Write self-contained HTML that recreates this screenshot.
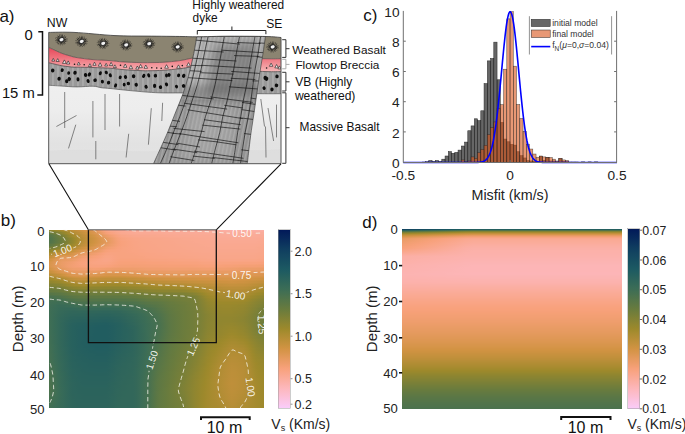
<!DOCTYPE html><html><head><meta charset="utf-8"><style>html,body{margin:0;padding:0;background:#fff;}body{width:685px;height:434px;overflow:hidden;position:relative;font-family:"Liberation Sans", sans-serif;}</style></head><body><div style="position:absolute;left:49.2px;top:229.5px;width:214.8px;height:179px;overflow:hidden"><div style="height:1.49px;background:linear-gradient(90deg,#8d8531 0.0px,#92862f 3.0px,#99882c 6.0px,#a08a2c 9.0px,#a78b2f 12.0px,#ad8c32 15.0px,#b38d35 18.0px,#ba8e38 21.0px,#bf8f3b 24.0px,#c4903d 27.0px,#c9913f 30.0px,#cf9242 33.0px,#d49446 36.0px,#d9964d 39.0px,#de9754 42.0px,#e3995b 45.0px,#e99c66 48.0px,#f19f71 51.0px,#f8a27d 54.0px,#f9a68a 57.0px,#faa890 60.0px,#faa992 63.0px,#faaa94 66.0px,#faaa97 69.0px,#faab98 72.0px,#faab9a 75.0px,#faac9b 78.0px,#fbac9c 81.0px,#fbac9d 84.0px,#fbad9e 87.0px,#fbad9d 90.0px,#fbad9d 93.0px,#fbad9d 96.0px,#fbad9d 99.0px,#fbad9d 102.0px,#fbad9d 105.0px,#fbad9d 108.0px,#fbad9d 111.0px,#fbad9e 114.0px,#fbad9e 117.0px,#fbad9e 120.0px,#fbad9e 123.0px,#fbad9e 126.0px,#fbad9e 129.0px,#fbad9e 132.0px,#fbad9e 135.0px,#fbad9e 138.0px,#fbad9e 141.0px,#fbad9e 144.0px,#fbad9e 147.0px,#fbad9f 150.0px,#fbad9f 153.0px,#fbada0 156.0px,#fbaea0 159.0px,#fbaea1 162.0px,#fbaea2 165.0px,#fbaea2 168.0px,#fbafa3 171.0px,#fbafa4 174.0px,#fbafa4 177.0px,#fbafa5 180.0px,#fbafa5 183.0px,#fbafa5 186.0px,#fbafa5 189.0px,#fbafa5 192.0px,#fbafa5 195.0px,#fbafa5 198.0px,#fbafa5 201.0px,#fbafa5 204.0px,#fbafa5 207.0px,#fbafa5 210.0px,#fbafa5 213.0px,#fbafa5 214.8px)"></div><div style="height:1.49px;background:linear-gradient(90deg,#777f39 0.0px,#7e8136 3.0px,#878333 6.0px,#8f8530 9.0px,#98882d 12.0px,#a18a2d 15.0px,#a98b31 18.0px,#b28d34 21.0px,#b98e38 24.0px,#be8f3a 27.0px,#c4903d 30.0px,#ca913f 33.0px,#d09342 36.0px,#d59447 39.0px,#d9964e 42.0px,#de9755 45.0px,#e59a5f 48.0px,#ec9d6a 51.0px,#f49f75 54.0px,#f8a380 57.0px,#f9a587 60.0px,#f9a68a 63.0px,#f9a78e 66.0px,#faa991 69.0px,#faa994 72.0px,#faaa95 75.0px,#faaa96 78.0px,#faab97 81.0px,#faab98 84.0px,#faab99 87.0px,#faab99 90.0px,#faab99 93.0px,#faab99 96.0px,#faab98 99.0px,#faab98 102.0px,#faab98 105.0px,#faab98 108.0px,#faab99 111.0px,#faab99 114.0px,#faab9a 117.0px,#faab9a 120.0px,#faac9a 123.0px,#faac9a 126.0px,#faac9a 129.0px,#faac9a 132.0px,#faac9a 135.0px,#faac9a 138.0px,#faac9a 141.0px,#faac9a 144.0px,#faac9a 147.0px,#faac9b 150.0px,#faac9b 153.0px,#faac9b 156.0px,#faac9b 159.0px,#fbac9c 162.0px,#fbac9d 165.0px,#fbad9d 168.0px,#fbad9e 171.0px,#fbad9f 174.0px,#fbad9f 177.0px,#fbada0 180.0px,#fbaea0 183.0px,#fbaea0 186.0px,#fbaea0 189.0px,#fbaea0 192.0px,#fbaea0 195.0px,#fbaea0 198.0px,#fbaea0 201.0px,#fbada0 204.0px,#fbada0 207.0px,#fbada0 210.0px,#fbada0 213.0px,#fbada0 214.8px)"></div><div style="height:1.49px;background:linear-gradient(90deg,#667a3f 0.0px,#6c7c3c 3.0px,#767f39 6.0px,#808136 9.0px,#8a8432 12.0px,#94872e 15.0px,#9f892c 18.0px,#a98b30 21.0px,#b28d34 24.0px,#b88e37 27.0px,#be8f3a 30.0px,#c4903d 33.0px,#ca923f 36.0px,#d09342 39.0px,#d59448 42.0px,#da964f 45.0px,#e09858 48.0px,#e79b62 51.0px,#ee9d6d 54.0px,#f5a077 57.0px,#f8a27d 60.0px,#f9a382 63.0px,#f9a587 66.0px,#f9a78b 69.0px,#faa88f 72.0px,#faa890 75.0px,#faa991 78.0px,#faa993 81.0px,#faa994 84.0px,#faaa94 87.0px,#faaa94 90.0px,#faaa94 93.0px,#faa994 96.0px,#faa994 99.0px,#faa994 102.0px,#faa994 105.0px,#faa994 108.0px,#faaa94 111.0px,#faaa95 114.0px,#faaa95 117.0px,#faaa96 120.0px,#faaa96 123.0px,#faaa96 126.0px,#faaa96 129.0px,#faaa96 132.0px,#faaa96 135.0px,#faaa97 138.0px,#faaa97 141.0px,#faaa97 144.0px,#faaa97 147.0px,#faaa97 150.0px,#faaa97 153.0px,#faaa97 156.0px,#faab97 159.0px,#faab98 162.0px,#faab99 165.0px,#faab99 168.0px,#faab9a 171.0px,#faac9a 174.0px,#faac9b 177.0px,#fbac9c 180.0px,#fbac9c 183.0px,#fbac9c 186.0px,#fbac9c 189.0px,#fbac9c 192.0px,#fbac9c 195.0px,#fbac9c 198.0px,#fbac9c 201.0px,#fbac9c 204.0px,#faac9b 207.0px,#faac9b 210.0px,#faac9b 213.0px,#faac9b 214.8px)"></div><div style="height:1.49px;background:linear-gradient(90deg,#5b7745 0.0px,#617942 3.0px,#697b3e 6.0px,#737e3a 9.0px,#7d8136 12.0px,#898432 15.0px,#95872e 18.0px,#a18a2d 21.0px,#aa8c31 24.0px,#b28d34 27.0px,#b88e37 30.0px,#bf8f3b 33.0px,#c6913d 36.0px,#cc9240 39.0px,#d29343 42.0px,#d6954a 45.0px,#dc9752 48.0px,#e3995c 51.0px,#ea9c66 54.0px,#f09e6f 57.0px,#f4a076 60.0px,#f8a17b 63.0px,#f8a380 66.0px,#f9a586 69.0px,#f9a68a 72.0px,#f9a78c 75.0px,#f9a78d 78.0px,#faa88f 81.0px,#faa890 84.0px,#faa891 87.0px,#faa891 90.0px,#faa891 93.0px,#faa891 96.0px,#faa891 99.0px,#faa891 102.0px,#faa891 105.0px,#faa891 108.0px,#faa991 111.0px,#faa992 114.0px,#faa993 117.0px,#faa993 120.0px,#faa993 123.0px,#faa994 126.0px,#faa994 129.0px,#faa994 132.0px,#faa994 135.0px,#faa994 138.0px,#faaa94 141.0px,#faaa94 144.0px,#faaa94 147.0px,#faaa94 150.0px,#faaa95 153.0px,#faaa95 156.0px,#faaa95 159.0px,#faaa95 162.0px,#faaa96 165.0px,#faaa97 168.0px,#faab98 171.0px,#faab98 174.0px,#faab98 177.0px,#faab99 180.0px,#faab99 183.0px,#faab99 186.0px,#faab99 189.0px,#faab99 192.0px,#faab99 195.0px,#faab99 198.0px,#faab99 201.0px,#faab99 204.0px,#faab99 207.0px,#faab99 210.0px,#faab98 213.0px,#faab98 214.8px)"></div><div style="height:1.49px;background:linear-gradient(90deg,#547549 0.0px,#5a7646 3.0px,#617942 6.0px,#697b3e 9.0px,#747e3a 12.0px,#808135 15.0px,#8c8531 18.0px,#98882d 21.0px,#a38a2e 24.0px,#ac8c32 27.0px,#b48d35 30.0px,#bc8f39 33.0px,#c2903c 36.0px,#c8913e 39.0px,#ce9241 42.0px,#d39445 45.0px,#d9964d 48.0px,#df9856 51.0px,#e59a5f 54.0px,#eb9c68 57.0px,#f09e6f 60.0px,#f49f75 63.0px,#f8a17b 66.0px,#f8a381 69.0px,#f9a586 72.0px,#f9a588 75.0px,#f9a689 78.0px,#f9a68b 81.0px,#f9a78d 84.0px,#f9a78e 87.0px,#f9a78e 90.0px,#f9a78e 93.0px,#f9a78e 96.0px,#f9a78e 99.0px,#f9a88e 102.0px,#f9a88e 105.0px,#faa88f 108.0px,#faa88f 111.0px,#faa890 114.0px,#faa890 117.0px,#faa891 120.0px,#faa891 123.0px,#faa991 126.0px,#faa992 129.0px,#faa992 132.0px,#faa992 135.0px,#faa992 138.0px,#faa992 141.0px,#faa993 144.0px,#faa993 147.0px,#faa993 150.0px,#faa993 153.0px,#faa993 156.0px,#faa993 159.0px,#faaa94 162.0px,#faaa95 165.0px,#faaa96 168.0px,#faaa96 171.0px,#faaa97 174.0px,#faaa97 177.0px,#faab97 180.0px,#faab98 183.0px,#faab98 186.0px,#faab98 189.0px,#faab98 192.0px,#faab98 195.0px,#faab98 198.0px,#faab97 201.0px,#faab97 204.0px,#faab97 207.0px,#faaa97 210.0px,#faaa96 213.0px,#faaa96 214.8px)"></div><div style="height:1.49px;background:linear-gradient(90deg,#51744b 0.0px,#567548 3.0px,#5e7844 6.0px,#657a40 9.0px,#6e7d3c 12.0px,#7a8038 15.0px,#858333 18.0px,#91862f 21.0px,#9c892b 24.0px,#a68b2f 27.0px,#b08d33 30.0px,#b98e38 33.0px,#bf8f3a 36.0px,#c5913d 39.0px,#cb9240 42.0px,#d19342 45.0px,#d69549 48.0px,#dc9752 51.0px,#e2995a 54.0px,#e79b62 57.0px,#ec9d69 60.0px,#f09e70 63.0px,#f5a076 66.0px,#f8a27d 69.0px,#f9a382 72.0px,#f9a484 75.0px,#f9a586 78.0px,#f9a587 81.0px,#f9a689 84.0px,#f9a68a 87.0px,#f9a68b 90.0px,#f9a68b 93.0px,#f9a78b 96.0px,#f9a78c 99.0px,#f9a78c 102.0px,#f9a78c 105.0px,#f9a78d 108.0px,#f9a78d 111.0px,#f9a78d 114.0px,#f9a78e 117.0px,#f9a88e 120.0px,#faa88f 123.0px,#faa88f 126.0px,#faa890 129.0px,#faa890 132.0px,#faa890 135.0px,#faa891 138.0px,#faa891 141.0px,#faa891 144.0px,#faa991 147.0px,#faa992 150.0px,#faa992 153.0px,#faa992 156.0px,#faa992 159.0px,#faa993 162.0px,#faa994 165.0px,#faaa94 168.0px,#faaa95 171.0px,#faaa95 174.0px,#faaa95 177.0px,#faaa96 180.0px,#faaa96 183.0px,#faaa96 186.0px,#faaa96 189.0px,#faaa96 192.0px,#faaa96 195.0px,#faaa96 198.0px,#faaa96 201.0px,#faaa96 204.0px,#faaa96 207.0px,#faaa95 210.0px,#faaa94 213.0px,#faa994 214.8px)"></div><div style="height:1.49px;background:linear-gradient(90deg,#4f734c 0.0px,#547549 3.0px,#5c7745 6.0px,#637941 9.0px,#6b7c3d 12.0px,#767f39 15.0px,#808135 18.0px,#8b8431 21.0px,#96872e 24.0px,#a18a2d 27.0px,#ac8c32 30.0px,#b68e36 33.0px,#bd8f3a 36.0px,#c3903c 39.0px,#c9913f 42.0px,#cf9242 45.0px,#d59447 48.0px,#da964f 51.0px,#df9856 54.0px,#e49a5e 57.0px,#e99b65 60.0px,#ee9d6c 63.0px,#f39f73 66.0px,#f7a17a 69.0px,#f8a27f 72.0px,#f8a381 75.0px,#f9a483 78.0px,#f9a485 81.0px,#f9a586 84.0px,#f9a588 87.0px,#f9a588 90.0px,#f9a689 93.0px,#f9a689 96.0px,#f9a68a 99.0px,#f9a68a 102.0px,#f9a68a 105.0px,#f9a68b 108.0px,#f9a68b 111.0px,#f9a78b 114.0px,#f9a78c 117.0px,#f9a78c 120.0px,#f9a78d 123.0px,#f9a78d 126.0px,#f9a78e 129.0px,#f9a88e 132.0px,#faa88f 135.0px,#faa88f 138.0px,#faa88f 141.0px,#faa890 144.0px,#faa890 147.0px,#faa890 150.0px,#faa891 153.0px,#faa891 156.0px,#faa991 159.0px,#faa992 162.0px,#faa993 165.0px,#faa993 168.0px,#faa994 171.0px,#faa994 174.0px,#faa994 177.0px,#faaa94 180.0px,#faaa94 183.0px,#faaa94 186.0px,#faaa94 189.0px,#faaa94 192.0px,#faaa94 195.0px,#faaa94 198.0px,#faaa94 201.0px,#faaa94 204.0px,#faa994 207.0px,#faa993 210.0px,#faa992 213.0px,#faa992 214.8px)"></div><div style="height:1.49px;background:linear-gradient(90deg,#4e734c 0.0px,#537449 3.0px,#5b7745 6.0px,#627941 9.0px,#6a7b3d 12.0px,#747e3a 15.0px,#7e8136 18.0px,#888333 21.0px,#93862f 24.0px,#9f892c 27.0px,#ab8c31 30.0px,#b68e36 33.0px,#bd8f39 36.0px,#c3903c 39.0px,#c9913f 42.0px,#cf9242 45.0px,#d49447 48.0px,#d9964d 51.0px,#de9754 54.0px,#e2995b 57.0px,#e79b62 60.0px,#ec9d69 63.0px,#f19e71 66.0px,#f6a078 69.0px,#f8a27e 72.0px,#f8a380 75.0px,#f8a381 78.0px,#f9a483 81.0px,#f9a485 84.0px,#f9a586 87.0px,#f9a586 90.0px,#f9a587 93.0px,#f9a588 96.0px,#f9a588 99.0px,#f9a689 102.0px,#f9a689 105.0px,#f9a689 108.0px,#f9a68a 111.0px,#f9a68a 114.0px,#f9a68b 117.0px,#f9a68b 120.0px,#f9a78b 123.0px,#f9a78c 126.0px,#f9a78d 129.0px,#f9a78d 132.0px,#f9a78e 135.0px,#f9a78e 138.0px,#f9a88e 141.0px,#faa88f 144.0px,#faa88f 147.0px,#faa88f 150.0px,#faa890 153.0px,#faa890 156.0px,#faa890 159.0px,#faa891 162.0px,#faa992 165.0px,#faa992 168.0px,#faa993 171.0px,#faa993 174.0px,#faa993 177.0px,#faa993 180.0px,#faa993 183.0px,#faa993 186.0px,#faa993 189.0px,#faa993 192.0px,#faa993 195.0px,#faa993 198.0px,#faa993 201.0px,#faa993 204.0px,#faa993 207.0px,#faa992 210.0px,#faa891 213.0px,#faa890 214.8px)"></div><div style="height:1.49px;background:linear-gradient(90deg,#4f734b 0.0px,#557548 3.0px,#5c7745 6.0px,#637941 9.0px,#6b7c3d 12.0px,#757e39 15.0px,#7f8136 18.0px,#898432 21.0px,#94862e 24.0px,#a08a2c 27.0px,#ac8c32 30.0px,#b78e37 33.0px,#be8f3a 36.0px,#c4903d 39.0px,#ca913f 42.0px,#d09342 45.0px,#d59447 48.0px,#d9964d 51.0px,#dd9754 54.0px,#e2995a 57.0px,#e79b61 60.0px,#ec9c69 63.0px,#f19e70 66.0px,#f5a077 69.0px,#f8a17c 72.0px,#f8a27e 75.0px,#f8a380 78.0px,#f9a382 81.0px,#f9a484 84.0px,#f9a485 87.0px,#f9a586 90.0px,#f9a587 93.0px,#f9a587 96.0px,#f9a588 99.0px,#f9a588 102.0px,#f9a689 105.0px,#f9a689 108.0px,#f9a689 111.0px,#f9a68a 114.0px,#f9a68a 117.0px,#f9a68a 120.0px,#f9a68b 123.0px,#f9a78c 126.0px,#f9a78c 129.0px,#f9a78d 132.0px,#f9a78d 135.0px,#f9a78d 138.0px,#f9a78e 141.0px,#f9a78e 144.0px,#faa88f 147.0px,#faa88f 150.0px,#faa88f 153.0px,#faa88f 156.0px,#faa890 159.0px,#faa890 162.0px,#faa891 165.0px,#faa991 168.0px,#faa992 171.0px,#faa992 174.0px,#faa992 177.0px,#faa992 180.0px,#faa992 183.0px,#faa992 186.0px,#faa992 189.0px,#faa992 192.0px,#faa992 195.0px,#faa992 198.0px,#faa992 201.0px,#faa992 204.0px,#faa992 207.0px,#faa891 210.0px,#faa890 213.0px,#faa88f 214.8px)"></div><div style="height:1.49px;background:linear-gradient(90deg,#547549 0.0px,#5a7646 3.0px,#617942 6.0px,#687b3e 9.0px,#717d3b 12.0px,#7a8037 15.0px,#838234 18.0px,#8d8531 21.0px,#97872d 24.0px,#a38a2e 27.0px,#af8c33 30.0px,#b98e38 33.0px,#c0903b 36.0px,#c6913e 39.0px,#cc9240 42.0px,#d29343 45.0px,#d69549 48.0px,#db9650 51.0px,#df9856 54.0px,#e49a5d 57.0px,#e89b64 60.0px,#ed9d6a 63.0px,#f19e71 66.0px,#f5a077 69.0px,#f8a17c 72.0px,#f8a27e 75.0px,#f8a380 78.0px,#f9a382 81.0px,#f9a484 84.0px,#f9a485 87.0px,#f9a586 90.0px,#f9a586 93.0px,#f9a587 96.0px,#f9a587 99.0px,#f9a588 102.0px,#f9a688 105.0px,#f9a689 108.0px,#f9a689 111.0px,#f9a689 114.0px,#f9a68a 117.0px,#f9a68a 120.0px,#f9a68b 123.0px,#f9a68b 126.0px,#f9a78c 129.0px,#f9a78c 132.0px,#f9a78d 135.0px,#f9a78d 138.0px,#f9a78d 141.0px,#f9a78e 144.0px,#f9a78e 147.0px,#f9a88e 150.0px,#faa88f 153.0px,#faa88f 156.0px,#faa88f 159.0px,#faa890 162.0px,#faa890 165.0px,#faa891 168.0px,#faa891 171.0px,#faa891 174.0px,#faa891 177.0px,#faa891 180.0px,#faa891 183.0px,#faa891 186.0px,#faa891 189.0px,#faa891 192.0px,#faa891 195.0px,#faa891 198.0px,#faa891 201.0px,#faa891 204.0px,#faa891 207.0px,#faa890 210.0px,#faa88f 213.0px,#f9a88e 214.8px)"></div><div style="height:1.49px;background:linear-gradient(90deg,#5b7745 0.0px,#617942 3.0px,#697b3e 6.0px,#727e3b 9.0px,#7a8037 12.0px,#838234 15.0px,#8b8431 18.0px,#94872e 21.0px,#9d892b 24.0px,#a88b30 27.0px,#b38d35 30.0px,#bd8f3a 33.0px,#c4903d 36.0px,#ca913f 39.0px,#cf9342 42.0px,#d49447 45.0px,#d9964d 48.0px,#de9754 51.0px,#e2995b 54.0px,#e79b62 57.0px,#eb9c68 60.0px,#ef9e6d 63.0px,#f29f73 66.0px,#f6a078 69.0px,#f8a17c 72.0px,#f8a27e 75.0px,#f8a380 78.0px,#f9a382 81.0px,#f9a483 84.0px,#f9a485 87.0px,#f9a585 90.0px,#f9a586 93.0px,#f9a587 96.0px,#f9a587 99.0px,#f9a588 102.0px,#f9a588 105.0px,#f9a689 108.0px,#f9a689 111.0px,#f9a689 114.0px,#f9a68a 117.0px,#f9a68a 120.0px,#f9a68a 123.0px,#f9a68b 126.0px,#f9a78b 129.0px,#f9a78c 132.0px,#f9a78c 135.0px,#f9a78d 138.0px,#f9a78d 141.0px,#f9a78d 144.0px,#f9a78e 147.0px,#f9a78e 150.0px,#f9a88e 153.0px,#faa88f 156.0px,#faa88f 159.0px,#faa88f 162.0px,#faa890 165.0px,#faa890 168.0px,#faa890 171.0px,#faa890 174.0px,#faa890 177.0px,#faa890 180.0px,#faa890 183.0px,#faa890 186.0px,#faa890 189.0px,#faa890 192.0px,#faa890 195.0px,#faa890 198.0px,#faa890 201.0px,#faa890 204.0px,#faa890 207.0px,#faa88f 210.0px,#f9a78e 213.0px,#f9a78e 214.8px)"></div><div style="height:1.49px;background:linear-gradient(90deg,#657a40 0.0px,#6b7c3d 3.0px,#737e3a 6.0px,#7c8037 9.0px,#858334 12.0px,#8d8531 15.0px,#95872e 18.0px,#9d892b 21.0px,#a68b2f 24.0px,#b08d34 27.0px,#ba8e38 30.0px,#c3903c 33.0px,#c9913f 36.0px,#cf9242 39.0px,#d49446 42.0px,#d8954c 45.0px,#dd9753 48.0px,#e1995a 51.0px,#e69a61 54.0px,#eb9c68 57.0px,#ee9d6d 60.0px,#f19f71 63.0px,#f4a075 66.0px,#f7a17a 69.0px,#f8a27d 72.0px,#f8a27f 75.0px,#f8a380 78.0px,#f9a382 81.0px,#f9a483 84.0px,#f9a485 87.0px,#f9a485 90.0px,#f9a586 93.0px,#f9a586 96.0px,#f9a587 99.0px,#f9a588 102.0px,#f9a588 105.0px,#f9a688 108.0px,#f9a689 111.0px,#f9a689 114.0px,#f9a689 117.0px,#f9a68a 120.0px,#f9a68a 123.0px,#f9a68b 126.0px,#f9a68b 129.0px,#f9a78b 132.0px,#f9a78c 135.0px,#f9a78c 138.0px,#f9a78d 141.0px,#f9a78d 144.0px,#f9a78d 147.0px,#f9a78e 150.0px,#f9a78e 153.0px,#f9a78e 156.0px,#faa88f 159.0px,#faa88f 162.0px,#faa88f 165.0px,#faa88f 168.0px,#faa88f 171.0px,#faa88f 174.0px,#faa88f 177.0px,#faa88f 180.0px,#faa88f 183.0px,#faa88f 186.0px,#faa88f 189.0px,#faa88f 192.0px,#faa88f 195.0px,#faa88f 198.0px,#faa88f 201.0px,#faa88f 204.0px,#faa88f 207.0px,#f9a88e 210.0px,#f9a78d 213.0px,#f9a78d 214.8px)"></div><div style="height:1.49px;background:linear-gradient(90deg,#737e3a 0.0px,#798038 3.0px,#818235 6.0px,#8a8432 9.0px,#92862f 12.0px,#99882c 15.0px,#a18a2d 18.0px,#a88b30 21.0px,#b08d34 24.0px,#b98e38 27.0px,#c2903c 30.0px,#ca923f 33.0px,#d09342 36.0px,#d49447 39.0px,#d8954c 42.0px,#dc9752 45.0px,#e19859 48.0px,#e69a60 51.0px,#ea9c67 54.0px,#ef9e6d 57.0px,#f29f72 60.0px,#f4a075 63.0px,#f6a078 66.0px,#f8a17c 69.0px,#f8a27e 72.0px,#f8a380 75.0px,#f8a381 78.0px,#f9a382 81.0px,#f9a483 84.0px,#f9a484 87.0px,#f9a485 90.0px,#f9a586 93.0px,#f9a586 96.0px,#f9a587 99.0px,#f9a587 102.0px,#f9a588 105.0px,#f9a588 108.0px,#f9a688 111.0px,#f9a689 114.0px,#f9a689 117.0px,#f9a68a 120.0px,#f9a68a 123.0px,#f9a68a 126.0px,#f9a68b 129.0px,#f9a68b 132.0px,#f9a78b 135.0px,#f9a78c 138.0px,#f9a78c 141.0px,#f9a78c 144.0px,#f9a78d 147.0px,#f9a78d 150.0px,#f9a78d 153.0px,#f9a78e 156.0px,#f9a78e 159.0px,#f9a88e 162.0px,#f9a88e 165.0px,#f9a88e 168.0px,#faa88f 171.0px,#faa88f 174.0px,#faa88f 177.0px,#faa88f 180.0px,#faa88f 183.0px,#faa88f 186.0px,#faa88f 189.0px,#faa88f 192.0px,#faa88f 195.0px,#faa88f 198.0px,#faa88f 201.0px,#faa88f 204.0px,#f9a88e 207.0px,#f9a78d 210.0px,#f9a78c 213.0px,#f9a78c 214.8px)"></div><div style="height:1.49px;background:linear-gradient(90deg,#838234 0.0px,#898432 3.0px,#91862f 6.0px,#99882d 9.0px,#a08a2c 12.0px,#a78b2f 15.0px,#ad8c32 18.0px,#b48d35 21.0px,#bb8f39 24.0px,#c3903c 27.0px,#cc9240 30.0px,#d39344 33.0px,#d7954a 36.0px,#da964f 39.0px,#dd9754 42.0px,#e19859 45.0px,#e59a5f 48.0px,#ea9c66 51.0px,#ee9d6d 54.0px,#f39f73 57.0px,#f5a077 60.0px,#f7a179 63.0px,#f8a17b 66.0px,#f8a27e 69.0px,#f8a27f 72.0px,#f8a380 75.0px,#f8a381 78.0px,#f9a382 81.0px,#f9a483 84.0px,#f9a484 87.0px,#f9a485 90.0px,#f9a485 93.0px,#f9a586 96.0px,#f9a587 99.0px,#f9a587 102.0px,#f9a587 105.0px,#f9a588 108.0px,#f9a588 111.0px,#f9a689 114.0px,#f9a689 117.0px,#f9a689 120.0px,#f9a68a 123.0px,#f9a68a 126.0px,#f9a68a 129.0px,#f9a68b 132.0px,#f9a68b 135.0px,#f9a78b 138.0px,#f9a78c 141.0px,#f9a78c 144.0px,#f9a78c 147.0px,#f9a78d 150.0px,#f9a78d 153.0px,#f9a78d 156.0px,#f9a78e 159.0px,#f9a78e 162.0px,#f9a78e 165.0px,#f9a78e 168.0px,#f9a78e 171.0px,#f9a78e 174.0px,#f9a78e 177.0px,#f9a78e 180.0px,#f9a78e 183.0px,#f9a78e 186.0px,#f9a78e 189.0px,#f9a78e 192.0px,#f9a78e 195.0px,#f9a78e 198.0px,#f9a78e 201.0px,#f9a78e 204.0px,#f9a78e 207.0px,#f9a78d 210.0px,#f9a78c 213.0px,#f9a68b 214.8px)"></div><div style="height:1.49px;background:linear-gradient(90deg,#91862f 0.0px,#97872d 3.0px,#9f892c 6.0px,#a78b30 9.0px,#af8c33 12.0px,#b48d36 15.0px,#ba8f38 18.0px,#c0903b 21.0px,#c7913e 24.0px,#cf9241 27.0px,#d59448 30.0px,#da964f 33.0px,#dd9754 36.0px,#e09858 39.0px,#e3995c 42.0px,#e69a60 45.0px,#ea9c66 48.0px,#ee9d6c 51.0px,#f29f73 54.0px,#f7a079 57.0px,#f8a17c 60.0px,#f8a27d 63.0px,#f8a27e 66.0px,#f8a27f 69.0px,#f8a380 72.0px,#f8a381 75.0px,#f8a381 78.0px,#f9a382 81.0px,#f9a483 84.0px,#f9a483 87.0px,#f9a484 90.0px,#f9a485 93.0px,#f9a585 96.0px,#f9a586 99.0px,#f9a586 102.0px,#f9a587 105.0px,#f9a587 108.0px,#f9a588 111.0px,#f9a588 114.0px,#f9a688 117.0px,#f9a689 120.0px,#f9a689 123.0px,#f9a689 126.0px,#f9a68a 129.0px,#f9a68a 132.0px,#f9a68a 135.0px,#f9a68b 138.0px,#f9a68b 141.0px,#f9a78b 144.0px,#f9a78c 147.0px,#f9a78c 150.0px,#f9a78c 153.0px,#f9a78d 156.0px,#f9a78d 159.0px,#f9a78d 162.0px,#f9a78d 165.0px,#f9a78d 168.0px,#f9a78d 171.0px,#f9a78d 174.0px,#f9a78d 177.0px,#f9a78d 180.0px,#f9a78d 183.0px,#f9a78d 186.0px,#f9a78d 189.0px,#f9a78d 192.0px,#f9a78d 195.0px,#f9a78d 198.0px,#f9a78d 201.0px,#f9a78d 204.0px,#f9a78d 207.0px,#f9a78c 210.0px,#f9a68b 213.0px,#f9a68a 214.8px)"></div><div style="height:1.49px;background:linear-gradient(90deg,#9e892b 0.0px,#a48a2e 3.0px,#ad8c32 6.0px,#b68e36 9.0px,#bd8f39 12.0px,#c2903c 15.0px,#c6913e 18.0px,#cb9240 21.0px,#d19343 24.0px,#d7954a 27.0px,#dd9752 30.0px,#e1995a 33.0px,#e49a5e 36.0px,#e69b61 39.0px,#e99b65 42.0px,#eb9c68 45.0px,#ee9d6d 48.0px,#f29f72 51.0px,#f6a078 54.0px,#f8a27d 57.0px,#f8a380 60.0px,#f8a380 63.0px,#f8a380 66.0px,#f8a380 69.0px,#f8a380 72.0px,#f8a380 75.0px,#f8a381 78.0px,#f9a382 81.0px,#f9a382 84.0px,#f9a483 87.0px,#f9a483 90.0px,#f9a484 93.0px,#f9a485 96.0px,#f9a485 99.0px,#f9a586 102.0px,#f9a586 105.0px,#f9a587 108.0px,#f9a587 111.0px,#f9a587 114.0px,#f9a588 117.0px,#f9a588 120.0px,#f9a588 123.0px,#f9a689 126.0px,#f9a689 129.0px,#f9a689 132.0px,#f9a68a 135.0px,#f9a68a 138.0px,#f9a68a 141.0px,#f9a68b 144.0px,#f9a68b 147.0px,#f9a68b 150.0px,#f9a78c 153.0px,#f9a78c 156.0px,#f9a78c 159.0px,#f9a78c 162.0px,#f9a78c 165.0px,#f9a78c 168.0px,#f9a78c 171.0px,#f9a78c 174.0px,#f9a78c 177.0px,#f9a78c 180.0px,#f9a78c 183.0px,#f9a78c 186.0px,#f9a78c 189.0px,#f9a78c 192.0px,#f9a78c 195.0px,#f9a78c 198.0px,#f9a78c 201.0px,#f9a78c 204.0px,#f9a78c 207.0px,#f9a68b 210.0px,#f9a68a 213.0px,#f9a689 214.8px)"></div><div style="height:1.49px;background:linear-gradient(90deg,#aa8b31 0.0px,#b18d34 3.0px,#ba8f38 6.0px,#c4903c 9.0px,#ca9240 12.0px,#ce9241 15.0px,#d29343 18.0px,#d49446 21.0px,#d8954c 24.0px,#dd9753 27.0px,#e2995b 30.0px,#e79b62 33.0px,#ea9c66 36.0px,#ec9c69 39.0px,#ee9d6c 42.0px,#f09e6f 45.0px,#f39f73 48.0px,#f6a078 51.0px,#f8a17c 54.0px,#f8a381 57.0px,#f9a382 60.0px,#f8a381 63.0px,#f8a381 66.0px,#f8a380 69.0px,#f8a380 72.0px,#f8a380 75.0px,#f8a381 78.0px,#f8a381 81.0px,#f8a381 84.0px,#f9a382 87.0px,#f9a483 90.0px,#f9a483 93.0px,#f9a484 96.0px,#f9a484 99.0px,#f9a485 102.0px,#f9a485 105.0px,#f9a586 108.0px,#f9a586 111.0px,#f9a586 114.0px,#f9a587 117.0px,#f9a587 120.0px,#f9a587 123.0px,#f9a588 126.0px,#f9a588 129.0px,#f9a688 132.0px,#f9a689 135.0px,#f9a689 138.0px,#f9a689 141.0px,#f9a68a 144.0px,#f9a68a 147.0px,#f9a68a 150.0px,#f9a68b 153.0px,#f9a68b 156.0px,#f9a68b 159.0px,#f9a78b 162.0px,#f9a78b 165.0px,#f9a78b 168.0px,#f9a78b 171.0px,#f9a78b 174.0px,#f9a78b 177.0px,#f9a78b 180.0px,#f9a78b 183.0px,#f9a78b 186.0px,#f9a78b 189.0px,#f9a78b 192.0px,#f9a78b 195.0px,#f9a78b 198.0px,#f9a78b 201.0px,#f9a78b 204.0px,#f9a68b 207.0px,#f9a68a 210.0px,#f9a689 213.0px,#f9a689 214.8px)"></div><div style="height:1.49px;background:linear-gradient(90deg,#b58d36 0.0px,#bd8f39 3.0px,#c7913e 6.0px,#d19342 9.0px,#d69449 12.0px,#d8954b 15.0px,#d9964d 18.0px,#db9650 21.0px,#de9754 24.0px,#e3995b 27.0px,#e89b63 30.0px,#ec9d69 33.0px,#ee9d6d 36.0px,#f09e70 39.0px,#f29f72 42.0px,#f4a075 45.0px,#f6a078 48.0px,#f8a17c 51.0px,#f8a380 54.0px,#f9a483 57.0px,#f9a484 60.0px,#f9a483 63.0px,#f8a381 66.0px,#f8a380 69.0px,#f8a380 72.0px,#f8a380 75.0px,#f8a380 78.0px,#f8a380 81.0px,#f8a381 84.0px,#f8a381 87.0px,#f9a382 90.0px,#f9a482 93.0px,#f9a483 96.0px,#f9a484 99.0px,#f9a484 102.0px,#f9a485 105.0px,#f9a485 108.0px,#f9a485 111.0px,#f9a586 114.0px,#f9a586 117.0px,#f9a586 120.0px,#f9a587 123.0px,#f9a587 126.0px,#f9a587 129.0px,#f9a588 132.0px,#f9a588 135.0px,#f9a688 138.0px,#f9a689 141.0px,#f9a689 144.0px,#f9a689 147.0px,#f9a68a 150.0px,#f9a68a 153.0px,#f9a68a 156.0px,#f9a68a 159.0px,#f9a68a 162.0px,#f9a68a 165.0px,#f9a68a 168.0px,#f9a68a 171.0px,#f9a68a 174.0px,#f9a68a 177.0px,#f9a68a 180.0px,#f9a68a 183.0px,#f9a68a 186.0px,#f9a68a 189.0px,#f9a68a 192.0px,#f9a68a 195.0px,#f9a68a 198.0px,#f9a68a 201.0px,#f9a68a 204.0px,#f9a68a 207.0px,#f9a689 210.0px,#f9a688 213.0px,#f9a588 214.8px)"></div><div style="height:1.49px;background:linear-gradient(90deg,#bf8f3a 0.0px,#c7913e 3.0px,#d29343 6.0px,#d9964e 9.0px,#de9755 12.0px,#df9856 15.0px,#e09857 18.0px,#e09858 21.0px,#e3995c 24.0px,#e79b63 27.0px,#ec9d6a 30.0px,#f09e70 33.0px,#f29f73 36.0px,#f49f75 39.0px,#f5a077 42.0px,#f7a179 45.0px,#f8a17c 48.0px,#f8a27f 51.0px,#f9a482 54.0px,#f9a585 57.0px,#f9a585 60.0px,#f9a484 63.0px,#f9a382 66.0px,#f8a380 69.0px,#f8a380 72.0px,#f8a380 75.0px,#f8a380 78.0px,#f8a380 81.0px,#f8a380 84.0px,#f8a380 87.0px,#f8a381 90.0px,#f8a381 93.0px,#f9a382 96.0px,#f9a483 99.0px,#f9a483 102.0px,#f9a484 105.0px,#f9a484 108.0px,#f9a484 111.0px,#f9a485 114.0px,#f9a485 117.0px,#f9a585 120.0px,#f9a586 123.0px,#f9a586 126.0px,#f9a586 129.0px,#f9a587 132.0px,#f9a587 135.0px,#f9a587 138.0px,#f9a588 141.0px,#f9a588 144.0px,#f9a688 147.0px,#f9a689 150.0px,#f9a689 153.0px,#f9a689 156.0px,#f9a68a 159.0px,#f9a68a 162.0px,#f9a68a 165.0px,#f9a68a 168.0px,#f9a68a 171.0px,#f9a68a 174.0px,#f9a68a 177.0px,#f9a68a 180.0px,#f9a68a 183.0px,#f9a68a 186.0px,#f9a68a 189.0px,#f9a68a 192.0px,#f9a68a 195.0px,#f9a68a 198.0px,#f9a68a 201.0px,#f9a68a 204.0px,#f9a689 207.0px,#f9a688 210.0px,#f9a587 213.0px,#f9a587 214.8px)"></div><div style="height:1.49px;background:linear-gradient(90deg,#c8913e 0.0px,#d09342 3.0px,#d8954b 6.0px,#df9856 9.0px,#e3995c 12.0px,#e49a5e 15.0px,#e59a5f 18.0px,#e59a60 21.0px,#e89b63 24.0px,#ec9d69 27.0px,#f09e6f 30.0px,#f49f75 33.0px,#f5a077 36.0px,#f7a079 39.0px,#f8a17b 42.0px,#f8a27d 45.0px,#f8a27f 48.0px,#f9a382 51.0px,#f9a485 54.0px,#f9a587 57.0px,#f9a587 60.0px,#f9a485 63.0px,#f9a382 66.0px,#f8a380 69.0px,#f8a27f 72.0px,#f8a27f 75.0px,#f8a27f 78.0px,#f8a27f 81.0px,#f8a27f 84.0px,#f8a27f 87.0px,#f8a37f 90.0px,#f8a380 93.0px,#f8a381 96.0px,#f8a381 99.0px,#f9a382 102.0px,#f9a382 105.0px,#f9a482 108.0px,#f9a483 111.0px,#f9a483 114.0px,#f9a483 117.0px,#f9a484 120.0px,#f9a484 123.0px,#f9a484 126.0px,#f9a485 129.0px,#f9a485 132.0px,#f9a485 135.0px,#f9a586 138.0px,#f9a586 141.0px,#f9a586 144.0px,#f9a587 147.0px,#f9a587 150.0px,#f9a588 153.0px,#f9a588 156.0px,#f9a689 159.0px,#f9a689 162.0px,#f9a689 165.0px,#f9a689 168.0px,#f9a689 171.0px,#f9a689 174.0px,#f9a689 177.0px,#f9a689 180.0px,#f9a689 183.0px,#f9a689 186.0px,#f9a689 189.0px,#f9a689 192.0px,#f9a689 195.0px,#f9a689 198.0px,#f9a689 201.0px,#f9a689 204.0px,#f9a688 207.0px,#f9a587 210.0px,#f9a586 213.0px,#f9a586 214.8px)"></div><div style="height:1.49px;background:linear-gradient(90deg,#d09342 0.0px,#d59448 3.0px,#dc9751 6.0px,#e2995a 9.0px,#e69a61 12.0px,#e89b63 15.0px,#e99b64 18.0px,#ea9c66 21.0px,#ec9d69 24.0px,#ef9e6e 27.0px,#f39f73 30.0px,#f6a078 33.0px,#f7a17a 36.0px,#f8a17c 39.0px,#f8a27e 42.0px,#f8a380 45.0px,#f9a382 48.0px,#f9a484 51.0px,#f9a586 54.0px,#f9a588 57.0px,#f9a587 60.0px,#f9a484 63.0px,#f8a381 66.0px,#f8a27f 69.0px,#f8a27d 72.0px,#f8a27d 75.0px,#f8a27d 78.0px,#f8a27d 81.0px,#f8a27d 84.0px,#f8a27d 87.0px,#f8a27e 90.0px,#f8a27e 93.0px,#f8a27f 96.0px,#f8a27f 99.0px,#f8a380 102.0px,#f8a380 105.0px,#f8a380 108.0px,#f8a381 111.0px,#f8a381 114.0px,#f8a381 117.0px,#f9a382 120.0px,#f9a382 123.0px,#f9a382 126.0px,#f9a482 129.0px,#f9a483 132.0px,#f9a483 135.0px,#f9a483 138.0px,#f9a483 141.0px,#f9a484 144.0px,#f9a484 147.0px,#f9a485 150.0px,#f9a586 153.0px,#f9a586 156.0px,#f9a587 159.0px,#f9a587 162.0px,#f9a587 165.0px,#f9a587 168.0px,#f9a587 171.0px,#f9a587 174.0px,#f9a587 177.0px,#f9a587 180.0px,#f9a587 183.0px,#f9a587 186.0px,#f9a587 189.0px,#f9a587 192.0px,#f9a586 195.0px,#f9a586 198.0px,#f9a586 201.0px,#f9a586 204.0px,#f9a586 207.0px,#f9a485 210.0px,#f9a484 213.0px,#f9a484 214.8px)"></div><div style="height:1.49px;background:linear-gradient(90deg,#d49446 0.0px,#d9954d 3.0px,#de9855 6.0px,#e49a5e 9.0px,#e89b64 12.0px,#ea9c67 15.0px,#ec9d69 18.0px,#ee9d6c 21.0px,#f09e6f 24.0px,#f29f73 27.0px,#f5a077 30.0px,#f7a17a 33.0px,#f8a17c 36.0px,#f8a27e 39.0px,#f8a380 42.0px,#f9a382 45.0px,#f9a484 48.0px,#f9a485 51.0px,#f9a586 54.0px,#f9a587 57.0px,#f9a585 60.0px,#f9a483 63.0px,#f8a380 66.0px,#f8a27d 69.0px,#f8a17b 72.0px,#f8a17b 75.0px,#f8a17b 78.0px,#f8a17b 81.0px,#f8a17b 84.0px,#f8a17b 87.0px,#f8a17b 90.0px,#f8a17c 93.0px,#f8a17c 96.0px,#f8a27d 99.0px,#f8a27d 102.0px,#f8a27e 105.0px,#f8a27e 108.0px,#f8a27e 111.0px,#f8a27e 114.0px,#f8a27f 117.0px,#f8a27f 120.0px,#f8a27f 123.0px,#f8a380 126.0px,#f8a380 129.0px,#f8a380 132.0px,#f8a380 135.0px,#f8a380 138.0px,#f8a381 141.0px,#f8a381 144.0px,#f8a381 147.0px,#f9a382 150.0px,#f9a483 153.0px,#f9a484 156.0px,#f9a484 159.0px,#f9a484 162.0px,#f9a484 165.0px,#f9a484 168.0px,#f9a484 171.0px,#f9a484 174.0px,#f9a484 177.0px,#f9a484 180.0px,#f9a483 183.0px,#f9a483 186.0px,#f9a483 189.0px,#f9a483 192.0px,#f9a483 195.0px,#f9a483 198.0px,#f9a483 201.0px,#f9a483 204.0px,#f9a483 207.0px,#f9a382 210.0px,#f8a381 213.0px,#f8a380 214.8px)"></div><div style="height:1.49px;background:linear-gradient(90deg,#d7954a 0.0px,#db9650 3.0px,#e09858 6.0px,#e59a60 9.0px,#e99c65 12.0px,#ec9c69 15.0px,#ee9d6c 18.0px,#f09e6f 21.0px,#f29f72 24.0px,#f4a076 27.0px,#f7a179 30.0px,#f8a17c 33.0px,#f8a27e 36.0px,#f8a380 39.0px,#f8a381 42.0px,#f9a483 45.0px,#f9a483 48.0px,#f9a484 51.0px,#f9a484 54.0px,#f9a484 57.0px,#f9a483 60.0px,#f8a380 63.0px,#f8a27e 66.0px,#f8a17b 69.0px,#f7a17a 72.0px,#f7a179 75.0px,#f7a179 78.0px,#f7a179 81.0px,#f7a179 84.0px,#f7a179 87.0px,#f7a17a 90.0px,#f7a17a 93.0px,#f8a17a 96.0px,#f8a17b 99.0px,#f8a17b 102.0px,#f8a17b 105.0px,#f8a17b 108.0px,#f8a17c 111.0px,#f8a17c 114.0px,#f8a17c 117.0px,#f8a27d 120.0px,#f8a27d 123.0px,#f8a27d 126.0px,#f8a27d 129.0px,#f8a27d 132.0px,#f8a27e 135.0px,#f8a27e 138.0px,#f8a27e 141.0px,#f8a27e 144.0px,#f8a27e 147.0px,#f8a27f 150.0px,#f8a380 153.0px,#f8a381 156.0px,#f8a381 159.0px,#f8a381 162.0px,#f8a381 165.0px,#f8a381 168.0px,#f8a381 171.0px,#f8a380 174.0px,#f8a380 177.0px,#f8a380 180.0px,#f8a27f 183.0px,#f8a27f 186.0px,#f8a27f 189.0px,#f8a27e 192.0px,#f8a27e 195.0px,#f8a27e 198.0px,#f8a27e 201.0px,#f8a27e 204.0px,#f8a27e 207.0px,#f8a27d 210.0px,#f8a17c 213.0px,#f8a17b 214.8px)"></div><div style="height:1.49px;background:linear-gradient(90deg,#d9954d 0.0px,#dc9752 3.0px,#e19959 6.0px,#e69a60 9.0px,#ea9c66 12.0px,#ec9d69 15.0px,#ef9e6d 18.0px,#f19e71 21.0px,#f39f74 24.0px,#f5a077 27.0px,#f7a17a 30.0px,#f8a27d 33.0px,#f8a27e 36.0px,#f8a27f 39.0px,#f8a380 42.0px,#f8a381 45.0px,#f9a382 48.0px,#f9a382 51.0px,#f9a382 54.0px,#f8a381 57.0px,#f8a380 60.0px,#f8a27e 63.0px,#f8a17b 66.0px,#f7a179 69.0px,#f6a078 72.0px,#f6a078 75.0px,#f6a078 78.0px,#f6a077 81.0px,#f5a077 84.0px,#f5a077 87.0px,#f6a078 90.0px,#f6a078 93.0px,#f6a078 96.0px,#f6a079 99.0px,#f7a079 102.0px,#f7a179 105.0px,#f7a179 108.0px,#f7a179 111.0px,#f7a17a 114.0px,#f7a17a 117.0px,#f8a17a 120.0px,#f8a17a 123.0px,#f8a17b 126.0px,#f8a17b 129.0px,#f8a17b 132.0px,#f8a17b 135.0px,#f8a17b 138.0px,#f8a17b 141.0px,#f8a17b 144.0px,#f8a17c 147.0px,#f8a17c 150.0px,#f8a27d 153.0px,#f8a27e 156.0px,#f8a27e 159.0px,#f8a27e 162.0px,#f8a27e 165.0px,#f8a27d 168.0px,#f8a27d 171.0px,#f8a17c 174.0px,#f8a17c 177.0px,#f8a17c 180.0px,#f8a17b 183.0px,#f8a17b 186.0px,#f8a17a 189.0px,#f7a17a 192.0px,#f7a179 195.0px,#f7a179 198.0px,#f7a179 201.0px,#f7a179 204.0px,#f7a179 207.0px,#f6a078 210.0px,#f6a077 213.0px,#f5a077 214.8px)"></div><div style="height:1.49px;background:linear-gradient(90deg,#d8954c 0.0px,#dc9751 3.0px,#e09858 6.0px,#e59a5f 9.0px,#e99b65 12.0px,#ec9c69 15.0px,#ef9e6d 18.0px,#f19f71 21.0px,#f39f74 24.0px,#f5a076 27.0px,#f6a078 30.0px,#f7a17a 33.0px,#f8a17b 36.0px,#f8a27d 39.0px,#f8a27e 42.0px,#f8a27f 45.0px,#f8a27f 48.0px,#f8a27f 51.0px,#f8a27e 54.0px,#f8a27e 57.0px,#f8a17c 60.0px,#f8a17a 63.0px,#f6a079 66.0px,#f5a077 69.0px,#f4a076 72.0px,#f4a075 75.0px,#f4a075 78.0px,#f4a075 81.0px,#f49f75 84.0px,#f4a075 87.0px,#f4a075 90.0px,#f5a076 93.0px,#f5a076 96.0px,#f5a077 99.0px,#f5a077 102.0px,#f5a077 105.0px,#f5a077 108.0px,#f5a077 111.0px,#f6a077 114.0px,#f6a078 117.0px,#f6a078 120.0px,#f6a078 123.0px,#f6a078 126.0px,#f6a078 129.0px,#f6a078 132.0px,#f6a078 135.0px,#f6a078 138.0px,#f6a078 141.0px,#f6a079 144.0px,#f7a079 147.0px,#f7a179 150.0px,#f7a17a 153.0px,#f8a17b 156.0px,#f8a17b 159.0px,#f8a17b 162.0px,#f8a17a 165.0px,#f7a17a 168.0px,#f7a179 171.0px,#f7a079 174.0px,#f6a078 177.0px,#f6a078 180.0px,#f6a078 183.0px,#f5a077 186.0px,#f5a076 189.0px,#f4a075 192.0px,#f49f75 195.0px,#f49f75 198.0px,#f49f75 201.0px,#f49f75 204.0px,#f49f74 207.0px,#f39f74 210.0px,#f29f73 213.0px,#f29f72 214.8px)"></div><div style="height:1.49px;background:linear-gradient(90deg,#d69449 0.0px,#da964e 3.0px,#de9855 6.0px,#e3995c 9.0px,#e79b62 12.0px,#ea9c67 15.0px,#ed9d6b 18.0px,#f09e6f 21.0px,#f29f72 24.0px,#f39f73 27.0px,#f39f74 30.0px,#f4a075 33.0px,#f5a077 36.0px,#f6a078 39.0px,#f7a17a 42.0px,#f8a17b 45.0px,#f8a17b 48.0px,#f7a17a 51.0px,#f7a179 54.0px,#f6a078 57.0px,#f5a077 60.0px,#f4a075 63.0px,#f39f74 66.0px,#f29f73 69.0px,#f29f72 72.0px,#f29f72 75.0px,#f29f72 78.0px,#f29f71 81.0px,#f19f71 84.0px,#f29f72 87.0px,#f29f72 90.0px,#f29f73 93.0px,#f39f73 96.0px,#f39f74 99.0px,#f39f74 102.0px,#f39f74 105.0px,#f39f74 108.0px,#f49f74 111.0px,#f49f75 114.0px,#f49f75 117.0px,#f4a075 120.0px,#f4a075 123.0px,#f4a075 126.0px,#f4a075 129.0px,#f4a075 132.0px,#f4a075 135.0px,#f4a075 138.0px,#f4a075 141.0px,#f4a075 144.0px,#f4a076 147.0px,#f5a076 150.0px,#f5a077 153.0px,#f5a077 156.0px,#f6a078 159.0px,#f5a077 162.0px,#f5a077 165.0px,#f5a076 168.0px,#f4a076 171.0px,#f4a075 174.0px,#f49f75 177.0px,#f39f74 180.0px,#f39f73 183.0px,#f29f72 186.0px,#f29f71 189.0px,#f19e70 192.0px,#f09e6f 195.0px,#f09e6f 198.0px,#f09e6f 201.0px,#f09e6f 204.0px,#f09e6f 207.0px,#ef9e6e 210.0px,#ef9e6d 213.0px,#ee9d6d 214.8px)"></div><div style="height:1.49px;background:linear-gradient(90deg,#d39344 0.0px,#d6954a 3.0px,#db9651 6.0px,#e09858 9.0px,#e49a5e 12.0px,#e79b62 15.0px,#ea9c66 18.0px,#ed9d6a 21.0px,#ef9e6d 24.0px,#ef9e6e 27.0px,#f09e6f 30.0px,#f09e70 33.0px,#f19f71 36.0px,#f29f72 39.0px,#f39f74 42.0px,#f4a075 45.0px,#f49f74 48.0px,#f39f73 51.0px,#f19f71 54.0px,#f09e70 57.0px,#f09e6f 60.0px,#ef9e6e 63.0px,#ee9d6d 66.0px,#ee9d6c 69.0px,#ed9d6b 72.0px,#ee9d6c 75.0px,#ee9d6c 78.0px,#ee9d6c 81.0px,#ee9d6c 84.0px,#ee9d6d 87.0px,#ef9e6d 90.0px,#ef9e6e 93.0px,#f09e6f 96.0px,#f09e70 99.0px,#f19e70 102.0px,#f19e70 105.0px,#f19e70 108.0px,#f19e70 111.0px,#f19e71 114.0px,#f19e71 117.0px,#f19f71 120.0px,#f19f71 123.0px,#f19f71 126.0px,#f19f71 129.0px,#f19f71 132.0px,#f19f71 135.0px,#f19f71 138.0px,#f19e71 141.0px,#f19e71 144.0px,#f19e71 147.0px,#f19f71 150.0px,#f29f72 153.0px,#f29f72 156.0px,#f29f73 159.0px,#f29f72 162.0px,#f29f72 165.0px,#f19f71 168.0px,#f19e71 171.0px,#f19e70 174.0px,#f09e70 177.0px,#f09e6f 180.0px,#ef9e6e 183.0px,#ef9e6d 186.0px,#ee9d6c 189.0px,#ed9d6b 192.0px,#ec9d6a 195.0px,#ec9d69 198.0px,#ec9d69 201.0px,#ec9c69 204.0px,#ec9c69 207.0px,#eb9c68 210.0px,#eb9c67 213.0px,#ea9c67 214.8px)"></div><div style="height:1.49px;background:linear-gradient(90deg,#cd9241 0.0px,#d29343 3.0px,#d7954b 6.0px,#dc9752 9.0px,#e09857 12.0px,#e3995c 15.0px,#e69a60 18.0px,#e99b64 21.0px,#eb9c67 24.0px,#eb9c68 27.0px,#ec9d69 30.0px,#ec9d6a 33.0px,#ed9d6b 36.0px,#ee9d6c 39.0px,#ee9d6c 42.0px,#ef9e6d 45.0px,#ee9d6c 48.0px,#ed9d6a 51.0px,#eb9c68 54.0px,#ea9c66 57.0px,#e99c66 60.0px,#e99c65 63.0px,#e99b65 66.0px,#e99b64 69.0px,#e99b64 72.0px,#e99b65 75.0px,#e99c65 78.0px,#ea9c66 81.0px,#ea9c66 84.0px,#ea9c67 87.0px,#eb9c68 90.0px,#ec9c69 93.0px,#ec9d6a 96.0px,#ed9d6b 99.0px,#ed9d6b 102.0px,#ed9d6b 105.0px,#ed9d6b 108.0px,#ed9d6b 111.0px,#ed9d6b 114.0px,#ee9d6c 117.0px,#ee9d6c 120.0px,#ee9d6c 123.0px,#ee9d6c 126.0px,#ee9d6c 129.0px,#ee9d6c 132.0px,#ee9d6c 135.0px,#ee9d6c 138.0px,#ed9d6b 141.0px,#ed9d6b 144.0px,#ed9d6b 147.0px,#ed9d6b 150.0px,#ee9d6c 153.0px,#ee9d6c 156.0px,#ee9d6c 159.0px,#ee9d6c 162.0px,#ee9d6c 165.0px,#ed9d6b 168.0px,#ed9d6b 171.0px,#ed9d6a 174.0px,#ec9d6a 177.0px,#ec9d69 180.0px,#ec9c69 183.0px,#eb9c67 186.0px,#ea9c66 189.0px,#e99b65 192.0px,#e89b64 195.0px,#e89b63 198.0px,#e89b63 201.0px,#e89b63 204.0px,#e79b63 207.0px,#e79b62 210.0px,#e79b61 213.0px,#e69b61 214.8px)"></div><div style="height:1.49px;background:linear-gradient(90deg,#c6913e 0.0px,#cb9240 3.0px,#d19343 6.0px,#d69448 9.0px,#da964e 12.0px,#dd9754 15.0px,#e19859 18.0px,#e49a5e 21.0px,#e69b61 24.0px,#e79b62 27.0px,#e89b63 30.0px,#e89b64 33.0px,#e99b64 36.0px,#e99b64 39.0px,#e99b64 42.0px,#e99b64 45.0px,#e89b63 48.0px,#e69a61 51.0px,#e59a5f 54.0px,#e49a5d 57.0px,#e3995c 60.0px,#e3995c 63.0px,#e3995c 66.0px,#e3995c 69.0px,#e4995d 72.0px,#e49a5e 75.0px,#e59a5e 78.0px,#e59a5f 81.0px,#e69a60 84.0px,#e69b61 87.0px,#e79b62 90.0px,#e89b63 93.0px,#e89b64 96.0px,#e99b65 99.0px,#e99c65 102.0px,#e99c65 105.0px,#e99c65 108.0px,#ea9c66 111.0px,#ea9c66 114.0px,#ea9c66 117.0px,#ea9c66 120.0px,#ea9c66 123.0px,#ea9c66 126.0px,#ea9c66 129.0px,#ea9c66 132.0px,#ea9c66 135.0px,#ea9c66 138.0px,#e99c65 141.0px,#e99c65 144.0px,#e99b65 147.0px,#e99c65 150.0px,#e99c65 153.0px,#e99c66 156.0px,#ea9c66 159.0px,#e99c66 162.0px,#e99c65 165.0px,#e99c65 168.0px,#e99b65 171.0px,#e99b64 174.0px,#e89b64 177.0px,#e89b63 180.0px,#e89b63 183.0px,#e79b62 186.0px,#e69a60 189.0px,#e59a5f 192.0px,#e49a5e 195.0px,#e49a5d 198.0px,#e49a5d 201.0px,#e4995d 204.0px,#e3995d 207.0px,#e3995c 210.0px,#e3995b 213.0px,#e2995b 214.8px)"></div><div style="height:1.49px;background:linear-gradient(90deg,#bf8f3a 0.0px,#c3903c 3.0px,#c8913f 6.0px,#ce9241 9.0px,#d39344 12.0px,#d7954a 15.0px,#db9650 18.0px,#df9856 21.0px,#e2995a 24.0px,#e3995c 27.0px,#e4995d 30.0px,#e49a5e 33.0px,#e49a5d 36.0px,#e3995d 39.0px,#e3995c 42.0px,#e3995b 45.0px,#e1995a 48.0px,#e09858 51.0px,#df9856 54.0px,#dd9754 57.0px,#dd9753 60.0px,#dd9754 63.0px,#dd9754 66.0px,#dd9754 69.0px,#de9754 72.0px,#df9856 75.0px,#df9857 78.0px,#e09858 81.0px,#e19959 84.0px,#e2995a 87.0px,#e3995b 90.0px,#e3995d 93.0px,#e49a5e 96.0px,#e59a5f 99.0px,#e59a5f 102.0px,#e59a60 105.0px,#e69a60 108.0px,#e69a60 111.0px,#e69a60 114.0px,#e69a60 117.0px,#e69a60 120.0px,#e69a61 123.0px,#e69a61 126.0px,#e69a61 129.0px,#e69a61 132.0px,#e69a61 135.0px,#e69a60 138.0px,#e59a60 141.0px,#e59a5f 144.0px,#e59a5f 147.0px,#e59a5f 150.0px,#e59a5f 153.0px,#e59a5f 156.0px,#e59a5f 159.0px,#e59a5f 162.0px,#e59a5f 165.0px,#e59a5f 168.0px,#e59a5f 171.0px,#e59a5e 174.0px,#e49a5e 177.0px,#e49a5e 180.0px,#e49a5d 183.0px,#e3995c 186.0px,#e2995b 189.0px,#e1995a 192.0px,#e19859 195.0px,#e09858 198.0px,#e09858 201.0px,#e09857 204.0px,#e09857 207.0px,#df9856 210.0px,#df9856 213.0px,#de9855 214.8px)"></div><div style="height:1.49px;background:linear-gradient(90deg,#b78e37 0.0px,#ba8f38 3.0px,#bf8f3b 6.0px,#c4903d 9.0px,#ca913f 12.0px,#d09342 15.0px,#d59447 18.0px,#d9964d 21.0px,#dc9752 24.0px,#dd9754 27.0px,#de9855 30.0px,#df9856 33.0px,#df9855 36.0px,#de9754 39.0px,#dd9753 42.0px,#dc9752 45.0px,#db9650 48.0px,#da964f 51.0px,#d9954d 54.0px,#d7954b 57.0px,#d7954a 60.0px,#d7954a 63.0px,#d7954b 66.0px,#d7954b 69.0px,#d8954b 72.0px,#d8954d 75.0px,#d9964e 78.0px,#da964f 81.0px,#db9650 84.0px,#dc9752 87.0px,#dd9753 90.0px,#de9755 93.0px,#df9856 96.0px,#e09858 99.0px,#e09858 102.0px,#e19859 105.0px,#e19959 108.0px,#e19959 111.0px,#e1995a 114.0px,#e1995a 117.0px,#e2995a 120.0px,#e2995a 123.0px,#e2995a 126.0px,#e2995a 129.0px,#e2995b 132.0px,#e2995a 135.0px,#e1995a 138.0px,#e19959 141.0px,#e19859 144.0px,#e19858 147.0px,#e19858 150.0px,#e19859 153.0px,#e19859 156.0px,#e19859 159.0px,#e19859 162.0px,#e19859 165.0px,#e19859 168.0px,#e19859 171.0px,#e19859 174.0px,#e19858 177.0px,#e09858 180.0px,#e09858 183.0px,#e09857 186.0px,#df9856 189.0px,#de9755 192.0px,#dd9754 195.0px,#dd9753 198.0px,#dd9753 201.0px,#dc9752 204.0px,#dc9751 207.0px,#db9651 210.0px,#db9650 213.0px,#da964f 214.8px)"></div><div style="height:1.49px;background:linear-gradient(90deg,#af8c33 0.0px,#b28d35 3.0px,#b78e37 6.0px,#bb8f39 9.0px,#c0903b 12.0px,#c6913e 15.0px,#cd9241 18.0px,#d39344 21.0px,#d69448 24.0px,#d7954a 27.0px,#d8954c 30.0px,#d9964d 33.0px,#d8954c 36.0px,#d8954b 39.0px,#d7954a 42.0px,#d69448 45.0px,#d59447 48.0px,#d39445 51.0px,#d29343 54.0px,#d19343 57.0px,#d09342 60.0px,#d19342 63.0px,#d19342 66.0px,#d19342 69.0px,#d19343 72.0px,#d29343 75.0px,#d39345 78.0px,#d49446 81.0px,#d59447 84.0px,#d69449 87.0px,#d7954a 90.0px,#d8954c 93.0px,#d9964d 96.0px,#da964f 99.0px,#db9650 102.0px,#db9650 105.0px,#db9651 108.0px,#dc9751 111.0px,#dc9752 114.0px,#dc9752 117.0px,#dc9752 120.0px,#dd9752 123.0px,#dd9753 126.0px,#dd9753 129.0px,#dd9753 132.0px,#dd9753 135.0px,#dd9753 138.0px,#dd9753 141.0px,#dc9752 144.0px,#dc9752 147.0px,#dc9752 150.0px,#dc9752 153.0px,#dc9752 156.0px,#dc9752 159.0px,#dd9753 162.0px,#dd9753 165.0px,#dd9753 168.0px,#dd9753 171.0px,#dd9753 174.0px,#dd9753 177.0px,#dd9753 180.0px,#dd9753 183.0px,#dc9752 186.0px,#dc9751 189.0px,#db9650 192.0px,#da964f 195.0px,#da964f 198.0px,#d9964e 201.0px,#d9954d 204.0px,#d8954c 207.0px,#d7954b 210.0px,#d7954a 213.0px,#d7954a 214.8px)"></div><div style="height:1.49px;background:linear-gradient(90deg,#a78b30 0.0px,#aa8c31 3.0px,#ae8c33 6.0px,#b28d34 9.0px,#b78e37 12.0px,#bd8f39 15.0px,#c3903c 18.0px,#c9913f 21.0px,#ce9241 24.0px,#d09342 27.0px,#d29343 30.0px,#d39344 33.0px,#d29343 36.0px,#d19342 39.0px,#cf9242 42.0px,#ce9241 45.0px,#cd9241 48.0px,#cb9240 51.0px,#ca913f 54.0px,#c9913f 57.0px,#c8913f 60.0px,#c8913f 63.0px,#c8913f 66.0px,#c8913f 69.0px,#c9913f 72.0px,#ca913f 75.0px,#cb9240 78.0px,#cc9240 81.0px,#cd9241 84.0px,#ce9241 87.0px,#d09342 90.0px,#d19343 93.0px,#d29344 96.0px,#d39445 99.0px,#d49446 102.0px,#d59447 105.0px,#d59448 108.0px,#d59448 111.0px,#d69449 114.0px,#d69549 117.0px,#d7954a 120.0px,#d7954a 123.0px,#d7954b 126.0px,#d7954b 129.0px,#d8954b 132.0px,#d8954c 135.0px,#d8954c 138.0px,#d8954b 141.0px,#d8954b 144.0px,#d8954b 147.0px,#d8954c 150.0px,#d8954c 153.0px,#d8954c 156.0px,#d8954c 159.0px,#d9954d 162.0px,#d9964d 165.0px,#d9964e 168.0px,#d9964e 171.0px,#da964e 174.0px,#da964e 177.0px,#da964e 180.0px,#da964e 183.0px,#d9964e 186.0px,#d9954d 189.0px,#d8954c 192.0px,#d7954b 195.0px,#d7954a 198.0px,#d69449 201.0px,#d59448 204.0px,#d49447 207.0px,#d49446 210.0px,#d39344 213.0px,#d39344 214.8px)"></div><div style="height:1.49px;background:linear-gradient(90deg,#a08a2c 0.0px,#a28a2d 3.0px,#a68b2f 6.0px,#a98b30 9.0px,#ad8c32 12.0px,#b38d35 15.0px,#ba8e38 18.0px,#c0903b 21.0px,#c4903d 24.0px,#c6913e 27.0px,#c8913f 30.0px,#ca913f 33.0px,#c9913f 36.0px,#c7913e 39.0px,#c6913e 42.0px,#c5913d 45.0px,#c4903c 48.0px,#c2903c 51.0px,#c1903b 54.0px,#c0903b 57.0px,#c0903b 60.0px,#c0903b 63.0px,#c0903b 66.0px,#c0903b 69.0px,#c0903b 72.0px,#c1903c 75.0px,#c3903c 78.0px,#c4903c 81.0px,#c5903d 84.0px,#c6913d 87.0px,#c7913e 90.0px,#c8913f 93.0px,#ca913f 96.0px,#cb9240 99.0px,#cc9240 102.0px,#cd9241 105.0px,#ce9241 108.0px,#ce9241 111.0px,#cf9242 114.0px,#d09342 117.0px,#d09342 120.0px,#d19342 123.0px,#d19343 126.0px,#d29343 129.0px,#d29343 132.0px,#d39344 135.0px,#d39344 138.0px,#d39344 141.0px,#d39345 144.0px,#d39345 147.0px,#d49445 150.0px,#d49446 153.0px,#d49446 156.0px,#d49446 159.0px,#d59447 162.0px,#d59447 165.0px,#d59448 168.0px,#d69449 171.0px,#d69449 174.0px,#d69549 177.0px,#d6954a 180.0px,#d7954a 183.0px,#d69549 186.0px,#d69448 189.0px,#d59447 192.0px,#d49446 195.0px,#d49445 198.0px,#d39344 201.0px,#d29343 204.0px,#d09342 207.0px,#cf9242 210.0px,#ce9241 213.0px,#cd9241 214.8px)"></div><div style="height:1.49px;background:linear-gradient(90deg,#98882d 0.0px,#9a882c 3.0px,#9d892b 6.0px,#a08a2c 9.0px,#a48a2e 12.0px,#aa8b31 15.0px,#b08d34 18.0px,#b68e36 21.0px,#ba8f38 24.0px,#bc8f39 27.0px,#be8f3a 30.0px,#c0903b 33.0px,#bf8f3a 36.0px,#be8f3a 39.0px,#bd8f39 42.0px,#bc8f39 45.0px,#bb8f38 48.0px,#ba8e38 51.0px,#b98e38 54.0px,#b88e37 57.0px,#b88e37 60.0px,#b88e37 63.0px,#b88e37 66.0px,#b88e37 69.0px,#b88e37 72.0px,#b98e38 75.0px,#ba8f38 78.0px,#bb8f39 81.0px,#bc8f39 84.0px,#bd8f3a 87.0px,#bf8f3a 90.0px,#c0903b 93.0px,#c1903b 96.0px,#c2903c 99.0px,#c3903c 102.0px,#c4903d 105.0px,#c5913d 108.0px,#c6913e 111.0px,#c7913e 114.0px,#c7913e 117.0px,#c8913f 120.0px,#c9913f 123.0px,#c9913f 126.0px,#ca913f 129.0px,#cb9240 132.0px,#cb9240 135.0px,#cc9240 138.0px,#cc9240 141.0px,#cd9241 144.0px,#cd9241 147.0px,#ce9241 150.0px,#ce9241 153.0px,#cf9242 156.0px,#cf9242 159.0px,#d09342 162.0px,#d19342 165.0px,#d19343 168.0px,#d29343 171.0px,#d39344 174.0px,#d39344 177.0px,#d39345 180.0px,#d39445 183.0px,#d39344 186.0px,#d29344 189.0px,#d29343 192.0px,#d19343 195.0px,#d09342 198.0px,#ce9241 201.0px,#cd9241 204.0px,#cb9240 207.0px,#ca913f 210.0px,#c8913f 213.0px,#c8913e 214.8px)"></div><div style="height:1.49px;background:linear-gradient(90deg,#908630 0.0px,#92862f 3.0px,#95872e 6.0px,#97882d 9.0px,#9b892c 12.0px,#a18a2d 15.0px,#a78b2f 18.0px,#ac8c32 21.0px,#b18d34 24.0px,#b38d35 27.0px,#b58d36 30.0px,#b68e36 33.0px,#b58e36 36.0px,#b48d36 39.0px,#b38d35 42.0px,#b28d35 45.0px,#b28d34 48.0px,#b18d34 51.0px,#b08d34 54.0px,#b08d33 57.0px,#af8c33 60.0px,#af8c33 63.0px,#af8c33 66.0px,#af8c33 69.0px,#b08d34 72.0px,#b18d34 75.0px,#b28d34 78.0px,#b38d35 81.0px,#b48d35 84.0px,#b58e36 87.0px,#b68e36 90.0px,#b78e37 93.0px,#b88e37 96.0px,#ba8e38 99.0px,#bb8f38 102.0px,#bc8f39 105.0px,#bd8f3a 108.0px,#be8f3a 111.0px,#bf8f3a 114.0px,#bf8f3b 117.0px,#c0903b 120.0px,#c1903b 123.0px,#c1903c 126.0px,#c2903c 129.0px,#c3903c 132.0px,#c4903d 135.0px,#c4903d 138.0px,#c5913d 141.0px,#c6913e 144.0px,#c7913e 147.0px,#c8913e 150.0px,#c8913f 153.0px,#c9913f 156.0px,#ca913f 159.0px,#ca9240 162.0px,#cb9240 165.0px,#cc9240 168.0px,#cd9241 171.0px,#ce9241 174.0px,#ce9241 177.0px,#cf9242 180.0px,#d09342 183.0px,#cf9242 186.0px,#ce9241 189.0px,#ce9241 192.0px,#cd9241 195.0px,#cb9240 198.0px,#ca913f 201.0px,#c8913e 204.0px,#c6913e 207.0px,#c4903d 210.0px,#c3903c 213.0px,#c2903c 214.8px)"></div><div style="height:1.49px;background:linear-gradient(90deg,#898432 0.0px,#8a8432 3.0px,#8d8531 6.0px,#8f8530 9.0px,#92862f 12.0px,#98882d 15.0px,#9e892b 18.0px,#a38a2e 21.0px,#a78b30 24.0px,#a98b31 27.0px,#ab8c31 30.0px,#ac8c32 33.0px,#ac8c32 36.0px,#ab8c31 39.0px,#aa8c31 42.0px,#aa8b31 45.0px,#a98b30 48.0px,#a88b30 51.0px,#a88b30 54.0px,#a78b30 57.0px,#a78b2f 60.0px,#a78b2f 63.0px,#a78b2f 66.0px,#a78b2f 69.0px,#a78b30 72.0px,#a88b30 75.0px,#a98b31 78.0px,#aa8c31 81.0px,#ab8c32 84.0px,#ad8c32 87.0px,#ae8c33 90.0px,#af8c33 93.0px,#b08d34 96.0px,#b18d34 99.0px,#b28d35 102.0px,#b48d35 105.0px,#b58e36 108.0px,#b68e36 111.0px,#b78e37 114.0px,#b78e37 117.0px,#b88e37 120.0px,#b98e38 123.0px,#ba8e38 126.0px,#ba8f38 129.0px,#bb8f39 132.0px,#bc8f39 135.0px,#bd8f39 138.0px,#be8f3a 141.0px,#bf8f3a 144.0px,#c0903b 147.0px,#c1903b 150.0px,#c2903c 153.0px,#c3903c 156.0px,#c4903d 159.0px,#c5913d 162.0px,#c6913e 165.0px,#c7913e 168.0px,#c8913f 171.0px,#c9913f 174.0px,#ca913f 177.0px,#cb9240 180.0px,#cb9240 183.0px,#cb9240 186.0px,#ca913f 189.0px,#c9913f 192.0px,#c9913f 195.0px,#c7913e 198.0px,#c5913d 201.0px,#c3903c 204.0px,#c1903b 207.0px,#bf8f3a 210.0px,#bd8f3a 213.0px,#bc8f39 214.8px)"></div><div style="height:1.49px;background:linear-gradient(90deg,#818235 0.0px,#838234 3.0px,#848334 6.0px,#878333 9.0px,#8a8432 12.0px,#8f8530 15.0px,#95872e 18.0px,#9a882c 21.0px,#9e892c 24.0px,#a08a2d 27.0px,#a28a2d 30.0px,#a38a2e 33.0px,#a38a2e 36.0px,#a28a2d 39.0px,#a28a2d 42.0px,#a18a2d 45.0px,#a08a2c 48.0px,#9f892c 51.0px,#9f892c 54.0px,#9e892c 57.0px,#9e892b 60.0px,#9e892b 63.0px,#9e892b 66.0px,#9e892b 69.0px,#9e892c 72.0px,#a0892c 75.0px,#a18a2d 78.0px,#a28a2d 81.0px,#a38a2e 84.0px,#a48a2e 87.0px,#a58b2f 90.0px,#a68b2f 93.0px,#a78b30 96.0px,#a98b30 99.0px,#aa8b31 102.0px,#ac8c32 105.0px,#ad8c32 108.0px,#ae8c33 111.0px,#af8c33 114.0px,#af8c33 117.0px,#b08d34 120.0px,#b18d34 123.0px,#b18d34 126.0px,#b28d35 129.0px,#b38d35 132.0px,#b48d35 135.0px,#b58e36 138.0px,#b78e37 141.0px,#b88e37 144.0px,#b98e38 147.0px,#ba8f38 150.0px,#bb8f39 153.0px,#bd8f39 156.0px,#be8f3a 159.0px,#bf8f3b 162.0px,#c1903b 165.0px,#c2903c 168.0px,#c4903c 171.0px,#c4903d 174.0px,#c5913d 177.0px,#c6913e 180.0px,#c7913e 183.0px,#c6913e 186.0px,#c6913d 189.0px,#c5913d 192.0px,#c5903d 195.0px,#c3903c 198.0px,#c1903b 201.0px,#be8f3a 204.0px,#bc8f39 207.0px,#ba8e38 210.0px,#b78e37 213.0px,#b68e36 214.8px)"></div><div style="height:1.49px;background:linear-gradient(90deg,#798038 0.0px,#7b8037 3.0px,#7c8037 6.0px,#7e8136 9.0px,#828235 12.0px,#878333 15.0px,#8c8531 18.0px,#91862f 21.0px,#95872e 24.0px,#97872d 27.0px,#99882c 30.0px,#9a882c 33.0px,#9a882c 36.0px,#99882c 39.0px,#99882d 42.0px,#98882d 45.0px,#97882d 48.0px,#97872d 51.0px,#96872d 54.0px,#95872e 57.0px,#95872e 60.0px,#95872e 63.0px,#95872e 66.0px,#95872e 69.0px,#96872e 72.0px,#97872d 75.0px,#98882d 78.0px,#99882c 81.0px,#9a882c 84.0px,#9b892c 87.0px,#9d892b 90.0px,#9e892b 93.0px,#9f892c 96.0px,#a08a2d 99.0px,#a28a2d 102.0px,#a38a2e 105.0px,#a58a2f 108.0px,#a68b2f 111.0px,#a68b2f 114.0px,#a78b2f 117.0px,#a78b30 120.0px,#a88b30 123.0px,#a98b30 126.0px,#aa8b31 129.0px,#ab8c31 132.0px,#ac8c32 135.0px,#ad8c32 138.0px,#af8c33 141.0px,#b08d34 144.0px,#b28d34 147.0px,#b38d35 150.0px,#b58e36 153.0px,#b78e37 156.0px,#b88e37 159.0px,#ba8e38 162.0px,#bc8f39 165.0px,#bd8f3a 168.0px,#bf8f3a 171.0px,#c0903b 174.0px,#c1903b 177.0px,#c2903c 180.0px,#c2903c 183.0px,#c2903c 186.0px,#c1903c 189.0px,#c1903b 192.0px,#c1903b 195.0px,#bf8f3a 198.0px,#bc8f39 201.0px,#b98e38 204.0px,#b78e37 207.0px,#b48d36 210.0px,#b28d34 213.0px,#b18d34 214.8px)"></div><div style="height:1.49px;background:linear-gradient(90deg,#727e3b 0.0px,#737e3a 3.0px,#747e3a 6.0px,#767f39 9.0px,#798038 12.0px,#7e8136 15.0px,#838234 18.0px,#888333 21.0px,#8c8431 24.0px,#8e8530 27.0px,#908530 30.0px,#91862f 33.0px,#91862f 36.0px,#908630 39.0px,#8f8530 42.0px,#8f8530 45.0px,#8e8530 48.0px,#8e8530 51.0px,#8d8531 54.0px,#8d8531 57.0px,#8d8531 60.0px,#8d8531 63.0px,#8d8531 66.0px,#8d8531 69.0px,#8d8531 72.0px,#8e8530 75.0px,#908530 78.0px,#91862f 81.0px,#92862f 84.0px,#93862f 87.0px,#94872e 90.0px,#95872e 93.0px,#97872d 96.0px,#98882d 99.0px,#9a882c 102.0px,#9b892c 105.0px,#9d892b 108.0px,#9d892b 111.0px,#9e892b 114.0px,#9e892b 117.0px,#9e892c 120.0px,#9f892c 123.0px,#a08a2c 126.0px,#a18a2d 129.0px,#a18a2d 132.0px,#a38a2e 135.0px,#a48a2e 138.0px,#a68b2f 141.0px,#a88b30 144.0px,#aa8b31 147.0px,#ac8c32 150.0px,#ae8c33 153.0px,#b18d34 156.0px,#b38d35 159.0px,#b58d36 162.0px,#b78e37 165.0px,#b88e37 168.0px,#ba8e38 171.0px,#bb8f39 174.0px,#bc8f39 177.0px,#bd8f39 180.0px,#be8f3a 183.0px,#bd8f3a 186.0px,#bd8f3a 189.0px,#bd8f39 192.0px,#bc8f39 195.0px,#ba8f38 198.0px,#b88e37 201.0px,#b58d36 204.0px,#b28d34 207.0px,#af8c33 210.0px,#ad8c32 213.0px,#ab8c32 214.8px)"></div><div style="height:1.49px;background:linear-gradient(90deg,#6a7b3d 0.0px,#6b7c3d 3.0px,#6d7c3c 6.0px,#6e7d3c 9.0px,#717d3b 12.0px,#767f39 15.0px,#7a8038 18.0px,#7e8136 21.0px,#828235 24.0px,#848234 27.0px,#858333 30.0px,#878333 33.0px,#868333 36.0px,#868333 39.0px,#868333 42.0px,#858333 45.0px,#858334 48.0px,#858334 51.0px,#848334 54.0px,#848234 57.0px,#848234 60.0px,#848234 63.0px,#858334 66.0px,#858334 69.0px,#858334 72.0px,#868333 75.0px,#878333 78.0px,#888432 81.0px,#898432 84.0px,#8b8432 87.0px,#8c8431 90.0px,#8d8531 93.0px,#8e8530 96.0px,#908530 99.0px,#91862f 102.0px,#93862f 105.0px,#94872e 108.0px,#95872e 111.0px,#95872e 114.0px,#95872e 117.0px,#95872e 120.0px,#96872e 123.0px,#97872d 126.0px,#97872d 129.0px,#98882d 132.0px,#99882c 135.0px,#9b892c 138.0px,#9d892b 141.0px,#a0892c 144.0px,#a28a2d 147.0px,#a58b2f 150.0px,#a88b30 153.0px,#ab8c31 156.0px,#ae8c33 159.0px,#b08d34 162.0px,#b28d34 165.0px,#b48d35 168.0px,#b68e36 171.0px,#b78e37 174.0px,#b88e37 177.0px,#b88e37 180.0px,#b98e38 183.0px,#b98e38 186.0px,#b98e38 189.0px,#b98e38 192.0px,#b88e37 195.0px,#b68e36 198.0px,#b38d35 201.0px,#b08d34 204.0px,#ad8c32 207.0px,#aa8b31 210.0px,#a78b30 213.0px,#a68b2f 214.8px)"></div><div style="height:1.49px;background:linear-gradient(90deg,#637941 0.0px,#647a40 3.0px,#657a3f 6.0px,#677b3f 9.0px,#697b3e 12.0px,#6d7c3c 15.0px,#717d3b 18.0px,#757f39 21.0px,#787f38 24.0px,#7a8038 27.0px,#7b8037 30.0px,#7c8037 33.0px,#7c8037 36.0px,#7c8037 39.0px,#7c8037 42.0px,#7c8037 45.0px,#7c8037 48.0px,#7c8037 51.0px,#7c8037 54.0px,#7c8037 57.0px,#7c8037 60.0px,#7c8037 63.0px,#7c8037 66.0px,#7d8037 69.0px,#7d8136 72.0px,#7e8136 75.0px,#7f8136 78.0px,#808135 81.0px,#818235 84.0px,#828235 87.0px,#838234 90.0px,#858334 93.0px,#868333 96.0px,#878333 99.0px,#898432 102.0px,#8a8432 105.0px,#8b8431 108.0px,#8c8431 111.0px,#8c8531 114.0px,#8c8531 117.0px,#8c8531 120.0px,#8d8531 123.0px,#8d8531 126.0px,#8e8530 129.0px,#8f8530 132.0px,#908630 135.0px,#92862f 138.0px,#94872e 141.0px,#97872d 144.0px,#9a882c 147.0px,#9e892b 150.0px,#a28a2d 153.0px,#a68b2f 156.0px,#aa8b31 159.0px,#ac8c32 162.0px,#ae8c33 165.0px,#b08d33 168.0px,#b18d34 171.0px,#b28d35 174.0px,#b38d35 177.0px,#b48d35 180.0px,#b58d36 183.0px,#b58d36 186.0px,#b58d36 189.0px,#b58d36 192.0px,#b48d36 195.0px,#b28d35 198.0px,#af8c33 201.0px,#ac8c32 204.0px,#a88b30 207.0px,#a58b2f 210.0px,#a28a2d 213.0px,#a18a2d 214.8px)"></div><div style="height:1.49px;background:linear-gradient(90deg,#5d7744 0.0px,#5e7844 3.0px,#5f7843 6.0px,#607942 9.0px,#627941 12.0px,#667a3f 15.0px,#697b3e 18.0px,#6d7c3c 21.0px,#707d3b 24.0px,#717d3b 27.0px,#727e3a 30.0px,#737e3a 33.0px,#747e3a 36.0px,#747e3a 39.0px,#747e3a 42.0px,#737e3a 45.0px,#747e3a 48.0px,#747e3a 51.0px,#747e3a 54.0px,#747e3a 57.0px,#747e3a 60.0px,#747e3a 63.0px,#747e3a 66.0px,#747e3a 69.0px,#757e39 72.0px,#767f39 75.0px,#777f39 78.0px,#787f38 81.0px,#797f38 84.0px,#7a8038 87.0px,#7b8037 90.0px,#7c8037 93.0px,#7e8136 96.0px,#7f8136 99.0px,#808135 102.0px,#818235 105.0px,#828235 108.0px,#838234 111.0px,#838234 114.0px,#838234 117.0px,#848234 120.0px,#848234 123.0px,#848334 126.0px,#858334 129.0px,#858333 132.0px,#878333 135.0px,#898432 138.0px,#8c8431 141.0px,#8e8530 144.0px,#92862f 147.0px,#97872d 150.0px,#9c892b 153.0px,#a18a2d 156.0px,#a68b2f 159.0px,#a88b30 162.0px,#aa8c31 165.0px,#ac8c32 168.0px,#ae8c33 171.0px,#af8c33 174.0px,#af8c33 177.0px,#b08d34 180.0px,#b18d34 183.0px,#b18d34 186.0px,#b18d34 189.0px,#b18d34 192.0px,#b08d34 195.0px,#ae8c33 198.0px,#ab8c31 201.0px,#a78b30 204.0px,#a48a2e 207.0px,#a08a2d 210.0px,#9d892b 213.0px,#9c892b 214.8px)"></div><div style="height:1.49px;background:linear-gradient(90deg,#567548 0.0px,#577647 3.0px,#597646 6.0px,#5a7746 9.0px,#5c7745 12.0px,#5f7843 15.0px,#627941 18.0px,#667a3f 21.0px,#687b3e 24.0px,#697b3e 27.0px,#6b7c3d 30.0px,#6c7c3d 33.0px,#6c7c3d 36.0px,#6c7c3d 39.0px,#6c7c3d 42.0px,#6c7c3d 45.0px,#6c7c3d 48.0px,#6c7c3d 51.0px,#6c7c3d 54.0px,#6c7c3d 57.0px,#6c7c3d 60.0px,#6c7c3c 63.0px,#6c7c3c 66.0px,#6d7c3c 69.0px,#6d7c3c 72.0px,#6e7d3c 75.0px,#6f7d3b 78.0px,#707d3b 81.0px,#717d3b 84.0px,#727e3a 87.0px,#737e3a 90.0px,#757e39 93.0px,#767f39 96.0px,#777f39 99.0px,#787f38 102.0px,#797f38 105.0px,#7a8038 108.0px,#7a8037 111.0px,#7b8037 114.0px,#7b8037 117.0px,#7c8037 120.0px,#7c8037 123.0px,#7c8037 126.0px,#7d8037 129.0px,#7d8136 132.0px,#7e8136 135.0px,#808135 138.0px,#838234 141.0px,#858334 144.0px,#898432 147.0px,#908530 150.0px,#96872d 153.0px,#9d892b 156.0px,#a28a2d 159.0px,#a58a2f 162.0px,#a78b30 165.0px,#a98b31 168.0px,#ab8c31 171.0px,#ac8c32 174.0px,#ac8c32 177.0px,#ad8c32 180.0px,#ad8c32 183.0px,#ad8c32 186.0px,#ad8c32 189.0px,#ad8c32 192.0px,#ad8c32 195.0px,#aa8b31 198.0px,#a78b2f 201.0px,#a38a2e 204.0px,#9f892c 207.0px,#9c892c 210.0px,#98882d 213.0px,#97872d 214.8px)"></div><div style="height:1.49px;background:linear-gradient(90deg,#50734b 0.0px,#51744b 3.0px,#52744a 6.0px,#547549 9.0px,#567548 12.0px,#597646 15.0px,#5c7744 18.0px,#5f7843 21.0px,#617942 24.0px,#637941 27.0px,#647a40 30.0px,#657a40 33.0px,#657a40 36.0px,#657a40 39.0px,#657a40 42.0px,#657a40 45.0px,#657a40 48.0px,#657a40 51.0px,#657a40 54.0px,#657a40 57.0px,#657a40 60.0px,#657a40 63.0px,#657a3f 66.0px,#657a3f 69.0px,#667a3f 72.0px,#677b3f 75.0px,#677b3e 78.0px,#687b3e 81.0px,#697b3e 84.0px,#6a7c3d 87.0px,#6c7c3d 90.0px,#6e7d3c 93.0px,#6f7d3b 96.0px,#717d3b 99.0px,#727e3b 102.0px,#727e3a 105.0px,#737e3a 108.0px,#747e3a 111.0px,#747e3a 114.0px,#757e39 117.0px,#767f39 120.0px,#767f39 123.0px,#777f39 126.0px,#777f39 129.0px,#777f38 132.0px,#787f38 135.0px,#7a8038 138.0px,#7c8037 141.0px,#7e8136 144.0px,#828235 147.0px,#898432 150.0px,#90862f 153.0px,#98882d 156.0px,#9e892c 159.0px,#a28a2d 162.0px,#a48a2e 165.0px,#a68b2f 168.0px,#a98b30 171.0px,#a98b31 174.0px,#aa8b31 177.0px,#aa8b31 180.0px,#aa8c31 183.0px,#aa8c31 186.0px,#aa8b31 189.0px,#aa8b31 192.0px,#a98b31 195.0px,#a78b2f 198.0px,#a38a2d 201.0px,#9e892c 204.0px,#9a882c 207.0px,#97872d 210.0px,#93862f 213.0px,#91862f 214.8px)"></div><div style="height:1.49px;background:linear-gradient(90deg,#4a714e 0.0px,#4b724e 3.0px,#4c724d 6.0px,#4e734c 9.0px,#50734b 12.0px,#537449 15.0px,#567548 18.0px,#597646 21.0px,#5b7745 24.0px,#5d7744 27.0px,#5e7844 30.0px,#5f7843 33.0px,#5f7843 36.0px,#5f7843 39.0px,#5f7843 42.0px,#5f7843 45.0px,#5f7843 48.0px,#5f7843 51.0px,#5f7843 54.0px,#5f7843 57.0px,#5f7843 60.0px,#5f7843 63.0px,#5f7843 66.0px,#5f7843 69.0px,#5f7843 72.0px,#607942 75.0px,#617942 78.0px,#627941 81.0px,#637941 84.0px,#647a40 87.0px,#667a3f 90.0px,#677b3e 93.0px,#697b3e 96.0px,#6b7c3d 99.0px,#6c7c3d 102.0px,#6d7c3c 105.0px,#6d7c3c 108.0px,#6e7d3c 111.0px,#6f7d3b 114.0px,#707d3b 117.0px,#727e3b 120.0px,#727e3a 123.0px,#737e3a 126.0px,#747e3a 129.0px,#747e3a 132.0px,#757e39 135.0px,#767f39 138.0px,#777f39 141.0px,#787f38 144.0px,#7c8037 147.0px,#848234 150.0px,#8c8431 153.0px,#94872e 156.0px,#9b882c 159.0px,#9e892c 162.0px,#a18a2d 165.0px,#a48a2e 168.0px,#a68b2f 171.0px,#a78b2f 174.0px,#a78b30 177.0px,#a78b30 180.0px,#a88b30 183.0px,#a78b30 186.0px,#a78b2f 189.0px,#a78b2f 192.0px,#a68b2f 195.0px,#a38a2e 198.0px,#9f892c 201.0px,#9a882c 204.0px,#96872e 207.0px,#92862f 210.0px,#8e8530 213.0px,#8d8531 214.8px)"></div><div style="height:1.49px;background:linear-gradient(90deg,#467051 0.0px,#477050 3.0px,#487150 6.0px,#49714f 9.0px,#4a724e 12.0px,#4d734d 15.0px,#50734b 18.0px,#537449 21.0px,#567548 24.0px,#577647 27.0px,#587647 30.0px,#597646 33.0px,#5a7646 36.0px,#5a7646 39.0px,#5a7646 42.0px,#5a7646 45.0px,#5a7646 48.0px,#597646 51.0px,#597646 54.0px,#597646 57.0px,#597646 60.0px,#597646 63.0px,#597646 66.0px,#5a7646 69.0px,#5a7746 72.0px,#5b7745 75.0px,#5b7745 78.0px,#5c7745 81.0px,#5d7744 84.0px,#5e7843 87.0px,#607842 90.0px,#627941 93.0px,#647a40 96.0px,#667a3f 99.0px,#677b3f 102.0px,#677b3e 105.0px,#687b3e 108.0px,#697b3d 111.0px,#6b7c3d 114.0px,#6c7c3c 117.0px,#6e7d3c 120.0px,#6f7d3b 123.0px,#707d3b 126.0px,#717d3b 129.0px,#727e3a 132.0px,#737e3a 135.0px,#747e3a 138.0px,#757e39 141.0px,#767f39 144.0px,#7a8038 147.0px,#818235 150.0px,#898432 153.0px,#91862f 156.0px,#97872d 159.0px,#9b882c 162.0px,#9e892b 165.0px,#a18a2d 168.0px,#a38a2e 171.0px,#a48a2e 174.0px,#a48a2e 177.0px,#a58a2e 180.0px,#a58a2e 183.0px,#a48a2e 186.0px,#a48a2e 189.0px,#a38a2e 192.0px,#a38a2e 195.0px,#9f892c 198.0px,#9b882c 201.0px,#96872e 204.0px,#92862f 207.0px,#8e8530 210.0px,#8a8432 213.0px,#898432 214.8px)"></div><div style="height:1.49px;background:linear-gradient(90deg,#446f52 0.0px,#447052 3.0px,#447052 6.0px,#447052 9.0px,#467051 12.0px,#48714f 15.0px,#4b724e 18.0px,#4e734c 21.0px,#50734b 24.0px,#52744a 27.0px,#537449 30.0px,#547549 33.0px,#557549 36.0px,#557549 39.0px,#557549 42.0px,#557549 45.0px,#557549 48.0px,#547549 51.0px,#547549 54.0px,#547549 57.0px,#547549 60.0px,#547549 63.0px,#547549 66.0px,#557549 69.0px,#557548 72.0px,#557548 75.0px,#567548 78.0px,#577647 81.0px,#577647 84.0px,#597646 87.0px,#5b7745 90.0px,#5d7844 93.0px,#5f7843 96.0px,#617942 99.0px,#627941 102.0px,#637941 105.0px,#647a40 108.0px,#657a40 111.0px,#677b3f 114.0px,#687b3e 117.0px,#6a7c3d 120.0px,#6c7c3d 123.0px,#6d7c3c 126.0px,#6f7d3c 129.0px,#707d3b 132.0px,#727e3b 135.0px,#737e3a 138.0px,#747e3a 141.0px,#757f39 144.0px,#797f38 147.0px,#808135 150.0px,#878333 153.0px,#8e8530 156.0px,#95872e 159.0px,#98882d 162.0px,#9b892c 165.0px,#9e892c 168.0px,#a18a2d 171.0px,#a18a2d 174.0px,#a28a2d 177.0px,#a28a2d 180.0px,#a28a2d 183.0px,#a18a2d 186.0px,#a18a2d 189.0px,#a08a2c 192.0px,#9f892c 195.0px,#9c892b 198.0px,#97872d 201.0px,#92862f 204.0px,#8e8530 207.0px,#8a8432 210.0px,#878333 213.0px,#868333 214.8px)"></div><div style="height:1.49px;background:linear-gradient(90deg,#426f53 0.0px,#426f53 3.0px,#416f53 6.0px,#416f53 9.0px,#416f53 12.0px,#447052 15.0px,#467050 18.0px,#49714f 21.0px,#4b724e 24.0px,#4d724d 27.0px,#4e734c 30.0px,#50734b 33.0px,#50734b 36.0px,#50734b 39.0px,#50734b 42.0px,#50734b 45.0px,#50734b 48.0px,#50734b 51.0px,#4f734b 54.0px,#4f734b 57.0px,#4f734b 60.0px,#4f734b 63.0px,#50734b 66.0px,#50734b 69.0px,#50734b 72.0px,#51744b 75.0px,#51744a 78.0px,#52744a 81.0px,#53744a 84.0px,#547549 87.0px,#567548 90.0px,#587647 93.0px,#5b7745 96.0px,#5d7744 99.0px,#5e7844 102.0px,#5f7843 105.0px,#607843 108.0px,#617942 111.0px,#637941 114.0px,#657a3f 117.0px,#677b3e 120.0px,#697b3e 123.0px,#6b7c3d 126.0px,#6d7c3c 129.0px,#6e7d3c 132.0px,#707d3b 135.0px,#727e3b 138.0px,#737e3a 141.0px,#757e39 144.0px,#787f38 147.0px,#7f8136 150.0px,#868333 153.0px,#8d8531 156.0px,#93862f 159.0px,#96872d 162.0px,#99882c 165.0px,#9c892b 168.0px,#9e892c 171.0px,#9f892c 174.0px,#9f892c 177.0px,#9f892c 180.0px,#9f892c 183.0px,#9e892c 186.0px,#9e892b 189.0px,#9d892b 192.0px,#9c892b 195.0px,#99882d 198.0px,#94872e 201.0px,#908530 204.0px,#8b8431 207.0px,#888333 210.0px,#858334 213.0px,#838234 214.8px)"></div><div style="height:1.49px;background:linear-gradient(90deg,#416f53 0.0px,#406e54 3.0px,#3f6e54 6.0px,#3e6d55 9.0px,#3e6e55 12.0px,#406e54 15.0px,#426f53 18.0px,#446f52 21.0px,#467051 24.0px,#487150 27.0px,#4a714f 30.0px,#4b724e 33.0px,#4b724e 36.0px,#4b724e 39.0px,#4b724e 42.0px,#4b724e 45.0px,#4b724e 48.0px,#4b724e 51.0px,#4b724e 54.0px,#4a724e 57.0px,#4a724e 60.0px,#4b724e 63.0px,#4b724e 66.0px,#4b724e 69.0px,#4b724e 72.0px,#4c724d 75.0px,#4c724d 78.0px,#4d724d 81.0px,#4e734c 84.0px,#4f734c 87.0px,#51744a 90.0px,#547549 93.0px,#567548 96.0px,#587646 99.0px,#5a7646 102.0px,#5b7745 105.0px,#5c7745 108.0px,#5e7844 111.0px,#607942 114.0px,#637941 117.0px,#657a40 120.0px,#677b3f 123.0px,#697b3e 126.0px,#6b7c3d 129.0px,#6d7c3c 132.0px,#6e7d3c 135.0px,#707d3b 138.0px,#727e3a 141.0px,#747e3a 144.0px,#787f38 147.0px,#7e8136 150.0px,#858334 153.0px,#8b8431 156.0px,#91862f 159.0px,#94872e 162.0px,#97872d 165.0px,#9a882c 168.0px,#9c892b 171.0px,#9c892b 174.0px,#9c892b 177.0px,#9c892b 180.0px,#9c892b 183.0px,#9b892c 186.0px,#9b882c 189.0px,#9a882c 192.0px,#99882d 195.0px,#95872e 198.0px,#91862f 201.0px,#8d8531 204.0px,#898432 207.0px,#868333 210.0px,#828235 213.0px,#808135 214.8px)"></div><div style="height:1.49px;background:linear-gradient(90deg,#406e54 0.0px,#3f6e55 3.0px,#3d6d56 6.0px,#3b6c56 9.0px,#3b6c56 12.0px,#3c6d56 15.0px,#3d6d55 18.0px,#3f6e54 21.0px,#416f53 24.0px,#436f52 27.0px,#457051 30.0px,#467050 33.0px,#467050 36.0px,#467050 39.0px,#467050 42.0px,#467050 45.0px,#467050 48.0px,#467051 51.0px,#457051 54.0px,#457051 57.0px,#457051 60.0px,#457051 63.0px,#467051 66.0px,#467051 69.0px,#467050 72.0px,#477150 75.0px,#487150 78.0px,#48714f 81.0px,#49714f 84.0px,#4a724e 87.0px,#4d724d 90.0px,#50734b 93.0px,#52744a 96.0px,#547549 99.0px,#567548 102.0px,#587647 105.0px,#597646 108.0px,#5c7745 111.0px,#5e7843 114.0px,#617942 117.0px,#647a40 120.0px,#667a3f 123.0px,#677b3e 126.0px,#697b3e 129.0px,#6b7c3d 132.0px,#6d7c3c 135.0px,#6f7d3b 138.0px,#717d3b 141.0px,#737e3a 144.0px,#777f39 147.0px,#7d8136 150.0px,#848234 153.0px,#8a8432 156.0px,#908630 159.0px,#93862f 162.0px,#95872e 165.0px,#98882d 168.0px,#9a882c 171.0px,#9a882c 174.0px,#9a882c 177.0px,#9a882c 180.0px,#9a882c 183.0px,#99882c 186.0px,#98882d 189.0px,#97872d 192.0px,#96872e 195.0px,#93862f 198.0px,#8f8530 201.0px,#8b8431 204.0px,#878333 207.0px,#838234 210.0px,#7f8136 213.0px,#7e8136 214.8px)"></div><div style="height:1.49px;background:linear-gradient(90deg,#3f6e54 0.0px,#3e6d55 3.0px,#3b6d56 6.0px,#396b57 9.0px,#396b57 12.0px,#396b57 15.0px,#3a6c57 18.0px,#3b6c56 21.0px,#3c6d56 24.0px,#3e6e55 27.0px,#406e54 30.0px,#416f53 33.0px,#416f53 36.0px,#416f53 39.0px,#416f53 42.0px,#416f53 45.0px,#416e53 48.0px,#406e54 51.0px,#406e54 54.0px,#406e54 57.0px,#406e54 60.0px,#406e54 63.0px,#406e54 66.0px,#416f53 69.0px,#416f53 72.0px,#426f53 75.0px,#436f52 78.0px,#446f52 81.0px,#457051 84.0px,#467050 87.0px,#49714f 90.0px,#4b724e 93.0px,#4e734c 96.0px,#51744b 99.0px,#53744a 102.0px,#557548 105.0px,#577647 108.0px,#5a7646 111.0px,#5d7744 114.0px,#607843 117.0px,#637941 120.0px,#657a40 123.0px,#667b3f 126.0px,#687b3e 129.0px,#6a7c3d 132.0px,#6c7c3c 135.0px,#6f7d3c 138.0px,#717d3b 141.0px,#737e3a 144.0px,#777f39 147.0px,#7d8037 150.0px,#838234 153.0px,#898432 156.0px,#8f8530 159.0px,#91862f 162.0px,#94872e 165.0px,#96872d 168.0px,#98882d 171.0px,#99882d 174.0px,#99882d 177.0px,#99882d 180.0px,#98882d 183.0px,#97882d 186.0px,#96872d 189.0px,#95872e 192.0px,#94872e 195.0px,#91862f 198.0px,#8d8531 201.0px,#898432 204.0px,#858334 207.0px,#818235 210.0px,#7d8136 213.0px,#7b8037 214.8px)"></div><div style="height:1.49px;background:linear-gradient(90deg,#3f6e54 0.0px,#3d6d55 3.0px,#3b6c56 6.0px,#396b57 9.0px,#376a58 12.0px,#376a58 15.0px,#386a58 18.0px,#386a58 21.0px,#386b57 24.0px,#3a6c57 27.0px,#3b6c56 30.0px,#3c6d56 33.0px,#3c6d56 36.0px,#3c6d56 39.0px,#3c6d56 42.0px,#3b6d56 45.0px,#3b6d56 48.0px,#3b6c56 51.0px,#3b6c57 54.0px,#3a6c57 57.0px,#3b6c57 60.0px,#3b6c56 63.0px,#3b6d56 66.0px,#3c6d56 69.0px,#3c6d56 72.0px,#3d6d55 75.0px,#3f6e55 78.0px,#406e54 81.0px,#416f53 84.0px,#436f52 87.0px,#457051 90.0px,#487150 93.0px,#4a724e 96.0px,#4d724d 99.0px,#4f734b 102.0px,#52744a 105.0px,#557549 108.0px,#587647 111.0px,#5b7745 114.0px,#5e7843 117.0px,#617942 120.0px,#647a40 123.0px,#667a3f 126.0px,#687b3e 129.0px,#6a7c3d 132.0px,#6c7c3d 135.0px,#6e7d3c 138.0px,#707d3b 141.0px,#727e3a 144.0px,#767f39 147.0px,#7c8037 150.0px,#828235 153.0px,#888333 156.0px,#8d8531 159.0px,#908630 162.0px,#93862f 165.0px,#95872e 168.0px,#97872d 171.0px,#98882d 174.0px,#98882d 177.0px,#98882d 180.0px,#97872d 183.0px,#96872d 186.0px,#95872e 189.0px,#94872e 192.0px,#93862f 195.0px,#8f8530 198.0px,#8b8431 201.0px,#878333 204.0px,#838234 207.0px,#7f8136 210.0px,#7a8037 213.0px,#787f38 214.8px)"></div><div style="height:1.49px;background:linear-gradient(90deg,#3f6e54 0.0px,#3d6d56 3.0px,#3a6c57 6.0px,#386b57 9.0px,#366a58 12.0px,#366958 15.0px,#356959 18.0px,#356959 21.0px,#356959 24.0px,#366958 27.0px,#376a58 30.0px,#386b58 33.0px,#386b58 36.0px,#386a58 39.0px,#386a58 42.0px,#376a58 45.0px,#376a58 48.0px,#376a58 51.0px,#366a58 54.0px,#366a58 57.0px,#366a58 60.0px,#376a58 63.0px,#376a58 66.0px,#386a58 69.0px,#386b57 72.0px,#3a6c57 75.0px,#3b6c56 78.0px,#3c6d56 81.0px,#3e6d55 84.0px,#3f6e54 87.0px,#426f53 90.0px,#447052 93.0px,#477050 96.0px,#49714f 99.0px,#4c724d 102.0px,#4f734c 105.0px,#52744a 108.0px,#567548 111.0px,#597646 114.0px,#5d7744 117.0px,#607942 120.0px,#637941 123.0px,#657a40 126.0px,#677b3e 129.0px,#6a7b3d 132.0px,#6c7c3d 135.0px,#6e7d3c 138.0px,#707d3b 141.0px,#727e3a 144.0px,#757f39 147.0px,#7b8037 150.0px,#818235 153.0px,#878333 156.0px,#8c8531 159.0px,#8f8530 162.0px,#92862f 165.0px,#94872e 168.0px,#96872d 171.0px,#97872d 174.0px,#97872d 177.0px,#97872d 180.0px,#96872d 183.0px,#95872e 186.0px,#94872e 189.0px,#93862f 192.0px,#92862f 195.0px,#8e8530 198.0px,#8a8432 201.0px,#858333 204.0px,#818235 207.0px,#7c8037 210.0px,#787f38 213.0px,#767f39 214.8px)"></div><div style="height:1.49px;background:linear-gradient(90deg,#3f6e54 0.0px,#3d6d56 3.0px,#3a6c57 6.0px,#386a58 9.0px,#366958 12.0px,#356959 15.0px,#346859 18.0px,#336859 21.0px,#33675a 24.0px,#336859 27.0px,#346859 30.0px,#346859 33.0px,#346859 36.0px,#346859 39.0px,#346859 42.0px,#336859 45.0px,#336859 48.0px,#336759 51.0px,#32675a 54.0px,#32675a 57.0px,#32675a 60.0px,#336859 63.0px,#336859 66.0px,#346859 69.0px,#356959 72.0px,#366a58 75.0px,#386b58 78.0px,#396b57 81.0px,#3b6c56 84.0px,#3c6d56 87.0px,#3f6e54 90.0px,#416f53 93.0px,#446f52 96.0px,#467050 99.0px,#49714f 102.0px,#4d724d 105.0px,#50734b 108.0px,#547549 111.0px,#587647 114.0px,#5c7745 117.0px,#5f7843 120.0px,#627941 123.0px,#657a40 126.0px,#677b3f 129.0px,#697b3e 132.0px,#6c7c3d 135.0px,#6e7c3c 138.0px,#707d3b 141.0px,#727e3b 144.0px,#757e39 147.0px,#7a8037 150.0px,#808135 153.0px,#868333 156.0px,#8b8432 159.0px,#8e8530 162.0px,#90862f 165.0px,#93862f 168.0px,#95872e 171.0px,#96872e 174.0px,#96872e 177.0px,#96872e 180.0px,#95872e 183.0px,#94872e 186.0px,#93862f 189.0px,#92862f 192.0px,#908630 195.0px,#8d8531 198.0px,#888432 201.0px,#848234 204.0px,#7f8136 207.0px,#7a8037 210.0px,#767f39 213.0px,#737e3a 214.8px)"></div><div style="height:1.49px;background:linear-gradient(90deg,#3f6e54 0.0px,#3c6d56 3.0px,#3a6c57 6.0px,#376a58 9.0px,#356959 12.0px,#346859 15.0px,#33675a 18.0px,#31675a 21.0px,#31665a 24.0px,#31665a 27.0px,#31675a 30.0px,#31675a 33.0px,#31665a 36.0px,#31665a 39.0px,#30665a 42.0px,#30665a 45.0px,#30665b 48.0px,#2f665b 51.0px,#2f655b 54.0px,#2f655b 57.0px,#2f655b 60.0px,#30665b 63.0px,#30665a 66.0px,#31665a 69.0px,#32675a 72.0px,#346859 75.0px,#356959 78.0px,#376a58 81.0px,#386b57 84.0px,#3a6c57 87.0px,#3c6d56 90.0px,#3f6e54 93.0px,#426f53 96.0px,#447051 99.0px,#487150 102.0px,#4b724e 105.0px,#4e734c 108.0px,#52744a 111.0px,#567548 114.0px,#5a7745 117.0px,#5e7843 120.0px,#617942 123.0px,#647a40 126.0px,#667a3f 129.0px,#697b3e 132.0px,#6b7c3d 135.0px,#6d7c3c 138.0px,#6f7d3b 141.0px,#717d3b 144.0px,#757e39 147.0px,#7a8038 150.0px,#7f8136 153.0px,#858334 156.0px,#898432 159.0px,#8d8531 162.0px,#8f8530 165.0px,#92862f 168.0px,#94872e 171.0px,#95872e 174.0px,#95872e 177.0px,#95872e 180.0px,#95872e 183.0px,#93862e 186.0px,#92862f 189.0px,#91862f 192.0px,#8f8530 195.0px,#8c8431 198.0px,#878333 201.0px,#828235 204.0px,#7d8137 207.0px,#787f38 210.0px,#747e3a 213.0px,#717d3b 214.8px)"></div><div style="height:1.49px;background:linear-gradient(90deg,#3f6e54 0.0px,#3c6d56 3.0px,#396b57 6.0px,#376a58 9.0px,#346859 12.0px,#336859 15.0px,#32675a 18.0px,#30665a 21.0px,#30665b 24.0px,#30665b 27.0px,#2f665b 30.0px,#2f655b 33.0px,#2f655b 36.0px,#2f655b 39.0px,#2e655b 42.0px,#2e655b 45.0px,#2e645b 48.0px,#2d645c 51.0px,#2d645c 54.0px,#2d645c 57.0px,#2d645c 60.0px,#2e655b 63.0px,#2e655b 66.0px,#2f655b 69.0px,#30665a 72.0px,#32675a 75.0px,#336859 78.0px,#356959 81.0px,#366a58 84.0px,#386b57 87.0px,#3a6c57 90.0px,#3d6d56 93.0px,#406e54 96.0px,#436f52 99.0px,#467051 102.0px,#49714f 105.0px,#4c724d 108.0px,#50734b 111.0px,#557549 114.0px,#597646 117.0px,#5d7844 120.0px,#617942 123.0px,#637941 126.0px,#667a3f 129.0px,#697b3e 132.0px,#6b7c3d 135.0px,#6d7c3c 138.0px,#6f7d3b 141.0px,#717d3b 144.0px,#757e39 147.0px,#7a8038 150.0px,#7f8136 153.0px,#848234 156.0px,#888432 159.0px,#8b8431 162.0px,#8e8530 165.0px,#91862f 168.0px,#94862e 171.0px,#94872e 174.0px,#94872e 177.0px,#94872e 180.0px,#94872e 183.0px,#92862f 186.0px,#91862f 189.0px,#908530 192.0px,#8e8530 195.0px,#8a8432 198.0px,#858334 201.0px,#808135 204.0px,#7b8037 207.0px,#777f39 210.0px,#727e3a 213.0px,#707d3b 214.8px)"></div><div style="height:1.49px;background:linear-gradient(90deg,#3f6e54 0.0px,#3c6d56 3.0px,#396b57 6.0px,#366958 9.0px,#346859 12.0px,#32675a 15.0px,#31665a 18.0px,#2f665b 21.0px,#2f655b 24.0px,#2e655b 27.0px,#2e655b 30.0px,#2e655b 33.0px,#2e645b 36.0px,#2d645c 39.0px,#2d645c 42.0px,#2c645c 45.0px,#2c635c 48.0px,#2c635c 51.0px,#2b635c 54.0px,#2b635c 57.0px,#2b635c 60.0px,#2c645c 63.0px,#2d645c 66.0px,#2e655b 69.0px,#2f655b 72.0px,#30665a 75.0px,#32675a 78.0px,#336859 81.0px,#356959 84.0px,#366a58 87.0px,#396b57 90.0px,#3b6d56 93.0px,#3e6e55 96.0px,#426f53 99.0px,#457051 102.0px,#487150 105.0px,#4b724e 108.0px,#4f734c 111.0px,#537449 114.0px,#587647 117.0px,#5d7744 120.0px,#607842 123.0px,#637941 126.0px,#667a3f 129.0px,#687b3e 132.0px,#6b7c3d 135.0px,#6d7c3c 138.0px,#6f7d3b 141.0px,#717d3b 144.0px,#757e39 147.0px,#798038 150.0px,#7e8136 153.0px,#838234 156.0px,#878333 159.0px,#8b8432 162.0px,#8d8531 165.0px,#908630 168.0px,#93862f 171.0px,#93862f 174.0px,#93862f 177.0px,#93862f 180.0px,#93862f 183.0px,#91862f 186.0px,#908630 189.0px,#8f8530 192.0px,#8d8531 195.0px,#898432 198.0px,#848234 201.0px,#7f8136 204.0px,#7a8038 207.0px,#767f39 210.0px,#727e3b 213.0px,#707d3b 214.8px)"></div><div style="height:1.49px;background:linear-gradient(90deg,#3f6e54 0.0px,#3c6d56 3.0px,#396b57 6.0px,#366958 9.0px,#336859 12.0px,#31675a 15.0px,#30665b 18.0px,#2e655b 21.0px,#2d645b 24.0px,#2d645c 27.0px,#2d645c 30.0px,#2c645c 33.0px,#2c645c 36.0px,#2c635c 39.0px,#2b635c 42.0px,#2b635c 45.0px,#2a635d 48.0px,#2a625d 51.0px,#2a625d 54.0px,#29625d 57.0px,#2a625d 60.0px,#2b635c 63.0px,#2c635c 66.0px,#2c645c 69.0px,#2e645b 72.0px,#2f655b 75.0px,#31665a 78.0px,#32675a 81.0px,#346859 84.0px,#356958 87.0px,#386b58 90.0px,#3a6c57 93.0px,#3d6d55 96.0px,#416e54 99.0px,#446f52 102.0px,#467050 105.0px,#49714f 108.0px,#4e734c 111.0px,#53744a 114.0px,#587647 117.0px,#5c7744 120.0px,#607842 123.0px,#637941 126.0px,#657a3f 129.0px,#687b3e 132.0px,#6b7c3d 135.0px,#6d7c3c 138.0px,#6f7d3b 141.0px,#717d3b 144.0px,#757e39 147.0px,#798038 150.0px,#7e8136 153.0px,#838234 156.0px,#878333 159.0px,#8a8432 162.0px,#8d8531 165.0px,#908530 168.0px,#92862f 171.0px,#92862f 174.0px,#92862f 177.0px,#92862f 180.0px,#92862f 183.0px,#91862f 186.0px,#8f8530 189.0px,#8e8531 192.0px,#8c8431 195.0px,#888332 198.0px,#838234 201.0px,#7e8136 204.0px,#7a8038 207.0px,#757f39 210.0px,#717d3b 213.0px,#6f7d3b 214.8px)"></div><div style="height:1.49px;background:linear-gradient(90deg,#3f6e54 0.0px,#3c6d56 3.0px,#386b57 6.0px,#356959 9.0px,#32675a 12.0px,#31665a 15.0px,#2f655b 18.0px,#2d645b 21.0px,#2c645c 24.0px,#2c635c 27.0px,#2b635c 30.0px,#2b635c 33.0px,#2b635d 36.0px,#2a625d 39.0px,#2a625d 42.0px,#29625d 45.0px,#29625d 48.0px,#28615d 51.0px,#28615d 54.0px,#28615e 57.0px,#28615d 60.0px,#29625d 63.0px,#2a625d 66.0px,#2b635c 69.0px,#2c645c 72.0px,#2e655b 75.0px,#30665b 78.0px,#31675a 81.0px,#336759 84.0px,#356959 87.0px,#376a58 90.0px,#3a6c57 93.0px,#3c6d56 96.0px,#3f6e54 99.0px,#426f52 102.0px,#457051 105.0px,#49714f 108.0px,#4d724d 111.0px,#52744a 114.0px,#577647 117.0px,#5c7745 120.0px,#607843 123.0px,#627941 126.0px,#657a40 129.0px,#687b3e 132.0px,#6b7c3d 135.0px,#6d7c3c 138.0px,#6f7d3b 141.0px,#717d3b 144.0px,#757e39 147.0px,#798038 150.0px,#7e8136 153.0px,#838234 156.0px,#878333 159.0px,#8a8432 162.0px,#8d8531 165.0px,#8f8530 168.0px,#91862f 171.0px,#91862f 174.0px,#91862f 177.0px,#91862f 180.0px,#91862f 183.0px,#908530 186.0px,#8e8530 189.0px,#8d8531 192.0px,#8b8431 195.0px,#878333 198.0px,#838234 201.0px,#7e8136 204.0px,#7a8038 207.0px,#757e39 210.0px,#717d3b 213.0px,#6f7d3c 214.8px)"></div><div style="height:1.49px;background:linear-gradient(90deg,#3f6e54 0.0px,#3c6d56 3.0px,#386b57 6.0px,#356959 9.0px,#32675a 12.0px,#30665a 15.0px,#2e655b 18.0px,#2c645c 21.0px,#2b635c 24.0px,#2b635d 27.0px,#2a625d 30.0px,#2a625d 33.0px,#29625d 36.0px,#29615d 39.0px,#28615d 42.0px,#28615e 45.0px,#27615e 48.0px,#27605e 51.0px,#27605e 54.0px,#26605e 57.0px,#27605e 60.0px,#28615e 63.0px,#29625d 66.0px,#2a625d 69.0px,#2b635c 72.0px,#2d645c 75.0px,#2f655b 78.0px,#30665a 81.0px,#32675a 84.0px,#346859 87.0px,#366a58 90.0px,#396b57 93.0px,#3b6d56 96.0px,#3f6e55 99.0px,#426f53 102.0px,#457051 105.0px,#487150 108.0px,#4c724d 111.0px,#51744a 114.0px,#577547 117.0px,#5c7745 120.0px,#5f7843 123.0px,#627941 126.0px,#657a40 129.0px,#687b3e 132.0px,#6b7c3d 135.0px,#6d7c3c 138.0px,#6f7d3b 141.0px,#717d3b 144.0px,#757e39 147.0px,#798038 150.0px,#7e8136 153.0px,#838234 156.0px,#888333 159.0px,#8a8432 162.0px,#8c8531 165.0px,#8f8530 168.0px,#908630 171.0px,#91862f 174.0px,#91862f 177.0px,#91862f 180.0px,#91862f 183.0px,#8f8530 186.0px,#8e8530 189.0px,#8c8531 192.0px,#8a8432 195.0px,#878333 198.0px,#838234 201.0px,#7e8136 204.0px,#7a8038 207.0px,#757e39 210.0px,#707d3b 213.0px,#6e7d3c 214.8px)"></div><div style="height:1.49px;background:linear-gradient(90deg,#3f6e54 0.0px,#3c6d56 3.0px,#386b57 6.0px,#356959 9.0px,#32675a 12.0px,#30665b 15.0px,#2d645b 18.0px,#2b635c 21.0px,#2a625d 24.0px,#29625d 27.0px,#29625d 30.0px,#28615d 33.0px,#28615e 36.0px,#27615e 39.0px,#27605e 42.0px,#26605e 45.0px,#26605e 48.0px,#25605f 51.0px,#255f5f 54.0px,#255f5f 57.0px,#25605e 60.0px,#26605e 63.0px,#28615e 66.0px,#29615d 69.0px,#2a625d 72.0px,#2c635c 75.0px,#2e645b 78.0px,#2f665b 81.0px,#31675a 84.0px,#336859 87.0px,#366958 90.0px,#386b57 93.0px,#3b6c56 96.0px,#3e6e55 99.0px,#416f53 102.0px,#447052 105.0px,#477050 108.0px,#4c724e 111.0px,#51744b 114.0px,#567548 117.0px,#5c7745 120.0px,#5f7843 123.0px,#627941 126.0px,#657a40 129.0px,#687b3e 132.0px,#6b7c3d 135.0px,#6d7c3c 138.0px,#6f7d3b 141.0px,#717d3b 144.0px,#757e39 147.0px,#7a8038 150.0px,#7e8136 153.0px,#838234 156.0px,#888333 159.0px,#8a8432 162.0px,#8c8531 165.0px,#8f8530 168.0px,#908630 171.0px,#91862f 174.0px,#91862f 177.0px,#91862f 180.0px,#91862f 183.0px,#908530 186.0px,#8e8530 189.0px,#8c8531 192.0px,#8b8432 195.0px,#878333 198.0px,#838234 201.0px,#7e8136 204.0px,#7a8038 207.0px,#757e39 210.0px,#707d3b 213.0px,#6e7d3c 214.8px)"></div><div style="height:1.49px;background:linear-gradient(90deg,#3f6e54 0.0px,#3c6d56 3.0px,#386b57 6.0px,#356959 9.0px,#32675a 12.0px,#2f655b 15.0px,#2d645c 18.0px,#2b635d 21.0px,#29625d 24.0px,#28615d 27.0px,#27615e 30.0px,#27605e 33.0px,#26605e 36.0px,#26605e 39.0px,#255f5f 42.0px,#255f5f 45.0px,#245f5f 48.0px,#245f5f 51.0px,#235e5f 54.0px,#235e5f 57.0px,#245f5f 60.0px,#255f5f 63.0px,#26605e 66.0px,#27615e 69.0px,#29625d 72.0px,#2b635c 75.0px,#2d645c 78.0px,#2f655b 81.0px,#30665a 84.0px,#336759 87.0px,#356958 90.0px,#386b57 93.0px,#3b6c56 96.0px,#3e6e55 99.0px,#416e54 102.0px,#436f52 105.0px,#467050 108.0px,#4b724e 111.0px,#50734b 114.0px,#567548 117.0px,#5b7745 120.0px,#5f7843 123.0px,#627941 126.0px,#657a40 129.0px,#687b3e 132.0px,#6b7c3d 135.0px,#6d7c3c 138.0px,#6f7d3b 141.0px,#717d3b 144.0px,#757e39 147.0px,#7a8038 150.0px,#7f8136 153.0px,#848234 156.0px,#888333 159.0px,#8b8432 162.0px,#8d8531 165.0px,#8f8530 168.0px,#91862f 171.0px,#91862f 174.0px,#92862f 177.0px,#92862f 180.0px,#92862f 183.0px,#91862f 186.0px,#8f8530 189.0px,#8e8531 192.0px,#8c8431 195.0px,#888333 198.0px,#838234 201.0px,#7f8136 204.0px,#7a8037 207.0px,#757e39 210.0px,#707d3b 213.0px,#6d7c3c 214.8px)"></div><div style="height:1.49px;background:linear-gradient(90deg,#3f6e54 0.0px,#3c6d56 3.0px,#386b57 6.0px,#356959 9.0px,#31675a 12.0px,#2f655b 15.0px,#2c645c 18.0px,#2a625d 21.0px,#28615e 24.0px,#27615e 27.0px,#26605e 30.0px,#26605e 33.0px,#255f5f 36.0px,#245f5f 39.0px,#245f5f 42.0px,#235e5f 45.0px,#235e5f 48.0px,#225e60 51.0px,#225e60 54.0px,#225d60 57.0px,#235e60 60.0px,#245f5f 63.0px,#255f5f 66.0px,#26605e 69.0px,#28615e 72.0px,#2a625d 75.0px,#2c635c 78.0px,#2e655b 81.0px,#30665b 84.0px,#32675a 87.0px,#356959 90.0px,#386a58 93.0px,#3a6c57 96.0px,#3d6d55 99.0px,#406e54 102.0px,#436f52 105.0px,#467051 108.0px,#4a724e 111.0px,#50734b 114.0px,#567548 117.0px,#5b7745 120.0px,#5f7843 123.0px,#627941 126.0px,#657a40 129.0px,#687b3e 132.0px,#6b7c3d 135.0px,#6d7c3c 138.0px,#6f7d3b 141.0px,#717d3b 144.0px,#757e39 147.0px,#7a8038 150.0px,#7f8136 153.0px,#848234 156.0px,#888432 159.0px,#8b8432 162.0px,#8d8531 165.0px,#8f8530 168.0px,#91862f 171.0px,#92862f 174.0px,#93862f 177.0px,#93862e 180.0px,#94872e 183.0px,#92862f 186.0px,#908630 189.0px,#8f8530 192.0px,#8d8531 195.0px,#898432 198.0px,#848234 201.0px,#7f8136 204.0px,#7a8037 207.0px,#757e39 210.0px,#707d3b 213.0px,#6d7c3c 214.8px)"></div><div style="height:1.49px;background:linear-gradient(90deg,#406e54 0.0px,#3c6d56 3.0px,#386b57 6.0px,#356959 9.0px,#31675a 12.0px,#2f655b 15.0px,#2c635c 18.0px,#29625d 21.0px,#27615e 24.0px,#26605e 27.0px,#26605e 30.0px,#255f5f 33.0px,#245f5f 36.0px,#245e5f 39.0px,#235e5f 42.0px,#225e60 45.0px,#225d60 48.0px,#225d60 51.0px,#215d60 54.0px,#215d60 57.0px,#225d60 60.0px,#235e5f 63.0px,#245f5f 66.0px,#26605e 69.0px,#27615e 72.0px,#29625d 75.0px,#2b635c 78.0px,#2d645c 81.0px,#2f655b 84.0px,#31675a 87.0px,#346859 90.0px,#376a58 93.0px,#3a6c57 96.0px,#3d6d55 99.0px,#406e54 102.0px,#436f52 105.0px,#457051 108.0px,#4a714e 111.0px,#50734b 114.0px,#557548 117.0px,#5b7745 120.0px,#5f7843 123.0px,#627941 126.0px,#657a40 129.0px,#687b3e 132.0px,#6b7c3d 135.0px,#6d7c3c 138.0px,#6f7d3b 141.0px,#717d3b 144.0px,#757e39 147.0px,#7a8038 150.0px,#7f8136 153.0px,#848234 156.0px,#888432 159.0px,#8b8431 162.0px,#8d8531 165.0px,#908530 168.0px,#92862f 171.0px,#93862f 174.0px,#94872e 177.0px,#95872e 180.0px,#95872e 183.0px,#93862e 186.0px,#92862f 189.0px,#908630 192.0px,#8e8530 195.0px,#8a8432 198.0px,#858334 201.0px,#808135 204.0px,#7b8037 207.0px,#757f39 210.0px,#707d3b 213.0px,#6e7d3c 214.8px)"></div><div style="height:1.49px;background:linear-gradient(90deg,#406e54 0.0px,#3c6d56 3.0px,#386b57 6.0px,#356959 9.0px,#31675a 12.0px,#2f655b 15.0px,#2c635c 18.0px,#29625d 21.0px,#27615e 24.0px,#26605e 27.0px,#25605e 30.0px,#255f5f 33.0px,#245f5f 36.0px,#235e5f 39.0px,#235e60 42.0px,#225e60 45.0px,#225d60 48.0px,#215d60 51.0px,#215d60 54.0px,#215d60 57.0px,#225d60 60.0px,#235e5f 63.0px,#245f5f 66.0px,#25605e 69.0px,#27615e 72.0px,#29625d 75.0px,#2b635c 78.0px,#2d645c 81.0px,#2e655b 84.0px,#31665a 87.0px,#346859 90.0px,#376a58 93.0px,#3a6c57 96.0px,#3d6d55 99.0px,#406e54 102.0px,#436f52 105.0px,#467051 108.0px,#4a724e 111.0px,#50734b 114.0px,#557548 117.0px,#5b7745 120.0px,#5f7843 123.0px,#627941 126.0px,#657a40 129.0px,#687b3e 132.0px,#6b7c3d 135.0px,#6d7c3c 138.0px,#6f7d3b 141.0px,#717d3b 144.0px,#757e39 147.0px,#7a8038 150.0px,#7f8136 153.0px,#848234 156.0px,#898432 159.0px,#8b8431 162.0px,#8e8530 165.0px,#908630 168.0px,#92862f 171.0px,#93862e 174.0px,#95872e 177.0px,#96872e 180.0px,#96872d 183.0px,#95872e 186.0px,#93862f 189.0px,#91862f 192.0px,#8f8530 195.0px,#8b8432 198.0px,#868333 201.0px,#808135 204.0px,#7b8037 207.0px,#767f39 210.0px,#717d3b 213.0px,#6f7d3b 214.8px)"></div><div style="height:1.49px;background:linear-gradient(90deg,#406e54 0.0px,#3c6d56 3.0px,#386b57 6.0px,#356959 9.0px,#31675a 12.0px,#2f655b 15.0px,#2c635c 18.0px,#29625d 21.0px,#27615e 24.0px,#26605e 27.0px,#25605f 30.0px,#245f5f 33.0px,#245f5f 36.0px,#235e5f 39.0px,#225e60 42.0px,#225d60 45.0px,#215d60 48.0px,#215d60 51.0px,#215d60 54.0px,#215d60 57.0px,#225d60 60.0px,#235e5f 63.0px,#245f5f 66.0px,#26605e 69.0px,#27615e 72.0px,#29625d 75.0px,#2a635d 78.0px,#2c645c 81.0px,#2e655b 84.0px,#30665a 87.0px,#336859 90.0px,#376a58 93.0px,#3a6c57 96.0px,#3d6d55 99.0px,#406e54 102.0px,#436f52 105.0px,#467050 108.0px,#4b724e 111.0px,#50734b 114.0px,#557548 117.0px,#5b7745 120.0px,#5f7843 123.0px,#627941 126.0px,#657a40 129.0px,#687b3e 132.0px,#6b7c3d 135.0px,#6d7c3c 138.0px,#6f7d3b 141.0px,#717d3b 144.0px,#757e39 147.0px,#7a8038 150.0px,#7f8136 153.0px,#848234 156.0px,#898432 159.0px,#8c8431 162.0px,#8e8530 165.0px,#91862f 168.0px,#93862f 171.0px,#94872e 174.0px,#95872e 177.0px,#97872d 180.0px,#97882d 183.0px,#96872d 186.0px,#94872e 189.0px,#92862f 192.0px,#908630 195.0px,#8c8431 198.0px,#868333 201.0px,#818235 204.0px,#7b8037 207.0px,#777f39 210.0px,#737e3a 213.0px,#717d3b 214.8px)"></div><div style="height:1.49px;background:linear-gradient(90deg,#406e54 0.0px,#3c6d56 3.0px,#386b57 6.0px,#356959 9.0px,#31675a 12.0px,#2f655b 15.0px,#2c635c 18.0px,#29625d 21.0px,#27615e 24.0px,#26605e 27.0px,#255f5f 30.0px,#245f5f 33.0px,#245f5f 36.0px,#235e5f 39.0px,#225e60 42.0px,#225d60 45.0px,#215d60 48.0px,#215d60 51.0px,#215d60 54.0px,#215d60 57.0px,#225d60 60.0px,#235e5f 63.0px,#245f5f 66.0px,#26605e 69.0px,#27615e 72.0px,#29625d 75.0px,#2a625d 78.0px,#2c635c 81.0px,#2e645b 84.0px,#30665b 87.0px,#336859 90.0px,#366a58 93.0px,#3a6c57 96.0px,#3d6d55 99.0px,#406e54 102.0px,#436f52 105.0px,#477050 108.0px,#4b724e 111.0px,#50744b 114.0px,#567548 117.0px,#5b7745 120.0px,#5f7843 123.0px,#627941 126.0px,#657a40 129.0px,#687b3e 132.0px,#6b7c3d 135.0px,#6e7c3c 138.0px,#707d3b 141.0px,#727e3b 144.0px,#757e39 147.0px,#7a8037 150.0px,#7f8136 153.0px,#858334 156.0px,#898432 159.0px,#8c8531 162.0px,#8f8530 165.0px,#91862f 168.0px,#93862f 171.0px,#95872e 174.0px,#96872d 177.0px,#98882d 180.0px,#99882d 183.0px,#97882d 186.0px,#95872e 189.0px,#93862e 192.0px,#91862f 195.0px,#8d8531 198.0px,#878333 201.0px,#828235 204.0px,#7c8037 207.0px,#787f38 210.0px,#747e3a 213.0px,#737e3a 214.8px)"></div><div style="height:1.49px;background:linear-gradient(90deg,#406e54 0.0px,#3c6d56 3.0px,#386b57 6.0px,#356959 9.0px,#31675a 12.0px,#2f655b 15.0px,#2c635c 18.0px,#29625d 21.0px,#27615e 24.0px,#26605e 27.0px,#255f5f 30.0px,#245f5f 33.0px,#245e5f 36.0px,#235e5f 39.0px,#225e60 42.0px,#225d60 45.0px,#215d60 48.0px,#215d60 51.0px,#215d60 54.0px,#215d60 57.0px,#225d60 60.0px,#235e5f 63.0px,#245f5f 66.0px,#26605e 69.0px,#27615e 72.0px,#29625d 75.0px,#2a625d 78.0px,#2c635c 81.0px,#2d645b 84.0px,#30665b 87.0px,#336859 90.0px,#366a58 93.0px,#396c57 96.0px,#3d6d56 99.0px,#406e54 102.0px,#446f52 105.0px,#477150 108.0px,#4c724d 111.0px,#51744b 114.0px,#567548 117.0px,#5b7745 120.0px,#5f7843 123.0px,#627941 126.0px,#657a3f 129.0px,#697b3e 132.0px,#6c7c3d 135.0px,#6e7d3c 138.0px,#707d3b 141.0px,#727e3a 144.0px,#757f39 147.0px,#7b8037 150.0px,#808135 153.0px,#858333 156.0px,#8a8432 159.0px,#8d8531 162.0px,#8f8530 165.0px,#91862f 168.0px,#94872e 171.0px,#96872e 174.0px,#97882d 177.0px,#99882c 180.0px,#9a882c 183.0px,#99882d 186.0px,#97872d 189.0px,#95872e 192.0px,#92862f 195.0px,#8e8530 198.0px,#898432 201.0px,#838234 204.0px,#7e8136 207.0px,#7a8038 210.0px,#767f39 213.0px,#747e3a 214.8px)"></div><div style="height:1.49px;background:linear-gradient(90deg,#406e54 0.0px,#3c6d56 3.0px,#386b57 6.0px,#356959 9.0px,#31675a 12.0px,#2f655b 15.0px,#2c635c 18.0px,#29625d 21.0px,#27615e 24.0px,#26605e 27.0px,#255f5f 30.0px,#245f5f 33.0px,#235e5f 36.0px,#235e5f 39.0px,#225e60 42.0px,#225d60 45.0px,#215d60 48.0px,#215d60 51.0px,#215d60 54.0px,#215d60 57.0px,#225d60 60.0px,#235e5f 63.0px,#245f5f 66.0px,#26605e 69.0px,#27615e 72.0px,#29625d 75.0px,#2a625d 78.0px,#2c635c 81.0px,#2d645b 84.0px,#30665b 87.0px,#336859 90.0px,#366a58 93.0px,#396b57 96.0px,#3d6d56 99.0px,#406e54 102.0px,#447052 105.0px,#487150 108.0px,#4c724d 111.0px,#51744a 114.0px,#567548 117.0px,#5b7745 120.0px,#5f7843 123.0px,#627941 126.0px,#657a3f 129.0px,#697b3e 132.0px,#6c7c3d 135.0px,#6e7d3c 138.0px,#707d3b 141.0px,#727e3a 144.0px,#767f39 147.0px,#7b8037 150.0px,#818135 153.0px,#868333 156.0px,#8b8432 159.0px,#8e8531 162.0px,#908630 165.0px,#92862f 168.0px,#94872e 171.0px,#96872d 174.0px,#98882d 177.0px,#9a882c 180.0px,#9b892c 183.0px,#9a882c 186.0px,#98882d 189.0px,#96872e 192.0px,#94872e 195.0px,#8f8530 198.0px,#8a8432 201.0px,#858334 204.0px,#7f8136 207.0px,#7c8037 210.0px,#787f38 213.0px,#767f39 214.8px)"></div><div style="height:1.49px;background:linear-gradient(90deg,#406e54 0.0px,#3c6d56 3.0px,#396b57 6.0px,#356959 9.0px,#31675a 12.0px,#2f655b 15.0px,#2c635c 18.0px,#29625d 21.0px,#27615e 24.0px,#26605e 27.0px,#255f5f 30.0px,#245f5f 33.0px,#235e5f 36.0px,#235e5f 39.0px,#225e60 42.0px,#215d60 45.0px,#215d60 48.0px,#215d60 51.0px,#215d60 54.0px,#215d60 57.0px,#225d60 60.0px,#235e5f 63.0px,#245f5f 66.0px,#26605e 69.0px,#27615e 72.0px,#29625d 75.0px,#2a635d 78.0px,#2c635c 81.0px,#2d645b 84.0px,#30665b 87.0px,#336859 90.0px,#366958 93.0px,#396b57 96.0px,#3d6d56 99.0px,#416e54 102.0px,#447051 105.0px,#48714f 108.0px,#4d724d 111.0px,#52744a 114.0px,#577647 117.0px,#5c7745 120.0px,#607843 123.0px,#637941 126.0px,#667a3f 129.0px,#697b3e 132.0px,#6c7c3d 135.0px,#6e7d3c 138.0px,#707d3b 141.0px,#737e3a 144.0px,#767f39 147.0px,#7c8037 150.0px,#818235 153.0px,#878333 156.0px,#8c8431 159.0px,#8e8530 162.0px,#91862f 165.0px,#93862f 168.0px,#95872e 171.0px,#97872d 174.0px,#99882c 177.0px,#9c892c 180.0px,#9d892b 183.0px,#9b892c 186.0px,#99882c 189.0px,#97872d 192.0px,#95872e 195.0px,#91862f 198.0px,#8c8431 201.0px,#868333 204.0px,#818235 207.0px,#7d8136 210.0px,#7a8038 213.0px,#787f38 214.8px)"></div><div style="height:1.49px;background:linear-gradient(90deg,#416e54 0.0px,#3d6d56 3.0px,#396b57 6.0px,#356959 9.0px,#31675a 12.0px,#2f655b 15.0px,#2c635c 18.0px,#29625d 21.0px,#27615e 24.0px,#26605e 27.0px,#255f5f 30.0px,#245f5f 33.0px,#235e5f 36.0px,#235e60 39.0px,#225e60 42.0px,#215d60 45.0px,#215d60 48.0px,#215d60 51.0px,#215d60 54.0px,#215d60 57.0px,#225d60 60.0px,#235e5f 63.0px,#255f5f 66.0px,#26605e 69.0px,#27615e 72.0px,#29625d 75.0px,#2a635d 78.0px,#2c635c 81.0px,#2d645b 84.0px,#30665b 87.0px,#336859 90.0px,#366958 93.0px,#396b57 96.0px,#3d6d56 99.0px,#416e53 102.0px,#457051 105.0px,#49714f 108.0px,#4d734d 111.0px,#52744a 114.0px,#577647 117.0px,#5c7744 120.0px,#607842 123.0px,#637941 126.0px,#667a3f 129.0px,#697b3e 132.0px,#6c7c3c 135.0px,#6f7d3c 138.0px,#717d3b 141.0px,#737e3a 144.0px,#777f39 147.0px,#7c8037 150.0px,#828235 153.0px,#888333 156.0px,#8d8531 159.0px,#8f8530 162.0px,#91862f 165.0px,#94872e 168.0px,#96872e 171.0px,#98882d 174.0px,#9b882c 177.0px,#9d892b 180.0px,#9f892c 183.0px,#9d892b 186.0px,#9b882c 189.0px,#99882c 192.0px,#97872d 195.0px,#93862f 198.0px,#8d8531 201.0px,#888333 204.0px,#838234 207.0px,#7f8136 210.0px,#7c8037 213.0px,#7a8038 214.8px)"></div><div style="height:1.49px;background:linear-gradient(90deg,#416e53 0.0px,#3d6d56 3.0px,#396b57 6.0px,#356959 9.0px,#31675a 12.0px,#2f655b 15.0px,#2c635c 18.0px,#29625d 21.0px,#27615e 24.0px,#26605e 27.0px,#255f5f 30.0px,#245f5f 33.0px,#235e5f 36.0px,#235e60 39.0px,#225d60 42.0px,#215d60 45.0px,#215d60 48.0px,#215d60 51.0px,#215d60 54.0px,#215d60 57.0px,#225d60 60.0px,#235e5f 63.0px,#255f5f 66.0px,#26605e 69.0px,#28615e 72.0px,#29625d 75.0px,#2a635d 78.0px,#2c635c 81.0px,#2d645b 84.0px,#30665b 87.0px,#336859 90.0px,#366958 93.0px,#396b57 96.0px,#3c6d56 99.0px,#416e53 102.0px,#457051 105.0px,#49714f 108.0px,#4e734c 111.0px,#53744a 114.0px,#587647 117.0px,#5d7744 120.0px,#607942 123.0px,#637a41 126.0px,#667a3f 129.0px,#697b3e 132.0px,#6c7c3c 135.0px,#6f7d3c 138.0px,#717d3b 141.0px,#747e3a 144.0px,#777f39 147.0px,#7d8137 150.0px,#838234 153.0px,#888432 156.0px,#8d8531 159.0px,#908630 162.0px,#93862f 165.0px,#95872e 168.0px,#97872d 171.0px,#9a882c 174.0px,#9c892b 177.0px,#9f892c 180.0px,#a18a2d 183.0px,#9f892c 186.0px,#9d892b 189.0px,#9b882c 192.0px,#99882d 195.0px,#95872e 198.0px,#8f8530 201.0px,#8a8432 204.0px,#858334 207.0px,#818235 210.0px,#7d8136 213.0px,#7c8037 214.8px)"></div><div style="height:1.49px;background:linear-gradient(90deg,#416f53 0.0px,#3d6d56 3.0px,#396b57 6.0px,#356959 9.0px,#31675a 12.0px,#2f655b 15.0px,#2c635c 18.0px,#29625d 21.0px,#27615e 24.0px,#26605e 27.0px,#255f5f 30.0px,#245f5f 33.0px,#235e5f 36.0px,#225e60 39.0px,#225d60 42.0px,#215d60 45.0px,#215d60 48.0px,#215d60 51.0px,#215d60 54.0px,#215d60 57.0px,#225d60 60.0px,#235e5f 63.0px,#255f5f 66.0px,#26605e 69.0px,#28615e 72.0px,#29625d 75.0px,#2b635d 78.0px,#2c635c 81.0px,#2d645b 84.0px,#30665b 87.0px,#336859 90.0px,#366958 93.0px,#396b57 96.0px,#3c6d56 99.0px,#416f53 102.0px,#457051 105.0px,#4a714f 108.0px,#4e734c 111.0px,#537449 114.0px,#587647 117.0px,#5d7844 120.0px,#617942 123.0px,#647a40 126.0px,#667b3f 129.0px,#6a7b3d 132.0px,#6d7c3c 135.0px,#6f7d3b 138.0px,#727e3b 141.0px,#747e3a 144.0px,#787f38 147.0px,#7d8136 150.0px,#838234 153.0px,#898432 156.0px,#8e8530 159.0px,#91862f 162.0px,#94872e 165.0px,#96872d 168.0px,#99882d 171.0px,#9b892c 174.0px,#9e892b 177.0px,#a18a2d 180.0px,#a28a2d 183.0px,#a18a2d 186.0px,#9f892c 189.0px,#9d892b 192.0px,#9b882c 195.0px,#97872d 198.0px,#91862f 201.0px,#8c8431 204.0px,#878333 207.0px,#838234 210.0px,#7f8136 213.0px,#7d8136 214.8px)"></div><div style="height:1.49px;background:linear-gradient(90deg,#416f53 0.0px,#3d6d55 3.0px,#396b57 6.0px,#356959 9.0px,#31675a 12.0px,#2f655b 15.0px,#2c635c 18.0px,#29625d 21.0px,#27615e 24.0px,#26605e 27.0px,#255f5f 30.0px,#245f5f 33.0px,#235e5f 36.0px,#225e60 39.0px,#225d60 42.0px,#215d60 45.0px,#215d60 48.0px,#215d60 51.0px,#215d60 54.0px,#215d60 57.0px,#225d60 60.0px,#235e5f 63.0px,#255f5f 66.0px,#26605e 69.0px,#28615e 72.0px,#29625d 75.0px,#2b635d 78.0px,#2c635c 81.0px,#2d645b 84.0px,#30665b 87.0px,#336859 90.0px,#366958 93.0px,#396b57 96.0px,#3d6d56 99.0px,#416f53 102.0px,#467051 105.0px,#4a724e 108.0px,#4f734c 111.0px,#547549 114.0px,#597646 117.0px,#5e7844 120.0px,#617942 123.0px,#647a40 126.0px,#677b3f 129.0px,#6a7c3d 132.0px,#6d7c3c 135.0px,#6f7d3b 138.0px,#727e3a 141.0px,#747e3a 144.0px,#787f38 147.0px,#7e8136 150.0px,#848234 153.0px,#8a8432 156.0px,#8f8530 159.0px,#92862f 162.0px,#95872e 165.0px,#97882d 168.0px,#9a882c 171.0px,#9d892b 174.0px,#a08a2c 177.0px,#a38a2d 180.0px,#a48a2e 183.0px,#a38a2e 186.0px,#a18a2d 189.0px,#9f892c 192.0px,#9d892b 195.0px,#99882d 198.0px,#93862f 201.0px,#8e8530 204.0px,#898432 207.0px,#858334 210.0px,#818235 213.0px,#7f8136 214.8px)"></div><div style="height:1.49px;background:linear-gradient(90deg,#416f53 0.0px,#3d6d55 3.0px,#396b57 6.0px,#356959 9.0px,#32675a 12.0px,#2f655b 15.0px,#2c635c 18.0px,#29625d 21.0px,#27615e 24.0px,#26605e 27.0px,#255f5f 30.0px,#245e5f 33.0px,#235e5f 36.0px,#225e60 39.0px,#225d60 42.0px,#215d60 45.0px,#215d60 48.0px,#215d60 51.0px,#215d60 54.0px,#215d60 57.0px,#225d60 60.0px,#235e5f 63.0px,#255f5f 66.0px,#26605e 69.0px,#28615e 72.0px,#29625d 75.0px,#2b635d 78.0px,#2c645c 81.0px,#2d645b 84.0px,#30665b 87.0px,#336859 90.0px,#366958 93.0px,#396b57 96.0px,#3d6d56 99.0px,#416f53 102.0px,#467050 105.0px,#4b724e 108.0px,#50734b 111.0px,#547549 114.0px,#597646 117.0px,#5e7843 120.0px,#627942 123.0px,#647a40 126.0px,#677b3e 129.0px,#6a7c3d 132.0px,#6d7c3c 135.0px,#707d3b 138.0px,#727e3a 141.0px,#757e39 144.0px,#797f38 147.0px,#7f8136 150.0px,#858334 153.0px,#8b8432 156.0px,#908630 159.0px,#93862f 162.0px,#96872e 165.0px,#99882d 168.0px,#9b892c 171.0px,#9e892c 174.0px,#a18a2d 177.0px,#a48a2e 180.0px,#a68b2f 183.0px,#a58b2f 186.0px,#a38a2e 189.0px,#a18a2d 192.0px,#9f892c 195.0px,#9b882c 198.0px,#95872e 201.0px,#908530 204.0px,#8a8432 207.0px,#868333 210.0px,#838234 213.0px,#818235 214.8px)"></div><div style="height:1.49px;background:linear-gradient(90deg,#426f53 0.0px,#3d6d55 3.0px,#396b57 6.0px,#356959 9.0px,#32675a 12.0px,#2f655b 15.0px,#2c645c 18.0px,#29625d 21.0px,#27615e 24.0px,#26605e 27.0px,#255f5f 30.0px,#235e5f 33.0px,#235e5f 36.0px,#225e60 39.0px,#215d60 42.0px,#215d60 45.0px,#215d60 48.0px,#215d60 51.0px,#215d60 54.0px,#215d60 57.0px,#225d60 60.0px,#235e5f 63.0px,#255f5f 66.0px,#26605e 69.0px,#28615e 72.0px,#29625d 75.0px,#2b635c 78.0px,#2c645c 81.0px,#2d645b 84.0px,#30665b 87.0px,#336859 90.0px,#366a58 93.0px,#396b57 96.0px,#3d6d55 99.0px,#426f53 102.0px,#477050 105.0px,#4b724e 108.0px,#50734b 111.0px,#557548 114.0px,#5a7646 117.0px,#5f7843 120.0px,#627941 123.0px,#657a40 126.0px,#687b3e 129.0px,#6b7c3d 132.0px,#6e7d3c 135.0px,#707d3b 138.0px,#737e3a 141.0px,#757f39 144.0px,#798038 147.0px,#7f8136 150.0px,#858333 153.0px,#8b8431 156.0px,#91862f 159.0px,#94872e 162.0px,#97872d 165.0px,#9a882c 168.0px,#9d892b 171.0px,#a08a2c 174.0px,#a38a2e 177.0px,#a68b2f 180.0px,#a88b30 183.0px,#a78b30 186.0px,#a58b2f 189.0px,#a38a2e 192.0px,#a18a2d 195.0px,#9d892b 198.0px,#97872d 201.0px,#91862f 204.0px,#8c8531 207.0px,#888332 210.0px,#848234 213.0px,#838234 214.8px)"></div><div style="height:1.49px;background:linear-gradient(90deg,#426f53 0.0px,#3e6e55 3.0px,#396b57 6.0px,#356958 9.0px,#32675a 12.0px,#2f655b 15.0px,#2c645c 18.0px,#29625d 21.0px,#27615e 24.0px,#26605e 27.0px,#255f5f 30.0px,#235e5f 33.0px,#235e5f 36.0px,#225e60 39.0px,#225d60 42.0px,#215d60 45.0px,#215d60 48.0px,#215d60 51.0px,#215d60 54.0px,#215d60 57.0px,#225d60 60.0px,#235e5f 63.0px,#255f5f 66.0px,#27605e 69.0px,#28615d 72.0px,#29625d 75.0px,#2b635c 78.0px,#2c645c 81.0px,#2e645b 84.0px,#30665b 87.0px,#336859 90.0px,#366a58 93.0px,#3a6c57 96.0px,#3d6d55 99.0px,#426f53 102.0px,#477150 105.0px,#4c724d 108.0px,#51744b 111.0px,#567548 114.0px,#5a7745 117.0px,#5f7843 120.0px,#627941 123.0px,#657a40 126.0px,#687b3e 129.0px,#6b7c3d 132.0px,#6e7d3c 135.0px,#717d3b 138.0px,#737e3a 141.0px,#767f39 144.0px,#7a8038 147.0px,#808135 150.0px,#868333 153.0px,#8c8531 156.0px,#92862f 159.0px,#95872e 162.0px,#98882d 165.0px,#9b882c 168.0px,#9e892c 171.0px,#a18a2d 174.0px,#a58a2e 177.0px,#a88b30 180.0px,#aa8c31 183.0px,#a98b30 186.0px,#a78b30 189.0px,#a58b2f 192.0px,#a38a2e 195.0px,#9f892c 198.0px,#99882c 201.0px,#93862f 204.0px,#8e8530 207.0px,#8a8432 210.0px,#868333 213.0px,#848234 214.8px)"></div><div style="height:1.49px;background:linear-gradient(90deg,#426f53 0.0px,#3e6e55 3.0px,#3a6c57 6.0px,#366958 9.0px,#32675a 12.0px,#2f655b 15.0px,#2c645c 18.0px,#29625d 21.0px,#27615e 24.0px,#26605e 27.0px,#255f5f 30.0px,#245f5f 33.0px,#235e5f 36.0px,#225e60 39.0px,#225d60 42.0px,#215d60 45.0px,#215d60 48.0px,#215d60 51.0px,#215d60 54.0px,#215d60 57.0px,#225e60 60.0px,#245f5f 63.0px,#25605e 66.0px,#27605e 69.0px,#28615d 72.0px,#2a625d 75.0px,#2b635c 78.0px,#2c645c 81.0px,#2e655b 84.0px,#30665b 87.0px,#336859 90.0px,#366a58 93.0px,#3a6c57 96.0px,#3e6e55 99.0px,#436f52 102.0px,#487150 105.0px,#4d724d 108.0px,#52744a 111.0px,#567548 114.0px,#5b7745 117.0px,#5f7843 120.0px,#637941 123.0px,#667a3f 126.0px,#697b3e 129.0px,#6c7c3d 132.0px,#6f7d3b 135.0px,#727e3b 138.0px,#747e3a 141.0px,#777f39 144.0px,#7b8037 147.0px,#818235 150.0px,#878333 153.0px,#8d8531 156.0px,#93862f 159.0px,#96872d 162.0px,#99882c 165.0px,#9c892b 168.0px,#9f892c 171.0px,#a38a2e 174.0px,#a68b2f 177.0px,#aa8b31 180.0px,#ac8c32 183.0px,#ab8c31 186.0px,#a98b31 189.0px,#a88b30 192.0px,#a68b2f 195.0px,#a18a2d 198.0px,#9b882c 201.0px,#95872e 204.0px,#8f8530 207.0px,#8b8431 210.0px,#888333 213.0px,#868333 214.8px)"></div><div style="height:1.49px;background:linear-gradient(90deg,#426f53 0.0px,#3e6e55 3.0px,#3a6c57 6.0px,#366958 9.0px,#32675a 12.0px,#2f665b 15.0px,#2d645c 18.0px,#2a625d 21.0px,#27615e 24.0px,#26605e 27.0px,#255f5f 30.0px,#245f5f 33.0px,#235e5f 36.0px,#235e5f 39.0px,#225e60 42.0px,#225d60 45.0px,#215d60 48.0px,#215d60 51.0px,#215d60 54.0px,#225d60 57.0px,#235e60 60.0px,#245f5f 63.0px,#26605e 66.0px,#27615e 69.0px,#29625d 72.0px,#2a625d 75.0px,#2b635c 78.0px,#2d645c 81.0px,#2e655b 84.0px,#30665a 87.0px,#336859 90.0px,#376a58 93.0px,#3a6c57 96.0px,#3e6e55 99.0px,#436f52 102.0px,#48714f 105.0px,#4d734c 108.0px,#52744a 111.0px,#577647 114.0px,#5b7745 117.0px,#607842 120.0px,#637941 123.0px,#667a3f 126.0px,#697b3e 129.0px,#6c7c3c 132.0px,#707d3b 135.0px,#727e3a 138.0px,#757e39 141.0px,#787f38 144.0px,#7c8037 147.0px,#828235 150.0px,#888333 153.0px,#8e8530 156.0px,#93862e 159.0px,#97872d 162.0px,#9a882c 165.0px,#9e892b 168.0px,#a18a2d 171.0px,#a48a2e 174.0px,#a88b30 177.0px,#ac8c32 180.0px,#ae8c33 183.0px,#ad8c32 186.0px,#ab8c31 189.0px,#aa8b31 192.0px,#a88b30 195.0px,#a38a2e 198.0px,#9d892b 201.0px,#96872d 204.0px,#90862f 207.0px,#8d8531 210.0px,#898432 213.0px,#888333 214.8px)"></div><div style="height:1.49px;background:linear-gradient(90deg,#436f52 0.0px,#3f6e55 3.0px,#3a6c57 6.0px,#366958 9.0px,#33675a 12.0px,#30665b 15.0px,#2d645c 18.0px,#2a625d 21.0px,#28615e 24.0px,#26605e 27.0px,#25605f 30.0px,#245f5f 33.0px,#245f5f 36.0px,#235e5f 39.0px,#235e60 42.0px,#225e60 45.0px,#225d60 48.0px,#225d60 51.0px,#225d60 54.0px,#225e60 57.0px,#235e5f 60.0px,#255f5f 63.0px,#26605e 66.0px,#28615e 69.0px,#29625d 72.0px,#2a635d 75.0px,#2c635c 78.0px,#2d645c 81.0px,#2e655b 84.0px,#30665a 87.0px,#346859 90.0px,#376a58 93.0px,#3a6c57 96.0px,#3e6e55 99.0px,#446f52 102.0px,#49714f 105.0px,#4e734c 108.0px,#53744a 111.0px,#577647 114.0px,#5c7745 117.0px,#607942 120.0px,#647a40 123.0px,#667b3f 126.0px,#6a7b3d 129.0px,#6d7c3c 132.0px,#707d3b 135.0px,#737e3a 138.0px,#767f39 141.0px,#797f38 144.0px,#7d8136 147.0px,#838234 150.0px,#898432 153.0px,#8f8530 156.0px,#94872e 159.0px,#98882d 162.0px,#9b892c 165.0px,#9f892c 168.0px,#a28a2d 171.0px,#a68b2f 174.0px,#a98b31 177.0px,#ad8c32 180.0px,#b08d33 183.0px,#af8c33 186.0px,#ad8c32 189.0px,#ac8c32 192.0px,#aa8b31 195.0px,#a58a2f 198.0px,#9e892c 201.0px,#98882d 204.0px,#92862f 207.0px,#8e8530 210.0px,#8b8432 213.0px,#898432 214.8px)"></div><div style="height:1.49px;background:linear-gradient(90deg,#436f52 0.0px,#3f6e54 3.0px,#3a6c57 6.0px,#366a58 9.0px,#336859 12.0px,#30665b 15.0px,#2d645c 18.0px,#2a625d 21.0px,#28615e 24.0px,#27605e 27.0px,#26605e 30.0px,#255f5f 33.0px,#245f5f 36.0px,#235e5f 39.0px,#235e5f 42.0px,#225e60 45.0px,#225e60 48.0px,#225e60 51.0px,#225e60 54.0px,#225e60 57.0px,#235e5f 60.0px,#255f5f 63.0px,#27605e 66.0px,#28615d 69.0px,#2a625d 72.0px,#2b635c 75.0px,#2c635c 78.0px,#2d645c 81.0px,#2e655b 84.0px,#31665a 87.0px,#346859 90.0px,#376a58 93.0px,#3a6c57 96.0px,#3f6e55 99.0px,#447052 102.0px,#49714f 105.0px,#4f734c 108.0px,#547449 111.0px,#587647 114.0px,#5c7744 117.0px,#617942 120.0px,#647a40 123.0px,#677b3f 126.0px,#6a7c3d 129.0px,#6e7c3c 132.0px,#717d3b 135.0px,#747e3a 138.0px,#777f39 141.0px,#7a8038 144.0px,#7e8136 147.0px,#848234 150.0px,#8a8432 153.0px,#908530 156.0px,#95872e 159.0px,#99882c 162.0px,#9c892b 165.0px,#a08a2c 168.0px,#a38a2e 171.0px,#a78b30 174.0px,#ab8c31 177.0px,#ae8c33 180.0px,#b18d34 183.0px,#b08d34 186.0px,#af8c33 189.0px,#ad8c32 192.0px,#ac8c32 195.0px,#a78b2f 198.0px,#a08a2c 201.0px,#99882c 204.0px,#93862f 207.0px,#8f8530 210.0px,#8c8531 213.0px,#8b8431 214.8px)"></div><div style="height:1.49px;background:linear-gradient(90deg,#436f52 0.0px,#3f6e54 3.0px,#3a6c57 6.0px,#366a58 9.0px,#336859 12.0px,#30665a 15.0px,#2d645c 18.0px,#2a625d 21.0px,#28615d 24.0px,#27615e 27.0px,#26605e 30.0px,#255f5f 33.0px,#245f5f 36.0px,#245f5f 39.0px,#235e5f 42.0px,#235e5f 45.0px,#235e60 48.0px,#235e60 51.0px,#235e60 54.0px,#235e5f 57.0px,#245f5f 60.0px,#25605e 63.0px,#27615e 66.0px,#29615d 69.0px,#2a625d 72.0px,#2b635c 75.0px,#2c645c 78.0px,#2d645b 81.0px,#2f655b 84.0px,#31665a 87.0px,#346859 90.0px,#376a58 93.0px,#3b6c57 96.0px,#3f6e54 99.0px,#447051 102.0px,#4a714e 105.0px,#4f734b 108.0px,#547549 111.0px,#597646 114.0px,#5d7744 117.0px,#617942 120.0px,#657a40 123.0px,#677b3e 126.0px,#6b7c3d 129.0px,#6e7d3c 132.0px,#717d3b 135.0px,#757e3a 138.0px,#787f38 141.0px,#7b8037 144.0px,#7f8136 147.0px,#858334 150.0px,#8b8432 153.0px,#90862f 156.0px,#96872e 159.0px,#9a882c 162.0px,#9d892b 165.0px,#a18a2d 168.0px,#a58a2e 171.0px,#a88b30 174.0px,#ac8c32 177.0px,#af8c33 180.0px,#b28d34 183.0px,#b18d34 186.0px,#b08d34 189.0px,#af8c33 192.0px,#ae8c33 195.0px,#a98b30 198.0px,#a28a2d 201.0px,#9a882c 204.0px,#94872e 207.0px,#91862f 210.0px,#8e8530 213.0px,#8d8531 214.8px)"></div><div style="height:1.49px;background:linear-gradient(90deg,#446f52 0.0px,#3f6e54 3.0px,#3b6c57 6.0px,#376a58 9.0px,#336859 12.0px,#30665a 15.0px,#2d645c 18.0px,#2a635d 21.0px,#28615d 24.0px,#27615e 27.0px,#26605e 30.0px,#255f5f 33.0px,#255f5f 36.0px,#245f5f 39.0px,#245f5f 42.0px,#235e5f 45.0px,#235e5f 48.0px,#235e5f 51.0px,#235e5f 54.0px,#235e5f 57.0px,#245f5f 60.0px,#26605e 63.0px,#27615e 66.0px,#29625d 69.0px,#2a635d 72.0px,#2b635c 75.0px,#2d645c 78.0px,#2e655b 81.0px,#2f655b 84.0px,#31665a 87.0px,#346859 90.0px,#386a58 93.0px,#3b6c56 96.0px,#3f6e54 99.0px,#457051 102.0px,#4a724e 105.0px,#50734b 108.0px,#557548 111.0px,#597646 114.0px,#5d7844 117.0px,#627941 120.0px,#657a40 123.0px,#687b3e 126.0px,#6b7c3d 129.0px,#6f7d3c 132.0px,#727e3a 135.0px,#757f39 138.0px,#797f38 141.0px,#7c8037 144.0px,#808135 147.0px,#868333 150.0px,#8c8431 153.0px,#91862f 156.0px,#97872d 159.0px,#9b882c 162.0px,#9e892c 165.0px,#a28a2d 168.0px,#a68b2f 171.0px,#a98b31 174.0px,#ad8c32 177.0px,#b08d34 180.0px,#b38d35 183.0px,#b38d35 186.0px,#b28d34 189.0px,#b18d34 192.0px,#af8c33 195.0px,#aa8b31 198.0px,#a38a2e 201.0px,#9c892b 204.0px,#95872e 207.0px,#92862f 210.0px,#908530 213.0px,#8e8530 214.8px)"></div><div style="height:1.49px;background:linear-gradient(90deg,#446f52 0.0px,#406e54 3.0px,#3b6c56 6.0px,#376a58 9.0px,#336859 12.0px,#30665a 15.0px,#2e645b 18.0px,#2b635d 21.0px,#29615d 24.0px,#27615e 27.0px,#26605e 30.0px,#26605e 33.0px,#255f5f 36.0px,#255f5f 39.0px,#245f5f 42.0px,#245f5f 45.0px,#235e5f 48.0px,#235e5f 51.0px,#235e5f 54.0px,#245e5f 57.0px,#255f5f 60.0px,#26605e 63.0px,#28615e 66.0px,#29625d 69.0px,#2b635c 72.0px,#2c635c 75.0px,#2d645c 78.0px,#2e655b 81.0px,#2f655b 84.0px,#31675a 87.0px,#346859 90.0px,#386a58 93.0px,#3b6c56 96.0px,#3f6e54 99.0px,#457051 102.0px,#4b724e 105.0px,#51744b 108.0px,#557548 111.0px,#5a7646 114.0px,#5e7843 117.0px,#627941 120.0px,#657a3f 123.0px,#687b3e 126.0px,#6c7c3d 129.0px,#6f7d3b 132.0px,#727e3a 135.0px,#767f39 138.0px,#7a8038 141.0px,#7d8136 144.0px,#818235 147.0px,#878333 150.0px,#8c8531 153.0px,#92862f 156.0px,#97872d 159.0px,#9b892c 162.0px,#9f892c 165.0px,#a38a2e 168.0px,#a78b2f 171.0px,#aa8c31 174.0px,#ae8c33 177.0px,#b18d34 180.0px,#b48d35 183.0px,#b48d35 186.0px,#b38d35 189.0px,#b28d34 192.0px,#b08d34 195.0px,#ab8c31 198.0px,#a48a2e 201.0px,#9d892b 204.0px,#97872d 207.0px,#94872e 210.0px,#91862f 213.0px,#908630 214.8px)"></div><div style="height:1.49px;background:linear-gradient(90deg,#447052 0.0px,#406e54 3.0px,#3b6c56 6.0px,#376a58 9.0px,#346859 12.0px,#31665a 15.0px,#2e655b 18.0px,#2b635c 21.0px,#29625d 24.0px,#28615e 27.0px,#27605e 30.0px,#26605e 33.0px,#25605f 36.0px,#255f5f 39.0px,#245f5f 42.0px,#245f5f 45.0px,#245f5f 48.0px,#245f5f 51.0px,#245f5f 54.0px,#245f5f 57.0px,#255f5f 60.0px,#27605e 63.0px,#28615d 66.0px,#2a625d 69.0px,#2b635c 72.0px,#2c645c 75.0px,#2d645c 78.0px,#2e655b 81.0px,#2f655b 84.0px,#31675a 87.0px,#356959 90.0px,#386b58 93.0px,#3b6d56 96.0px,#406e54 99.0px,#467051 102.0px,#4c724e 105.0px,#51744a 108.0px,#567548 111.0px,#5a7745 114.0px,#5e7843 117.0px,#637941 120.0px,#667a3f 123.0px,#697b3e 126.0px,#6c7c3d 129.0px,#707d3b 132.0px,#737e3a 135.0px,#777f39 138.0px,#7a8037 141.0px,#7e8136 144.0px,#828235 147.0px,#888333 150.0px,#8d8531 153.0px,#93862f 156.0px,#98882d 159.0px,#9c892b 162.0px,#a08a2c 165.0px,#a48a2e 168.0px,#a88b30 171.0px,#ac8c32 174.0px,#af8c33 177.0px,#b28d35 180.0px,#b58e36 183.0px,#b58d36 186.0px,#b48d35 189.0px,#b38d35 192.0px,#b18d34 195.0px,#ac8c32 198.0px,#a58b2f 201.0px,#9e892b 204.0px,#98882d 207.0px,#95872e 210.0px,#93862f 213.0px,#92862f 214.8px)"></div><div style="height:1.49px;background:linear-gradient(90deg,#447051 0.0px,#406e54 3.0px,#3b6d56 6.0px,#376a58 9.0px,#346859 12.0px,#31665a 15.0px,#2e655b 18.0px,#2b635c 21.0px,#29625d 24.0px,#28615e 27.0px,#27615e 30.0px,#26605e 33.0px,#26605e 36.0px,#255f5f 39.0px,#255f5f 42.0px,#245f5f 45.0px,#245f5f 48.0px,#245f5f 51.0px,#245f5f 54.0px,#245f5f 57.0px,#25605e 60.0px,#27615e 63.0px,#29615d 66.0px,#2a625d 69.0px,#2c635c 72.0px,#2d645c 75.0px,#2e645b 78.0px,#2f655b 81.0px,#30665b 84.0px,#32675a 87.0px,#356959 90.0px,#386b57 93.0px,#3b6d56 96.0px,#406e54 99.0px,#467051 102.0px,#4c724d 105.0px,#52744a 108.0px,#577647 111.0px,#5b7745 114.0px,#5f7843 117.0px,#637941 120.0px,#667a3f 123.0px,#697b3e 126.0px,#6d7c3c 129.0px,#707d3b 132.0px,#747e3a 135.0px,#777f38 138.0px,#7b8037 141.0px,#7f8136 144.0px,#848234 147.0px,#898432 150.0px,#8e8530 153.0px,#94872e 156.0px,#99882d 159.0px,#9d892b 162.0px,#a18a2d 165.0px,#a58b2f 168.0px,#a98b31 171.0px,#ad8c32 174.0px,#b08d34 177.0px,#b48d35 180.0px,#b68e36 183.0px,#b68e36 186.0px,#b48d36 189.0px,#b38d35 192.0px,#b28d34 195.0px,#ad8c32 198.0px,#a68b2f 201.0px,#9f892c 204.0px,#99882c 207.0px,#96872d 210.0px,#94872e 213.0px,#93862e 214.8px)"></div><div style="height:1.49px;background:linear-gradient(90deg,#457051 0.0px,#416e53 3.0px,#3b6d56 6.0px,#386a58 9.0px,#346859 12.0px,#31675a 15.0px,#2e655b 18.0px,#2b635c 21.0px,#29625d 24.0px,#28615d 27.0px,#27615e 30.0px,#26605e 33.0px,#26605e 36.0px,#26605e 39.0px,#255f5f 42.0px,#255f5f 45.0px,#255f5f 48.0px,#255f5f 51.0px,#255f5f 54.0px,#255f5f 57.0px,#26605e 60.0px,#27615e 63.0px,#29625d 66.0px,#2b635d 69.0px,#2c635c 72.0px,#2d645c 75.0px,#2e655b 78.0px,#2f655b 81.0px,#30665b 84.0px,#32675a 87.0px,#356959 90.0px,#386b57 93.0px,#3c6d56 96.0px,#406e54 99.0px,#467050 102.0px,#4d724d 105.0px,#53744a 108.0px,#577647 111.0px,#5b7745 114.0px,#5f7843 117.0px,#637a41 120.0px,#677b3f 123.0px,#6a7b3d 126.0px,#6d7c3c 129.0px,#717d3b 132.0px,#747e3a 135.0px,#787f38 138.0px,#7c8037 141.0px,#808135 144.0px,#858334 147.0px,#8a8432 150.0px,#8f8530 153.0px,#94872e 156.0px,#99882c 159.0px,#9e892b 162.0px,#a28a2d 165.0px,#a68b2f 168.0px,#aa8c31 171.0px,#ae8c33 174.0px,#b18d34 177.0px,#b58d36 180.0px,#b78e37 183.0px,#b68e37 186.0px,#b58e36 189.0px,#b48d35 192.0px,#b28d35 195.0px,#ae8c32 198.0px,#a78b2f 201.0px,#a08a2c 204.0px,#9a882c 207.0px,#98882d 210.0px,#96872e 213.0px,#95872e 214.8px)"></div><div style="height:1.49px;background:linear-gradient(90deg,#457051 0.0px,#416f53 3.0px,#3c6d56 6.0px,#386a58 9.0px,#346859 12.0px,#31675a 15.0px,#2e655b 18.0px,#2b635c 21.0px,#29625d 24.0px,#28615d 27.0px,#28615e 30.0px,#27605e 33.0px,#26605e 36.0px,#26605e 39.0px,#26605e 42.0px,#255f5f 45.0px,#255f5f 48.0px,#255f5f 51.0px,#255f5f 54.0px,#255f5f 57.0px,#26605e 60.0px,#28615e 63.0px,#29625d 66.0px,#2b635c 69.0px,#2c645c 72.0px,#2d645c 75.0px,#2e655b 78.0px,#2f655b 81.0px,#30665a 84.0px,#32675a 87.0px,#356959 90.0px,#396b57 93.0px,#3c6d56 96.0px,#416f53 99.0px,#477050 102.0px,#4d724d 105.0px,#537449 108.0px,#587647 111.0px,#5c7745 114.0px,#607842 117.0px,#647a40 120.0px,#677b3f 123.0px,#6a7c3d 126.0px,#6e7c3c 129.0px,#717d3b 132.0px,#757e39 135.0px,#797f38 138.0px,#7d8137 141.0px,#818235 144.0px,#858333 147.0px,#8b8432 150.0px,#908630 153.0px,#95872e 156.0px,#9a882c 159.0px,#9f892c 162.0px,#a38a2e 165.0px,#a78b30 168.0px,#ac8c32 171.0px,#af8c33 174.0px,#b28d35 177.0px,#b68e36 180.0px,#b88e37 183.0px,#b78e37 186.0px,#b68e36 189.0px,#b58d36 192.0px,#b38d35 195.0px,#ae8c33 198.0px,#a88b30 201.0px,#a18a2d 204.0px,#9b892c 207.0px,#99882d 210.0px,#97872d 213.0px,#95872e 214.8px)"></div><div style="height:1.49px;background:linear-gradient(90deg,#467050 0.0px,#426f53 3.0px,#3c6d56 6.0px,#386b57 9.0px,#346959 12.0px,#31675a 15.0px,#2f655b 18.0px,#2c635c 21.0px,#2a625d 24.0px,#29625d 27.0px,#28615e 30.0px,#27615e 33.0px,#27605e 36.0px,#26605e 39.0px,#26605e 42.0px,#26605e 45.0px,#26605e 48.0px,#26605e 51.0px,#26605e 54.0px,#26605e 57.0px,#27605e 60.0px,#28615d 63.0px,#2a625d 66.0px,#2b635c 69.0px,#2d645c 72.0px,#2e645b 75.0px,#2e655b 78.0px,#2f655b 81.0px,#30665a 84.0px,#32675a 87.0px,#356958 90.0px,#396b57 93.0px,#3c6d56 96.0px,#416f53 99.0px,#477150 102.0px,#4e734c 105.0px,#547549 108.0px,#597646 111.0px,#5c7744 114.0px,#607942 117.0px,#647a40 120.0px,#677b3e 123.0px,#6b7c3d 126.0px,#6e7d3c 129.0px,#727e3b 132.0px,#757f39 135.0px,#798038 138.0px,#7e8136 141.0px,#828235 144.0px,#868333 147.0px,#8b8431 150.0px,#91862f 153.0px,#96872e 156.0px,#9b882c 159.0px,#9f892c 162.0px,#a48a2e 165.0px,#a88b30 168.0px,#ad8c32 171.0px,#b08d34 174.0px,#b48d35 177.0px,#b78e37 180.0px,#b98e38 183.0px,#b88e37 186.0px,#b78e37 189.0px,#b68e36 192.0px,#b48d35 195.0px,#af8c33 198.0px,#a98b30 201.0px,#a28a2d 204.0px,#9d892b 207.0px,#9a882c 210.0px,#97872d 213.0px,#96872d 214.8px)"></div><div style="height:1.49px;background:linear-gradient(90deg,#477050 0.0px,#426f52 3.0px,#3d6d56 6.0px,#386b57 9.0px,#356959 12.0px,#32675a 15.0px,#2f655b 18.0px,#2c635c 21.0px,#2a625d 24.0px,#29625d 27.0px,#28615d 30.0px,#27615e 33.0px,#27615e 36.0px,#27605e 39.0px,#26605e 42.0px,#26605e 45.0px,#26605e 48.0px,#26605e 51.0px,#26605e 54.0px,#26605e 57.0px,#27615e 60.0px,#29625d 63.0px,#2a625d 66.0px,#2c635c 69.0px,#2d645c 72.0px,#2e655b 75.0px,#2f655b 78.0px,#30665b 81.0px,#30665a 84.0px,#32675a 87.0px,#366958 90.0px,#396b57 93.0px,#3d6d56 96.0px,#426f53 99.0px,#487150 102.0px,#4e734c 105.0px,#547549 108.0px,#597646 111.0px,#5d7744 114.0px,#617942 117.0px,#657a40 120.0px,#687b3e 123.0px,#6b7c3d 126.0px,#6f7d3c 129.0px,#727e3a 132.0px,#767f39 135.0px,#7a8038 138.0px,#7e8136 141.0px,#838234 144.0px,#878333 147.0px,#8c8531 150.0px,#91862f 153.0px,#96872d 156.0px,#9c892c 159.0px,#a08a2c 162.0px,#a58a2f 165.0px,#aa8b31 168.0px,#ae8c33 171.0px,#b18d34 174.0px,#b58d36 177.0px,#b88e37 180.0px,#ba8e38 183.0px,#b98e38 186.0px,#b88e37 189.0px,#b68e36 192.0px,#b48d36 195.0px,#b08d33 198.0px,#a98b31 201.0px,#a38a2e 204.0px,#9e892b 207.0px,#9a882c 210.0px,#98882d 213.0px,#97872d 214.8px)"></div><div style="height:1.49px;background:linear-gradient(90deg,#487150 0.0px,#436f52 3.0px,#3d6d55 6.0px,#396b57 9.0px,#356959 12.0px,#32675a 15.0px,#2f655b 18.0px,#2c645c 21.0px,#2a625d 24.0px,#29625d 27.0px,#28615d 30.0px,#28615e 33.0px,#27615e 36.0px,#27605e 39.0px,#27605e 42.0px,#26605e 45.0px,#26605e 48.0px,#26605e 51.0px,#26605e 54.0px,#26605e 57.0px,#27615e 60.0px,#29625d 63.0px,#2b635d 66.0px,#2c645c 69.0px,#2d645c 72.0px,#2e655b 75.0px,#2f655b 78.0px,#30665b 81.0px,#31665a 84.0px,#33675a 87.0px,#366958 90.0px,#396b57 93.0px,#3d6d55 96.0px,#426f53 99.0px,#48714f 102.0px,#4f734c 105.0px,#557548 108.0px,#5a7646 111.0px,#5d7844 114.0px,#617942 117.0px,#657a40 120.0px,#687b3e 123.0px,#6c7c3d 126.0px,#6f7d3b 129.0px,#737e3a 132.0px,#767f39 135.0px,#7b8037 138.0px,#7f8136 141.0px,#838234 144.0px,#888333 147.0px,#8d8531 150.0px,#92862f 153.0px,#97872d 156.0px,#9c892b 159.0px,#a18a2d 162.0px,#a68b2f 165.0px,#ab8c31 168.0px,#af8c33 171.0px,#b28d35 174.0px,#b58e36 177.0px,#b98e37 180.0px,#bb8f38 183.0px,#ba8e38 186.0px,#b88e37 189.0px,#b78e37 192.0px,#b58e36 195.0px,#b08d34 198.0px,#aa8b31 201.0px,#a48a2e 204.0px,#9e892c 207.0px,#9b892c 210.0px,#98882d 213.0px,#97872d 214.8px)"></div><div style="height:1.49px;background:linear-gradient(90deg,#48714f 0.0px,#446f52 3.0px,#3e6e55 6.0px,#396b57 9.0px,#356959 12.0px,#32675a 15.0px,#2f655b 18.0px,#2c645c 21.0px,#2a625d 24.0px,#29625d 27.0px,#29615d 30.0px,#28615e 33.0px,#27615e 36.0px,#27615e 39.0px,#27605e 42.0px,#27605e 45.0px,#27605e 48.0px,#27605e 51.0px,#27605e 54.0px,#27605e 57.0px,#28615e 60.0px,#29625d 63.0px,#2b635c 66.0px,#2c645c 69.0px,#2e645b 72.0px,#2e655b 75.0px,#2f655b 78.0px,#30665b 81.0px,#31665a 84.0px,#336759 87.0px,#366958 90.0px,#3a6c57 93.0px,#3d6d55 96.0px,#436f52 99.0px,#49714f 102.0px,#4f734c 105.0px,#557548 108.0px,#5a7746 111.0px,#5e7843 114.0px,#627941 117.0px,#667a3f 120.0px,#697b3e 123.0px,#6c7c3c 126.0px,#707d3b 129.0px,#737e3a 132.0px,#777f39 135.0px,#7b8037 138.0px,#808135 141.0px,#848234 144.0px,#898432 147.0px,#8e8530 150.0px,#93862f 153.0px,#98882d 156.0px,#9d892b 159.0px,#a28a2d 162.0px,#a78b2f 165.0px,#ab8c31 168.0px,#b08d34 171.0px,#b38d35 174.0px,#b68e36 177.0px,#b98e38 180.0px,#bb8f39 183.0px,#ba8f38 186.0px,#b98e38 189.0px,#b78e37 192.0px,#b68e36 195.0px,#b18d34 198.0px,#ab8c31 201.0px,#a48a2e 204.0px,#9f892c 207.0px,#9c892b 210.0px,#99882c 213.0px,#98882d 214.8px)"></div><div style="height:1.49px;background:linear-gradient(90deg,#49714f 0.0px,#447051 3.0px,#3e6e55 6.0px,#396b57 9.0px,#356959 12.0px,#32675a 15.0px,#2f665b 18.0px,#2c645c 21.0px,#2a635d 24.0px,#2a625d 27.0px,#29625d 30.0px,#28615d 33.0px,#28615e 36.0px,#27615e 39.0px,#27615e 42.0px,#27615e 45.0px,#27605e 48.0px,#27605e 51.0px,#27605e 54.0px,#27615e 57.0px,#28615e 60.0px,#2a625d 63.0px,#2b635c 66.0px,#2d645c 69.0px,#2e655b 72.0px,#2f655b 75.0px,#2f655b 78.0px,#30665a 81.0px,#31665a 84.0px,#336859 87.0px,#366a58 90.0px,#3a6c57 93.0px,#3e6e55 96.0px,#436f52 99.0px,#49714f 102.0px,#50734b 105.0px,#567548 108.0px,#5b7745 111.0px,#5e7843 114.0px,#627941 117.0px,#667a3f 120.0px,#697b3e 123.0px,#6d7c3c 126.0px,#707d3b 129.0px,#747e3a 132.0px,#787f38 135.0px,#7c8037 138.0px,#808135 141.0px,#858334 144.0px,#8a8432 147.0px,#8f8530 150.0px,#94872e 153.0px,#99882d 156.0px,#9e892b 159.0px,#a28a2d 162.0px,#a78b30 165.0px,#ac8c32 168.0px,#b08d34 171.0px,#b38d35 174.0px,#b68e37 177.0px,#b98e38 180.0px,#bc8f39 183.0px,#bb8f38 186.0px,#b98e38 189.0px,#b88e37 192.0px,#b68e36 195.0px,#b28d34 198.0px,#ab8c31 201.0px,#a58b2f 204.0px,#9f892c 207.0px,#9c892b 210.0px,#9a882c 213.0px,#98882d 214.8px)"></div><div style="height:1.49px;background:linear-gradient(90deg,#4a714f 0.0px,#457051 3.0px,#3f6e55 6.0px,#396b57 9.0px,#356958 12.0px,#32675a 15.0px,#30665b 18.0px,#2d645c 21.0px,#2b635c 24.0px,#2a625d 27.0px,#29625d 30.0px,#28615d 33.0px,#28615e 36.0px,#28615e 39.0px,#27615e 42.0px,#27615e 45.0px,#27615e 48.0px,#27615e 51.0px,#27615e 54.0px,#27615e 57.0px,#28615d 60.0px,#2a625d 63.0px,#2b635c 66.0px,#2d645c 69.0px,#2e655b 72.0px,#2f655b 75.0px,#2f665b 78.0px,#30665a 81.0px,#31665a 84.0px,#336859 87.0px,#366a58 90.0px,#3a6c57 93.0px,#3e6e55 96.0px,#436f52 99.0px,#4a714f 102.0px,#50734b 105.0px,#577548 108.0px,#5b7745 111.0px,#5f7843 114.0px,#637941 117.0px,#667a3f 120.0px,#6a7b3d 123.0px,#6d7c3c 126.0px,#717d3b 129.0px,#747e3a 132.0px,#787f38 135.0px,#7d8037 138.0px,#818235 141.0px,#868333 144.0px,#8a8432 147.0px,#8f8530 150.0px,#94872e 153.0px,#99882c 156.0px,#9e892b 159.0px,#a38a2e 162.0px,#a88b30 165.0px,#ac8c32 168.0px,#b18d34 171.0px,#b48d35 174.0px,#b78e37 177.0px,#ba8e38 180.0px,#bc8f39 183.0px,#bb8f39 186.0px,#ba8e38 189.0px,#b88e37 192.0px,#b78e37 195.0px,#b28d35 198.0px,#ac8c32 201.0px,#a58b2f 204.0px,#a08a2c 207.0px,#9d892b 210.0px,#9a882c 213.0px,#99882c 214.8px)"></div><div style="height:1.49px;background:linear-gradient(90deg,#4a724e 0.0px,#467051 3.0px,#3f6e54 6.0px,#3a6c57 9.0px,#366958 12.0px,#336759 15.0px,#30665b 18.0px,#2d645c 21.0px,#2b635c 24.0px,#2a625d 27.0px,#29625d 30.0px,#28615d 33.0px,#28615d 36.0px,#28615e 39.0px,#28615e 42.0px,#28615e 45.0px,#27615e 48.0px,#27615e 51.0px,#27615e 54.0px,#28615e 57.0px,#29615d 60.0px,#2a625d 63.0px,#2c635c 66.0px,#2d645c 69.0px,#2e655b 72.0px,#2f655b 75.0px,#30665b 78.0px,#30665a 81.0px,#31675a 84.0px,#336859 87.0px,#376a58 90.0px,#3a6c57 93.0px,#3f6e55 96.0px,#446f52 99.0px,#4a724e 102.0px,#51744b 105.0px,#577647 108.0px,#5c7745 111.0px,#5f7843 114.0px,#637941 117.0px,#677b3f 120.0px,#6a7c3d 123.0px,#6e7d3c 126.0px,#717d3b 129.0px,#757e39 132.0px,#797f38 135.0px,#7d8136 138.0px,#828235 141.0px,#878333 144.0px,#8b8431 147.0px,#908630 150.0px,#95872e 153.0px,#9a882c 156.0px,#9e892c 159.0px,#a38a2e 162.0px,#a88b30 165.0px,#ad8c32 168.0px,#b18d34 171.0px,#b48d35 174.0px,#b78e37 177.0px,#ba8e38 180.0px,#bc8f39 183.0px,#bb8f39 186.0px,#ba8e38 189.0px,#b98e37 192.0px,#b78e37 195.0px,#b28d35 198.0px,#ac8c32 201.0px,#a68b2f 204.0px,#a08a2d 207.0px,#9d892b 210.0px,#9b882c 213.0px,#99882c 214.8px)"></div><div style="height:1.49px;background:linear-gradient(90deg,#4b724e 0.0px,#467050 3.0px,#406e54 6.0px,#3a6c57 9.0px,#366958 12.0px,#336859 15.0px,#30665b 18.0px,#2d645c 21.0px,#2b635c 24.0px,#2a625d 27.0px,#29625d 30.0px,#29625d 33.0px,#28615d 36.0px,#28615d 39.0px,#28615d 42.0px,#28615e 45.0px,#28615e 48.0px,#28615e 51.0px,#28615e 54.0px,#28615e 57.0px,#29625d 60.0px,#2a625d 63.0px,#2c635c 66.0px,#2d645c 69.0px,#2e655b 72.0px,#2f655b 75.0px,#30665b 78.0px,#30665a 81.0px,#31675a 84.0px,#336859 87.0px,#376a58 90.0px,#3a6c57 93.0px,#3f6e54 96.0px,#447052 99.0px,#4b724e 102.0px,#51744a 105.0px,#587647 108.0px,#5c7744 111.0px,#607842 114.0px,#637a40 117.0px,#677b3f 120.0px,#6b7c3d 123.0px,#6e7d3c 126.0px,#727e3b 129.0px,#757e39 132.0px,#798038 135.0px,#7e8136 138.0px,#838234 141.0px,#878333 144.0px,#8c8531 147.0px,#91862f 150.0px,#95872e 153.0px,#9a882c 156.0px,#9f892c 159.0px,#a48a2e 162.0px,#a88b30 165.0px,#ad8c32 168.0px,#b18d34 171.0px,#b48d36 174.0px,#b78e37 177.0px,#ba8f38 180.0px,#bd8f39 183.0px,#bc8f39 186.0px,#ba8e38 189.0px,#b98e38 192.0px,#b78e37 195.0px,#b28d35 198.0px,#ac8c32 201.0px,#a68b2f 204.0px,#a18a2d 207.0px,#9e892b 210.0px,#9b892c 213.0px,#9a882c 214.8px)"></div><div style="height:1.49px;background:linear-gradient(90deg,#4c724d 0.0px,#477050 3.0px,#406e54 6.0px,#3a6c57 9.0px,#366a58 12.0px,#336859 15.0px,#30665a 18.0px,#2d645c 21.0px,#2b635c 24.0px,#2a635d 27.0px,#2a625d 30.0px,#29625d 33.0px,#29615d 36.0px,#28615d 39.0px,#28615d 42.0px,#28615d 45.0px,#28615d 48.0px,#28615d 51.0px,#28615d 54.0px,#28615d 57.0px,#29625d 60.0px,#2b635d 63.0px,#2c635c 66.0px,#2d645b 69.0px,#2f655b 72.0px,#2f655b 75.0px,#30665b 78.0px,#31665a 81.0px,#31675a 84.0px,#336859 87.0px,#376a58 90.0px,#3b6c57 93.0px,#3f6e54 96.0px,#457051 99.0px,#4b724e 102.0px,#52744a 105.0px,#587647 108.0px,#5d7744 111.0px,#607942 114.0px,#647a40 117.0px,#677b3e 120.0px,#6b7c3d 123.0px,#6f7d3c 126.0px,#727e3a 129.0px,#767f39 132.0px,#7a8038 135.0px,#7f8136 138.0px,#838234 141.0px,#888332 144.0px,#8d8531 147.0px,#91862f 150.0px,#96872e 153.0px,#9b882c 156.0px,#9f892c 159.0px,#a48a2e 162.0px,#a88b30 165.0px,#ad8c32 168.0px,#b18d34 171.0px,#b58d36 174.0px,#b88e37 177.0px,#bb8f38 180.0px,#bd8f39 183.0px,#bc8f39 186.0px,#ba8f38 189.0px,#b98e38 192.0px,#b78e37 195.0px,#b28d35 198.0px,#ad8c32 201.0px,#a78b2f 204.0px,#a18a2d 207.0px,#9e892c 210.0px,#9c892b 213.0px,#9a882c 214.8px)"></div><div style="height:1.49px;background:linear-gradient(90deg,#4c724d 0.0px,#477150 3.0px,#406e54 6.0px,#3a6c57 9.0px,#366a58 12.0px,#336859 15.0px,#30665a 18.0px,#2e645b 21.0px,#2b635c 24.0px,#2b635d 27.0px,#2a625d 30.0px,#29625d 33.0px,#29625d 36.0px,#29625d 39.0px,#29615d 42.0px,#28615d 45.0px,#28615d 48.0px,#28615d 51.0px,#28615d 54.0px,#29615d 57.0px,#29625d 60.0px,#2b635c 63.0px,#2c645c 66.0px,#2e645b 69.0px,#2f655b 72.0px,#2f665b 75.0px,#30665a 78.0px,#31665a 81.0px,#31675a 84.0px,#336859 87.0px,#376a58 90.0px,#3b6c56 93.0px,#406e54 96.0px,#457051 99.0px,#4c724e 102.0px,#52744a 105.0px,#597646 108.0px,#5d7844 111.0px,#617942 114.0px,#647a40 117.0px,#687b3e 120.0px,#6b7c3d 123.0px,#6f7d3b 126.0px,#737e3a 129.0px,#767f39 132.0px,#7a8037 135.0px,#7f8136 138.0px,#848234 141.0px,#898432 144.0px,#8e8531 147.0px,#92862f 150.0px,#97872d 153.0px,#9b882c 156.0px,#a0892c 159.0px,#a48a2e 162.0px,#a98b30 165.0px,#ad8c32 168.0px,#b28d34 171.0px,#b58e36 174.0px,#b88e37 177.0px,#bb8f39 180.0px,#bd8f3a 183.0px,#bc8f39 186.0px,#ba8f38 189.0px,#b98e38 192.0px,#b78e37 195.0px,#b38d35 198.0px,#ad8c32 201.0px,#a78b30 204.0px,#a28a2d 207.0px,#9f892c 210.0px,#9c892b 213.0px,#9b882c 214.8px)"></div><div style="height:1.49px;background:linear-gradient(90deg,#4c724d 0.0px,#477150 3.0px,#416e53 6.0px,#3b6c57 9.0px,#376a58 12.0px,#346859 15.0px,#31665a 18.0px,#2e655b 21.0px,#2c635c 24.0px,#2b635c 27.0px,#2a625d 30.0px,#29625d 33.0px,#29625d 36.0px,#29625d 39.0px,#29625d 42.0px,#29625d 45.0px,#29625d 48.0px,#29625d 51.0px,#29625d 54.0px,#29625d 57.0px,#2a625d 60.0px,#2b635c 63.0px,#2c645c 66.0px,#2e655b 69.0px,#2f655b 72.0px,#30665b 75.0px,#30665a 78.0px,#31665a 81.0px,#32675a 84.0px,#346859 87.0px,#376a58 90.0px,#3b6c56 93.0px,#406e54 96.0px,#457051 99.0px,#4c724d 102.0px,#53744a 105.0px,#597646 108.0px,#5e7844 111.0px,#617942 114.0px,#657a40 117.0px,#687b3e 120.0px,#6c7c3d 123.0px,#6f7d3b 126.0px,#737e3a 129.0px,#777f39 132.0px,#7b8037 135.0px,#808135 138.0px,#858334 141.0px,#8a8432 144.0px,#8e8530 147.0px,#93862f 150.0px,#97872d 153.0px,#9b892c 156.0px,#a08a2c 159.0px,#a48a2e 162.0px,#a98b30 165.0px,#ae8c33 168.0px,#b28d35 171.0px,#b58e36 174.0px,#b88e37 177.0px,#bb8f39 180.0px,#bd8f3a 183.0px,#bc8f39 186.0px,#bb8f38 189.0px,#b98e38 192.0px,#b78e37 195.0px,#b38d35 198.0px,#ad8c32 201.0px,#a78b30 204.0px,#a28a2d 207.0px,#9f892c 210.0px,#9d892b 213.0px,#9c892c 214.8px)"></div><div style="height:1.49px;background:linear-gradient(90deg,#4d724d 0.0px,#487150 3.0px,#416f53 6.0px,#3b6c56 9.0px,#376a58 12.0px,#346859 15.0px,#31665a 18.0px,#2e655b 21.0px,#2c635c 24.0px,#2b635c 27.0px,#2a625d 30.0px,#2a625d 33.0px,#29625d 36.0px,#29625d 39.0px,#29625d 42.0px,#29625d 45.0px,#29625d 48.0px,#29625d 51.0px,#29625d 54.0px,#29625d 57.0px,#2a625d 60.0px,#2b635c 63.0px,#2d645c 66.0px,#2e655b 69.0px,#2f655b 72.0px,#30665b 75.0px,#30665a 78.0px,#31665a 81.0px,#32675a 84.0px,#346859 87.0px,#376a58 90.0px,#3b6d56 93.0px,#406e54 96.0px,#467051 99.0px,#4c724d 102.0px,#537449 105.0px,#5a7646 108.0px,#5e7843 111.0px,#627942 114.0px,#657a40 117.0px,#687b3e 120.0px,#6c7c3d 123.0px,#707d3b 126.0px,#747e3a 129.0px,#777f38 132.0px,#7c8037 135.0px,#818235 138.0px,#868333 141.0px,#8a8432 144.0px,#8f8530 147.0px,#93862e 150.0px,#98882d 153.0px,#9c892b 156.0px,#a08a2c 159.0px,#a58a2f 162.0px,#a98b31 165.0px,#ae8c33 168.0px,#b28d35 171.0px,#b68e36 174.0px,#b98e38 177.0px,#bc8f39 180.0px,#be8f3a 183.0px,#bd8f39 186.0px,#bb8f39 189.0px,#b98e38 192.0px,#b78e37 195.0px,#b38d35 198.0px,#ad8c32 201.0px,#a88b30 204.0px,#a38a2e 207.0px,#a08a2c 210.0px,#9d892b 213.0px,#9c892b 214.8px)"></div><div style="height:1.49px;background:linear-gradient(90deg,#4d724d 0.0px,#487150 3.0px,#416f53 6.0px,#3b6c56 9.0px,#376a58 12.0px,#346859 15.0px,#31665a 18.0px,#2e655b 21.0px,#2c645c 24.0px,#2b635c 27.0px,#2a635d 30.0px,#2a625d 33.0px,#2a625d 36.0px,#29625d 39.0px,#29625d 42.0px,#29625d 45.0px,#29625d 48.0px,#29625d 51.0px,#29625d 54.0px,#29625d 57.0px,#2a625d 60.0px,#2c635c 63.0px,#2d645c 66.0px,#2e655b 69.0px,#2f655b 72.0px,#30665b 75.0px,#31665a 78.0px,#31675a 81.0px,#32675a 84.0px,#346859 87.0px,#386a58 90.0px,#3b6d56 93.0px,#406e54 96.0px,#467051 99.0px,#4d724d 102.0px,#537449 105.0px,#5a7746 108.0px,#5f7843 111.0px,#627941 114.0px,#657a40 117.0px,#697b3e 120.0px,#6d7c3c 123.0px,#707d3b 126.0px,#747e3a 129.0px,#787f38 132.0px,#7c8037 135.0px,#818235 138.0px,#868333 141.0px,#8b8431 144.0px,#908530 147.0px,#94872e 150.0px,#98882d 153.0px,#9c892b 156.0px,#a18a2d 159.0px,#a58b2f 162.0px,#aa8b31 165.0px,#ae8c33 168.0px,#b38d35 171.0px,#b68e36 174.0px,#b98e38 177.0px,#bc8f39 180.0px,#be8f3a 183.0px,#bd8f39 186.0px,#bb8f39 189.0px,#b98e38 192.0px,#b78e37 195.0px,#b38d35 198.0px,#ad8c32 201.0px,#a88b30 204.0px,#a38a2e 207.0px,#a08a2d 210.0px,#9e892b 213.0px,#9d892b 214.8px)"></div><div style="height:1.49px;background:linear-gradient(90deg,#4d724d 0.0px,#487150 3.0px,#416f53 6.0px,#3b6c56 9.0px,#376a58 12.0px,#346859 15.0px,#31675a 18.0px,#2e655b 21.0px,#2c645c 24.0px,#2b635c 27.0px,#2b635d 30.0px,#2a625d 33.0px,#2a625d 36.0px,#2a625d 39.0px,#2a625d 42.0px,#2a625d 45.0px,#2a625d 48.0px,#2a625d 51.0px,#2a625d 54.0px,#2a625d 57.0px,#2b635d 60.0px,#2c635c 63.0px,#2d645c 66.0px,#2f655b 69.0px,#30665b 72.0px,#30665a 75.0px,#31665a 78.0px,#31675a 81.0px,#32675a 84.0px,#346859 87.0px,#386a58 90.0px,#3b6d56 93.0px,#416e54 96.0px,#467050 99.0px,#4d724d 102.0px,#547549 105.0px,#5a7745 108.0px,#5f7843 111.0px,#627941 114.0px,#657a3f 117.0px,#697b3e 120.0px,#6d7c3c 123.0px,#717d3b 126.0px,#757e39 129.0px,#797f38 132.0px,#7d8137 135.0px,#828235 138.0px,#868333 141.0px,#8b8431 144.0px,#908630 147.0px,#94872e 150.0px,#98882d 153.0px,#9d892b 156.0px,#a18a2d 159.0px,#a58b2f 162.0px,#aa8b31 165.0px,#af8c33 168.0px,#b38d35 171.0px,#b68e36 174.0px,#b98e38 177.0px,#bc8f39 180.0px,#be8f3a 183.0px,#bd8f3a 186.0px,#bb8f39 189.0px,#b98e38 192.0px,#b78e37 195.0px,#b38d35 198.0px,#ae8c33 201.0px,#a98b30 204.0px,#a48a2e 207.0px,#a18a2d 210.0px,#9e892c 213.0px,#9d892b 214.8px)"></div><div style="height:1.49px;background:linear-gradient(90deg,#4d724d 0.0px,#48714f 3.0px,#416f53 6.0px,#3b6d56 9.0px,#376a58 12.0px,#346859 15.0px,#31675a 18.0px,#2f655b 21.0px,#2d645c 24.0px,#2c635c 27.0px,#2b635c 30.0px,#2a625d 33.0px,#2a625d 36.0px,#2a625d 39.0px,#2a625d 42.0px,#2a625d 45.0px,#2a625d 48.0px,#2a625d 51.0px,#2a625d 54.0px,#2a625d 57.0px,#2b635c 60.0px,#2c645c 63.0px,#2d645b 66.0px,#2f655b 69.0px,#30665b 72.0px,#30665a 75.0px,#31665a 78.0px,#31675a 81.0px,#32675a 84.0px,#346859 87.0px,#386a58 90.0px,#3b6d56 93.0px,#416e54 96.0px,#467050 99.0px,#4d724d 102.0px,#547549 105.0px,#5b7745 108.0px,#5f7843 111.0px,#627941 114.0px,#667a3f 117.0px,#697b3e 120.0px,#6d7c3c 123.0px,#717d3b 126.0px,#757e39 129.0px,#798038 132.0px,#7d8136 135.0px,#828235 138.0px,#878333 141.0px,#8c8431 144.0px,#908630 147.0px,#94872e 150.0px,#99882d 153.0px,#9d892b 156.0px,#a18a2d 159.0px,#a68b2f 162.0px,#aa8c31 165.0px,#af8c33 168.0px,#b38d35 171.0px,#b68e36 174.0px,#ba8e38 177.0px,#bd8f39 180.0px,#bf8f3a 183.0px,#bd8f3a 186.0px,#bb8f39 189.0px,#b98e38 192.0px,#b78e37 195.0px,#b38d35 198.0px,#ae8c33 201.0px,#a98b30 204.0px,#a48a2e 207.0px,#a18a2d 210.0px,#9f892c 213.0px,#9e892b 214.8px)"></div><div style="height:1.49px;background:linear-gradient(90deg,#4d724d 0.0px,#48714f 3.0px,#426f53 6.0px,#3b6d56 9.0px,#376a58 12.0px,#346859 15.0px,#31675a 18.0px,#2f655b 21.0px,#2d645c 24.0px,#2c635c 27.0px,#2b635c 30.0px,#2a635d 33.0px,#2a625d 36.0px,#2a625d 39.0px,#2a625d 42.0px,#2a625d 45.0px,#2a625d 48.0px,#2a625d 51.0px,#2a625d 54.0px,#2a625d 57.0px,#2b635c 60.0px,#2c645c 63.0px,#2e645b 66.0px,#2f655b 69.0px,#30665b 72.0px,#30665a 75.0px,#31665a 78.0px,#32675a 81.0px,#32675a 84.0px,#346859 87.0px,#386a58 90.0px,#3c6d56 93.0px,#416e54 96.0px,#467050 99.0px,#4d724d 102.0px,#547549 105.0px,#5b7745 108.0px,#5f7843 111.0px,#637941 114.0px,#667a3f 117.0px,#6a7b3d 120.0px,#6e7c3c 123.0px,#727e3b 126.0px,#767f39 129.0px,#7a8038 132.0px,#7e8136 135.0px,#838234 138.0px,#878333 141.0px,#8c8431 144.0px,#908630 147.0px,#95872e 150.0px,#99882c 153.0px,#9d892b 156.0px,#a28a2d 159.0px,#a68b2f 162.0px,#aa8c31 165.0px,#af8c33 168.0px,#b38d35 171.0px,#b68e37 174.0px,#ba8e38 177.0px,#bd8f39 180.0px,#bf8f3a 183.0px,#bd8f3a 186.0px,#bb8f39 189.0px,#b98e38 192.0px,#b78e37 195.0px,#b38d35 198.0px,#ae8c33 201.0px,#a98b30 204.0px,#a58a2e 207.0px,#a28a2d 210.0px,#9f892c 213.0px,#9e892b 214.8px)"></div><div style="height:1.49px;background:linear-gradient(90deg,#4d734c 0.0px,#48714f 3.0px,#426f53 6.0px,#3b6d56 9.0px,#376a58 12.0px,#346959 15.0px,#32675a 18.0px,#2f655b 21.0px,#2d645c 24.0px,#2c635c 27.0px,#2b635c 30.0px,#2b635d 33.0px,#2a635d 36.0px,#2a635d 39.0px,#2a635d 42.0px,#2a635d 45.0px,#2a635d 48.0px,#2a635d 51.0px,#2a635d 54.0px,#2a635d 57.0px,#2b635c 60.0px,#2d645c 63.0px,#2e655b 66.0px,#2f655b 69.0px,#30665a 72.0px,#31665a 75.0px,#31675a 78.0px,#32675a 81.0px,#32675a 84.0px,#346859 87.0px,#386a58 90.0px,#3c6d56 93.0px,#416e54 96.0px,#467050 99.0px,#4d724d 102.0px,#547549 105.0px,#5b7745 108.0px,#5f7843 111.0px,#637941 114.0px,#667a3f 117.0px,#6a7c3d 120.0px,#6e7d3c 123.0px,#727e3a 126.0px,#767f39 129.0px,#7a8037 132.0px,#7f8136 135.0px,#838234 138.0px,#888333 141.0px,#8c8531 144.0px,#91862f 147.0px,#95872e 150.0px,#99882c 153.0px,#9e892b 156.0px,#a28a2d 159.0px,#a68b2f 162.0px,#aa8c31 165.0px,#af8c33 168.0px,#b38d35 171.0px,#b68e36 174.0px,#b98e38 177.0px,#bc8f39 180.0px,#be8f3a 183.0px,#bd8f3a 186.0px,#bb8f39 189.0px,#b98e38 192.0px,#b78e37 195.0px,#b38d35 198.0px,#ae8c33 201.0px,#a98b31 204.0px,#a58a2e 207.0px,#a28a2d 210.0px,#9f892c 213.0px,#9e892c 214.8px)"></div><div style="height:1.49px;background:linear-gradient(90deg,#4e734c 0.0px,#49714f 3.0px,#426f53 6.0px,#3c6d56 9.0px,#386a58 12.0px,#356959 15.0px,#32675a 18.0px,#2f655b 21.0px,#2d645c 24.0px,#2c645c 27.0px,#2b635c 30.0px,#2b635c 33.0px,#2b635d 36.0px,#2b635d 39.0px,#2b635d 42.0px,#2b635d 45.0px,#2b635d 48.0px,#2b635d 51.0px,#2b635d 54.0px,#2b635d 57.0px,#2c635c 60.0px,#2d645c 63.0px,#2e655b 66.0px,#2f655b 69.0px,#30665a 72.0px,#31665a 75.0px,#31675a 78.0px,#32675a 81.0px,#32675a 84.0px,#346859 87.0px,#386a58 90.0px,#3c6d56 93.0px,#416e54 96.0px,#467050 99.0px,#4d724d 102.0px,#547549 105.0px,#5b7745 108.0px,#607843 111.0px,#637941 114.0px,#677b3f 117.0px,#6a7c3d 120.0px,#6e7d3c 123.0px,#737e3a 126.0px,#777f39 129.0px,#7b8037 132.0px,#7f8136 135.0px,#848234 138.0px,#888333 141.0px,#8c8531 144.0px,#91862f 147.0px,#95872e 150.0px,#9a882c 153.0px,#9e892b 156.0px,#a28a2d 159.0px,#a68b2f 162.0px,#aa8c31 165.0px,#af8c33 168.0px,#b38d35 171.0px,#b68e36 174.0px,#b98e38 177.0px,#bc8f39 180.0px,#be8f3a 183.0px,#bd8f39 186.0px,#bb8f39 189.0px,#b98e38 192.0px,#b78e37 195.0px,#b38d35 198.0px,#ae8c33 201.0px,#a98b31 204.0px,#a58a2e 207.0px,#a28a2d 210.0px,#9f892c 213.0px,#9e892c 214.8px)"></div><div style="height:1.49px;background:linear-gradient(90deg,#4e734c 0.0px,#49714f 3.0px,#426f53 6.0px,#3c6d56 9.0px,#386a58 12.0px,#356959 15.0px,#32675a 18.0px,#2f655b 21.0px,#2d645c 24.0px,#2c645c 27.0px,#2b635c 30.0px,#2b635c 33.0px,#2b635c 36.0px,#2b635c 39.0px,#2b635c 42.0px,#2b635c 45.0px,#2b635c 48.0px,#2b635c 51.0px,#2b635c 54.0px,#2b635c 57.0px,#2c635c 60.0px,#2d645c 63.0px,#2e655b 66.0px,#2f665b 69.0px,#30665a 72.0px,#31665a 75.0px,#31675a 78.0px,#32675a 81.0px,#32675a 84.0px,#346859 87.0px,#386a58 90.0px,#3c6d56 93.0px,#416e54 96.0px,#467050 99.0px,#4d724d 102.0px,#547549 105.0px,#5b7745 108.0px,#607842 111.0px,#637a41 114.0px,#677b3f 117.0px,#6b7c3d 120.0px,#6f7d3c 123.0px,#737e3a 126.0px,#777f39 129.0px,#7b8037 132.0px,#7f8136 135.0px,#848234 138.0px,#888432 141.0px,#8d8531 144.0px,#91862f 147.0px,#95872e 150.0px,#9a882c 153.0px,#9e892c 156.0px,#a28a2d 159.0px,#a68b2f 162.0px,#aa8c31 165.0px,#ae8c33 168.0px,#b28d35 171.0px,#b58e36 174.0px,#b88e37 177.0px,#bb8f39 180.0px,#be8f3a 183.0px,#bc8f39 186.0px,#bb8f38 189.0px,#b98e38 192.0px,#b78e37 195.0px,#b38d35 198.0px,#ae8c33 201.0px,#a98b30 204.0px,#a58a2e 207.0px,#a28a2d 210.0px,#9f892c 213.0px,#9e892c 214.8px)"></div><div style="height:1.49px;background:linear-gradient(90deg,#4d724d 0.0px,#48714f 3.0px,#426f53 6.0px,#3c6d56 9.0px,#386b58 12.0px,#356959 15.0px,#32675a 18.0px,#2f655b 21.0px,#2d645c 24.0px,#2c645c 27.0px,#2c635c 30.0px,#2b635c 33.0px,#2b635c 36.0px,#2b635c 39.0px,#2b635c 42.0px,#2b635c 45.0px,#2b635c 48.0px,#2b635c 51.0px,#2b635c 54.0px,#2b635c 57.0px,#2c635c 60.0px,#2d645c 63.0px,#2e655b 66.0px,#30665b 69.0px,#31665a 72.0px,#31665a 75.0px,#31675a 78.0px,#32675a 81.0px,#32675a 84.0px,#346859 87.0px,#386a58 90.0px,#3c6d56 93.0px,#416e54 96.0px,#467050 99.0px,#4d724d 102.0px,#547549 105.0px,#5b7745 108.0px,#607842 111.0px,#637a40 114.0px,#677b3f 117.0px,#6b7c3d 120.0px,#6f7d3c 123.0px,#737e3a 126.0px,#777f39 129.0px,#7b8037 132.0px,#7f8136 135.0px,#848234 138.0px,#888432 141.0px,#8d8531 144.0px,#91862f 147.0px,#96872e 150.0px,#9a882c 153.0px,#9e892c 156.0px,#a38a2e 159.0px,#a78b2f 162.0px,#aa8c31 165.0px,#ae8c33 168.0px,#b28d34 171.0px,#b58e36 174.0px,#b88e37 177.0px,#bb8f39 180.0px,#bd8f3a 183.0px,#bc8f39 186.0px,#ba8e38 189.0px,#b88e37 192.0px,#b68e36 195.0px,#b28d35 198.0px,#ae8c33 201.0px,#a98b30 204.0px,#a58a2e 207.0px,#a28a2d 210.0px,#9f892c 213.0px,#9e892c 214.8px)"></div><div style="height:1.49px;background:linear-gradient(90deg,#4c724d 0.0px,#487150 3.0px,#426f53 6.0px,#3c6d56 9.0px,#386b58 12.0px,#356959 15.0px,#32675a 18.0px,#2f655b 21.0px,#2d645c 24.0px,#2c645c 27.0px,#2c635c 30.0px,#2b635c 33.0px,#2b635c 36.0px,#2b635c 39.0px,#2b635c 42.0px,#2b635c 45.0px,#2b635c 48.0px,#2b635c 51.0px,#2b635c 54.0px,#2b635c 57.0px,#2c645c 60.0px,#2d645c 63.0px,#2f655b 66.0px,#30665b 69.0px,#31665a 72.0px,#31675a 75.0px,#31675a 78.0px,#32675a 81.0px,#32675a 84.0px,#346859 87.0px,#386a58 90.0px,#3c6d56 93.0px,#416e54 96.0px,#467050 99.0px,#4d724d 102.0px,#557549 105.0px,#5c7745 108.0px,#607942 111.0px,#647a40 114.0px,#677b3f 117.0px,#6b7c3d 120.0px,#6f7d3c 123.0px,#727e3a 126.0px,#767f39 129.0px,#7a8037 132.0px,#7e8136 135.0px,#838234 138.0px,#888333 141.0px,#8d8531 144.0px,#92862f 147.0px,#96872e 150.0px,#9a882c 153.0px,#9f892c 156.0px,#a38a2e 159.0px,#a78b2f 162.0px,#aa8b31 165.0px,#ae8c33 168.0px,#b18d34 171.0px,#b58d36 174.0px,#b88e37 177.0px,#bb8f38 180.0px,#bd8f39 183.0px,#bb8f39 186.0px,#b98e38 189.0px,#b88e37 192.0px,#b58e36 195.0px,#b28d34 198.0px,#ad8c32 201.0px,#a98b30 204.0px,#a58a2e 207.0px,#a28a2d 210.0px,#9f892c 213.0px,#9e892c 214.8px)"></div><div style="height:1.49px;background:linear-gradient(90deg,#4b724e 0.0px,#477050 3.0px,#416f53 6.0px,#3c6d56 9.0px,#386b57 12.0px,#356959 15.0px,#32675a 18.0px,#2f655b 21.0px,#2d645c 24.0px,#2d645c 27.0px,#2c635c 30.0px,#2b635c 33.0px,#2b635c 36.0px,#2b635c 39.0px,#2b635c 42.0px,#2b635c 45.0px,#2b635c 48.0px,#2b635c 51.0px,#2b635c 54.0px,#2b635c 57.0px,#2c645c 60.0px,#2d645b 63.0px,#2f655b 66.0px,#30665b 69.0px,#31665a 72.0px,#31675a 75.0px,#32675a 78.0px,#32675a 81.0px,#32675a 84.0px,#346859 87.0px,#386a58 90.0px,#3c6d56 93.0px,#416e54 96.0px,#467050 99.0px,#4d734d 102.0px,#557549 105.0px,#5c7745 108.0px,#607942 111.0px,#647a40 114.0px,#677b3f 117.0px,#6b7c3d 120.0px,#6e7d3c 123.0px,#727e3a 126.0px,#767f39 129.0px,#7a8038 132.0px,#7e8136 135.0px,#838234 138.0px,#888333 141.0px,#8d8531 144.0px,#92862f 147.0px,#96872d 150.0px,#9a882c 153.0px,#9f892c 156.0px,#a38a2e 159.0px,#a78b2f 162.0px,#aa8b31 165.0px,#ae8c33 168.0px,#b18d34 171.0px,#b48d35 174.0px,#b78e37 177.0px,#ba8f38 180.0px,#bc8f39 183.0px,#bb8f39 186.0px,#b98e38 189.0px,#b78e37 192.0px,#b58d36 195.0px,#b18d34 198.0px,#ad8c32 201.0px,#a98b30 204.0px,#a58a2e 207.0px,#a28a2d 210.0px,#9f892c 213.0px,#9e892c 214.8px)"></div><div style="height:1.49px;background:linear-gradient(90deg,#4a714e 0.0px,#467051 3.0px,#416e53 6.0px,#3c6d56 9.0px,#386b57 12.0px,#356959 15.0px,#32675a 18.0px,#2f655b 21.0px,#2d645b 24.0px,#2d645c 27.0px,#2c645c 30.0px,#2c635c 33.0px,#2b635c 36.0px,#2b635c 39.0px,#2b635c 42.0px,#2b635c 45.0px,#2b635c 48.0px,#2b635c 51.0px,#2b635c 54.0px,#2c635c 57.0px,#2c645c 60.0px,#2e645b 63.0px,#2f655b 66.0px,#30665a 69.0px,#31665a 72.0px,#31675a 75.0px,#32675a 78.0px,#32675a 81.0px,#32675a 84.0px,#346859 87.0px,#386a58 90.0px,#3c6d56 93.0px,#416e54 96.0px,#467050 99.0px,#4d734d 102.0px,#557548 105.0px,#5c7745 108.0px,#617942 111.0px,#647a40 114.0px,#677b3f 117.0px,#6b7c3d 120.0px,#6e7d3c 123.0px,#727e3a 126.0px,#757f39 129.0px,#797f38 132.0px,#7d8136 135.0px,#828235 138.0px,#888333 141.0px,#8d8531 144.0px,#92862f 147.0px,#96872d 150.0px,#9b882c 153.0px,#9f892c 156.0px,#a38a2e 159.0px,#a78b2f 162.0px,#aa8b31 165.0px,#ad8c32 168.0px,#b18d34 171.0px,#b48d35 174.0px,#b78e37 177.0px,#ba8e38 180.0px,#bc8f39 183.0px,#ba8f38 186.0px,#b88e37 189.0px,#b68e36 192.0px,#b48d35 195.0px,#b08d34 198.0px,#ac8c32 201.0px,#a88b30 204.0px,#a58a2e 207.0px,#a28a2d 210.0px,#9f892c 213.0px,#9e892c 214.8px)"></div><div style="height:1.49px;background:linear-gradient(90deg,#49714f 0.0px,#457051 3.0px,#406e54 6.0px,#3b6d56 9.0px,#386b58 12.0px,#356959 15.0px,#32675a 18.0px,#2f665b 21.0px,#2e645b 24.0px,#2d645c 27.0px,#2c645c 30.0px,#2c635c 33.0px,#2c635c 36.0px,#2c635c 39.0px,#2c635c 42.0px,#2c635c 45.0px,#2c635c 48.0px,#2c635c 51.0px,#2c635c 54.0px,#2c635c 57.0px,#2d645c 60.0px,#2e655b 63.0px,#2f655b 66.0px,#30665a 69.0px,#31675a 72.0px,#31675a 75.0px,#32675a 78.0px,#32675a 81.0px,#32675a 84.0px,#346859 87.0px,#386a58 90.0px,#3c6d56 93.0px,#416e54 96.0px,#467050 99.0px,#4d734c 102.0px,#557548 105.0px,#5c7744 108.0px,#617942 111.0px,#647a40 114.0px,#677b3e 117.0px,#6b7c3d 120.0px,#6e7d3c 123.0px,#727e3b 126.0px,#757e39 129.0px,#787f38 132.0px,#7c8037 135.0px,#828235 138.0px,#878333 141.0px,#8d8531 144.0px,#92862f 147.0px,#96872d 150.0px,#9b882c 153.0px,#9f892c 156.0px,#a38a2e 159.0px,#a78b2f 162.0px,#aa8b31 165.0px,#ad8c32 168.0px,#b08d34 171.0px,#b38d35 174.0px,#b68e36 177.0px,#b98e38 180.0px,#bb8f39 183.0px,#ba8e38 186.0px,#b88e37 189.0px,#b58e36 192.0px,#b38d35 195.0px,#b08d34 198.0px,#ac8c32 201.0px,#a88b30 204.0px,#a58a2e 207.0px,#a28a2d 210.0px,#9f892c 213.0px,#9e892c 214.8px)"></div><div style="height:1.49px;background:linear-gradient(90deg,#48714f 0.0px,#447051 3.0px,#406e54 6.0px,#3b6c56 9.0px,#386a58 12.0px,#356959 15.0px,#32675a 18.0px,#2f665b 21.0px,#2e645b 24.0px,#2d645c 27.0px,#2c645c 30.0px,#2c635c 33.0px,#2c635c 36.0px,#2c635c 39.0px,#2c635c 42.0px,#2c635c 45.0px,#2c635c 48.0px,#2c635c 51.0px,#2c635c 54.0px,#2c635c 57.0px,#2d645c 60.0px,#2e655b 63.0px,#2f655b 66.0px,#31665a 69.0px,#31675a 72.0px,#32675a 75.0px,#32675a 78.0px,#32675a 81.0px,#32675a 84.0px,#346859 87.0px,#386a58 90.0px,#3c6d56 93.0px,#416e54 96.0px,#467050 99.0px,#4d734c 102.0px,#557548 105.0px,#5c7744 108.0px,#617942 111.0px,#647a40 114.0px,#677b3e 117.0px,#6b7c3d 120.0px,#6e7d3c 123.0px,#717d3b 126.0px,#747e3a 129.0px,#777f38 132.0px,#7c8037 135.0px,#818235 138.0px,#878333 141.0px,#8d8531 144.0px,#92862f 147.0px,#96872d 150.0px,#9b882c 153.0px,#9f892c 156.0px,#a38a2e 159.0px,#a78b2f 162.0px,#aa8b31 165.0px,#ad8c32 168.0px,#b08c33 171.0px,#b38d35 174.0px,#b68e36 177.0px,#b98e38 180.0px,#bb8f38 183.0px,#b98e38 186.0px,#b78e37 189.0px,#b58d36 192.0px,#b28d35 195.0px,#af8c33 198.0px,#ac8c32 201.0px,#a88b30 204.0px,#a58a2e 207.0px,#a28a2d 210.0px,#9f892c 213.0px,#9e892c 214.8px)"></div><div style="height:1.49px;background:linear-gradient(90deg,#477150 0.0px,#446f52 3.0px,#3f6e54 6.0px,#3b6c56 9.0px,#386a58 12.0px,#356959 15.0px,#32675a 18.0px,#2f665b 21.0px,#2e655b 24.0px,#2d645c 27.0px,#2d645c 30.0px,#2c645c 33.0px,#2c635c 36.0px,#2c635c 39.0px,#2c635c 42.0px,#2c635c 45.0px,#2c635c 48.0px,#2c635c 51.0px,#2c635c 54.0px,#2c645c 57.0px,#2d645c 60.0px,#2e655b 63.0px,#2f665b 66.0px,#31665a 69.0px,#32675a 72.0px,#32675a 75.0px,#32675a 78.0px,#32675a 81.0px,#32675a 84.0px,#346859 87.0px,#386a58 90.0px,#3c6d56 93.0px,#416e54 96.0px,#467050 99.0px,#4e734c 102.0px,#557548 105.0px,#5c7744 108.0px,#617942 111.0px,#647a40 114.0px,#677b3e 117.0px,#6b7c3d 120.0px,#6e7d3c 123.0px,#717d3b 126.0px,#747e3a 129.0px,#777f39 132.0px,#7b8037 135.0px,#818235 138.0px,#878333 141.0px,#8d8531 144.0px,#92862f 147.0px,#96872d 150.0px,#9b882c 153.0px,#9f892c 156.0px,#a48a2e 159.0px,#a68b2f 162.0px,#a98b31 165.0px,#ac8c32 168.0px,#af8c33 171.0px,#b28d34 174.0px,#b58e36 177.0px,#b88e37 180.0px,#ba8f38 183.0px,#b98e37 186.0px,#b68e36 189.0px,#b48d35 192.0px,#b18d34 195.0px,#ae8c33 198.0px,#ab8c31 201.0px,#a88b30 204.0px,#a58a2e 207.0px,#a28a2d 210.0px,#9f892c 213.0px,#9e892c 214.8px)"></div><div style="height:1.49px;background:linear-gradient(90deg,#467050 0.0px,#436f52 3.0px,#3e6e55 6.0px,#3b6c57 9.0px,#386a58 12.0px,#356959 15.0px,#32675a 18.0px,#30665b 21.0px,#2e655b 24.0px,#2d645c 27.0px,#2d645c 30.0px,#2c645c 33.0px,#2c645c 36.0px,#2c645c 39.0px,#2c645c 42.0px,#2c645c 45.0px,#2c645c 48.0px,#2c645c 51.0px,#2c645c 54.0px,#2c645c 57.0px,#2d645c 60.0px,#2e655b 63.0px,#30665b 66.0px,#31665a 69.0px,#32675a 72.0px,#32675a 75.0px,#32675a 78.0px,#32675a 81.0px,#32675a 84.0px,#346859 87.0px,#386a58 90.0px,#3c6d56 93.0px,#416e54 96.0px,#467050 99.0px,#4e734c 102.0px,#557548 105.0px,#5d7744 108.0px,#617942 111.0px,#647a40 114.0px,#677b3e 117.0px,#6b7c3d 120.0px,#6e7d3c 123.0px,#717d3b 126.0px,#737e3a 129.0px,#767f39 132.0px,#7a8037 135.0px,#808135 138.0px,#868333 141.0px,#8c8531 144.0px,#92862f 147.0px,#96872d 150.0px,#9b882c 153.0px,#a0892c 156.0px,#a48a2e 159.0px,#a68b2f 162.0px,#a98b30 165.0px,#ab8c31 168.0px,#ae8c33 171.0px,#b18d34 174.0px,#b48d35 177.0px,#b78e37 180.0px,#b98e38 183.0px,#b88e37 186.0px,#b58e36 189.0px,#b38d35 192.0px,#b18d34 195.0px,#ae8c33 198.0px,#ab8c31 201.0px,#a78b30 204.0px,#a48a2e 207.0px,#a28a2d 210.0px,#9f892c 213.0px,#9e892c 214.8px)"></div><div style="height:1.49px;background:linear-gradient(90deg,#457051 0.0px,#426f53 3.0px,#3e6e55 6.0px,#3a6c57 9.0px,#376a58 12.0px,#356959 15.0px,#32675a 18.0px,#30665b 21.0px,#2e655b 24.0px,#2d645c 27.0px,#2d645c 30.0px,#2c645c 33.0px,#2c645c 36.0px,#2c645c 39.0px,#2c645c 42.0px,#2c645c 45.0px,#2c645c 48.0px,#2c645c 51.0px,#2c645c 54.0px,#2c645c 57.0px,#2d645c 60.0px,#2f655b 63.0px,#30665b 66.0px,#31675a 69.0px,#32675a 72.0px,#32675a 75.0px,#32675a 78.0px,#32675a 81.0px,#32675a 84.0px,#346859 87.0px,#386a58 90.0px,#3c6d56 93.0px,#416e54 96.0px,#467050 99.0px,#4e734c 102.0px,#557548 105.0px,#5d7744 108.0px,#617942 111.0px,#647a40 114.0px,#677b3e 117.0px,#6b7c3d 120.0px,#6e7d3c 123.0px,#707d3b 126.0px,#737e3a 129.0px,#767f39 132.0px,#7a8038 135.0px,#808135 138.0px,#868333 141.0px,#8c8531 144.0px,#92862f 147.0px,#97872d 150.0px,#9b892c 153.0px,#a08a2c 156.0px,#a48a2e 159.0px,#a68b2f 162.0px,#a88b30 165.0px,#aa8c31 168.0px,#ad8c32 171.0px,#b08d34 174.0px,#b38d35 177.0px,#b68e36 180.0px,#b98e37 183.0px,#b78e37 186.0px,#b48d36 189.0px,#b28d35 192.0px,#b08d33 195.0px,#ad8c32 198.0px,#aa8b31 201.0px,#a78b30 204.0px,#a48a2e 207.0px,#a28a2d 210.0px,#9f892c 213.0px,#9e892c 214.8px)"></div><div style="height:1.49px;background:linear-gradient(90deg,#447052 0.0px,#416f53 3.0px,#3d6d55 6.0px,#3a6c57 9.0px,#376a58 12.0px,#356959 15.0px,#32675a 18.0px,#30665b 21.0px,#2e655b 24.0px,#2d645b 27.0px,#2d645c 30.0px,#2d645c 33.0px,#2d645c 36.0px,#2d645c 39.0px,#2d645c 42.0px,#2d645c 45.0px,#2d645c 48.0px,#2d645c 51.0px,#2d645c 54.0px,#2d645c 57.0px,#2d645b 60.0px,#2f655b 63.0px,#30665b 66.0px,#31675a 69.0px,#32675a 72.0px,#32675a 75.0px,#32675a 78.0px,#32675a 81.0px,#32675a 84.0px,#346859 87.0px,#386a58 90.0px,#3c6d56 93.0px,#416e54 96.0px,#467050 99.0px,#4e734c 102.0px,#567548 105.0px,#5d7844 108.0px,#627942 111.0px,#647a40 114.0px,#677b3e 117.0px,#6b7c3d 120.0px,#6e7c3c 123.0px,#707d3b 126.0px,#727e3a 129.0px,#757e39 132.0px,#798038 135.0px,#7f8136 138.0px,#868333 141.0px,#8c8531 144.0px,#92862f 147.0px,#97872d 150.0px,#9b892c 153.0px,#a08a2c 156.0px,#a48a2e 159.0px,#a68b2f 162.0px,#a88b30 165.0px,#aa8b31 168.0px,#ac8c32 171.0px,#af8c33 174.0px,#b28d35 177.0px,#b58e36 180.0px,#b88e37 183.0px,#b68e36 186.0px,#b38d35 189.0px,#b18d34 192.0px,#ae8c33 195.0px,#ac8c32 198.0px,#a98b31 201.0px,#a78b2f 204.0px,#a48a2e 207.0px,#a28a2d 210.0px,#9f892c 213.0px,#9e892c 214.8px)"></div><div style="height:1.49px;background:linear-gradient(90deg,#436f52 0.0px,#406e54 3.0px,#3c6d56 6.0px,#3a6c57 9.0px,#376a58 12.0px,#356959 15.0px,#32675a 18.0px,#30665b 21.0px,#2e655b 24.0px,#2e645b 27.0px,#2d645c 30.0px,#2d645c 33.0px,#2d645c 36.0px,#2d645c 39.0px,#2d645c 42.0px,#2d645c 45.0px,#2d645c 48.0px,#2d645c 51.0px,#2d645c 54.0px,#2d645c 57.0px,#2e645b 60.0px,#2f655b 63.0px,#30665a 66.0px,#31675a 69.0px,#32675a 72.0px,#32675a 75.0px,#32675a 78.0px,#32675a 81.0px,#32675a 84.0px,#346859 87.0px,#386a58 90.0px,#3c6d56 93.0px,#416e54 96.0px,#467050 99.0px,#4e734c 102.0px,#567548 105.0px,#5d7844 108.0px,#627941 111.0px,#657a40 114.0px,#677b3e 117.0px,#6b7c3d 120.0px,#6d7c3c 123.0px,#707d3b 126.0px,#727e3a 129.0px,#747e3a 132.0px,#787f38 135.0px,#7f8136 138.0px,#868333 141.0px,#8c8531 144.0px,#92862f 147.0px,#97872d 150.0px,#9b892c 153.0px,#a08a2c 156.0px,#a48a2e 159.0px,#a68b2f 162.0px,#a78b30 165.0px,#a98b30 168.0px,#ab8c31 171.0px,#ae8c33 174.0px,#b18d34 177.0px,#b58d36 180.0px,#b78e37 183.0px,#b58e36 186.0px,#b28d35 189.0px,#b08d34 192.0px,#ad8c32 195.0px,#ab8c31 198.0px,#a98b30 201.0px,#a78b2f 204.0px,#a48a2e 207.0px,#a28a2d 210.0px,#9f892c 213.0px,#9e892c 214.8px)"></div><div style="height:1.49px;background:linear-gradient(90deg,#426f53 0.0px,#3f6e54 3.0px,#3c6d56 6.0px,#396b57 9.0px,#376a58 12.0px,#356959 15.0px,#32675a 18.0px,#30665b 21.0px,#2e655b 24.0px,#2e645b 27.0px,#2d645c 30.0px,#2d645c 33.0px,#2d645c 36.0px,#2d645c 39.0px,#2d645c 42.0px,#2d645c 45.0px,#2d645c 48.0px,#2d645c 51.0px,#2d645c 54.0px,#2d645c 57.0px,#2e655b 60.0px,#2f655b 63.0px,#30665a 66.0px,#32675a 69.0px,#32675a 72.0px,#32675a 75.0px,#32675a 78.0px,#32675a 81.0px,#32675a 84.0px,#346859 87.0px,#386a58 90.0px,#3c6d56 93.0px,#416e54 96.0px,#467050 99.0px,#4e734c 102.0px,#567548 105.0px,#5d7844 108.0px,#627941 111.0px,#657a40 114.0px,#687b3e 117.0px,#6b7c3d 120.0px,#6d7c3c 123.0px,#707d3b 126.0px,#727e3b 129.0px,#747e3a 132.0px,#787f38 135.0px,#7f8136 138.0px,#858333 141.0px,#8c8531 144.0px,#92862f 147.0px,#97872d 150.0px,#9b892c 153.0px,#a08a2c 156.0px,#a48a2e 159.0px,#a68b2f 162.0px,#a78b30 165.0px,#a88b30 168.0px,#aa8b31 171.0px,#ad8c32 174.0px,#b18d34 177.0px,#b48d35 180.0px,#b68e36 183.0px,#b48d36 186.0px,#b28d34 189.0px,#af8c33 192.0px,#ad8c32 195.0px,#aa8c31 198.0px,#a88b30 201.0px,#a68b2f 204.0px,#a48a2e 207.0px,#a28a2d 210.0px,#9f892c 213.0px,#9e892c 214.8px)"></div></div><div style="position:absolute;left:402.2px;top:228.7px;width:219.6px;height:180.0px;overflow:hidden"><div style="height:1.00px;background:linear-gradient(90deg,#124460 0.0px,#144861 8.0px,#154b61 16.0px,#174e61 24.0px,#185261 32.0px,#1a5562 40.0px,#1b5862 48.0px,#1e5b61 56.0px,#225e60 64.0px,#245f5f 72.0px,#245f5f 80.0px,#245f5f 88.0px,#245f5f 96.0px,#245f5f 104.0px,#245f5f 112.0px,#245f5f 120.0px,#245f5f 128.0px,#245f5f 136.0px,#245f5f 144.0px,#245f5f 152.0px,#245f5f 160.0px,#245f5f 168.0px,#245f5f 176.0px,#245f5f 184.0px,#245f5f 192.0px,#245f5f 200.0px,#245f5f 208.0px,#245f5f 216.0px,#245f5f 219.6px)"></div><div style="height:1.00px;background:linear-gradient(90deg,#29625d 0.0px,#2d645c 8.0px,#31665a 16.0px,#356959 24.0px,#396b57 32.0px,#3d6d56 40.0px,#426f53 48.0px,#487150 56.0px,#4d724d 64.0px,#50734b 72.0px,#50734b 80.0px,#50734b 88.0px,#50734b 96.0px,#50734b 104.0px,#50734b 112.0px,#50734b 120.0px,#50734b 128.0px,#50734b 136.0px,#50734b 144.0px,#50734b 152.0px,#50734b 160.0px,#50734b 168.0px,#50734b 176.0px,#50734b 184.0px,#50734b 192.0px,#50734b 200.0px,#50734b 208.0px,#50734b 216.0px,#50734b 219.6px)"></div><div style="height:1.00px;background:linear-gradient(90deg,#50734b 0.0px,#567548 8.0px,#5c7745 16.0px,#617942 24.0px,#677b3f 32.0px,#6d7c3c 40.0px,#747e3a 48.0px,#7b8037 56.0px,#828235 64.0px,#858334 72.0px,#858334 80.0px,#858334 88.0px,#858334 96.0px,#858334 104.0px,#858334 112.0px,#858334 120.0px,#858334 128.0px,#858334 136.0px,#858334 144.0px,#858334 152.0px,#858334 160.0px,#858334 168.0px,#858334 176.0px,#858334 184.0px,#858334 192.0px,#858334 200.0px,#858334 208.0px,#858334 216.0px,#858334 219.6px)"></div><div style="height:1.00px;background:linear-gradient(90deg,#797f38 0.0px,#7e8136 8.0px,#848234 16.0px,#898432 24.0px,#8f8530 32.0px,#94872e 40.0px,#9a882c 48.0px,#9f892c 56.0px,#a58b2f 64.0px,#a88b30 72.0px,#a88b30 80.0px,#a88b30 88.0px,#a88b30 96.0px,#a88b30 104.0px,#a88b30 112.0px,#a88b30 120.0px,#a88b30 128.0px,#a88b30 136.0px,#a88b30 144.0px,#a88b30 152.0px,#a88b30 160.0px,#a88b30 168.0px,#a88b30 176.0px,#a88b30 184.0px,#a88b30 192.0px,#a88b30 200.0px,#a88b30 208.0px,#a88b30 216.0px,#a88b30 219.6px)"></div><div style="height:1.00px;background:linear-gradient(90deg,#99882d 0.0px,#9d892b 8.0px,#a28a2d 16.0px,#a78b30 24.0px,#ac8c32 32.0px,#b18d34 40.0px,#b68e36 48.0px,#bb8f39 56.0px,#c0903b 64.0px,#c2903c 72.0px,#c2903c 80.0px,#c2903c 88.0px,#c2903c 96.0px,#c2903c 104.0px,#c2903c 112.0px,#c2903c 120.0px,#c2903c 128.0px,#c2903c 136.0px,#c2903c 144.0px,#c2903c 152.0px,#c2903c 160.0px,#c2903c 168.0px,#c2903c 176.0px,#c2903c 184.0px,#c2903c 192.0px,#c2903c 200.0px,#c2903c 208.0px,#c2903c 216.0px,#c2903c 219.6px)"></div><div style="height:1.00px;background:linear-gradient(90deg,#b18d34 0.0px,#b68e36 8.0px,#ba8f38 16.0px,#bf8f3a 24.0px,#c4903d 32.0px,#c8913f 40.0px,#cd9241 48.0px,#d29343 56.0px,#d59448 64.0px,#d7954a 72.0px,#d7954a 80.0px,#d7954a 88.0px,#d7954a 96.0px,#d7954a 104.0px,#d7954a 112.0px,#d7954a 120.0px,#d7954a 128.0px,#d7954a 136.0px,#d7954a 144.0px,#d7954a 152.0px,#d7954a 160.0px,#d7954a 168.0px,#d7954a 176.0px,#d7954a 184.0px,#d7954a 192.0px,#d7954a 200.0px,#d7954a 208.0px,#d7954a 216.0px,#d7954a 219.6px)"></div><div style="height:1.00px;background:linear-gradient(90deg,#c5913d 0.0px,#ca913f 8.0px,#ce9241 16.0px,#d39344 24.0px,#d69549 32.0px,#da964e 40.0px,#dd9753 48.0px,#e09858 56.0px,#e49a5d 64.0px,#e59a60 72.0px,#e59a60 80.0px,#e59a60 88.0px,#e59a60 96.0px,#e59a60 104.0px,#e59a60 112.0px,#e59a60 120.0px,#e59a60 128.0px,#e59a60 136.0px,#e59a60 144.0px,#e59a60 152.0px,#e59a60 160.0px,#e59a60 168.0px,#e59a60 176.0px,#e59a60 184.0px,#e59a60 192.0px,#e59a60 200.0px,#e59a60 208.0px,#e59a60 216.0px,#e59a60 219.6px)"></div><div style="height:1.00px;background:linear-gradient(90deg,#d49446 0.0px,#d7954b 8.0px,#db9650 16.0px,#de9755 24.0px,#e2995a 32.0px,#e59a5f 40.0px,#e89b64 48.0px,#ec9c69 56.0px,#ef9e6e 64.0px,#f19e70 72.0px,#f19e70 80.0px,#f19e70 88.0px,#f19e70 96.0px,#f19e70 104.0px,#f19e70 112.0px,#f19e70 120.0px,#f19e70 128.0px,#f19e70 136.0px,#f19e70 144.0px,#f19e70 152.0px,#f19e70 160.0px,#f19e70 168.0px,#f19e70 176.0px,#f19e70 184.0px,#f19e70 192.0px,#f19e70 200.0px,#f19e70 208.0px,#f19e70 216.0px,#f19e70 219.6px)"></div><div style="height:1.00px;background:linear-gradient(90deg,#dd9754 0.0px,#e19859 8.0px,#e49a5e 16.0px,#e79b63 24.0px,#eb9c68 32.0px,#ee9d6d 40.0px,#f29f72 48.0px,#f5a077 56.0px,#f8a17c 64.0px,#f8a27f 72.0px,#f8a27f 80.0px,#f8a27f 88.0px,#f8a27f 96.0px,#f8a27f 104.0px,#f8a27f 112.0px,#f8a27f 120.0px,#f8a27f 128.0px,#f8a27f 136.0px,#f8a27f 144.0px,#f8a27f 152.0px,#f8a27f 160.0px,#f8a27f 168.0px,#f8a27f 176.0px,#f8a27f 184.0px,#f8a27f 192.0px,#f8a27f 200.0px,#f8a27f 208.0px,#f8a27f 216.0px,#f8a27f 219.6px)"></div><div style="height:1.00px;background:linear-gradient(90deg,#e69a60 0.0px,#e99c65 8.0px,#ed9d6a 16.0px,#f09e6f 24.0px,#f39f74 32.0px,#f7a179 40.0px,#f8a27f 48.0px,#f9a485 56.0px,#f9a68b 64.0px,#f9a78d 72.0px,#f9a78d 80.0px,#f9a78d 88.0px,#f9a78d 96.0px,#f9a78d 104.0px,#f9a78d 112.0px,#f9a78d 120.0px,#f9a78d 128.0px,#f9a78d 136.0px,#f9a78d 144.0px,#f9a78d 152.0px,#f9a78d 160.0px,#f9a78d 168.0px,#f9a78d 176.0px,#f9a78d 184.0px,#f9a78d 192.0px,#f9a78d 200.0px,#f9a78d 208.0px,#f9a78d 216.0px,#f9a78d 219.6px)"></div><div style="height:1.00px;background:linear-gradient(90deg,#e99c66 0.0px,#ed9d6a 8.0px,#f09e6f 16.0px,#f49f75 24.0px,#f7a17a 32.0px,#f8a27f 40.0px,#f9a485 48.0px,#f9a68b 56.0px,#faa891 64.0px,#faa993 72.0px,#faa993 80.0px,#faa993 88.0px,#faa993 96.0px,#faa993 104.0px,#faa993 112.0px,#faa993 120.0px,#faa993 128.0px,#faa993 136.0px,#faa993 144.0px,#faa993 152.0px,#faa993 160.0px,#faa993 168.0px,#faa993 176.0px,#faa993 184.0px,#faa993 192.0px,#faa993 200.0px,#faa993 208.0px,#faa993 216.0px,#faa993 219.6px)"></div><div style="height:1.00px;background:linear-gradient(90deg,#eb9c68 0.0px,#ee9d6d 8.0px,#f29f72 16.0px,#f5a077 24.0px,#f8a17c 32.0px,#f9a382 40.0px,#f9a587 48.0px,#f9a78d 56.0px,#faa993 64.0px,#faaa96 72.0px,#faaa96 80.0px,#faaa96 88.0px,#faaa96 96.0px,#faaa96 104.0px,#faaa96 112.0px,#faaa96 120.0px,#faaa96 128.0px,#faaa96 136.0px,#faaa96 144.0px,#faaa96 152.0px,#faaa96 160.0px,#faaa96 168.0px,#faaa96 176.0px,#faaa96 184.0px,#faaa96 192.0px,#faaa96 200.0px,#faaa96 208.0px,#faaa96 216.0px,#faaa96 219.6px)"></div><div style="height:1.00px;background:linear-gradient(90deg,#ed9d6a 0.0px,#f09e6f 8.0px,#f39f74 16.0px,#f7a179 24.0px,#f8a27e 32.0px,#f9a484 40.0px,#f9a68a 48.0px,#faa88f 56.0px,#faaa95 64.0px,#faab98 72.0px,#faab98 80.0px,#faab98 88.0px,#faab98 96.0px,#faab98 104.0px,#faab98 112.0px,#faab98 120.0px,#faab98 128.0px,#faab98 136.0px,#faab98 144.0px,#faab98 152.0px,#faab98 160.0px,#faab98 168.0px,#faab98 176.0px,#faab98 184.0px,#faab98 192.0px,#faab98 200.0px,#faab98 208.0px,#faab98 216.0px,#faab98 219.6px)"></div><div style="height:1.00px;background:linear-gradient(90deg,#ee9d6d 0.0px,#f29f72 8.0px,#f5a076 16.0px,#f8a17b 24.0px,#f8a381 32.0px,#f9a587 40.0px,#f9a78c 48.0px,#faa992 56.0px,#faab97 64.0px,#faac9a 72.0px,#faac9a 80.0px,#faac9a 88.0px,#faac9a 96.0px,#faac9a 104.0px,#faac9a 112.0px,#faac9a 120.0px,#faac9a 128.0px,#faac9a 136.0px,#faac9a 144.0px,#faac9a 152.0px,#faac9a 160.0px,#faac9a 168.0px,#faac9a 176.0px,#faac9a 184.0px,#faac9a 192.0px,#faac9a 200.0px,#faac9a 208.0px,#faac9a 216.0px,#faac9a 219.6px)"></div><div style="height:1.00px;background:linear-gradient(90deg,#f09e6f 0.0px,#f39f74 8.0px,#f6a079 16.0px,#f8a27e 24.0px,#f9a483 32.0px,#f9a689 40.0px,#faa88f 48.0px,#faaa94 56.0px,#faab9a 64.0px,#fbac9c 72.0px,#fbac9c 80.0px,#fbac9c 88.0px,#fbac9c 96.0px,#fbac9c 104.0px,#fbac9c 112.0px,#fbac9c 120.0px,#fbac9c 128.0px,#fbac9c 136.0px,#fbac9c 144.0px,#fbac9c 152.0px,#fbac9c 160.0px,#fbac9c 168.0px,#fbac9c 176.0px,#fbac9c 184.0px,#fbac9c 192.0px,#fbac9c 200.0px,#fbac9c 208.0px,#fbac9c 216.0px,#fbac9c 219.6px)"></div><div style="height:1.00px;background:linear-gradient(90deg,#f29f72 0.0px,#f5a076 8.0px,#f8a17b 16.0px,#f8a380 24.0px,#f9a586 32.0px,#f9a78b 40.0px,#faa891 48.0px,#faaa96 56.0px,#fbac9c 64.0px,#fbad9f 72.0px,#fbad9f 80.0px,#fbad9f 88.0px,#fbad9f 96.0px,#fbad9f 104.0px,#fbad9f 112.0px,#fbad9f 120.0px,#fbad9f 128.0px,#fbad9f 136.0px,#fbad9f 144.0px,#fbad9f 152.0px,#fbad9f 160.0px,#fbad9f 168.0px,#fbad9f 176.0px,#fbad9f 184.0px,#fbad9f 192.0px,#fbad9f 200.0px,#fbad9f 208.0px,#fbad9f 216.0px,#fbad9f 219.6px)"></div><div style="height:1.00px;background:linear-gradient(90deg,#f39f74 0.0px,#f6a078 8.0px,#f8a27d 16.0px,#f9a483 24.0px,#f9a688 32.0px,#f9a78e 40.0px,#faa993 48.0px,#faab99 56.0px,#fbad9e 64.0px,#fbaea1 72.0px,#fbaea1 80.0px,#fbaea1 88.0px,#fbaea1 96.0px,#fbaea1 104.0px,#fbaea1 112.0px,#fbaea1 120.0px,#fbaea1 128.0px,#fbaea1 136.0px,#fbaea1 144.0px,#fbaea1 152.0px,#fbaea1 160.0px,#fbaea1 168.0px,#fbaea1 176.0px,#fbaea1 184.0px,#fbaea1 192.0px,#fbaea1 200.0px,#fbaea1 208.0px,#fbaea1 216.0px,#fbaea1 219.6px)"></div><div style="height:1.00px;background:linear-gradient(90deg,#f5a076 0.0px,#f8a17b 8.0px,#f8a380 16.0px,#f9a585 24.0px,#f9a68b 32.0px,#faa890 40.0px,#faaa96 48.0px,#faac9b 56.0px,#fbaea1 64.0px,#fbafa3 72.0px,#fbafa3 80.0px,#fbafa3 88.0px,#fbafa3 96.0px,#fbafa3 104.0px,#fbafa3 112.0px,#fbafa3 120.0px,#fbafa3 128.0px,#fbafa3 136.0px,#fbafa3 144.0px,#fbafa3 152.0px,#fbafa3 160.0px,#fbafa3 168.0px,#fbafa3 176.0px,#fbafa3 184.0px,#fbafa3 192.0px,#fbafa3 200.0px,#fbafa3 208.0px,#fbafa3 216.0px,#fbafa3 219.6px)"></div><div style="height:1.00px;background:linear-gradient(90deg,#f6a079 0.0px,#f8a27d 8.0px,#f9a482 16.0px,#f9a588 24.0px,#f9a78d 32.0px,#faa993 40.0px,#faab98 48.0px,#fbad9d 56.0px,#fbaea3 64.0px,#fbafa5 72.0px,#fbafa5 80.0px,#fbafa5 88.0px,#fbafa5 96.0px,#fbafa5 104.0px,#fbafa5 112.0px,#fbafa5 120.0px,#fbafa5 128.0px,#fbafa5 136.0px,#fbafa5 144.0px,#fbafa5 152.0px,#fbafa5 160.0px,#fbafa5 168.0px,#fbafa5 176.0px,#fbafa5 184.0px,#fbafa5 192.0px,#fbafa5 200.0px,#fbafa5 208.0px,#fbafa5 216.0px,#fbafa5 219.6px)"></div><div style="height:1.00px;background:linear-gradient(90deg,#f8a17b 0.0px,#f8a380 8.0px,#f9a485 16.0px,#f9a68b 24.0px,#faa890 32.0px,#faaa95 40.0px,#faac9a 48.0px,#fbada0 56.0px,#fbafa5 64.0px,#fbb0a7 72.0px,#fbb0a7 80.0px,#fbb0a7 88.0px,#fbb0a7 96.0px,#fbb0a7 104.0px,#fbb0a7 112.0px,#fbb0a7 120.0px,#fbb0a7 128.0px,#fbb0a7 136.0px,#fbb0a7 144.0px,#fbb0a7 152.0px,#fbb0a7 160.0px,#fbb0a7 168.0px,#fbb0a7 176.0px,#fbb0a7 184.0px,#fbb0a7 192.0px,#fbb0a7 200.0px,#fbb0a7 208.0px,#fbb0a7 216.0px,#fbb0a7 219.6px)"></div><div style="height:1.00px;background:linear-gradient(90deg,#f8a381 0.0px,#f9a485 8.0px,#f9a68a 16.0px,#f9a88e 24.0px,#faa993 32.0px,#faab98 40.0px,#fbac9c 48.0px,#fbaea1 56.0px,#fbafa6 64.0px,#fbb0a8 72.0px,#fbb0a8 80.0px,#fbb0a8 88.0px,#fbb0a8 96.0px,#fbb0a8 104.0px,#fbb0a8 112.0px,#fbb0a8 120.0px,#fbb0a8 128.0px,#fbb0a8 136.0px,#fbb0a8 144.0px,#fbb0a8 152.0px,#fbb0a8 160.0px,#fbb0a8 168.0px,#fbb0a8 176.0px,#fbb0a8 184.0px,#fbb0a8 192.0px,#fbb0a8 200.0px,#fbb0a8 208.0px,#fbb0a8 216.0px,#fbb0a8 219.6px)"></div><div style="height:1.00px;background:linear-gradient(90deg,#f9a586 0.0px,#f9a68a 8.0px,#f9a78e 16.0px,#faa992 24.0px,#faaa96 32.0px,#faac9a 40.0px,#fbad9e 48.0px,#fbaea3 56.0px,#fbb0a7 64.0px,#fcb1a9 72.0px,#fcb1a9 80.0px,#fcb1a9 88.0px,#fcb1a9 96.0px,#fcb1a9 104.0px,#fcb1a9 112.0px,#fcb1a9 120.0px,#fcb1a9 128.0px,#fcb1a9 136.0px,#fcb1a9 144.0px,#fcb1a9 152.0px,#fcb1a9 160.0px,#fcb1a9 168.0px,#fcb1a9 176.0px,#fcb1a9 184.0px,#fcb1a9 192.0px,#fcb1a9 200.0px,#fcb1a9 208.0px,#fcb1a9 216.0px,#fcb1a9 219.6px)"></div><div style="height:1.00px;background:linear-gradient(90deg,#f9a78b 0.0px,#f9a88e 8.0px,#faa992 16.0px,#faaa96 24.0px,#faab99 32.0px,#fbac9d 40.0px,#fbaea1 48.0px,#fbafa4 56.0px,#fbb0a8 64.0px,#fcb1aa 72.0px,#fcb1aa 80.0px,#fcb1aa 88.0px,#fcb1aa 96.0px,#fcb1aa 104.0px,#fcb1aa 112.0px,#fcb1aa 120.0px,#fcb1aa 128.0px,#fcb1aa 136.0px,#fcb1aa 144.0px,#fcb1aa 152.0px,#fcb1aa 160.0px,#fcb1aa 168.0px,#fcb1aa 176.0px,#fcb1aa 184.0px,#fcb1aa 192.0px,#fcb1aa 200.0px,#fcb1aa 208.0px,#fcb1aa 216.0px,#fcb1aa 219.6px)"></div><div style="height:1.00px;background:linear-gradient(90deg,#faa891 0.0px,#faa993 8.0px,#faaa96 16.0px,#faab99 24.0px,#fbac9c 32.0px,#fbada0 40.0px,#fbaea3 48.0px,#fbafa6 56.0px,#fcb1a9 64.0px,#fcb1aa 72.0px,#fcb1aa 80.0px,#fcb1aa 88.0px,#fcb1aa 96.0px,#fcb1aa 104.0px,#fcb1aa 112.0px,#fcb1aa 120.0px,#fcb1aa 128.0px,#fcb1aa 136.0px,#fcb1aa 144.0px,#fcb1aa 152.0px,#fcb1aa 160.0px,#fcb1aa 168.0px,#fcb1aa 176.0px,#fcb1aa 184.0px,#fcb1aa 192.0px,#fcb1aa 200.0px,#fcb1aa 208.0px,#fcb1aa 216.0px,#fcb1aa 219.6px)"></div><div style="height:1.00px;background:linear-gradient(90deg,#faaa96 0.0px,#faab98 8.0px,#faac9a 16.0px,#fbad9d 24.0px,#fbada0 32.0px,#fbaea2 40.0px,#fbafa5 48.0px,#fbb0a7 56.0px,#fcb1aa 64.0px,#fcb1ab 72.0px,#fcb1ab 80.0px,#fcb1ab 88.0px,#fcb1ab 96.0px,#fcb1ab 104.0px,#fcb1ab 112.0px,#fcb1ab 120.0px,#fcb1ab 128.0px,#fcb1ab 136.0px,#fcb1ab 144.0px,#fcb1ab 152.0px,#fcb1ab 160.0px,#fcb1ab 168.0px,#fcb1ab 176.0px,#fcb1ab 184.0px,#fcb1ab 192.0px,#fcb1ab 200.0px,#fcb1ab 208.0px,#fcb1ab 216.0px,#fcb1ab 219.6px)"></div><div style="height:1.00px;background:linear-gradient(90deg,#fbac9c 0.0px,#fbac9d 8.0px,#fbad9f 16.0px,#fbaea1 24.0px,#fbaea3 32.0px,#fbafa5 40.0px,#fbb0a7 48.0px,#fcb0a9 56.0px,#fcb1ab 64.0px,#fcb1ac 72.0px,#fcb1ac 80.0px,#fcb1ac 88.0px,#fcb1ac 96.0px,#fcb1ac 104.0px,#fcb1ac 112.0px,#fcb1ac 120.0px,#fcb1ac 128.0px,#fcb1ac 136.0px,#fcb1ac 144.0px,#fcb1ac 152.0px,#fcb1ac 160.0px,#fcb1ac 168.0px,#fcb1ac 176.0px,#fcb1ac 184.0px,#fcb1ac 192.0px,#fcb1ac 200.0px,#fcb1ac 208.0px,#fcb1ac 216.0px,#fcb1ac 219.6px)"></div><div style="height:1.00px;background:linear-gradient(90deg,#fbaea1 0.0px,#fbaea2 8.0px,#fbafa3 16.0px,#fbafa4 24.0px,#fbb0a6 32.0px,#fbb0a7 40.0px,#fcb1a9 48.0px,#fcb1aa 56.0px,#fcb2ac 64.0px,#fcb2ac 72.0px,#fcb2ac 80.0px,#fcb2ac 88.0px,#fcb2ac 96.0px,#fcb2ac 104.0px,#fcb2ac 112.0px,#fcb2ac 120.0px,#fcb2ac 128.0px,#fcb2ac 136.0px,#fcb2ac 144.0px,#fcb2ac 152.0px,#fcb2ac 160.0px,#fcb2ac 168.0px,#fcb2ac 176.0px,#fcb2ac 184.0px,#fcb2ac 192.0px,#fcb2ac 200.0px,#fcb2ac 208.0px,#fcb2ac 216.0px,#fcb2ac 219.6px)"></div><div style="height:1.00px;background:linear-gradient(90deg,#fbafa6 0.0px,#fbafa6 8.0px,#fbb0a7 16.0px,#fbb0a8 24.0px,#fcb0a9 32.0px,#fcb1aa 40.0px,#fcb1ab 48.0px,#fcb1ac 56.0px,#fcb2ad 64.0px,#fcb2ad 72.0px,#fcb2ad 80.0px,#fcb2ad 88.0px,#fcb2ad 96.0px,#fcb2ad 104.0px,#fcb2ad 112.0px,#fcb2ad 120.0px,#fcb2ad 128.0px,#fcb2ad 136.0px,#fcb2ad 144.0px,#fcb2ad 152.0px,#fcb2ad 160.0px,#fcb2ad 168.0px,#fcb2ad 176.0px,#fcb2ad 184.0px,#fcb2ad 192.0px,#fcb2ad 200.0px,#fcb2ad 208.0px,#fcb2ad 216.0px,#fcb2ad 219.6px)"></div><div style="height:1.00px;background:linear-gradient(90deg,#fbb0a6 0.0px,#fbb0a6 8.0px,#fbb0a7 16.0px,#fbb0a8 24.0px,#fcb1a9 32.0px,#fcb1ab 40.0px,#fcb1ac 48.0px,#fcb2ad 56.0px,#fcb2ae 64.0px,#fcb2ae 72.0px,#fcb2ae 80.0px,#fcb2ae 88.0px,#fcb2ae 96.0px,#fcb2ae 104.0px,#fcb2ae 112.0px,#fcb2ae 120.0px,#fcb2ae 128.0px,#fcb2ae 136.0px,#fcb2ae 144.0px,#fcb2ae 152.0px,#fcb2ae 160.0px,#fcb2ae 168.0px,#fcb2ae 176.0px,#fcb2ae 184.0px,#fcb2ae 192.0px,#fcb2ae 200.0px,#fcb2ae 208.0px,#fcb2ae 216.0px,#fcb2ae 219.6px)"></div><div style="height:1.00px;background:linear-gradient(90deg,#fbb0a7 0.0px,#fbb0a7 8.0px,#fbb0a8 16.0px,#fcb1a9 24.0px,#fcb1aa 32.0px,#fcb1ab 40.0px,#fcb2ac 48.0px,#fcb2ae 56.0px,#fcb2af 64.0px,#fcb3af 72.0px,#fcb3af 80.0px,#fcb3af 88.0px,#fcb3af 96.0px,#fcb3af 104.0px,#fcb3af 112.0px,#fcb3af 120.0px,#fcb3af 128.0px,#fcb3af 136.0px,#fcb3af 144.0px,#fcb3af 152.0px,#fcb3af 160.0px,#fcb3af 168.0px,#fcb3af 176.0px,#fcb3af 184.0px,#fcb3af 192.0px,#fcb3af 200.0px,#fcb3af 208.0px,#fcb3af 216.0px,#fcb3af 219.6px)"></div><div style="height:1.00px;background:linear-gradient(90deg,#fbb0a8 0.0px,#fbb0a8 8.0px,#fcb1a9 16.0px,#fcb1aa 24.0px,#fcb1ab 32.0px,#fcb2ac 40.0px,#fcb2ad 48.0px,#fcb2ae 56.0px,#fcb3b0 64.0px,#fcb3b0 72.0px,#fcb3b0 80.0px,#fcb3b0 88.0px,#fcb3b0 96.0px,#fcb3b0 104.0px,#fcb3b0 112.0px,#fcb3b0 120.0px,#fcb3b0 128.0px,#fcb3b0 136.0px,#fcb3b0 144.0px,#fcb3b0 152.0px,#fcb3b0 160.0px,#fcb3b0 168.0px,#fcb3b0 176.0px,#fcb3b0 184.0px,#fcb3b0 192.0px,#fcb3b0 200.0px,#fcb3b0 208.0px,#fcb3b0 216.0px,#fcb3b0 219.6px)"></div><div style="height:1.00px;background:linear-gradient(90deg,#fbb0a8 0.0px,#fcb0a9 8.0px,#fcb1aa 16.0px,#fcb1ab 24.0px,#fcb2ac 32.0px,#fcb2ad 40.0px,#fcb2ae 48.0px,#fcb3af 56.0px,#fcb3b1 64.0px,#fcb3b1 72.0px,#fcb3b1 80.0px,#fcb3b1 88.0px,#fcb3b1 96.0px,#fcb3b1 104.0px,#fcb3b1 112.0px,#fcb3b1 120.0px,#fcb3b1 128.0px,#fcb3b1 136.0px,#fcb3b1 144.0px,#fcb3b1 152.0px,#fcb3b1 160.0px,#fcb3b1 168.0px,#fcb3b1 176.0px,#fcb3b1 184.0px,#fcb3b1 192.0px,#fcb3b1 200.0px,#fcb3b1 208.0px,#fcb3b1 216.0px,#fcb3b1 219.6px)"></div><div style="height:1.00px;background:linear-gradient(90deg,#fcb1a9 0.0px,#fcb1a9 8.0px,#fcb1ab 16.0px,#fcb1ac 24.0px,#fcb2ad 32.0px,#fcb2ae 40.0px,#fcb3af 48.0px,#fcb3b0 56.0px,#fcb3b2 64.0px,#fcb4b2 72.0px,#fcb4b2 80.0px,#fcb4b2 88.0px,#fcb4b2 96.0px,#fcb4b2 104.0px,#fcb4b2 112.0px,#fcb4b2 120.0px,#fcb4b2 128.0px,#fcb4b2 136.0px,#fcb4b2 144.0px,#fcb4b2 152.0px,#fcb4b2 160.0px,#fcb4b2 168.0px,#fcb4b2 176.0px,#fcb4b2 184.0px,#fcb4b2 192.0px,#fcb4b2 200.0px,#fcb4b2 208.0px,#fcb4b2 216.0px,#fcb4b2 219.6px)"></div><div style="height:1.00px;background:linear-gradient(90deg,#fcb1aa 0.0px,#fcb1aa 8.0px,#fcb1ac 16.0px,#fcb2ad 24.0px,#fcb2ae 32.0px,#fcb3af 40.0px,#fcb3b0 48.0px,#fcb3b1 56.0px,#fcb4b3 64.0px,#fcb4b3 72.0px,#fcb4b3 80.0px,#fcb4b3 88.0px,#fcb4b3 96.0px,#fcb4b3 104.0px,#fcb4b3 112.0px,#fcb4b3 120.0px,#fcb4b3 128.0px,#fcb4b3 136.0px,#fcb4b3 144.0px,#fcb4b3 152.0px,#fcb4b3 160.0px,#fcb4b3 168.0px,#fcb4b3 176.0px,#fcb4b3 184.0px,#fcb4b3 192.0px,#fcb4b3 200.0px,#fcb4b3 208.0px,#fcb4b3 216.0px,#fcb4b3 219.6px)"></div><div style="height:1.00px;background:linear-gradient(90deg,#fcb1ab 0.0px,#fcb1ab 8.0px,#fcb2ad 16.0px,#fcb2ae 24.0px,#fcb3af 32.0px,#fcb3b0 40.0px,#fcb3b1 48.0px,#fcb4b2 56.0px,#fcb4b4 64.0px,#fcb4b4 72.0px,#fcb4b4 80.0px,#fcb4b4 88.0px,#fcb4b4 96.0px,#fcb4b4 104.0px,#fcb4b4 112.0px,#fcb4b4 120.0px,#fcb4b4 128.0px,#fcb4b4 136.0px,#fcb4b4 144.0px,#fcb4b4 152.0px,#fcb4b4 160.0px,#fcb4b4 168.0px,#fcb4b4 176.0px,#fcb4b4 184.0px,#fcb4b4 192.0px,#fcb4b4 200.0px,#fcb4b4 208.0px,#fcb4b4 216.0px,#fcb4b4 219.6px)"></div><div style="height:1.00px;background:linear-gradient(90deg,#fcb2ac 0.0px,#fcb2ad 8.0px,#fcb2ae 16.0px,#fcb3af 24.0px,#fcb3b0 32.0px,#fcb3b1 40.0px,#fcb4b2 48.0px,#fcb4b3 56.0px,#fcb4b4 64.0px,#fcb5b5 72.0px,#fcb5b5 80.0px,#fcb5b5 88.0px,#fcb5b5 96.0px,#fcb5b5 104.0px,#fcb5b5 112.0px,#fcb5b5 120.0px,#fcb5b5 128.0px,#fcb5b5 136.0px,#fcb5b5 144.0px,#fcb5b5 152.0px,#fcb5b5 160.0px,#fcb5b5 168.0px,#fcb5b5 176.0px,#fcb5b5 184.0px,#fcb5b5 192.0px,#fcb5b5 200.0px,#fcb5b5 208.0px,#fcb5b5 216.0px,#fcb5b5 219.6px)"></div><div style="height:1.00px;background:linear-gradient(90deg,#fcb2ad 0.0px,#fcb2ae 8.0px,#fcb2af 16.0px,#fcb3b0 24.0px,#fcb3b1 32.0px,#fcb4b2 40.0px,#fcb4b3 48.0px,#fcb4b4 56.0px,#fcb5b5 64.0px,#fdb5b6 72.0px,#fdb5b6 80.0px,#fdb5b6 88.0px,#fdb5b6 96.0px,#fdb5b6 104.0px,#fdb5b6 112.0px,#fdb5b6 120.0px,#fdb5b6 128.0px,#fdb5b6 136.0px,#fdb5b6 144.0px,#fdb5b6 152.0px,#fdb5b6 160.0px,#fdb5b6 168.0px,#fdb5b6 176.0px,#fdb5b6 184.0px,#fdb5b6 192.0px,#fdb5b6 200.0px,#fdb5b6 208.0px,#fdb5b6 216.0px,#fdb5b6 219.6px)"></div><div style="height:1.00px;background:linear-gradient(90deg,#fcb2ae 0.0px,#fcb2ae 8.0px,#fcb3af 16.0px,#fcb3b0 24.0px,#fcb3b1 32.0px,#fcb4b2 40.0px,#fcb4b3 48.0px,#fcb4b4 56.0px,#fcb5b5 64.0px,#fdb5b6 72.0px,#fdb5b6 80.0px,#fdb5b6 88.0px,#fdb5b6 96.0px,#fdb5b6 104.0px,#fdb5b6 112.0px,#fdb5b6 120.0px,#fdb5b6 128.0px,#fdb5b6 136.0px,#fdb5b6 144.0px,#fdb5b6 152.0px,#fdb5b6 160.0px,#fdb5b6 168.0px,#fdb5b6 176.0px,#fdb5b6 184.0px,#fdb5b6 192.0px,#fdb5b6 200.0px,#fdb5b6 208.0px,#fdb5b6 216.0px,#fdb5b6 219.6px)"></div><div style="height:1.00px;background:linear-gradient(90deg,#fcb2ae 0.0px,#fcb2ae 8.0px,#fcb3af 16.0px,#fcb3b0 24.0px,#fcb3b1 32.0px,#fcb4b2 40.0px,#fcb4b3 48.0px,#fcb4b5 56.0px,#fdb5b6 64.0px,#fdb5b6 72.0px,#fdb5b6 80.0px,#fdb5b6 88.0px,#fdb5b6 96.0px,#fdb5b6 104.0px,#fdb5b6 112.0px,#fdb5b6 120.0px,#fdb5b6 128.0px,#fdb5b6 136.0px,#fdb5b6 144.0px,#fdb5b6 152.0px,#fdb5b6 160.0px,#fdb5b6 168.0px,#fdb5b6 176.0px,#fdb5b6 184.0px,#fdb5b6 192.0px,#fdb5b6 200.0px,#fdb5b6 208.0px,#fdb5b6 216.0px,#fdb5b6 219.6px)"></div><div style="height:1.00px;background:linear-gradient(90deg,#fcb2af 0.0px,#fcb3af 8.0px,#fcb3b0 16.0px,#fcb3b1 24.0px,#fcb4b2 32.0px,#fcb4b3 40.0px,#fcb4b4 48.0px,#fcb5b5 56.0px,#fdb5b6 64.0px,#fdb5b6 72.0px,#fdb5b6 80.0px,#fdb5b6 88.0px,#fdb5b6 96.0px,#fdb5b6 104.0px,#fdb5b6 112.0px,#fdb5b6 120.0px,#fdb5b6 128.0px,#fdb5b6 136.0px,#fdb5b6 144.0px,#fdb5b6 152.0px,#fdb5b6 160.0px,#fdb5b6 168.0px,#fdb5b6 176.0px,#fdb5b6 184.0px,#fdb5b6 192.0px,#fdb5b6 200.0px,#fdb5b6 208.0px,#fdb5b6 216.0px,#fdb5b6 219.6px)"></div><div style="height:1.00px;background:linear-gradient(90deg,#fcb3af 0.0px,#fcb3af 8.0px,#fcb3b0 16.0px,#fcb3b1 24.0px,#fcb4b2 32.0px,#fcb4b3 40.0px,#fcb4b4 48.0px,#fcb5b5 56.0px,#fdb5b6 64.0px,#fdb5b6 72.0px,#fdb5b6 80.0px,#fdb5b6 88.0px,#fdb5b6 96.0px,#fdb5b6 104.0px,#fdb5b6 112.0px,#fdb5b6 120.0px,#fdb5b6 128.0px,#fdb5b6 136.0px,#fdb5b6 144.0px,#fdb5b6 152.0px,#fdb5b6 160.0px,#fdb5b6 168.0px,#fdb5b6 176.0px,#fdb5b6 184.0px,#fdb5b6 192.0px,#fdb5b6 200.0px,#fdb5b6 208.0px,#fdb5b6 216.0px,#fdb5b6 219.6px)"></div><div style="height:1.00px;background:linear-gradient(90deg,#fcb3b0 0.0px,#fcb3b0 8.0px,#fcb3b1 16.0px,#fcb3b1 24.0px,#fcb4b2 32.0px,#fcb4b3 40.0px,#fcb4b4 48.0px,#fcb5b5 56.0px,#fdb5b6 64.0px,#fdb5b6 72.0px,#fdb5b6 80.0px,#fdb5b6 88.0px,#fdb5b6 96.0px,#fdb5b6 104.0px,#fdb5b6 112.0px,#fdb5b6 120.0px,#fdb5b6 128.0px,#fdb5b6 136.0px,#fdb5b6 144.0px,#fdb5b6 152.0px,#fdb5b6 160.0px,#fdb5b6 168.0px,#fdb5b6 176.0px,#fdb5b6 184.0px,#fdb5b6 192.0px,#fdb5b6 200.0px,#fdb5b6 208.0px,#fdb5b6 216.0px,#fdb5b6 219.6px)"></div><div style="height:1.00px;background:linear-gradient(90deg,#fcb3b0 0.0px,#fcb3b0 8.0px,#fcb3b1 16.0px,#fcb4b2 24.0px,#fcb4b3 32.0px,#fcb4b4 40.0px,#fcb4b4 48.0px,#fcb5b5 56.0px,#fdb5b6 64.0px,#fdb5b6 72.0px,#fdb5b6 80.0px,#fdb5b6 88.0px,#fdb5b6 96.0px,#fdb5b6 104.0px,#fdb5b6 112.0px,#fdb5b6 120.0px,#fdb5b6 128.0px,#fdb5b6 136.0px,#fdb5b6 144.0px,#fdb5b6 152.0px,#fdb5b6 160.0px,#fdb5b6 168.0px,#fdb5b6 176.0px,#fdb5b6 184.0px,#fdb5b6 192.0px,#fdb5b6 200.0px,#fdb5b6 208.0px,#fdb5b6 216.0px,#fdb5b6 219.6px)"></div><div style="height:1.00px;background:linear-gradient(90deg,#fcb3b1 0.0px,#fcb3b1 8.0px,#fcb3b2 16.0px,#fcb4b2 24.0px,#fcb4b3 32.0px,#fcb4b4 40.0px,#fcb5b5 48.0px,#fcb5b5 56.0px,#fdb5b6 64.0px,#fdb5b7 72.0px,#fdb5b7 80.0px,#fdb5b7 88.0px,#fdb5b7 96.0px,#fdb5b7 104.0px,#fdb5b7 112.0px,#fdb5b7 120.0px,#fdb5b7 128.0px,#fdb5b7 136.0px,#fdb5b7 144.0px,#fdb5b7 152.0px,#fdb5b7 160.0px,#fdb5b7 168.0px,#fdb5b7 176.0px,#fdb5b7 184.0px,#fdb5b7 192.0px,#fdb5b7 200.0px,#fdb5b7 208.0px,#fdb5b7 216.0px,#fdb5b7 219.6px)"></div><div style="height:1.00px;background:linear-gradient(90deg,#fcb3b1 0.0px,#fcb3b1 8.0px,#fcb4b2 16.0px,#fcb4b3 24.0px,#fcb4b4 32.0px,#fcb4b4 40.0px,#fcb5b5 48.0px,#fdb5b6 56.0px,#fdb5b6 64.0px,#fdb5b7 72.0px,#fdb5b7 80.0px,#fdb5b7 88.0px,#fdb5b7 96.0px,#fdb5b7 104.0px,#fdb5b7 112.0px,#fdb5b7 120.0px,#fdb5b7 128.0px,#fdb5b7 136.0px,#fdb5b7 144.0px,#fdb5b7 152.0px,#fdb5b7 160.0px,#fdb5b7 168.0px,#fdb5b7 176.0px,#fdb5b7 184.0px,#fdb5b7 192.0px,#fdb5b7 200.0px,#fdb5b7 208.0px,#fdb5b7 216.0px,#fdb5b7 219.6px)"></div><div style="height:1.00px;background:linear-gradient(90deg,#fcb3b2 0.0px,#fcb4b2 8.0px,#fcb4b2 16.0px,#fcb4b3 24.0px,#fcb4b4 32.0px,#fcb4b4 40.0px,#fcb5b5 48.0px,#fdb5b6 56.0px,#fdb5b6 64.0px,#fdb5b7 72.0px,#fdb5b7 80.0px,#fdb5b7 88.0px,#fdb5b7 96.0px,#fdb5b7 104.0px,#fdb5b7 112.0px,#fdb5b7 120.0px,#fdb5b7 128.0px,#fdb5b7 136.0px,#fdb5b7 144.0px,#fdb5b7 152.0px,#fdb5b7 160.0px,#fdb5b7 168.0px,#fdb5b7 176.0px,#fdb5b7 184.0px,#fdb5b7 192.0px,#fdb5b7 200.0px,#fdb5b7 208.0px,#fdb5b7 216.0px,#fdb5b7 219.6px)"></div><div style="height:1.00px;background:linear-gradient(90deg,#fcb3b1 0.0px,#fcb3b1 8.0px,#fcb3b2 16.0px,#fcb4b2 24.0px,#fcb4b3 32.0px,#fcb4b3 40.0px,#fcb4b4 48.0px,#fcb4b4 56.0px,#fcb5b5 64.0px,#fcb5b5 72.0px,#fcb5b5 80.0px,#fcb5b5 88.0px,#fcb5b5 96.0px,#fcb5b5 104.0px,#fcb5b5 112.0px,#fcb5b5 120.0px,#fcb5b5 128.0px,#fcb5b5 136.0px,#fcb5b5 144.0px,#fcb5b5 152.0px,#fcb5b5 160.0px,#fcb5b5 168.0px,#fcb5b5 176.0px,#fcb5b5 184.0px,#fcb5b5 192.0px,#fcb5b5 200.0px,#fcb5b5 208.0px,#fcb5b5 216.0px,#fcb5b5 219.6px)"></div><div style="height:1.00px;background:linear-gradient(90deg,#fcb3b0 0.0px,#fcb3b0 8.0px,#fcb3b1 16.0px,#fcb3b1 24.0px,#fcb4b2 32.0px,#fcb4b2 40.0px,#fcb4b3 48.0px,#fcb4b3 56.0px,#fcb4b4 64.0px,#fcb4b4 72.0px,#fcb4b4 80.0px,#fcb4b4 88.0px,#fcb4b4 96.0px,#fcb4b4 104.0px,#fcb4b4 112.0px,#fcb4b4 120.0px,#fcb4b4 128.0px,#fcb4b4 136.0px,#fcb4b4 144.0px,#fcb4b4 152.0px,#fcb4b4 160.0px,#fcb4b4 168.0px,#fcb4b4 176.0px,#fcb4b4 184.0px,#fcb4b4 192.0px,#fcb4b4 200.0px,#fcb4b4 208.0px,#fcb4b4 216.0px,#fcb4b4 219.6px)"></div><div style="height:1.00px;background:linear-gradient(90deg,#fcb3af 0.0px,#fcb3af 8.0px,#fcb3b0 16.0px,#fcb3b0 24.0px,#fcb3b1 32.0px,#fcb3b1 40.0px,#fcb4b2 48.0px,#fcb4b2 56.0px,#fcb4b3 64.0px,#fcb4b3 72.0px,#fcb4b3 80.0px,#fcb4b3 88.0px,#fcb4b3 96.0px,#fcb4b3 104.0px,#fcb4b3 112.0px,#fcb4b3 120.0px,#fcb4b3 128.0px,#fcb4b3 136.0px,#fcb4b3 144.0px,#fcb4b3 152.0px,#fcb4b3 160.0px,#fcb4b3 168.0px,#fcb4b3 176.0px,#fcb4b3 184.0px,#fcb4b3 192.0px,#fcb4b3 200.0px,#fcb4b3 208.0px,#fcb4b3 216.0px,#fcb4b3 219.6px)"></div><div style="height:1.00px;background:linear-gradient(90deg,#fcb2af 0.0px,#fcb2af 8.0px,#fcb3af 16.0px,#fcb3af 24.0px,#fcb3b0 32.0px,#fcb3b0 40.0px,#fcb3b1 48.0px,#fcb3b1 56.0px,#fcb3b1 64.0px,#fcb4b2 72.0px,#fcb4b2 80.0px,#fcb4b2 88.0px,#fcb4b2 96.0px,#fcb4b2 104.0px,#fcb4b2 112.0px,#fcb4b2 120.0px,#fcb4b2 128.0px,#fcb4b2 136.0px,#fcb4b2 144.0px,#fcb4b2 152.0px,#fcb4b2 160.0px,#fcb4b2 168.0px,#fcb4b2 176.0px,#fcb4b2 184.0px,#fcb4b2 192.0px,#fcb4b2 200.0px,#fcb4b2 208.0px,#fcb4b2 216.0px,#fcb4b2 219.6px)"></div><div style="height:1.00px;background:linear-gradient(90deg,#fcb2ae 0.0px,#fcb2ae 8.0px,#fcb2ae 16.0px,#fcb2ae 24.0px,#fcb3af 32.0px,#fcb3af 40.0px,#fcb3b0 48.0px,#fcb3b0 56.0px,#fcb3b0 64.0px,#fcb3b0 72.0px,#fcb3b0 80.0px,#fcb3b0 88.0px,#fcb3b0 96.0px,#fcb3b0 104.0px,#fcb3b0 112.0px,#fcb3b0 120.0px,#fcb3b0 128.0px,#fcb3b0 136.0px,#fcb3b0 144.0px,#fcb3b0 152.0px,#fcb3b0 160.0px,#fcb3b0 168.0px,#fcb3b0 176.0px,#fcb3b0 184.0px,#fcb3b0 192.0px,#fcb3b0 200.0px,#fcb3b0 208.0px,#fcb3b0 216.0px,#fcb3b0 219.6px)"></div><div style="height:1.00px;background:linear-gradient(90deg,#fcb2ad 0.0px,#fcb2ad 8.0px,#fcb2ad 16.0px,#fcb2ad 24.0px,#fcb2ae 32.0px,#fcb2ae 40.0px,#fcb2ae 48.0px,#fcb3af 56.0px,#fcb3af 64.0px,#fcb3af 72.0px,#fcb3af 80.0px,#fcb3af 88.0px,#fcb3af 96.0px,#fcb3af 104.0px,#fcb3af 112.0px,#fcb3af 120.0px,#fcb3af 128.0px,#fcb3af 136.0px,#fcb3af 144.0px,#fcb3af 152.0px,#fcb3af 160.0px,#fcb3af 168.0px,#fcb3af 176.0px,#fcb3af 184.0px,#fcb3af 192.0px,#fcb3af 200.0px,#fcb3af 208.0px,#fcb3af 216.0px,#fcb3af 219.6px)"></div><div style="height:1.00px;background:linear-gradient(90deg,#fcb2ac 0.0px,#fcb2ac 8.0px,#fcb2ac 16.0px,#fcb2ad 24.0px,#fcb2ad 32.0px,#fcb2ad 40.0px,#fcb2ad 48.0px,#fcb2ae 56.0px,#fcb2ae 64.0px,#fcb2ae 72.0px,#fcb2ae 80.0px,#fcb2ae 88.0px,#fcb2ae 96.0px,#fcb2ae 104.0px,#fcb2ae 112.0px,#fcb2ae 120.0px,#fcb2ae 128.0px,#fcb2ae 136.0px,#fcb2ae 144.0px,#fcb2ae 152.0px,#fcb2ae 160.0px,#fcb2ae 168.0px,#fcb2ae 176.0px,#fcb2ae 184.0px,#fcb2ae 192.0px,#fcb2ae 200.0px,#fcb2ae 208.0px,#fcb2ae 216.0px,#fcb2ae 219.6px)"></div><div style="height:1.00px;background:linear-gradient(90deg,#fcb1ab 0.0px,#fcb1ab 8.0px,#fcb1ab 16.0px,#fcb1ab 24.0px,#fcb1ac 32.0px,#fcb2ac 40.0px,#fcb2ac 48.0px,#fcb2ac 56.0px,#fcb2ad 64.0px,#fcb2ad 72.0px,#fcb2ad 80.0px,#fcb2ad 88.0px,#fcb2ad 96.0px,#fcb2ad 104.0px,#fcb2ad 112.0px,#fcb2ad 120.0px,#fcb2ad 128.0px,#fcb2ad 136.0px,#fcb2ad 144.0px,#fcb2ad 152.0px,#fcb2ad 160.0px,#fcb2ad 168.0px,#fcb2ad 176.0px,#fcb2ad 184.0px,#fcb2ad 192.0px,#fcb2ad 200.0px,#fcb2ad 208.0px,#fcb2ad 216.0px,#fcb2ad 219.6px)"></div><div style="height:1.00px;background:linear-gradient(90deg,#fcb1a9 0.0px,#fcb1a9 8.0px,#fcb1a9 16.0px,#fcb1a9 24.0px,#fcb1aa 32.0px,#fcb1aa 40.0px,#fcb1aa 48.0px,#fcb1aa 56.0px,#fcb1aa 64.0px,#fcb1ab 72.0px,#fcb1ab 80.0px,#fcb1ab 88.0px,#fcb1ab 96.0px,#fcb1ab 104.0px,#fcb1ab 112.0px,#fcb1ab 120.0px,#fcb1ab 128.0px,#fcb1ab 136.0px,#fcb1ab 144.0px,#fcb1ab 152.0px,#fcb1ab 160.0px,#fcb1ab 168.0px,#fcb1ab 176.0px,#fcb1ab 184.0px,#fcb1ab 192.0px,#fcb1ab 200.0px,#fcb1ab 208.0px,#fcb1ab 216.0px,#fcb1ab 219.6px)"></div><div style="height:1.00px;background:linear-gradient(90deg,#fbb0a7 0.0px,#fbb0a7 8.0px,#fbb0a7 16.0px,#fbb0a8 24.0px,#fbb0a8 32.0px,#fbb0a8 40.0px,#fbb0a8 48.0px,#fbb0a8 56.0px,#fbb0a8 64.0px,#fcb0a9 72.0px,#fcb0a9 80.0px,#fcb0a9 88.0px,#fcb0a9 96.0px,#fcb0a9 104.0px,#fcb0a9 112.0px,#fcb0a9 120.0px,#fcb0a9 128.0px,#fcb0a9 136.0px,#fcb0a9 144.0px,#fcb0a9 152.0px,#fcb0a9 160.0px,#fcb0a9 168.0px,#fcb0a9 176.0px,#fcb0a9 184.0px,#fcb0a9 192.0px,#fcb0a9 200.0px,#fcb0a9 208.0px,#fcb0a9 216.0px,#fcb0a9 219.6px)"></div><div style="height:1.00px;background:linear-gradient(90deg,#fbafa5 0.0px,#fbafa5 8.0px,#fbafa6 16.0px,#fbafa6 24.0px,#fbb0a6 32.0px,#fbb0a6 40.0px,#fbb0a6 48.0px,#fbb0a6 56.0px,#fbb0a6 64.0px,#fbb0a6 72.0px,#fbb0a6 80.0px,#fbb0a6 88.0px,#fbb0a6 96.0px,#fbb0a6 104.0px,#fbb0a6 112.0px,#fbb0a6 120.0px,#fbb0a6 128.0px,#fbb0a6 136.0px,#fbb0a6 144.0px,#fbb0a6 152.0px,#fbb0a6 160.0px,#fbb0a6 168.0px,#fbb0a6 176.0px,#fbb0a6 184.0px,#fbb0a6 192.0px,#fbb0a6 200.0px,#fbb0a6 208.0px,#fbb0a6 216.0px,#fbb0a6 219.6px)"></div><div style="height:1.00px;background:linear-gradient(90deg,#fbafa4 0.0px,#fbafa4 8.0px,#fbafa4 16.0px,#fbafa4 24.0px,#fbafa4 32.0px,#fbafa4 40.0px,#fbafa4 48.0px,#fbafa4 56.0px,#fbafa4 64.0px,#fbafa4 72.0px,#fbafa4 80.0px,#fbafa4 88.0px,#fbafa4 96.0px,#fbafa4 104.0px,#fbafa4 112.0px,#fbafa4 120.0px,#fbafa4 128.0px,#fbafa4 136.0px,#fbafa4 144.0px,#fbafa4 152.0px,#fbafa4 160.0px,#fbafa4 168.0px,#fbafa4 176.0px,#fbafa4 184.0px,#fbafa4 192.0px,#fbafa4 200.0px,#fbafa4 208.0px,#fbafa4 216.0px,#fbafa4 219.6px)"></div><div style="height:1.00px;background:linear-gradient(90deg,#fbaea2 0.0px,#fbaea2 8.0px,#fbaea2 16.0px,#fbaea2 24.0px,#fbaea2 32.0px,#fbaea2 40.0px,#fbaea2 48.0px,#fbaea2 56.0px,#fbaea2 64.0px,#fbaea2 72.0px,#fbaea2 80.0px,#fbaea2 88.0px,#fbaea2 96.0px,#fbaea2 104.0px,#fbaea2 112.0px,#fbaea2 120.0px,#fbaea2 128.0px,#fbaea2 136.0px,#fbaea2 144.0px,#fbaea2 152.0px,#fbaea2 160.0px,#fbaea2 168.0px,#fbaea2 176.0px,#fbaea2 184.0px,#fbaea2 192.0px,#fbaea2 200.0px,#fbaea2 208.0px,#fbaea2 216.0px,#fbaea2 219.6px)"></div><div style="height:1.00px;background:linear-gradient(90deg,#fbada0 0.0px,#fbada0 8.0px,#fbada0 16.0px,#fbada0 24.0px,#fbaea0 32.0px,#fbaea0 40.0px,#fbaea0 48.0px,#fbaea0 56.0px,#fbaea0 64.0px,#fbaea0 72.0px,#fbaea0 80.0px,#fbaea0 88.0px,#fbaea0 96.0px,#fbaea0 104.0px,#fbaea0 112.0px,#fbaea0 120.0px,#fbaea0 128.0px,#fbaea0 136.0px,#fbaea0 144.0px,#fbaea0 152.0px,#fbaea0 160.0px,#fbaea0 168.0px,#fbaea0 176.0px,#fbaea0 184.0px,#fbaea0 192.0px,#fbaea0 200.0px,#fbaea0 208.0px,#fbaea0 216.0px,#fbaea0 219.6px)"></div><div style="height:1.00px;background:linear-gradient(90deg,#fbad9e 0.0px,#fbad9e 8.0px,#fbad9e 16.0px,#fbad9e 24.0px,#fbad9e 32.0px,#fbad9e 40.0px,#fbad9e 48.0px,#fbad9e 56.0px,#fbad9e 64.0px,#fbad9e 72.0px,#fbad9e 80.0px,#fbad9e 88.0px,#fbad9e 96.0px,#fbad9e 104.0px,#fbad9e 112.0px,#fbad9e 120.0px,#fbad9e 128.0px,#fbad9e 136.0px,#fbad9e 144.0px,#fbad9e 152.0px,#fbad9e 160.0px,#fbad9e 168.0px,#fbad9e 176.0px,#fbad9e 184.0px,#fbad9e 192.0px,#fbad9e 200.0px,#fbad9e 208.0px,#fbad9e 216.0px,#fbad9e 219.6px)"></div><div style="height:1.00px;background:linear-gradient(90deg,#fbac9c 0.0px,#fbac9c 8.0px,#fbac9c 16.0px,#fbac9c 24.0px,#fbac9c 32.0px,#fbac9c 40.0px,#fbac9c 48.0px,#fbac9c 56.0px,#fbac9c 64.0px,#fbac9c 72.0px,#fbac9c 80.0px,#fbac9c 88.0px,#fbac9c 96.0px,#fbac9c 104.0px,#fbac9c 112.0px,#fbac9c 120.0px,#fbac9c 128.0px,#fbac9c 136.0px,#fbac9c 144.0px,#fbac9c 152.0px,#fbac9c 160.0px,#fbac9c 168.0px,#fbac9c 176.0px,#fbac9c 184.0px,#fbac9c 192.0px,#fbac9c 200.0px,#fbac9c 208.0px,#fbac9c 216.0px,#fbac9c 219.6px)"></div><div style="height:1.00px;background:linear-gradient(90deg,#faab9a 0.0px,#faab9a 8.0px,#faab9a 16.0px,#faab9a 24.0px,#faac9a 32.0px,#faac9a 40.0px,#faac9a 48.0px,#faac9a 56.0px,#faac9a 64.0px,#faac9a 72.0px,#faac9a 80.0px,#faac9a 88.0px,#faac9a 96.0px,#faac9a 104.0px,#faac9a 112.0px,#faac9a 120.0px,#faac9a 128.0px,#faac9a 136.0px,#faac9a 144.0px,#faac9a 152.0px,#faac9a 160.0px,#faac9a 168.0px,#faac9a 176.0px,#faac9a 184.0px,#faac9a 192.0px,#faac9a 200.0px,#faac9a 208.0px,#faac9a 216.0px,#faac9a 219.6px)"></div><div style="height:1.00px;background:linear-gradient(90deg,#faab98 0.0px,#faab98 8.0px,#faab98 16.0px,#faab98 24.0px,#faab98 32.0px,#faab98 40.0px,#faab98 48.0px,#faab98 56.0px,#faab98 64.0px,#faab98 72.0px,#faab98 80.0px,#faab98 88.0px,#faab98 96.0px,#faab98 104.0px,#faab98 112.0px,#faab98 120.0px,#faab98 128.0px,#faab98 136.0px,#faab98 144.0px,#faab98 152.0px,#faab98 160.0px,#faab98 168.0px,#faab98 176.0px,#faab98 184.0px,#faab98 192.0px,#faab98 200.0px,#faab98 208.0px,#faab98 216.0px,#faab98 219.6px)"></div><div style="height:1.00px;background:linear-gradient(90deg,#faaa96 0.0px,#faaa96 8.0px,#faaa96 16.0px,#faaa96 24.0px,#faaa96 32.0px,#faaa96 40.0px,#faaa96 48.0px,#faaa96 56.0px,#faaa96 64.0px,#faaa96 72.0px,#faaa96 80.0px,#faaa96 88.0px,#faaa96 96.0px,#faaa96 104.0px,#faaa96 112.0px,#faaa96 120.0px,#faaa96 128.0px,#faaa96 136.0px,#faaa96 144.0px,#faaa96 152.0px,#faaa96 160.0px,#faaa96 168.0px,#faaa96 176.0px,#faaa96 184.0px,#faaa96 192.0px,#faaa96 200.0px,#faaa96 208.0px,#faaa96 216.0px,#faaa96 219.6px)"></div><div style="height:1.00px;background:linear-gradient(90deg,#faaa94 0.0px,#faaa94 8.0px,#faaa94 16.0px,#faaa94 24.0px,#faaa94 32.0px,#faaa94 40.0px,#faaa94 48.0px,#faaa94 56.0px,#faaa94 64.0px,#faaa94 72.0px,#faaa94 80.0px,#faaa94 88.0px,#faaa94 96.0px,#faaa94 104.0px,#faaa94 112.0px,#faaa94 120.0px,#faaa94 128.0px,#faaa94 136.0px,#faaa94 144.0px,#faaa94 152.0px,#faaa94 160.0px,#faaa94 168.0px,#faaa94 176.0px,#faaa94 184.0px,#faaa94 192.0px,#faaa94 200.0px,#faaa94 208.0px,#faaa94 216.0px,#faaa94 219.6px)"></div><div style="height:1.00px;background:linear-gradient(90deg,#faa992 0.0px,#faa992 8.0px,#faa992 16.0px,#faa992 24.0px,#faa993 32.0px,#faa993 40.0px,#faa993 48.0px,#faa993 56.0px,#faa993 64.0px,#faa993 72.0px,#faa993 80.0px,#faa993 88.0px,#faa993 96.0px,#faa993 104.0px,#faa993 112.0px,#faa993 120.0px,#faa993 128.0px,#faa993 136.0px,#faa993 144.0px,#faa993 152.0px,#faa993 160.0px,#faa993 168.0px,#faa993 176.0px,#faa993 184.0px,#faa993 192.0px,#faa993 200.0px,#faa993 208.0px,#faa993 216.0px,#faa993 219.6px)"></div><div style="height:1.00px;background:linear-gradient(90deg,#faa891 0.0px,#faa891 8.0px,#faa891 16.0px,#faa891 24.0px,#faa891 32.0px,#faa891 40.0px,#faa891 48.0px,#faa891 56.0px,#faa891 64.0px,#faa891 72.0px,#faa891 80.0px,#faa891 88.0px,#faa891 96.0px,#faa891 104.0px,#faa891 112.0px,#faa891 120.0px,#faa891 128.0px,#faa891 136.0px,#faa891 144.0px,#faa891 152.0px,#faa891 160.0px,#faa891 168.0px,#faa891 176.0px,#faa891 184.0px,#faa891 192.0px,#faa891 200.0px,#faa891 208.0px,#faa891 216.0px,#faa891 219.6px)"></div><div style="height:1.00px;background:linear-gradient(90deg,#faa88f 0.0px,#faa88f 8.0px,#faa88f 16.0px,#faa88f 24.0px,#faa88f 32.0px,#faa88f 40.0px,#faa88f 48.0px,#faa88f 56.0px,#faa88f 64.0px,#faa88f 72.0px,#faa88f 80.0px,#faa88f 88.0px,#faa88f 96.0px,#faa88f 104.0px,#faa88f 112.0px,#faa88f 120.0px,#faa88f 128.0px,#faa88f 136.0px,#faa88f 144.0px,#faa88f 152.0px,#faa88f 160.0px,#faa88f 168.0px,#faa88f 176.0px,#faa88f 184.0px,#faa88f 192.0px,#faa88f 200.0px,#faa88f 208.0px,#faa88f 216.0px,#faa88f 219.6px)"></div><div style="height:1.00px;background:linear-gradient(90deg,#f9a78d 0.0px,#f9a78d 8.0px,#f9a78d 16.0px,#f9a78d 24.0px,#f9a78d 32.0px,#f9a78d 40.0px,#f9a78d 48.0px,#f9a78d 56.0px,#f9a78d 64.0px,#f9a78d 72.0px,#f9a78d 80.0px,#f9a78d 88.0px,#f9a78d 96.0px,#f9a78d 104.0px,#f9a78d 112.0px,#f9a78d 120.0px,#f9a78d 128.0px,#f9a78d 136.0px,#f9a78d 144.0px,#f9a78d 152.0px,#f9a78d 160.0px,#f9a78d 168.0px,#f9a78d 176.0px,#f9a78d 184.0px,#f9a78d 192.0px,#f9a78d 200.0px,#f9a78d 208.0px,#f9a78d 216.0px,#f9a78d 219.6px)"></div><div style="height:1.00px;background:linear-gradient(90deg,#f9a68b 0.0px,#f9a68b 8.0px,#f9a68b 16.0px,#f9a68b 24.0px,#f9a68b 32.0px,#f9a68b 40.0px,#f9a68b 48.0px,#f9a68b 56.0px,#f9a68b 64.0px,#f9a68b 72.0px,#f9a68b 80.0px,#f9a68b 88.0px,#f9a68b 96.0px,#f9a68b 104.0px,#f9a68b 112.0px,#f9a68b 120.0px,#f9a68b 128.0px,#f9a68b 136.0px,#f9a68b 144.0px,#f9a68b 152.0px,#f9a68b 160.0px,#f9a68b 168.0px,#f9a68b 176.0px,#f9a68b 184.0px,#f9a68b 192.0px,#f9a68b 200.0px,#f9a68b 208.0px,#f9a68b 216.0px,#f9a68b 219.6px)"></div><div style="height:1.00px;background:linear-gradient(90deg,#f9a689 0.0px,#f9a689 8.0px,#f9a689 16.0px,#f9a689 24.0px,#f9a689 32.0px,#f9a689 40.0px,#f9a689 48.0px,#f9a689 56.0px,#f9a689 64.0px,#f9a689 72.0px,#f9a689 80.0px,#f9a689 88.0px,#f9a689 96.0px,#f9a689 104.0px,#f9a689 112.0px,#f9a689 120.0px,#f9a689 128.0px,#f9a689 136.0px,#f9a689 144.0px,#f9a689 152.0px,#f9a689 160.0px,#f9a689 168.0px,#f9a689 176.0px,#f9a689 184.0px,#f9a689 192.0px,#f9a689 200.0px,#f9a689 208.0px,#f9a689 216.0px,#f9a689 219.6px)"></div><div style="height:1.00px;background:linear-gradient(90deg,#f9a587 0.0px,#f9a587 8.0px,#f9a587 16.0px,#f9a587 24.0px,#f9a587 32.0px,#f9a587 40.0px,#f9a587 48.0px,#f9a587 56.0px,#f9a587 64.0px,#f9a587 72.0px,#f9a587 80.0px,#f9a587 88.0px,#f9a587 96.0px,#f9a587 104.0px,#f9a587 112.0px,#f9a587 120.0px,#f9a587 128.0px,#f9a587 136.0px,#f9a587 144.0px,#f9a587 152.0px,#f9a587 160.0px,#f9a587 168.0px,#f9a587 176.0px,#f9a587 184.0px,#f9a587 192.0px,#f9a587 200.0px,#f9a587 208.0px,#f9a587 216.0px,#f9a587 219.6px)"></div><div style="height:1.00px;background:linear-gradient(90deg,#f9a585 0.0px,#f9a585 8.0px,#f9a585 16.0px,#f9a585 24.0px,#f9a585 32.0px,#f9a585 40.0px,#f9a585 48.0px,#f9a585 56.0px,#f9a585 64.0px,#f9a585 72.0px,#f9a585 80.0px,#f9a585 88.0px,#f9a585 96.0px,#f9a585 104.0px,#f9a585 112.0px,#f9a585 120.0px,#f9a585 128.0px,#f9a585 136.0px,#f9a585 144.0px,#f9a585 152.0px,#f9a585 160.0px,#f9a585 168.0px,#f9a585 176.0px,#f9a585 184.0px,#f9a585 192.0px,#f9a585 200.0px,#f9a585 208.0px,#f9a585 216.0px,#f9a585 219.6px)"></div><div style="height:1.00px;background:linear-gradient(90deg,#f9a484 0.0px,#f9a484 8.0px,#f9a484 16.0px,#f9a484 24.0px,#f9a484 32.0px,#f9a484 40.0px,#f9a484 48.0px,#f9a484 56.0px,#f9a484 64.0px,#f9a484 72.0px,#f9a484 80.0px,#f9a484 88.0px,#f9a484 96.0px,#f9a484 104.0px,#f9a484 112.0px,#f9a484 120.0px,#f9a484 128.0px,#f9a484 136.0px,#f9a484 144.0px,#f9a484 152.0px,#f9a484 160.0px,#f9a484 168.0px,#f9a484 176.0px,#f9a484 184.0px,#f9a484 192.0px,#f9a484 200.0px,#f9a484 208.0px,#f9a484 216.0px,#f9a484 219.6px)"></div><div style="height:1.00px;background:linear-gradient(90deg,#f9a382 0.0px,#f9a382 8.0px,#f9a382 16.0px,#f9a382 24.0px,#f9a382 32.0px,#f9a382 40.0px,#f9a382 48.0px,#f9a382 56.0px,#f9a382 64.0px,#f9a382 72.0px,#f9a382 80.0px,#f9a382 88.0px,#f9a382 96.0px,#f9a382 104.0px,#f9a382 112.0px,#f9a382 120.0px,#f9a382 128.0px,#f9a382 136.0px,#f9a382 144.0px,#f9a382 152.0px,#f9a382 160.0px,#f9a382 168.0px,#f9a382 176.0px,#f9a382 184.0px,#f9a382 192.0px,#f9a382 200.0px,#f9a382 208.0px,#f9a382 216.0px,#f9a382 219.6px)"></div><div style="height:1.00px;background:linear-gradient(90deg,#f8a380 0.0px,#f8a380 8.0px,#f8a380 16.0px,#f8a380 24.0px,#f8a380 32.0px,#f8a380 40.0px,#f8a380 48.0px,#f8a380 56.0px,#f8a380 64.0px,#f8a380 72.0px,#f8a380 80.0px,#f8a380 88.0px,#f8a380 96.0px,#f8a380 104.0px,#f8a380 112.0px,#f8a380 120.0px,#f8a380 128.0px,#f8a380 136.0px,#f8a380 144.0px,#f8a380 152.0px,#f8a380 160.0px,#f8a380 168.0px,#f8a380 176.0px,#f8a380 184.0px,#f8a380 192.0px,#f8a380 200.0px,#f8a380 208.0px,#f8a380 216.0px,#f8a380 219.6px)"></div><div style="height:1.00px;background:linear-gradient(90deg,#f8a27f 0.0px,#f8a27f 8.0px,#f8a27f 16.0px,#f8a27f 24.0px,#f8a27f 32.0px,#f8a27f 40.0px,#f8a27f 48.0px,#f8a27f 56.0px,#f8a27f 64.0px,#f8a27f 72.0px,#f8a27f 80.0px,#f8a27f 88.0px,#f8a27f 96.0px,#f8a27f 104.0px,#f8a27f 112.0px,#f8a27f 120.0px,#f8a27f 128.0px,#f8a27f 136.0px,#f8a27f 144.0px,#f8a27f 152.0px,#f8a27f 160.0px,#f8a27f 168.0px,#f8a27f 176.0px,#f8a27f 184.0px,#f8a27f 192.0px,#f8a27f 200.0px,#f8a27f 208.0px,#f8a27f 216.0px,#f8a27f 219.6px)"></div><div style="height:1.00px;background:linear-gradient(90deg,#f8a27d 0.0px,#f8a27d 8.0px,#f8a27d 16.0px,#f8a27d 24.0px,#f8a27d 32.0px,#f8a27d 40.0px,#f8a27d 48.0px,#f8a27d 56.0px,#f8a27d 64.0px,#f8a27d 72.0px,#f8a27d 80.0px,#f8a27d 88.0px,#f8a27d 96.0px,#f8a27d 104.0px,#f8a27d 112.0px,#f8a27d 120.0px,#f8a27d 128.0px,#f8a27d 136.0px,#f8a27d 144.0px,#f8a27d 152.0px,#f8a27d 160.0px,#f8a27d 168.0px,#f8a27d 176.0px,#f8a27d 184.0px,#f8a27d 192.0px,#f8a27d 200.0px,#f8a27d 208.0px,#f8a27d 216.0px,#f8a27d 219.6px)"></div><div style="height:1.00px;background:linear-gradient(90deg,#f8a17c 0.0px,#f8a17c 8.0px,#f8a17c 16.0px,#f8a17c 24.0px,#f8a17c 32.0px,#f8a17c 40.0px,#f8a17c 48.0px,#f8a17c 56.0px,#f8a17c 64.0px,#f8a17c 72.0px,#f8a17c 80.0px,#f8a17c 88.0px,#f8a17c 96.0px,#f8a17c 104.0px,#f8a17c 112.0px,#f8a17c 120.0px,#f8a17c 128.0px,#f8a17c 136.0px,#f8a17c 144.0px,#f8a17c 152.0px,#f8a17c 160.0px,#f8a17c 168.0px,#f8a17c 176.0px,#f8a17c 184.0px,#f8a17c 192.0px,#f8a17c 200.0px,#f8a17c 208.0px,#f8a17c 216.0px,#f8a17c 219.6px)"></div><div style="height:1.00px;background:linear-gradient(90deg,#f8a17b 0.0px,#f8a17b 8.0px,#f8a17b 16.0px,#f8a17b 24.0px,#f8a17b 32.0px,#f8a17b 40.0px,#f8a17b 48.0px,#f8a17b 56.0px,#f8a17b 64.0px,#f8a17b 72.0px,#f8a17b 80.0px,#f8a17b 88.0px,#f8a17b 96.0px,#f8a17b 104.0px,#f8a17b 112.0px,#f8a17b 120.0px,#f8a17b 128.0px,#f8a17b 136.0px,#f8a17b 144.0px,#f8a17b 152.0px,#f8a17b 160.0px,#f8a17b 168.0px,#f8a17b 176.0px,#f8a17b 184.0px,#f8a17b 192.0px,#f8a17b 200.0px,#f8a17b 208.0px,#f8a17b 216.0px,#f8a17b 219.6px)"></div><div style="height:1.00px;background:linear-gradient(90deg,#f7a17a 0.0px,#f7a17a 8.0px,#f7a17a 16.0px,#f7a17a 24.0px,#f7a17a 32.0px,#f7a17a 40.0px,#f7a17a 48.0px,#f7a17a 56.0px,#f7a17a 64.0px,#f7a17a 72.0px,#f7a17a 80.0px,#f7a17a 88.0px,#f7a17a 96.0px,#f7a17a 104.0px,#f7a17a 112.0px,#f7a17a 120.0px,#f7a17a 128.0px,#f7a17a 136.0px,#f7a17a 144.0px,#f7a17a 152.0px,#f7a17a 160.0px,#f7a17a 168.0px,#f7a17a 176.0px,#f7a17a 184.0px,#f7a17a 192.0px,#f7a17a 200.0px,#f7a17a 208.0px,#f7a17a 216.0px,#f7a17a 219.6px)"></div><div style="height:1.00px;background:linear-gradient(90deg,#f6a079 0.0px,#f6a079 8.0px,#f6a079 16.0px,#f6a079 24.0px,#f6a079 32.0px,#f6a079 40.0px,#f6a079 48.0px,#f6a079 56.0px,#f6a079 64.0px,#f6a079 72.0px,#f6a079 80.0px,#f6a079 88.0px,#f6a079 96.0px,#f6a079 104.0px,#f6a079 112.0px,#f6a079 120.0px,#f6a079 128.0px,#f6a079 136.0px,#f6a079 144.0px,#f6a079 152.0px,#f6a079 160.0px,#f6a079 168.0px,#f6a079 176.0px,#f6a079 184.0px,#f6a079 192.0px,#f6a079 200.0px,#f6a079 208.0px,#f6a079 216.0px,#f6a079 219.6px)"></div><div style="height:1.00px;background:linear-gradient(90deg,#f6a077 0.0px,#f6a077 8.0px,#f6a077 16.0px,#f6a077 24.0px,#f6a077 32.0px,#f6a077 40.0px,#f6a077 48.0px,#f6a077 56.0px,#f6a077 64.0px,#f6a077 72.0px,#f6a077 80.0px,#f6a077 88.0px,#f6a077 96.0px,#f6a077 104.0px,#f6a077 112.0px,#f6a077 120.0px,#f6a077 128.0px,#f6a077 136.0px,#f6a077 144.0px,#f6a077 152.0px,#f6a077 160.0px,#f6a077 168.0px,#f6a077 176.0px,#f6a077 184.0px,#f6a077 192.0px,#f6a077 200.0px,#f6a077 208.0px,#f6a077 216.0px,#f6a077 219.6px)"></div><div style="height:1.00px;background:linear-gradient(90deg,#f5a076 0.0px,#f5a076 8.0px,#f5a076 16.0px,#f5a076 24.0px,#f5a076 32.0px,#f5a076 40.0px,#f5a076 48.0px,#f5a076 56.0px,#f5a076 64.0px,#f5a076 72.0px,#f5a076 80.0px,#f5a076 88.0px,#f5a076 96.0px,#f5a076 104.0px,#f5a076 112.0px,#f5a076 120.0px,#f5a076 128.0px,#f5a076 136.0px,#f5a076 144.0px,#f5a076 152.0px,#f5a076 160.0px,#f5a076 168.0px,#f5a076 176.0px,#f5a076 184.0px,#f5a076 192.0px,#f5a076 200.0px,#f5a076 208.0px,#f5a076 216.0px,#f5a076 219.6px)"></div><div style="height:1.00px;background:linear-gradient(90deg,#f4a075 0.0px,#f4a075 8.0px,#f4a075 16.0px,#f4a075 24.0px,#f4a075 32.0px,#f4a075 40.0px,#f4a075 48.0px,#f4a075 56.0px,#f4a075 64.0px,#f4a075 72.0px,#f4a075 80.0px,#f4a075 88.0px,#f4a075 96.0px,#f4a075 104.0px,#f4a075 112.0px,#f4a075 120.0px,#f4a075 128.0px,#f4a075 136.0px,#f4a075 144.0px,#f4a075 152.0px,#f4a075 160.0px,#f4a075 168.0px,#f4a075 176.0px,#f4a075 184.0px,#f4a075 192.0px,#f4a075 200.0px,#f4a075 208.0px,#f4a075 216.0px,#f4a075 219.6px)"></div><div style="height:1.00px;background:linear-gradient(90deg,#f39f74 0.0px,#f39f74 8.0px,#f39f74 16.0px,#f39f74 24.0px,#f39f74 32.0px,#f39f74 40.0px,#f39f74 48.0px,#f39f74 56.0px,#f39f74 64.0px,#f39f74 72.0px,#f39f74 80.0px,#f39f74 88.0px,#f39f74 96.0px,#f39f74 104.0px,#f39f74 112.0px,#f39f74 120.0px,#f39f74 128.0px,#f39f74 136.0px,#f39f74 144.0px,#f39f74 152.0px,#f39f74 160.0px,#f39f74 168.0px,#f39f74 176.0px,#f39f74 184.0px,#f39f74 192.0px,#f39f74 200.0px,#f39f74 208.0px,#f39f74 216.0px,#f39f74 219.6px)"></div><div style="height:1.00px;background:linear-gradient(90deg,#f39f73 0.0px,#f39f73 8.0px,#f39f73 16.0px,#f39f73 24.0px,#f39f73 32.0px,#f39f73 40.0px,#f39f73 48.0px,#f39f73 56.0px,#f39f73 64.0px,#f39f73 72.0px,#f39f73 80.0px,#f39f73 88.0px,#f39f73 96.0px,#f39f73 104.0px,#f39f73 112.0px,#f39f73 120.0px,#f39f73 128.0px,#f39f73 136.0px,#f39f73 144.0px,#f39f73 152.0px,#f39f73 160.0px,#f39f73 168.0px,#f39f73 176.0px,#f39f73 184.0px,#f39f73 192.0px,#f39f73 200.0px,#f39f73 208.0px,#f39f73 216.0px,#f39f73 219.6px)"></div><div style="height:1.00px;background:linear-gradient(90deg,#f29f72 0.0px,#f29f72 8.0px,#f29f72 16.0px,#f29f72 24.0px,#f29f72 32.0px,#f29f72 40.0px,#f29f72 48.0px,#f29f72 56.0px,#f29f72 64.0px,#f29f72 72.0px,#f29f72 80.0px,#f29f72 88.0px,#f29f72 96.0px,#f29f72 104.0px,#f29f72 112.0px,#f29f72 120.0px,#f29f72 128.0px,#f29f72 136.0px,#f29f72 144.0px,#f29f72 152.0px,#f29f72 160.0px,#f29f72 168.0px,#f29f72 176.0px,#f29f72 184.0px,#f29f72 192.0px,#f29f72 200.0px,#f29f72 208.0px,#f29f72 216.0px,#f29f72 219.6px)"></div><div style="height:1.00px;background:linear-gradient(90deg,#f19e71 0.0px,#f19e71 8.0px,#f19e71 16.0px,#f19e71 24.0px,#f19e71 32.0px,#f19e71 40.0px,#f19e71 48.0px,#f19e71 56.0px,#f19e71 64.0px,#f19e71 72.0px,#f19e71 80.0px,#f19e71 88.0px,#f19e71 96.0px,#f19e71 104.0px,#f19e71 112.0px,#f19e71 120.0px,#f19e71 128.0px,#f19e71 136.0px,#f19e71 144.0px,#f19e71 152.0px,#f19e71 160.0px,#f19e71 168.0px,#f19e71 176.0px,#f19e71 184.0px,#f19e71 192.0px,#f19e71 200.0px,#f19e71 208.0px,#f19e71 216.0px,#f19e71 219.6px)"></div><div style="height:1.00px;background:linear-gradient(90deg,#f09e70 0.0px,#f09e70 8.0px,#f09e70 16.0px,#f09e70 24.0px,#f09e70 32.0px,#f09e70 40.0px,#f09e70 48.0px,#f09e70 56.0px,#f09e70 64.0px,#f09e70 72.0px,#f09e70 80.0px,#f09e70 88.0px,#f09e70 96.0px,#f09e70 104.0px,#f09e70 112.0px,#f09e70 120.0px,#f09e70 128.0px,#f09e70 136.0px,#f09e70 144.0px,#f09e70 152.0px,#f09e70 160.0px,#f09e70 168.0px,#f09e70 176.0px,#f09e70 184.0px,#f09e70 192.0px,#f09e70 200.0px,#f09e70 208.0px,#f09e70 216.0px,#f09e70 219.6px)"></div><div style="height:1.00px;background:linear-gradient(90deg,#ef9e6e 0.0px,#ef9e6e 8.0px,#ef9e6e 16.0px,#ef9e6e 24.0px,#ef9e6e 32.0px,#ef9e6e 40.0px,#ef9e6e 48.0px,#ef9e6e 56.0px,#ef9e6e 64.0px,#ef9e6e 72.0px,#ef9e6e 80.0px,#ef9e6e 88.0px,#ef9e6e 96.0px,#ef9e6e 104.0px,#ef9e6e 112.0px,#ef9e6e 120.0px,#ef9e6e 128.0px,#ef9e6e 136.0px,#ef9e6e 144.0px,#ef9e6e 152.0px,#ef9e6e 160.0px,#ef9e6e 168.0px,#ef9e6e 176.0px,#ef9e6e 184.0px,#ef9e6e 192.0px,#ef9e6e 200.0px,#ef9e6e 208.0px,#ef9e6e 216.0px,#ef9e6e 219.6px)"></div><div style="height:1.00px;background:linear-gradient(90deg,#ef9e6d 0.0px,#ef9e6d 8.0px,#ef9e6d 16.0px,#ef9e6d 24.0px,#ef9e6d 32.0px,#ef9e6d 40.0px,#ef9e6d 48.0px,#ef9e6d 56.0px,#ef9e6d 64.0px,#ef9e6d 72.0px,#ef9e6d 80.0px,#ef9e6d 88.0px,#ef9e6d 96.0px,#ef9e6d 104.0px,#ef9e6d 112.0px,#ef9e6d 120.0px,#ef9e6d 128.0px,#ef9e6d 136.0px,#ef9e6d 144.0px,#ef9e6d 152.0px,#ef9e6d 160.0px,#ef9e6d 168.0px,#ef9e6d 176.0px,#ef9e6d 184.0px,#ef9e6d 192.0px,#ef9e6d 200.0px,#ef9e6d 208.0px,#ef9e6d 216.0px,#ef9e6d 219.6px)"></div><div style="height:1.00px;background:linear-gradient(90deg,#ee9d6c 0.0px,#ee9d6c 8.0px,#ee9d6c 16.0px,#ee9d6c 24.0px,#ee9d6c 32.0px,#ee9d6c 40.0px,#ee9d6c 48.0px,#ee9d6c 56.0px,#ee9d6c 64.0px,#ee9d6c 72.0px,#ee9d6c 80.0px,#ee9d6c 88.0px,#ee9d6c 96.0px,#ee9d6c 104.0px,#ee9d6c 112.0px,#ee9d6c 120.0px,#ee9d6c 128.0px,#ee9d6c 136.0px,#ee9d6c 144.0px,#ee9d6c 152.0px,#ee9d6c 160.0px,#ee9d6c 168.0px,#ee9d6c 176.0px,#ee9d6c 184.0px,#ee9d6c 192.0px,#ee9d6c 200.0px,#ee9d6c 208.0px,#ee9d6c 216.0px,#ee9d6c 219.6px)"></div><div style="height:1.00px;background:linear-gradient(90deg,#ed9d6a 0.0px,#ed9d6a 8.0px,#ed9d6a 16.0px,#ed9d6a 24.0px,#ed9d6a 32.0px,#ed9d6a 40.0px,#ed9d6a 48.0px,#ed9d6a 56.0px,#ed9d6a 64.0px,#ed9d6a 72.0px,#ed9d6a 80.0px,#ed9d6a 88.0px,#ed9d6a 96.0px,#ed9d6a 104.0px,#ed9d6a 112.0px,#ed9d6a 120.0px,#ed9d6a 128.0px,#ed9d6a 136.0px,#ed9d6a 144.0px,#ed9d6a 152.0px,#ed9d6a 160.0px,#ed9d6a 168.0px,#ed9d6a 176.0px,#ed9d6a 184.0px,#ed9d6a 192.0px,#ed9d6a 200.0px,#ed9d6a 208.0px,#ed9d6a 216.0px,#ed9d6a 219.6px)"></div><div style="height:1.00px;background:linear-gradient(90deg,#ec9d69 0.0px,#ec9d69 8.0px,#ec9d69 16.0px,#ec9d69 24.0px,#ec9d69 32.0px,#ec9d69 40.0px,#ec9d69 48.0px,#ec9d69 56.0px,#ec9d69 64.0px,#ec9d69 72.0px,#ec9d69 80.0px,#ec9d69 88.0px,#ec9d69 96.0px,#ec9d69 104.0px,#ec9d69 112.0px,#ec9d69 120.0px,#ec9d69 128.0px,#ec9d69 136.0px,#ec9d69 144.0px,#ec9d69 152.0px,#ec9d69 160.0px,#ec9d69 168.0px,#ec9d69 176.0px,#ec9d69 184.0px,#ec9d69 192.0px,#ec9d69 200.0px,#ec9d69 208.0px,#ec9d69 216.0px,#ec9d69 219.6px)"></div><div style="height:1.00px;background:linear-gradient(90deg,#eb9c68 0.0px,#eb9c68 8.0px,#eb9c68 16.0px,#eb9c68 24.0px,#eb9c68 32.0px,#eb9c68 40.0px,#eb9c68 48.0px,#eb9c68 56.0px,#eb9c68 64.0px,#eb9c68 72.0px,#eb9c68 80.0px,#eb9c68 88.0px,#eb9c68 96.0px,#eb9c68 104.0px,#eb9c68 112.0px,#eb9c68 120.0px,#eb9c68 128.0px,#eb9c68 136.0px,#eb9c68 144.0px,#eb9c68 152.0px,#eb9c68 160.0px,#eb9c68 168.0px,#eb9c68 176.0px,#eb9c68 184.0px,#eb9c68 192.0px,#eb9c68 200.0px,#eb9c68 208.0px,#eb9c68 216.0px,#eb9c68 219.6px)"></div><div style="height:1.00px;background:linear-gradient(90deg,#ea9c66 0.0px,#ea9c66 8.0px,#ea9c66 16.0px,#ea9c66 24.0px,#ea9c66 32.0px,#ea9c66 40.0px,#ea9c66 48.0px,#ea9c66 56.0px,#ea9c66 64.0px,#ea9c66 72.0px,#ea9c66 80.0px,#ea9c66 88.0px,#ea9c66 96.0px,#ea9c66 104.0px,#ea9c66 112.0px,#ea9c66 120.0px,#ea9c66 128.0px,#ea9c66 136.0px,#ea9c66 144.0px,#ea9c66 152.0px,#ea9c66 160.0px,#ea9c66 168.0px,#ea9c66 176.0px,#ea9c66 184.0px,#ea9c66 192.0px,#ea9c66 200.0px,#ea9c66 208.0px,#ea9c66 216.0px,#ea9c66 219.6px)"></div><div style="height:1.00px;background:linear-gradient(90deg,#e99c65 0.0px,#e99c65 8.0px,#e99c65 16.0px,#e99c65 24.0px,#e99c65 32.0px,#e99c65 40.0px,#e99c65 48.0px,#e99c65 56.0px,#e99c65 64.0px,#e99c65 72.0px,#e99c65 80.0px,#e99c65 88.0px,#e99c65 96.0px,#e99c65 104.0px,#e99c65 112.0px,#e99c65 120.0px,#e99c65 128.0px,#e99c65 136.0px,#e99c65 144.0px,#e99c65 152.0px,#e99c65 160.0px,#e99c65 168.0px,#e99c65 176.0px,#e99c65 184.0px,#e99c65 192.0px,#e99c65 200.0px,#e99c65 208.0px,#e99c65 216.0px,#e99c65 219.6px)"></div><div style="height:1.00px;background:linear-gradient(90deg,#e89b64 0.0px,#e89b64 8.0px,#e89b64 16.0px,#e89b64 24.0px,#e89b64 32.0px,#e89b64 40.0px,#e89b64 48.0px,#e89b64 56.0px,#e89b64 64.0px,#e89b64 72.0px,#e89b64 80.0px,#e89b64 88.0px,#e89b64 96.0px,#e89b64 104.0px,#e89b64 112.0px,#e89b64 120.0px,#e89b64 128.0px,#e89b64 136.0px,#e89b64 144.0px,#e89b64 152.0px,#e89b64 160.0px,#e89b64 168.0px,#e89b64 176.0px,#e89b64 184.0px,#e89b64 192.0px,#e89b64 200.0px,#e89b64 208.0px,#e89b64 216.0px,#e89b64 219.6px)"></div><div style="height:1.00px;background:linear-gradient(90deg,#e79b63 0.0px,#e79b63 8.0px,#e79b63 16.0px,#e79b63 24.0px,#e79b63 32.0px,#e79b63 40.0px,#e79b63 48.0px,#e79b63 56.0px,#e79b63 64.0px,#e79b63 72.0px,#e79b63 80.0px,#e79b63 88.0px,#e79b63 96.0px,#e79b63 104.0px,#e79b63 112.0px,#e79b63 120.0px,#e79b63 128.0px,#e79b63 136.0px,#e79b63 144.0px,#e79b63 152.0px,#e79b63 160.0px,#e79b63 168.0px,#e79b63 176.0px,#e79b63 184.0px,#e79b63 192.0px,#e79b63 200.0px,#e79b63 208.0px,#e79b63 216.0px,#e79b63 219.6px)"></div><div style="height:1.00px;background:linear-gradient(90deg,#e79b61 0.0px,#e79b61 8.0px,#e79b61 16.0px,#e79b61 24.0px,#e79b61 32.0px,#e79b61 40.0px,#e79b61 48.0px,#e79b61 56.0px,#e79b61 64.0px,#e79b61 72.0px,#e79b61 80.0px,#e79b61 88.0px,#e79b61 96.0px,#e79b61 104.0px,#e79b61 112.0px,#e79b61 120.0px,#e79b61 128.0px,#e79b61 136.0px,#e79b61 144.0px,#e79b61 152.0px,#e79b61 160.0px,#e79b61 168.0px,#e79b61 176.0px,#e79b61 184.0px,#e79b61 192.0px,#e79b61 200.0px,#e79b61 208.0px,#e79b61 216.0px,#e79b61 219.6px)"></div><div style="height:1.00px;background:linear-gradient(90deg,#e69a60 0.0px,#e69a60 8.0px,#e69a60 16.0px,#e69a60 24.0px,#e69a60 32.0px,#e69a60 40.0px,#e69a60 48.0px,#e69a60 56.0px,#e69a60 64.0px,#e69a60 72.0px,#e69a60 80.0px,#e69a60 88.0px,#e69a60 96.0px,#e69a60 104.0px,#e69a60 112.0px,#e69a60 120.0px,#e69a60 128.0px,#e69a60 136.0px,#e69a60 144.0px,#e69a60 152.0px,#e69a60 160.0px,#e69a60 168.0px,#e69a60 176.0px,#e69a60 184.0px,#e69a60 192.0px,#e69a60 200.0px,#e69a60 208.0px,#e69a60 216.0px,#e69a60 219.6px)"></div><div style="height:1.00px;background:linear-gradient(90deg,#e59a5f 0.0px,#e59a5f 8.0px,#e59a5f 16.0px,#e59a5f 24.0px,#e59a5f 32.0px,#e59a5f 40.0px,#e59a5f 48.0px,#e59a5f 56.0px,#e59a5f 64.0px,#e59a5f 72.0px,#e59a5f 80.0px,#e59a5f 88.0px,#e59a5f 96.0px,#e59a5f 104.0px,#e59a5f 112.0px,#e59a5f 120.0px,#e59a5f 128.0px,#e59a5f 136.0px,#e59a5f 144.0px,#e59a5f 152.0px,#e59a5f 160.0px,#e59a5f 168.0px,#e59a5f 176.0px,#e59a5f 184.0px,#e59a5f 192.0px,#e59a5f 200.0px,#e59a5f 208.0px,#e59a5f 216.0px,#e59a5f 219.6px)"></div><div style="height:1.00px;background:linear-gradient(90deg,#e49a5d 0.0px,#e49a5d 8.0px,#e49a5d 16.0px,#e49a5d 24.0px,#e49a5d 32.0px,#e49a5d 40.0px,#e49a5d 48.0px,#e49a5d 56.0px,#e49a5d 64.0px,#e49a5d 72.0px,#e49a5d 80.0px,#e49a5d 88.0px,#e49a5d 96.0px,#e49a5d 104.0px,#e49a5d 112.0px,#e49a5d 120.0px,#e49a5d 128.0px,#e49a5d 136.0px,#e49a5d 144.0px,#e49a5d 152.0px,#e49a5d 160.0px,#e49a5d 168.0px,#e49a5d 176.0px,#e49a5d 184.0px,#e49a5d 192.0px,#e49a5d 200.0px,#e49a5d 208.0px,#e49a5d 216.0px,#e49a5d 219.6px)"></div><div style="height:1.00px;background:linear-gradient(90deg,#e3995c 0.0px,#e3995c 8.0px,#e3995c 16.0px,#e3995c 24.0px,#e3995c 32.0px,#e3995c 40.0px,#e3995c 48.0px,#e3995c 56.0px,#e3995c 64.0px,#e3995c 72.0px,#e3995c 80.0px,#e3995c 88.0px,#e3995c 96.0px,#e3995c 104.0px,#e3995c 112.0px,#e3995c 120.0px,#e3995c 128.0px,#e3995c 136.0px,#e3995c 144.0px,#e3995c 152.0px,#e3995c 160.0px,#e3995c 168.0px,#e3995c 176.0px,#e3995c 184.0px,#e3995c 192.0px,#e3995c 200.0px,#e3995c 208.0px,#e3995c 216.0px,#e3995c 219.6px)"></div><div style="height:1.00px;background:linear-gradient(90deg,#e2995a 0.0px,#e2995a 8.0px,#e2995a 16.0px,#e2995a 24.0px,#e2995a 32.0px,#e2995a 40.0px,#e2995a 48.0px,#e2995a 56.0px,#e2995a 64.0px,#e2995a 72.0px,#e2995a 80.0px,#e2995a 88.0px,#e2995a 96.0px,#e2995a 104.0px,#e2995a 112.0px,#e2995a 120.0px,#e2995a 128.0px,#e2995a 136.0px,#e2995a 144.0px,#e2995a 152.0px,#e2995a 160.0px,#e2995a 168.0px,#e2995a 176.0px,#e2995a 184.0px,#e2995a 192.0px,#e2995a 200.0px,#e2995a 208.0px,#e2995a 216.0px,#e2995a 219.6px)"></div><div style="height:1.00px;background:linear-gradient(90deg,#e19859 0.0px,#e19859 8.0px,#e19859 16.0px,#e19859 24.0px,#e19859 32.0px,#e19859 40.0px,#e19859 48.0px,#e19859 56.0px,#e19859 64.0px,#e19859 72.0px,#e19859 80.0px,#e19859 88.0px,#e19859 96.0px,#e19859 104.0px,#e19859 112.0px,#e19859 120.0px,#e19859 128.0px,#e19859 136.0px,#e19859 144.0px,#e19859 152.0px,#e19859 160.0px,#e19859 168.0px,#e19859 176.0px,#e19859 184.0px,#e19859 192.0px,#e19859 200.0px,#e19859 208.0px,#e19859 216.0px,#e19859 219.6px)"></div><div style="height:1.00px;background:linear-gradient(90deg,#e09857 0.0px,#e09857 8.0px,#e09857 16.0px,#e09857 24.0px,#e09857 32.0px,#e09857 40.0px,#e09857 48.0px,#e09857 56.0px,#e09857 64.0px,#e09857 72.0px,#e09857 80.0px,#e09857 88.0px,#e09857 96.0px,#e09857 104.0px,#e09857 112.0px,#e09857 120.0px,#e09857 128.0px,#e09857 136.0px,#e09857 144.0px,#e09857 152.0px,#e09857 160.0px,#e09857 168.0px,#e09857 176.0px,#e09857 184.0px,#e09857 192.0px,#e09857 200.0px,#e09857 208.0px,#e09857 216.0px,#e09857 219.6px)"></div><div style="height:1.00px;background:linear-gradient(90deg,#df9856 0.0px,#df9856 8.0px,#df9856 16.0px,#df9856 24.0px,#df9856 32.0px,#df9856 40.0px,#df9856 48.0px,#df9856 56.0px,#df9856 64.0px,#df9856 72.0px,#df9856 80.0px,#df9856 88.0px,#df9856 96.0px,#df9856 104.0px,#df9856 112.0px,#df9856 120.0px,#df9856 128.0px,#df9856 136.0px,#df9856 144.0px,#df9856 152.0px,#df9856 160.0px,#df9856 168.0px,#df9856 176.0px,#df9856 184.0px,#df9856 192.0px,#df9856 200.0px,#df9856 208.0px,#df9856 216.0px,#df9856 219.6px)"></div><div style="height:1.00px;background:linear-gradient(90deg,#de9754 0.0px,#de9754 8.0px,#de9754 16.0px,#de9754 24.0px,#de9754 32.0px,#de9754 40.0px,#de9754 48.0px,#de9754 56.0px,#de9754 64.0px,#de9754 72.0px,#de9754 80.0px,#de9754 88.0px,#de9754 96.0px,#de9754 104.0px,#de9754 112.0px,#de9754 120.0px,#de9754 128.0px,#de9754 136.0px,#de9754 144.0px,#de9754 152.0px,#de9754 160.0px,#de9754 168.0px,#de9754 176.0px,#de9754 184.0px,#de9754 192.0px,#de9754 200.0px,#de9754 208.0px,#de9754 216.0px,#de9754 219.6px)"></div><div style="height:1.00px;background:linear-gradient(90deg,#dd9753 0.0px,#dd9753 8.0px,#dd9753 16.0px,#dd9753 24.0px,#dd9753 32.0px,#dd9753 40.0px,#dd9753 48.0px,#dd9753 56.0px,#dd9753 64.0px,#dd9753 72.0px,#dd9753 80.0px,#dd9753 88.0px,#dd9753 96.0px,#dd9753 104.0px,#dd9753 112.0px,#dd9753 120.0px,#dd9753 128.0px,#dd9753 136.0px,#dd9753 144.0px,#dd9753 152.0px,#dd9753 160.0px,#dd9753 168.0px,#dd9753 176.0px,#dd9753 184.0px,#dd9753 192.0px,#dd9753 200.0px,#dd9753 208.0px,#dd9753 216.0px,#dd9753 219.6px)"></div><div style="height:1.00px;background:linear-gradient(90deg,#dc9751 0.0px,#dc9751 8.0px,#dc9751 16.0px,#dc9751 24.0px,#dc9751 32.0px,#dc9751 40.0px,#dc9751 48.0px,#dc9751 56.0px,#dc9751 64.0px,#dc9751 72.0px,#dc9751 80.0px,#dc9751 88.0px,#dc9751 96.0px,#dc9751 104.0px,#dc9751 112.0px,#dc9751 120.0px,#dc9751 128.0px,#dc9751 136.0px,#dc9751 144.0px,#dc9751 152.0px,#dc9751 160.0px,#dc9751 168.0px,#dc9751 176.0px,#dc9751 184.0px,#dc9751 192.0px,#dc9751 200.0px,#dc9751 208.0px,#dc9751 216.0px,#dc9751 219.6px)"></div><div style="height:1.00px;background:linear-gradient(90deg,#db9650 0.0px,#db9650 8.0px,#db9650 16.0px,#db9650 24.0px,#db9650 32.0px,#db9650 40.0px,#db9650 48.0px,#db9650 56.0px,#db9650 64.0px,#db9650 72.0px,#db9650 80.0px,#db9650 88.0px,#db9650 96.0px,#db9650 104.0px,#db9650 112.0px,#db9650 120.0px,#db9650 128.0px,#db9650 136.0px,#db9650 144.0px,#db9650 152.0px,#db9650 160.0px,#db9650 168.0px,#db9650 176.0px,#db9650 184.0px,#db9650 192.0px,#db9650 200.0px,#db9650 208.0px,#db9650 216.0px,#db9650 219.6px)"></div><div style="height:1.00px;background:linear-gradient(90deg,#d9964e 0.0px,#d9964e 8.0px,#d9964e 16.0px,#d9964e 24.0px,#d9964e 32.0px,#d9964e 40.0px,#d9964e 48.0px,#d9964e 56.0px,#d9964e 64.0px,#d9964e 72.0px,#d9964e 80.0px,#d9964e 88.0px,#d9964e 96.0px,#d9964e 104.0px,#d9964e 112.0px,#d9964e 120.0px,#d9964e 128.0px,#d9964e 136.0px,#d9964e 144.0px,#d9964e 152.0px,#d9964e 160.0px,#d9964e 168.0px,#d9964e 176.0px,#d9964e 184.0px,#d9964e 192.0px,#d9964e 200.0px,#d9964e 208.0px,#d9964e 216.0px,#d9964e 219.6px)"></div><div style="height:1.00px;background:linear-gradient(90deg,#d8954c 0.0px,#d8954c 8.0px,#d8954c 16.0px,#d8954c 24.0px,#d8954c 32.0px,#d8954c 40.0px,#d8954c 48.0px,#d8954c 56.0px,#d8954c 64.0px,#d8954c 72.0px,#d8954c 80.0px,#d8954c 88.0px,#d8954c 96.0px,#d8954c 104.0px,#d8954c 112.0px,#d8954c 120.0px,#d8954c 128.0px,#d8954c 136.0px,#d8954c 144.0px,#d8954c 152.0px,#d8954c 160.0px,#d8954c 168.0px,#d8954c 176.0px,#d8954c 184.0px,#d8954c 192.0px,#d8954c 200.0px,#d8954c 208.0px,#d8954c 216.0px,#d8954c 219.6px)"></div><div style="height:1.00px;background:linear-gradient(90deg,#d7954b 0.0px,#d7954b 8.0px,#d7954b 16.0px,#d7954b 24.0px,#d7954b 32.0px,#d7954b 40.0px,#d7954b 48.0px,#d7954b 56.0px,#d7954b 64.0px,#d7954b 72.0px,#d7954b 80.0px,#d7954b 88.0px,#d7954b 96.0px,#d7954b 104.0px,#d7954b 112.0px,#d7954b 120.0px,#d7954b 128.0px,#d7954b 136.0px,#d7954b 144.0px,#d7954b 152.0px,#d7954b 160.0px,#d7954b 168.0px,#d7954b 176.0px,#d7954b 184.0px,#d7954b 192.0px,#d7954b 200.0px,#d7954b 208.0px,#d7954b 216.0px,#d7954b 219.6px)"></div><div style="height:1.00px;background:linear-gradient(90deg,#d69549 0.0px,#d69549 8.0px,#d69549 16.0px,#d69549 24.0px,#d69549 32.0px,#d69549 40.0px,#d69549 48.0px,#d69549 56.0px,#d69549 64.0px,#d69549 72.0px,#d69549 80.0px,#d69549 88.0px,#d69549 96.0px,#d69549 104.0px,#d69549 112.0px,#d69549 120.0px,#d69549 128.0px,#d69549 136.0px,#d69549 144.0px,#d69549 152.0px,#d69549 160.0px,#d69549 168.0px,#d69549 176.0px,#d69549 184.0px,#d69549 192.0px,#d69549 200.0px,#d69549 208.0px,#d69549 216.0px,#d69549 219.6px)"></div><div style="height:1.00px;background:linear-gradient(90deg,#d59447 0.0px,#d59447 8.0px,#d59447 16.0px,#d59447 24.0px,#d59447 32.0px,#d59447 40.0px,#d59447 48.0px,#d59447 56.0px,#d59447 64.0px,#d59447 72.0px,#d59447 80.0px,#d59447 88.0px,#d59447 96.0px,#d59447 104.0px,#d59447 112.0px,#d59447 120.0px,#d59447 128.0px,#d59447 136.0px,#d59447 144.0px,#d59447 152.0px,#d59447 160.0px,#d59447 168.0px,#d59447 176.0px,#d59447 184.0px,#d59447 192.0px,#d59447 200.0px,#d59447 208.0px,#d59447 216.0px,#d59447 219.6px)"></div><div style="height:1.00px;background:linear-gradient(90deg,#d39345 0.0px,#d39345 8.0px,#d39345 16.0px,#d39345 24.0px,#d39345 32.0px,#d39345 40.0px,#d39345 48.0px,#d39345 56.0px,#d39345 64.0px,#d39345 72.0px,#d39345 80.0px,#d39345 88.0px,#d39345 96.0px,#d39345 104.0px,#d39345 112.0px,#d39345 120.0px,#d39345 128.0px,#d39345 136.0px,#d39345 144.0px,#d39345 152.0px,#d39345 160.0px,#d39345 168.0px,#d39345 176.0px,#d39345 184.0px,#d39345 192.0px,#d39345 200.0px,#d39345 208.0px,#d39345 216.0px,#d39345 219.6px)"></div><div style="height:1.00px;background:linear-gradient(90deg,#d29343 0.0px,#d29343 8.0px,#d29343 16.0px,#d29343 24.0px,#d29343 32.0px,#d29343 40.0px,#d29343 48.0px,#d29343 56.0px,#d29343 64.0px,#d29343 72.0px,#d29343 80.0px,#d29343 88.0px,#d29343 96.0px,#d29343 104.0px,#d29343 112.0px,#d29343 120.0px,#d29343 128.0px,#d29343 136.0px,#d29343 144.0px,#d29343 152.0px,#d29343 160.0px,#d29343 168.0px,#d29343 176.0px,#d29343 184.0px,#d29343 192.0px,#d29343 200.0px,#d29343 208.0px,#d29343 216.0px,#d29343 219.6px)"></div><div style="height:1.00px;background:linear-gradient(90deg,#d09342 0.0px,#d09342 8.0px,#d09342 16.0px,#d09342 24.0px,#d09342 32.0px,#d09342 40.0px,#d09342 48.0px,#d09342 56.0px,#d09342 64.0px,#d09342 72.0px,#d09342 80.0px,#d09342 88.0px,#d09342 96.0px,#d09342 104.0px,#d09342 112.0px,#d09342 120.0px,#d09342 128.0px,#d09342 136.0px,#d09342 144.0px,#d09342 152.0px,#d09342 160.0px,#d09342 168.0px,#d09342 176.0px,#d09342 184.0px,#d09342 192.0px,#d09342 200.0px,#d09342 208.0px,#d09342 216.0px,#d09342 219.6px)"></div><div style="height:1.00px;background:linear-gradient(90deg,#ce9241 0.0px,#ce9241 8.0px,#ce9241 16.0px,#ce9241 24.0px,#ce9241 32.0px,#ce9241 40.0px,#ce9241 48.0px,#ce9241 56.0px,#ce9241 64.0px,#ce9241 72.0px,#ce9241 80.0px,#ce9241 88.0px,#ce9241 96.0px,#ce9241 104.0px,#ce9241 112.0px,#ce9241 120.0px,#ce9241 128.0px,#ce9241 136.0px,#ce9241 144.0px,#ce9241 152.0px,#ce9241 160.0px,#ce9241 168.0px,#ce9241 176.0px,#ce9241 184.0px,#ce9241 192.0px,#ce9241 200.0px,#ce9241 208.0px,#ce9241 216.0px,#ce9241 219.6px)"></div><div style="height:1.00px;background:linear-gradient(90deg,#cc9240 0.0px,#cc9240 8.0px,#cc9240 16.0px,#cc9240 24.0px,#cc9240 32.0px,#cc9240 40.0px,#cc9240 48.0px,#cc9240 56.0px,#cc9240 64.0px,#cc9240 72.0px,#cc9240 80.0px,#cc9240 88.0px,#cc9240 96.0px,#cc9240 104.0px,#cc9240 112.0px,#cc9240 120.0px,#cc9240 128.0px,#cc9240 136.0px,#cc9240 144.0px,#cc9240 152.0px,#cc9240 160.0px,#cc9240 168.0px,#cc9240 176.0px,#cc9240 184.0px,#cc9240 192.0px,#cc9240 200.0px,#cc9240 208.0px,#cc9240 216.0px,#cc9240 219.6px)"></div><div style="height:1.00px;background:linear-gradient(90deg,#c9913f 0.0px,#c9913f 8.0px,#c9913f 16.0px,#c9913f 24.0px,#c9913f 32.0px,#c9913f 40.0px,#c9913f 48.0px,#c9913f 56.0px,#c9913f 64.0px,#c9913f 72.0px,#c9913f 80.0px,#c9913f 88.0px,#c9913f 96.0px,#c9913f 104.0px,#c9913f 112.0px,#c9913f 120.0px,#c9913f 128.0px,#c9913f 136.0px,#c9913f 144.0px,#c9913f 152.0px,#c9913f 160.0px,#c9913f 168.0px,#c9913f 176.0px,#c9913f 184.0px,#c9913f 192.0px,#c9913f 200.0px,#c9913f 208.0px,#c9913f 216.0px,#c9913f 219.6px)"></div><div style="height:1.00px;background:linear-gradient(90deg,#c7913e 0.0px,#c7913e 8.0px,#c7913e 16.0px,#c7913e 24.0px,#c7913e 32.0px,#c7913e 40.0px,#c7913e 48.0px,#c7913e 56.0px,#c7913e 64.0px,#c7913e 72.0px,#c7913e 80.0px,#c7913e 88.0px,#c7913e 96.0px,#c7913e 104.0px,#c7913e 112.0px,#c7913e 120.0px,#c7913e 128.0px,#c7913e 136.0px,#c7913e 144.0px,#c7913e 152.0px,#c7913e 160.0px,#c7913e 168.0px,#c7913e 176.0px,#c7913e 184.0px,#c7913e 192.0px,#c7913e 200.0px,#c7913e 208.0px,#c7913e 216.0px,#c7913e 219.6px)"></div><div style="height:1.00px;background:linear-gradient(90deg,#c5913d 0.0px,#c5913d 8.0px,#c5913d 16.0px,#c5913d 24.0px,#c5913d 32.0px,#c5913d 40.0px,#c5913d 48.0px,#c5913d 56.0px,#c5913d 64.0px,#c5913d 72.0px,#c5913d 80.0px,#c5913d 88.0px,#c5913d 96.0px,#c5913d 104.0px,#c5913d 112.0px,#c5913d 120.0px,#c5913d 128.0px,#c5913d 136.0px,#c5913d 144.0px,#c5913d 152.0px,#c5913d 160.0px,#c5913d 168.0px,#c5913d 176.0px,#c5913d 184.0px,#c5913d 192.0px,#c5913d 200.0px,#c5913d 208.0px,#c5913d 216.0px,#c5913d 219.6px)"></div><div style="height:1.00px;background:linear-gradient(90deg,#c3903c 0.0px,#c3903c 8.0px,#c3903c 16.0px,#c3903c 24.0px,#c3903c 32.0px,#c3903c 40.0px,#c3903c 48.0px,#c3903c 56.0px,#c3903c 64.0px,#c3903c 72.0px,#c3903c 80.0px,#c3903c 88.0px,#c3903c 96.0px,#c3903c 104.0px,#c3903c 112.0px,#c3903c 120.0px,#c3903c 128.0px,#c3903c 136.0px,#c3903c 144.0px,#c3903c 152.0px,#c3903c 160.0px,#c3903c 168.0px,#c3903c 176.0px,#c3903c 184.0px,#c3903c 192.0px,#c3903c 200.0px,#c3903c 208.0px,#c3903c 216.0px,#c3903c 219.6px)"></div><div style="height:1.00px;background:linear-gradient(90deg,#c1903b 0.0px,#c1903b 8.0px,#c1903b 16.0px,#c1903b 24.0px,#c1903b 32.0px,#c1903b 40.0px,#c1903b 48.0px,#c1903b 56.0px,#c1903b 64.0px,#c1903b 72.0px,#c1903b 80.0px,#c1903b 88.0px,#c1903b 96.0px,#c1903b 104.0px,#c1903b 112.0px,#c1903b 120.0px,#c1903b 128.0px,#c1903b 136.0px,#c1903b 144.0px,#c1903b 152.0px,#c1903b 160.0px,#c1903b 168.0px,#c1903b 176.0px,#c1903b 184.0px,#c1903b 192.0px,#c1903b 200.0px,#c1903b 208.0px,#c1903b 216.0px,#c1903b 219.6px)"></div><div style="height:1.00px;background:linear-gradient(90deg,#be8f3a 0.0px,#be8f3a 8.0px,#be8f3a 16.0px,#be8f3a 24.0px,#be8f3a 32.0px,#be8f3a 40.0px,#be8f3a 48.0px,#be8f3a 56.0px,#be8f3a 64.0px,#be8f3a 72.0px,#be8f3a 80.0px,#be8f3a 88.0px,#be8f3a 96.0px,#be8f3a 104.0px,#be8f3a 112.0px,#be8f3a 120.0px,#be8f3a 128.0px,#be8f3a 136.0px,#be8f3a 144.0px,#be8f3a 152.0px,#be8f3a 160.0px,#be8f3a 168.0px,#be8f3a 176.0px,#be8f3a 184.0px,#be8f3a 192.0px,#be8f3a 200.0px,#be8f3a 208.0px,#be8f3a 216.0px,#be8f3a 219.6px)"></div><div style="height:1.00px;background:linear-gradient(90deg,#bc8f39 0.0px,#bc8f39 8.0px,#bc8f39 16.0px,#bc8f39 24.0px,#bc8f39 32.0px,#bc8f39 40.0px,#bc8f39 48.0px,#bc8f39 56.0px,#bc8f39 64.0px,#bc8f39 72.0px,#bc8f39 80.0px,#bc8f39 88.0px,#bc8f39 96.0px,#bc8f39 104.0px,#bc8f39 112.0px,#bc8f39 120.0px,#bc8f39 128.0px,#bc8f39 136.0px,#bc8f39 144.0px,#bc8f39 152.0px,#bc8f39 160.0px,#bc8f39 168.0px,#bc8f39 176.0px,#bc8f39 184.0px,#bc8f39 192.0px,#bc8f39 200.0px,#bc8f39 208.0px,#bc8f39 216.0px,#bc8f39 219.6px)"></div><div style="height:1.00px;background:linear-gradient(90deg,#b98e38 0.0px,#b98e38 8.0px,#b98e38 16.0px,#b98e38 24.0px,#b98e38 32.0px,#b98e38 40.0px,#b98e38 48.0px,#b98e38 56.0px,#b98e38 64.0px,#b98e38 72.0px,#b98e38 80.0px,#b98e38 88.0px,#b98e38 96.0px,#b98e38 104.0px,#b98e38 112.0px,#b98e38 120.0px,#b98e38 128.0px,#b98e38 136.0px,#b98e38 144.0px,#b98e38 152.0px,#b98e38 160.0px,#b98e38 168.0px,#b98e38 176.0px,#b98e38 184.0px,#b98e38 192.0px,#b98e38 200.0px,#b98e38 208.0px,#b98e38 216.0px,#b98e38 219.6px)"></div><div style="height:1.00px;background:linear-gradient(90deg,#b68e37 0.0px,#b68e37 8.0px,#b68e37 16.0px,#b68e37 24.0px,#b68e37 32.0px,#b68e37 40.0px,#b68e37 48.0px,#b68e37 56.0px,#b68e37 64.0px,#b68e37 72.0px,#b68e37 80.0px,#b68e37 88.0px,#b68e37 96.0px,#b68e37 104.0px,#b68e37 112.0px,#b68e37 120.0px,#b68e37 128.0px,#b68e37 136.0px,#b68e37 144.0px,#b68e37 152.0px,#b68e37 160.0px,#b68e37 168.0px,#b68e37 176.0px,#b68e37 184.0px,#b68e37 192.0px,#b68e37 200.0px,#b68e37 208.0px,#b68e37 216.0px,#b68e37 219.6px)"></div><div style="height:1.00px;background:linear-gradient(90deg,#b48d35 0.0px,#b48d35 8.0px,#b48d35 16.0px,#b48d35 24.0px,#b48d35 32.0px,#b48d35 40.0px,#b48d35 48.0px,#b48d35 56.0px,#b48d35 64.0px,#b48d35 72.0px,#b48d35 80.0px,#b48d35 88.0px,#b48d35 96.0px,#b48d35 104.0px,#b48d35 112.0px,#b48d35 120.0px,#b48d35 128.0px,#b48d35 136.0px,#b48d35 144.0px,#b48d35 152.0px,#b48d35 160.0px,#b48d35 168.0px,#b48d35 176.0px,#b48d35 184.0px,#b48d35 192.0px,#b48d35 200.0px,#b48d35 208.0px,#b48d35 216.0px,#b48d35 219.6px)"></div><div style="height:1.00px;background:linear-gradient(90deg,#b18d34 0.0px,#b18d34 8.0px,#b18d34 16.0px,#b18d34 24.0px,#b18d34 32.0px,#b18d34 40.0px,#b18d34 48.0px,#b18d34 56.0px,#b18d34 64.0px,#b18d34 72.0px,#b18d34 80.0px,#b18d34 88.0px,#b18d34 96.0px,#b18d34 104.0px,#b18d34 112.0px,#b18d34 120.0px,#b18d34 128.0px,#b18d34 136.0px,#b18d34 144.0px,#b18d34 152.0px,#b18d34 160.0px,#b18d34 168.0px,#b18d34 176.0px,#b18d34 184.0px,#b18d34 192.0px,#b18d34 200.0px,#b18d34 208.0px,#b18d34 216.0px,#b18d34 219.6px)"></div><div style="height:1.00px;background:linear-gradient(90deg,#af8c33 0.0px,#af8c33 8.0px,#af8c33 16.0px,#af8c33 24.0px,#af8c33 32.0px,#af8c33 40.0px,#af8c33 48.0px,#af8c33 56.0px,#af8c33 64.0px,#af8c33 72.0px,#af8c33 80.0px,#af8c33 88.0px,#af8c33 96.0px,#af8c33 104.0px,#af8c33 112.0px,#af8c33 120.0px,#af8c33 128.0px,#af8c33 136.0px,#af8c33 144.0px,#af8c33 152.0px,#af8c33 160.0px,#af8c33 168.0px,#af8c33 176.0px,#af8c33 184.0px,#af8c33 192.0px,#af8c33 200.0px,#af8c33 208.0px,#af8c33 216.0px,#af8c33 219.6px)"></div><div style="height:1.00px;background:linear-gradient(90deg,#ac8c32 0.0px,#ac8c32 8.0px,#ac8c32 16.0px,#ac8c32 24.0px,#ac8c32 32.0px,#ac8c32 40.0px,#ac8c32 48.0px,#ac8c32 56.0px,#ac8c32 64.0px,#ac8c32 72.0px,#ac8c32 80.0px,#ac8c32 88.0px,#ac8c32 96.0px,#ac8c32 104.0px,#ac8c32 112.0px,#ac8c32 120.0px,#ac8c32 128.0px,#ac8c32 136.0px,#ac8c32 144.0px,#ac8c32 152.0px,#ac8c32 160.0px,#ac8c32 168.0px,#ac8c32 176.0px,#ac8c32 184.0px,#ac8c32 192.0px,#ac8c32 200.0px,#ac8c32 208.0px,#ac8c32 216.0px,#ac8c32 219.6px)"></div><div style="height:1.00px;background:linear-gradient(90deg,#aa8b31 0.0px,#aa8b31 8.0px,#aa8b31 16.0px,#aa8b31 24.0px,#aa8b31 32.0px,#aa8b31 40.0px,#aa8b31 48.0px,#aa8b31 56.0px,#aa8b31 64.0px,#aa8b31 72.0px,#aa8b31 80.0px,#aa8b31 88.0px,#aa8b31 96.0px,#aa8b31 104.0px,#aa8b31 112.0px,#aa8b31 120.0px,#aa8b31 128.0px,#aa8b31 136.0px,#aa8b31 144.0px,#aa8b31 152.0px,#aa8b31 160.0px,#aa8b31 168.0px,#aa8b31 176.0px,#aa8b31 184.0px,#aa8b31 192.0px,#aa8b31 200.0px,#aa8b31 208.0px,#aa8b31 216.0px,#aa8b31 219.6px)"></div><div style="height:1.00px;background:linear-gradient(90deg,#a78b2f 0.0px,#a78b2f 8.0px,#a78b2f 16.0px,#a78b2f 24.0px,#a78b2f 32.0px,#a78b2f 40.0px,#a78b2f 48.0px,#a78b2f 56.0px,#a78b2f 64.0px,#a78b2f 72.0px,#a78b2f 80.0px,#a78b2f 88.0px,#a78b2f 96.0px,#a78b2f 104.0px,#a78b2f 112.0px,#a78b2f 120.0px,#a78b2f 128.0px,#a78b2f 136.0px,#a78b2f 144.0px,#a78b2f 152.0px,#a78b2f 160.0px,#a78b2f 168.0px,#a78b2f 176.0px,#a78b2f 184.0px,#a78b2f 192.0px,#a78b2f 200.0px,#a78b2f 208.0px,#a78b2f 216.0px,#a78b2f 219.6px)"></div><div style="height:1.00px;background:linear-gradient(90deg,#a48a2e 0.0px,#a48a2e 8.0px,#a48a2e 16.0px,#a48a2e 24.0px,#a48a2e 32.0px,#a48a2e 40.0px,#a48a2e 48.0px,#a48a2e 56.0px,#a48a2e 64.0px,#a48a2e 72.0px,#a48a2e 80.0px,#a48a2e 88.0px,#a48a2e 96.0px,#a48a2e 104.0px,#a48a2e 112.0px,#a48a2e 120.0px,#a48a2e 128.0px,#a48a2e 136.0px,#a48a2e 144.0px,#a48a2e 152.0px,#a48a2e 160.0px,#a48a2e 168.0px,#a48a2e 176.0px,#a48a2e 184.0px,#a48a2e 192.0px,#a48a2e 200.0px,#a48a2e 208.0px,#a48a2e 216.0px,#a48a2e 219.6px)"></div><div style="height:1.00px;background:linear-gradient(90deg,#a18a2d 0.0px,#a18a2d 8.0px,#a18a2d 16.0px,#a18a2d 24.0px,#a18a2d 32.0px,#a18a2d 40.0px,#a18a2d 48.0px,#a18a2d 56.0px,#a18a2d 64.0px,#a18a2d 72.0px,#a18a2d 80.0px,#a18a2d 88.0px,#a18a2d 96.0px,#a18a2d 104.0px,#a18a2d 112.0px,#a18a2d 120.0px,#a18a2d 128.0px,#a18a2d 136.0px,#a18a2d 144.0px,#a18a2d 152.0px,#a18a2d 160.0px,#a18a2d 168.0px,#a18a2d 176.0px,#a18a2d 184.0px,#a18a2d 192.0px,#a18a2d 200.0px,#a18a2d 208.0px,#a18a2d 216.0px,#a18a2d 219.6px)"></div><div style="height:1.00px;background:linear-gradient(90deg,#9e892b 0.0px,#9e892b 8.0px,#9e892b 16.0px,#9e892b 24.0px,#9e892b 32.0px,#9e892b 40.0px,#9e892b 48.0px,#9e892b 56.0px,#9e892b 64.0px,#9e892b 72.0px,#9e892b 80.0px,#9e892b 88.0px,#9e892b 96.0px,#9e892b 104.0px,#9e892b 112.0px,#9e892b 120.0px,#9e892b 128.0px,#9e892b 136.0px,#9e892b 144.0px,#9e892b 152.0px,#9e892b 160.0px,#9e892b 168.0px,#9e892b 176.0px,#9e892b 184.0px,#9e892b 192.0px,#9e892b 200.0px,#9e892b 208.0px,#9e892b 216.0px,#9e892b 219.6px)"></div><div style="height:1.00px;background:linear-gradient(90deg,#9b882c 0.0px,#9b882c 8.0px,#9b882c 16.0px,#9b882c 24.0px,#9b882c 32.0px,#9b882c 40.0px,#9b882c 48.0px,#9b882c 56.0px,#9b882c 64.0px,#9b882c 72.0px,#9b882c 80.0px,#9b882c 88.0px,#9b882c 96.0px,#9b882c 104.0px,#9b882c 112.0px,#9b882c 120.0px,#9b882c 128.0px,#9b882c 136.0px,#9b882c 144.0px,#9b882c 152.0px,#9b882c 160.0px,#9b882c 168.0px,#9b882c 176.0px,#9b882c 184.0px,#9b882c 192.0px,#9b882c 200.0px,#9b882c 208.0px,#9b882c 216.0px,#9b882c 219.6px)"></div><div style="height:1.00px;background:linear-gradient(90deg,#98882d 0.0px,#98882d 8.0px,#98882d 16.0px,#98882d 24.0px,#98882d 32.0px,#98882d 40.0px,#98882d 48.0px,#98882d 56.0px,#98882d 64.0px,#98882d 72.0px,#98882d 80.0px,#98882d 88.0px,#98882d 96.0px,#98882d 104.0px,#98882d 112.0px,#98882d 120.0px,#98882d 128.0px,#98882d 136.0px,#98882d 144.0px,#98882d 152.0px,#98882d 160.0px,#98882d 168.0px,#98882d 176.0px,#98882d 184.0px,#98882d 192.0px,#98882d 200.0px,#98882d 208.0px,#98882d 216.0px,#98882d 219.6px)"></div><div style="height:1.00px;background:linear-gradient(90deg,#94872e 0.0px,#94872e 8.0px,#94872e 16.0px,#94872e 24.0px,#94872e 32.0px,#94872e 40.0px,#94872e 48.0px,#94872e 56.0px,#94872e 64.0px,#94872e 72.0px,#94872e 80.0px,#94872e 88.0px,#94872e 96.0px,#94872e 104.0px,#94872e 112.0px,#94872e 120.0px,#94872e 128.0px,#94872e 136.0px,#94872e 144.0px,#94872e 152.0px,#94872e 160.0px,#94872e 168.0px,#94872e 176.0px,#94872e 184.0px,#94872e 192.0px,#94872e 200.0px,#94872e 208.0px,#94872e 216.0px,#94872e 219.6px)"></div><div style="height:1.00px;background:linear-gradient(90deg,#91862f 0.0px,#91862f 8.0px,#91862f 16.0px,#91862f 24.0px,#91862f 32.0px,#91862f 40.0px,#91862f 48.0px,#91862f 56.0px,#91862f 64.0px,#91862f 72.0px,#91862f 80.0px,#91862f 88.0px,#91862f 96.0px,#91862f 104.0px,#91862f 112.0px,#91862f 120.0px,#91862f 128.0px,#91862f 136.0px,#91862f 144.0px,#91862f 152.0px,#91862f 160.0px,#91862f 168.0px,#91862f 176.0px,#91862f 184.0px,#91862f 192.0px,#91862f 200.0px,#91862f 208.0px,#91862f 216.0px,#91862f 219.6px)"></div><div style="height:1.00px;background:linear-gradient(90deg,#8e8530 0.0px,#8e8530 8.0px,#8e8530 16.0px,#8e8530 24.0px,#8e8530 32.0px,#8e8530 40.0px,#8e8530 48.0px,#8e8530 56.0px,#8e8530 64.0px,#8e8530 72.0px,#8e8530 80.0px,#8e8530 88.0px,#8e8530 96.0px,#8e8530 104.0px,#8e8530 112.0px,#8e8530 120.0px,#8e8530 128.0px,#8e8530 136.0px,#8e8530 144.0px,#8e8530 152.0px,#8e8530 160.0px,#8e8530 168.0px,#8e8530 176.0px,#8e8530 184.0px,#8e8530 192.0px,#8e8530 200.0px,#8e8530 208.0px,#8e8530 216.0px,#8e8530 219.6px)"></div><div style="height:1.00px;background:linear-gradient(90deg,#8b8431 0.0px,#8b8431 8.0px,#8b8431 16.0px,#8b8431 24.0px,#8b8431 32.0px,#8b8431 40.0px,#8b8431 48.0px,#8b8431 56.0px,#8b8431 64.0px,#8b8431 72.0px,#8b8431 80.0px,#8b8431 88.0px,#8b8431 96.0px,#8b8431 104.0px,#8b8431 112.0px,#8b8431 120.0px,#8b8431 128.0px,#8b8431 136.0px,#8b8431 144.0px,#8b8431 152.0px,#8b8431 160.0px,#8b8431 168.0px,#8b8431 176.0px,#8b8431 184.0px,#8b8431 192.0px,#8b8431 200.0px,#8b8431 208.0px,#8b8431 216.0px,#8b8431 219.6px)"></div><div style="height:1.00px;background:linear-gradient(90deg,#898432 0.0px,#898432 8.0px,#898432 16.0px,#898432 24.0px,#898432 32.0px,#898432 40.0px,#898432 48.0px,#898432 56.0px,#898432 64.0px,#898432 72.0px,#898432 80.0px,#898432 88.0px,#898432 96.0px,#898432 104.0px,#898432 112.0px,#898432 120.0px,#898432 128.0px,#898432 136.0px,#898432 144.0px,#898432 152.0px,#898432 160.0px,#898432 168.0px,#898432 176.0px,#898432 184.0px,#898432 192.0px,#898432 200.0px,#898432 208.0px,#898432 216.0px,#898432 219.6px)"></div><div style="height:1.00px;background:linear-gradient(90deg,#868333 0.0px,#868333 8.0px,#868333 16.0px,#868333 24.0px,#868333 32.0px,#868333 40.0px,#868333 48.0px,#868333 56.0px,#868333 64.0px,#868333 72.0px,#868333 80.0px,#868333 88.0px,#868333 96.0px,#868333 104.0px,#868333 112.0px,#868333 120.0px,#868333 128.0px,#868333 136.0px,#868333 144.0px,#868333 152.0px,#868333 160.0px,#868333 168.0px,#868333 176.0px,#868333 184.0px,#868333 192.0px,#868333 200.0px,#868333 208.0px,#868333 216.0px,#868333 219.6px)"></div><div style="height:1.00px;background:linear-gradient(90deg,#838234 0.0px,#838234 8.0px,#838234 16.0px,#838234 24.0px,#838234 32.0px,#838234 40.0px,#838234 48.0px,#838234 56.0px,#838234 64.0px,#838234 72.0px,#838234 80.0px,#838234 88.0px,#838234 96.0px,#838234 104.0px,#838234 112.0px,#838234 120.0px,#838234 128.0px,#838234 136.0px,#838234 144.0px,#838234 152.0px,#838234 160.0px,#838234 168.0px,#838234 176.0px,#838234 184.0px,#838234 192.0px,#838234 200.0px,#838234 208.0px,#838234 216.0px,#838234 219.6px)"></div><div style="height:1.00px;background:linear-gradient(90deg,#818235 0.0px,#818235 8.0px,#818235 16.0px,#818235 24.0px,#818235 32.0px,#818235 40.0px,#818235 48.0px,#818235 56.0px,#818235 64.0px,#818235 72.0px,#818235 80.0px,#818235 88.0px,#818235 96.0px,#818235 104.0px,#818235 112.0px,#818235 120.0px,#818235 128.0px,#818235 136.0px,#818235 144.0px,#818235 152.0px,#818235 160.0px,#818235 168.0px,#818235 176.0px,#818235 184.0px,#818235 192.0px,#818235 200.0px,#818235 208.0px,#818235 216.0px,#818235 219.6px)"></div><div style="height:1.00px;background:linear-gradient(90deg,#7e8136 0.0px,#7e8136 8.0px,#7e8136 16.0px,#7e8136 24.0px,#7e8136 32.0px,#7e8136 40.0px,#7e8136 48.0px,#7e8136 56.0px,#7e8136 64.0px,#7e8136 72.0px,#7e8136 80.0px,#7e8136 88.0px,#7e8136 96.0px,#7e8136 104.0px,#7e8136 112.0px,#7e8136 120.0px,#7e8136 128.0px,#7e8136 136.0px,#7e8136 144.0px,#7e8136 152.0px,#7e8136 160.0px,#7e8136 168.0px,#7e8136 176.0px,#7e8136 184.0px,#7e8136 192.0px,#7e8136 200.0px,#7e8136 208.0px,#7e8136 216.0px,#7e8136 219.6px)"></div><div style="height:1.00px;background:linear-gradient(90deg,#7b8037 0.0px,#7b8037 8.0px,#7b8037 16.0px,#7b8037 24.0px,#7b8037 32.0px,#7b8037 40.0px,#7b8037 48.0px,#7b8037 56.0px,#7b8037 64.0px,#7b8037 72.0px,#7b8037 80.0px,#7b8037 88.0px,#7b8037 96.0px,#7b8037 104.0px,#7b8037 112.0px,#7b8037 120.0px,#7b8037 128.0px,#7b8037 136.0px,#7b8037 144.0px,#7b8037 152.0px,#7b8037 160.0px,#7b8037 168.0px,#7b8037 176.0px,#7b8037 184.0px,#7b8037 192.0px,#7b8037 200.0px,#7b8037 208.0px,#7b8037 216.0px,#7b8037 219.6px)"></div><div style="height:1.00px;background:linear-gradient(90deg,#797f38 0.0px,#797f38 8.0px,#797f38 16.0px,#797f38 24.0px,#797f38 32.0px,#797f38 40.0px,#797f38 48.0px,#797f38 56.0px,#797f38 64.0px,#797f38 72.0px,#797f38 80.0px,#797f38 88.0px,#797f38 96.0px,#797f38 104.0px,#797f38 112.0px,#797f38 120.0px,#797f38 128.0px,#797f38 136.0px,#797f38 144.0px,#797f38 152.0px,#797f38 160.0px,#797f38 168.0px,#797f38 176.0px,#797f38 184.0px,#797f38 192.0px,#797f38 200.0px,#797f38 208.0px,#797f38 216.0px,#797f38 219.6px)"></div><div style="height:1.00px;background:linear-gradient(90deg,#767f39 0.0px,#767f39 8.0px,#767f39 16.0px,#767f39 24.0px,#767f39 32.0px,#767f39 40.0px,#767f39 48.0px,#767f39 56.0px,#767f39 64.0px,#767f39 72.0px,#767f39 80.0px,#767f39 88.0px,#767f39 96.0px,#767f39 104.0px,#767f39 112.0px,#767f39 120.0px,#767f39 128.0px,#767f39 136.0px,#767f39 144.0px,#767f39 152.0px,#767f39 160.0px,#767f39 168.0px,#767f39 176.0px,#767f39 184.0px,#767f39 192.0px,#767f39 200.0px,#767f39 208.0px,#767f39 216.0px,#767f39 219.6px)"></div><div style="height:1.00px;background:linear-gradient(90deg,#737e3a 0.0px,#737e3a 8.0px,#737e3a 16.0px,#737e3a 24.0px,#737e3a 32.0px,#737e3a 40.0px,#737e3a 48.0px,#737e3a 56.0px,#737e3a 64.0px,#737e3a 72.0px,#737e3a 80.0px,#737e3a 88.0px,#737e3a 96.0px,#737e3a 104.0px,#737e3a 112.0px,#737e3a 120.0px,#737e3a 128.0px,#737e3a 136.0px,#737e3a 144.0px,#737e3a 152.0px,#737e3a 160.0px,#737e3a 168.0px,#737e3a 176.0px,#737e3a 184.0px,#737e3a 192.0px,#737e3a 200.0px,#737e3a 208.0px,#737e3a 216.0px,#737e3a 219.6px)"></div><div style="height:1.00px;background:linear-gradient(90deg,#717d3b 0.0px,#717d3b 8.0px,#717d3b 16.0px,#717d3b 24.0px,#717d3b 32.0px,#717d3b 40.0px,#717d3b 48.0px,#717d3b 56.0px,#717d3b 64.0px,#717d3b 72.0px,#717d3b 80.0px,#717d3b 88.0px,#717d3b 96.0px,#717d3b 104.0px,#717d3b 112.0px,#717d3b 120.0px,#717d3b 128.0px,#717d3b 136.0px,#717d3b 144.0px,#717d3b 152.0px,#717d3b 160.0px,#717d3b 168.0px,#717d3b 176.0px,#717d3b 184.0px,#717d3b 192.0px,#717d3b 200.0px,#717d3b 208.0px,#717d3b 216.0px,#717d3b 219.6px)"></div><div style="height:1.00px;background:linear-gradient(90deg,#6e7d3c 0.0px,#6e7d3c 8.0px,#6e7d3c 16.0px,#6e7d3c 24.0px,#6e7d3c 32.0px,#6e7d3c 40.0px,#6e7d3c 48.0px,#6e7d3c 56.0px,#6e7d3c 64.0px,#6e7d3c 72.0px,#6e7d3c 80.0px,#6e7d3c 88.0px,#6e7d3c 96.0px,#6e7d3c 104.0px,#6e7d3c 112.0px,#6e7d3c 120.0px,#6e7d3c 128.0px,#6e7d3c 136.0px,#6e7d3c 144.0px,#6e7d3c 152.0px,#6e7d3c 160.0px,#6e7d3c 168.0px,#6e7d3c 176.0px,#6e7d3c 184.0px,#6e7d3c 192.0px,#6e7d3c 200.0px,#6e7d3c 208.0px,#6e7d3c 216.0px,#6e7d3c 219.6px)"></div><div style="height:1.00px;background:linear-gradient(90deg,#6c7c3d 0.0px,#6c7c3d 8.0px,#6c7c3d 16.0px,#6c7c3d 24.0px,#6c7c3d 32.0px,#6c7c3d 40.0px,#6c7c3d 48.0px,#6c7c3d 56.0px,#6c7c3d 64.0px,#6c7c3d 72.0px,#6c7c3d 80.0px,#6c7c3d 88.0px,#6c7c3d 96.0px,#6c7c3d 104.0px,#6c7c3d 112.0px,#6c7c3d 120.0px,#6c7c3d 128.0px,#6c7c3d 136.0px,#6c7c3d 144.0px,#6c7c3d 152.0px,#6c7c3d 160.0px,#6c7c3d 168.0px,#6c7c3d 176.0px,#6c7c3d 184.0px,#6c7c3d 192.0px,#6c7c3d 200.0px,#6c7c3d 208.0px,#6c7c3d 216.0px,#6c7c3d 219.6px)"></div><div style="height:1.00px;background:linear-gradient(90deg,#697b3e 0.0px,#697b3e 8.0px,#697b3e 16.0px,#697b3e 24.0px,#697b3e 32.0px,#697b3e 40.0px,#697b3e 48.0px,#697b3e 56.0px,#697b3e 64.0px,#697b3e 72.0px,#697b3e 80.0px,#697b3e 88.0px,#697b3e 96.0px,#697b3e 104.0px,#697b3e 112.0px,#697b3e 120.0px,#697b3e 128.0px,#697b3e 136.0px,#697b3e 144.0px,#697b3e 152.0px,#697b3e 160.0px,#697b3e 168.0px,#697b3e 176.0px,#697b3e 184.0px,#697b3e 192.0px,#697b3e 200.0px,#697b3e 208.0px,#697b3e 216.0px,#697b3e 219.6px)"></div><div style="height:1.00px;background:linear-gradient(90deg,#677b3e 0.0px,#677b3e 8.0px,#677b3e 16.0px,#677b3e 24.0px,#677b3e 32.0px,#677b3e 40.0px,#677b3e 48.0px,#677b3e 56.0px,#677b3e 64.0px,#677b3e 72.0px,#677b3e 80.0px,#677b3e 88.0px,#677b3e 96.0px,#677b3e 104.0px,#677b3e 112.0px,#677b3e 120.0px,#677b3e 128.0px,#677b3e 136.0px,#677b3e 144.0px,#677b3e 152.0px,#677b3e 160.0px,#677b3e 168.0px,#677b3e 176.0px,#677b3e 184.0px,#677b3e 192.0px,#677b3e 200.0px,#677b3e 208.0px,#677b3e 216.0px,#677b3e 219.6px)"></div><div style="height:1.00px;background:linear-gradient(90deg,#657a40 0.0px,#657a40 8.0px,#657a40 16.0px,#657a40 24.0px,#657a40 32.0px,#657a40 40.0px,#657a40 48.0px,#657a40 56.0px,#657a40 64.0px,#657a40 72.0px,#657a40 80.0px,#657a40 88.0px,#657a40 96.0px,#657a40 104.0px,#657a40 112.0px,#657a40 120.0px,#657a40 128.0px,#657a40 136.0px,#657a40 144.0px,#657a40 152.0px,#657a40 160.0px,#657a40 168.0px,#657a40 176.0px,#657a40 184.0px,#657a40 192.0px,#657a40 200.0px,#657a40 208.0px,#657a40 216.0px,#657a40 219.6px)"></div><div style="height:1.00px;background:linear-gradient(90deg,#637941 0.0px,#637941 8.0px,#637941 16.0px,#637941 24.0px,#637941 32.0px,#637941 40.0px,#637941 48.0px,#637941 56.0px,#637941 64.0px,#637941 72.0px,#637941 80.0px,#637941 88.0px,#637941 96.0px,#637941 104.0px,#637941 112.0px,#637941 120.0px,#637941 128.0px,#637941 136.0px,#637941 144.0px,#637941 152.0px,#637941 160.0px,#637941 168.0px,#637941 176.0px,#637941 184.0px,#637941 192.0px,#637941 200.0px,#637941 208.0px,#637941 216.0px,#637941 219.6px)"></div><div style="height:1.00px;background:linear-gradient(90deg,#617942 0.0px,#617942 8.0px,#617942 16.0px,#617942 24.0px,#617942 32.0px,#617942 40.0px,#617942 48.0px,#617942 56.0px,#617942 64.0px,#617942 72.0px,#617942 80.0px,#617942 88.0px,#617942 96.0px,#617942 104.0px,#617942 112.0px,#617942 120.0px,#617942 128.0px,#617942 136.0px,#617942 144.0px,#617942 152.0px,#617942 160.0px,#617942 168.0px,#617942 176.0px,#617942 184.0px,#617942 192.0px,#617942 200.0px,#617942 208.0px,#617942 216.0px,#617942 219.6px)"></div><div style="height:1.00px;background:linear-gradient(90deg,#5f7843 0.0px,#5f7843 8.0px,#5f7843 16.0px,#5f7843 24.0px,#5f7843 32.0px,#5f7843 40.0px,#5f7843 48.0px,#5f7843 56.0px,#5f7843 64.0px,#5f7843 72.0px,#5f7843 80.0px,#5f7843 88.0px,#5f7843 96.0px,#5f7843 104.0px,#5f7843 112.0px,#5f7843 120.0px,#5f7843 128.0px,#5f7843 136.0px,#5f7843 144.0px,#5f7843 152.0px,#5f7843 160.0px,#5f7843 168.0px,#5f7843 176.0px,#5f7843 184.0px,#5f7843 192.0px,#5f7843 200.0px,#5f7843 208.0px,#5f7843 216.0px,#5f7843 219.6px)"></div><div style="height:1.00px;background:linear-gradient(90deg,#5d7844 0.0px,#5d7844 8.0px,#5d7844 16.0px,#5d7844 24.0px,#5d7844 32.0px,#5d7844 40.0px,#5d7844 48.0px,#5d7844 56.0px,#5d7844 64.0px,#5d7844 72.0px,#5d7844 80.0px,#5d7844 88.0px,#5d7844 96.0px,#5d7844 104.0px,#5d7844 112.0px,#5d7844 120.0px,#5d7844 128.0px,#5d7844 136.0px,#5d7844 144.0px,#5d7844 152.0px,#5d7844 160.0px,#5d7844 168.0px,#5d7844 176.0px,#5d7844 184.0px,#5d7844 192.0px,#5d7844 200.0px,#5d7844 208.0px,#5d7844 216.0px,#5d7844 219.6px)"></div><div style="height:1.00px;background:linear-gradient(90deg,#5b7745 0.0px,#5b7745 8.0px,#5b7745 16.0px,#5b7745 24.0px,#5b7745 32.0px,#5b7745 40.0px,#5b7745 48.0px,#5b7745 56.0px,#5b7745 64.0px,#5b7745 72.0px,#5b7745 80.0px,#5b7745 88.0px,#5b7745 96.0px,#5b7745 104.0px,#5b7745 112.0px,#5b7745 120.0px,#5b7745 128.0px,#5b7745 136.0px,#5b7745 144.0px,#5b7745 152.0px,#5b7745 160.0px,#5b7745 168.0px,#5b7745 176.0px,#5b7745 184.0px,#5b7745 192.0px,#5b7745 200.0px,#5b7745 208.0px,#5b7745 216.0px,#5b7745 219.6px)"></div><div style="height:1.00px;background:linear-gradient(90deg,#5a7646 0.0px,#5a7646 8.0px,#5a7646 16.0px,#5a7646 24.0px,#5a7646 32.0px,#5a7646 40.0px,#5a7646 48.0px,#5a7646 56.0px,#5a7646 64.0px,#5a7646 72.0px,#5a7646 80.0px,#5a7646 88.0px,#5a7646 96.0px,#5a7646 104.0px,#5a7646 112.0px,#5a7646 120.0px,#5a7646 128.0px,#5a7646 136.0px,#5a7646 144.0px,#5a7646 152.0px,#5a7646 160.0px,#5a7646 168.0px,#5a7646 176.0px,#5a7646 184.0px,#5a7646 192.0px,#5a7646 200.0px,#5a7646 208.0px,#5a7646 216.0px,#5a7646 219.6px)"></div><div style="height:1.00px;background:linear-gradient(90deg,#587647 0.0px,#587647 8.0px,#587647 16.0px,#587647 24.0px,#587647 32.0px,#587647 40.0px,#587647 48.0px,#587647 56.0px,#587647 64.0px,#587647 72.0px,#587647 80.0px,#587647 88.0px,#587647 96.0px,#587647 104.0px,#587647 112.0px,#587647 120.0px,#587647 128.0px,#587647 136.0px,#587647 144.0px,#587647 152.0px,#587647 160.0px,#587647 168.0px,#587647 176.0px,#587647 184.0px,#587647 192.0px,#587647 200.0px,#587647 208.0px,#587647 216.0px,#587647 219.6px)"></div><div style="height:1.00px;background:linear-gradient(90deg,#577647 0.0px,#577647 8.0px,#577647 16.0px,#577647 24.0px,#577647 32.0px,#577647 40.0px,#577647 48.0px,#577647 56.0px,#577647 64.0px,#577647 72.0px,#577647 80.0px,#577647 88.0px,#577647 96.0px,#577647 104.0px,#577647 112.0px,#577647 120.0px,#577647 128.0px,#577647 136.0px,#577647 144.0px,#577647 152.0px,#577647 160.0px,#577647 168.0px,#577647 176.0px,#577647 184.0px,#577647 192.0px,#577647 200.0px,#577647 208.0px,#577647 216.0px,#577647 219.6px)"></div><div style="height:1.00px;background:linear-gradient(90deg,#557548 0.0px,#557548 8.0px,#557548 16.0px,#557548 24.0px,#557548 32.0px,#557548 40.0px,#557548 48.0px,#557548 56.0px,#557548 64.0px,#557548 72.0px,#557548 80.0px,#557548 88.0px,#557548 96.0px,#557548 104.0px,#557548 112.0px,#557548 120.0px,#557548 128.0px,#557548 136.0px,#557548 144.0px,#557548 152.0px,#557548 160.0px,#557548 168.0px,#557548 176.0px,#557548 184.0px,#557548 192.0px,#557548 200.0px,#557548 208.0px,#557548 216.0px,#557548 219.6px)"></div><div style="height:1.00px;background:linear-gradient(90deg,#547549 0.0px,#547549 8.0px,#547549 16.0px,#547549 24.0px,#547549 32.0px,#547549 40.0px,#547549 48.0px,#547549 56.0px,#547549 64.0px,#547549 72.0px,#547549 80.0px,#547549 88.0px,#547549 96.0px,#547549 104.0px,#547549 112.0px,#547549 120.0px,#547549 128.0px,#547549 136.0px,#547549 144.0px,#547549 152.0px,#547549 160.0px,#547549 168.0px,#547549 176.0px,#547549 184.0px,#547549 192.0px,#547549 200.0px,#547549 208.0px,#547549 216.0px,#547549 219.6px)"></div><div style="height:1.00px;background:linear-gradient(90deg,#52744a 0.0px,#52744a 8.0px,#52744a 16.0px,#52744a 24.0px,#52744a 32.0px,#52744a 40.0px,#52744a 48.0px,#52744a 56.0px,#52744a 64.0px,#52744a 72.0px,#52744a 80.0px,#52744a 88.0px,#52744a 96.0px,#52744a 104.0px,#52744a 112.0px,#52744a 120.0px,#52744a 128.0px,#52744a 136.0px,#52744a 144.0px,#52744a 152.0px,#52744a 160.0px,#52744a 168.0px,#52744a 176.0px,#52744a 184.0px,#52744a 192.0px,#52744a 200.0px,#52744a 208.0px,#52744a 216.0px,#52744a 219.6px)"></div><div style="height:1.00px;background:linear-gradient(90deg,#51744b 0.0px,#51744b 8.0px,#51744b 16.0px,#51744b 24.0px,#51744b 32.0px,#51744b 40.0px,#51744b 48.0px,#51744b 56.0px,#51744b 64.0px,#51744b 72.0px,#51744b 80.0px,#51744b 88.0px,#51744b 96.0px,#51744b 104.0px,#51744b 112.0px,#51744b 120.0px,#51744b 128.0px,#51744b 136.0px,#51744b 144.0px,#51744b 152.0px,#51744b 160.0px,#51744b 168.0px,#51744b 176.0px,#51744b 184.0px,#51744b 192.0px,#51744b 200.0px,#51744b 208.0px,#51744b 216.0px,#51744b 219.6px)"></div><div style="height:1.00px;background:linear-gradient(90deg,#50734b 0.0px,#50734b 8.0px,#50734b 16.0px,#50734b 24.0px,#50734b 32.0px,#50734b 40.0px,#50734b 48.0px,#50734b 56.0px,#50734b 64.0px,#50734b 72.0px,#50734b 80.0px,#50734b 88.0px,#50734b 96.0px,#50734b 104.0px,#50734b 112.0px,#50734b 120.0px,#50734b 128.0px,#50734b 136.0px,#50734b 144.0px,#50734b 152.0px,#50734b 160.0px,#50734b 168.0px,#50734b 176.0px,#50734b 184.0px,#50734b 192.0px,#50734b 200.0px,#50734b 208.0px,#50734b 216.0px,#50734b 219.6px)"></div><div style="height:1.00px;background:linear-gradient(90deg,#4f734c 0.0px,#4f734c 8.0px,#4f734c 16.0px,#4f734c 24.0px,#4f734c 32.0px,#4f734c 40.0px,#4f734c 48.0px,#4f734c 56.0px,#4f734c 64.0px,#4f734c 72.0px,#4f734c 80.0px,#4f734c 88.0px,#4f734c 96.0px,#4f734c 104.0px,#4f734c 112.0px,#4f734c 120.0px,#4f734c 128.0px,#4f734c 136.0px,#4f734c 144.0px,#4f734c 152.0px,#4f734c 160.0px,#4f734c 168.0px,#4f734c 176.0px,#4f734c 184.0px,#4f734c 192.0px,#4f734c 200.0px,#4f734c 208.0px,#4f734c 216.0px,#4f734c 219.6px)"></div><div style="height:1.00px;background:linear-gradient(90deg,#4e734c 0.0px,#4e734c 8.0px,#4e734c 16.0px,#4e734c 24.0px,#4e734c 32.0px,#4e734c 40.0px,#4e734c 48.0px,#4e734c 56.0px,#4e734c 64.0px,#4e734c 72.0px,#4e734c 80.0px,#4e734c 88.0px,#4e734c 96.0px,#4e734c 104.0px,#4e734c 112.0px,#4e734c 120.0px,#4e734c 128.0px,#4e734c 136.0px,#4e734c 144.0px,#4e734c 152.0px,#4e734c 160.0px,#4e734c 168.0px,#4e734c 176.0px,#4e734c 184.0px,#4e734c 192.0px,#4e734c 200.0px,#4e734c 208.0px,#4e734c 216.0px,#4e734c 219.6px)"></div><div style="height:1.00px;background:linear-gradient(90deg,#4c724d 0.0px,#4c724d 8.0px,#4c724d 16.0px,#4c724d 24.0px,#4c724d 32.0px,#4c724d 40.0px,#4c724d 48.0px,#4c724d 56.0px,#4c724d 64.0px,#4c724d 72.0px,#4c724d 80.0px,#4c724d 88.0px,#4c724d 96.0px,#4c724d 104.0px,#4c724d 112.0px,#4c724d 120.0px,#4c724d 128.0px,#4c724d 136.0px,#4c724d 144.0px,#4c724d 152.0px,#4c724d 160.0px,#4c724d 168.0px,#4c724d 176.0px,#4c724d 184.0px,#4c724d 192.0px,#4c724d 200.0px,#4c724d 208.0px,#4c724d 216.0px,#4c724d 219.6px)"></div><div style="height:1.00px;background:linear-gradient(90deg,#4b724e 0.0px,#4b724e 8.0px,#4b724e 16.0px,#4b724e 24.0px,#4b724e 32.0px,#4b724e 40.0px,#4b724e 48.0px,#4b724e 56.0px,#4b724e 64.0px,#4b724e 72.0px,#4b724e 80.0px,#4b724e 88.0px,#4b724e 96.0px,#4b724e 104.0px,#4b724e 112.0px,#4b724e 120.0px,#4b724e 128.0px,#4b724e 136.0px,#4b724e 144.0px,#4b724e 152.0px,#4b724e 160.0px,#4b724e 168.0px,#4b724e 176.0px,#4b724e 184.0px,#4b724e 192.0px,#4b724e 200.0px,#4b724e 208.0px,#4b724e 216.0px,#4b724e 219.6px)"></div></div><div style="position:absolute;left:278.3px;top:229.5px;width:12.2px;height:178.8px;background:linear-gradient(180deg,#011959 0.0%,#031d5a 1.1%,#04215a 2.2%,#06255b 3.4%,#07285c 4.5%,#092c5d 5.6%,#0a305d 6.7%,#0c345e 7.9%,#0d385f 9.0%,#0f3c5f 10.1%,#103f60 11.2%,#114260 12.4%,#134560 13.5%,#144761 14.6%,#154a61 15.7%,#164d61 16.9%,#175061 18.0%,#195261 19.1%,#1a5562 20.2%,#1b5862 21.3%,#1d5a62 22.5%,#205c61 23.6%,#235e5f 24.7%,#26605e 25.8%,#2a625d 27.0%,#2d645c 28.1%,#30665a 29.2%,#336859 30.3%,#376a58 31.5%,#3a6c57 32.6%,#3d6d55 33.7%,#426f53 34.8%,#467050 36.0%,#4b724e 37.1%,#4f734b 38.2%,#547549 39.3%,#587647 40.4%,#5d7744 41.6%,#617942 42.7%,#667a3f 43.8%,#6a7c3d 44.9%,#707d3b 46.1%,#757e39 47.2%,#7a8037 48.3%,#808135 49.4%,#858334 50.6%,#8b8432 51.7%,#908630 52.8%,#95872e 53.9%,#9b882c 55.1%,#a08a2c 56.2%,#a58b2f 57.3%,#ab8c31 58.4%,#b08d34 59.6%,#b58e36 60.7%,#bb8f38 61.8%,#c0903b 62.9%,#c5913d 64.0%,#cb9240 65.2%,#d09342 66.3%,#d59447 67.4%,#d8954c 68.5%,#dc9752 69.7%,#e09858 70.8%,#e49a5d 71.9%,#e89b63 73.0%,#ec9c69 74.2%,#ef9e6e 75.3%,#f39f74 76.4%,#f7a17a 77.5%,#f8a380 78.7%,#f9a587 79.8%,#f9a78d 80.9%,#faa994 82.0%,#faac9a 83.1%,#fbaea1 84.3%,#fbb0a8 85.4%,#fcb2ae 86.5%,#fcb5b5 87.6%,#fdb7bb 88.8%,#fdb9c2 89.9%,#fcbbc8 91.0%,#fcbdce 92.1%,#fcbfd4 93.3%,#fcc1db 94.4%,#fbc4e1 95.5%,#fbc6e7 96.6%,#fbc8ed 97.8%,#facaf4 98.9%,#faccfa 100.0%)"></div><div style="position:absolute;left:627.6px;top:228.7px;width:12.0px;height:180.0px;background:linear-gradient(180deg,#011959 0.0%,#031d5a 1.1%,#04215a 2.2%,#06255b 3.4%,#07285c 4.5%,#092c5d 5.6%,#0a305d 6.7%,#0c345e 7.9%,#0d385f 9.0%,#0f3c5f 10.1%,#103f60 11.2%,#114260 12.4%,#134560 13.5%,#144761 14.6%,#154a61 15.7%,#164d61 16.9%,#175061 18.0%,#195261 19.1%,#1a5562 20.2%,#1b5862 21.3%,#1d5a62 22.5%,#205c61 23.6%,#235e5f 24.7%,#26605e 25.8%,#2a625d 27.0%,#2d645c 28.1%,#30665a 29.2%,#336859 30.3%,#376a58 31.5%,#3a6c57 32.6%,#3d6d55 33.7%,#426f53 34.8%,#467050 36.0%,#4b724e 37.1%,#4f734b 38.2%,#547549 39.3%,#587647 40.4%,#5d7744 41.6%,#617942 42.7%,#667a3f 43.8%,#6a7c3d 44.9%,#707d3b 46.1%,#757e39 47.2%,#7a8037 48.3%,#808135 49.4%,#858334 50.6%,#8b8432 51.7%,#908630 52.8%,#95872e 53.9%,#9b882c 55.1%,#a08a2c 56.2%,#a58b2f 57.3%,#ab8c31 58.4%,#b08d34 59.6%,#b58e36 60.7%,#bb8f38 61.8%,#c0903b 62.9%,#c5913d 64.0%,#cb9240 65.2%,#d09342 66.3%,#d59447 67.4%,#d8954c 68.5%,#dc9752 69.7%,#e09858 70.8%,#e49a5d 71.9%,#e89b63 73.0%,#ec9c69 74.2%,#ef9e6e 75.3%,#f39f74 76.4%,#f7a17a 77.5%,#f8a380 78.7%,#f9a587 79.8%,#f9a78d 80.9%,#faa994 82.0%,#faac9a 83.1%,#fbaea1 84.3%,#fbb0a8 85.4%,#fcb2ae 86.5%,#fcb5b5 87.6%,#fdb7bb 88.8%,#fdb9c2 89.9%,#fcbbc8 91.0%,#fcbdce 92.1%,#fcbfd4 93.3%,#fcc1db 94.4%,#fbc4e1 95.5%,#fbc6e7 96.6%,#fbc8ed 97.8%,#facaf4 98.9%,#faccfa 100.0%)"></div><svg width="685" height="434" style="position:absolute;left:0;top:0" font-family='"Liberation Sans", sans-serif'><defs><clipPath id="dg"><path d="M48.7,32.4 C52.9,32.4 63.0,31.9 74.0,32.4 C85.0,32.9 102.8,35.0 115.0,35.6 C127.2,36.2 135.7,36.0 147.0,36.1 C158.3,36.2 174.8,36.4 183.0,36.5 C191.2,36.6 188.7,36.8 196.5,36.8 C204.3,36.8 218.4,36.2 230.0,36.2 C241.6,36.2 257.5,36.3 266.0,36.5 C274.5,36.7 278.5,37.3 281.0,37.5 L281.0,163.7 L48.7,163.7 Z"/></clipPath><linearGradient id="mb" x1="0" y1="0" x2="0" y2="1"><stop offset="0" stop-color="#f2f2f2"/><stop offset="0.6" stop-color="#ededed"/><stop offset="0.85" stop-color="#e2e2e2"/><stop offset="1" stop-color="#e4e4e4"/></linearGradient><linearGradient id="pk" x1="0" y1="0" x2="0" y2="1"><stop offset="0" stop-color="#e6485a"/><stop offset="0.4" stop-color="#ee6f7a"/><stop offset="1" stop-color="#f6b8b8"/></linearGradient><pattern id="vs" width="5" height="40" patternUnits="userSpaceOnUse"><rect width="5" height="40" fill="#9f9f9f"/><rect x="0.6" width="0.9" height="40" fill="#939393"/><rect x="2.4" width="1.1" height="40" fill="#b0b0b0"/><rect x="4" width="0.6" height="40" fill="#979797"/></pattern><pattern id="ds" width="4" height="40" patternUnits="userSpaceOnUse" patternTransform="skewX(-12)"><rect width="4" height="40" fill="#a2a2a2"/><rect x="0.5" width="0.8" height="40" fill="#8f8f8f"/><rect x="2" width="1.2" height="40" fill="#b3b3b3"/></pattern><filter id="bl" x="-30%" y="-30%" width="160%" height="160%"><feGaussianBlur stdDeviation="5"/></filter><filter id="bl2" x="-10%" y="-60%" width="120%" height="220%"><feGaussianBlur stdDeviation="3"/></filter></defs><g clip-path="url(#dg)"><rect x="48" y="30" width="234" height="134" fill="url(#mb)"/><path d="M48,151 C90,147 130,154 170,150 S240,153 282,149 V164 H48 Z" fill="#dadada" opacity="0.6"/><path d="M48.7,62.7 C50.8,63.2 57.5,64.9 61.0,65.6 C64.5,66.3 67.3,66.5 70.0,66.8 C72.7,67.1 73.2,67.1 77.0,67.2 C80.8,67.3 87.5,67.3 93.0,67.5 C98.5,67.7 105.0,67.9 110.0,68.2 C115.0,68.5 118.0,69.2 123.0,69.6 C128.0,70.0 135.5,70.4 140.0,70.6 C144.5,70.8 146.2,70.8 150.0,70.7 C153.8,70.7 158.0,70.6 163.0,70.3 C168.0,70.0 175.3,69.2 180.0,68.7 C184.7,68.2 186.8,67.4 191.0,67.1 C195.2,66.8 198.5,66.4 205.0,66.8 C211.5,67.2 219.8,68.7 230.0,69.5 C240.2,70.3 257.5,71.2 266.0,71.6 C274.5,71.9 278.5,71.6 281.0,71.6 L281.0,93.7 C277.5,93.7 272.7,93.8 260.0,93.7 C247.3,93.6 218.3,93.3 205.0,93.2 C191.7,93.1 187.0,93.0 180.0,92.9 C173.0,92.9 168.5,93.0 163.0,92.9 C157.5,92.8 153.3,92.6 147.0,92.1 C140.7,91.6 131.2,90.7 125.0,90.1 C118.8,89.5 114.0,88.9 110.0,88.5 C106.0,88.1 103.8,88.1 101.0,87.7 C98.2,87.3 97.0,86.3 93.0,86.2 C89.0,86.1 82.3,86.9 77.0,86.9 C71.7,86.9 65.7,86.3 61.0,86.0 C56.3,85.7 50.8,85.4 48.7,85.3 Z" fill="url(#vs)"/><path d="M48.7,47.4 C50.8,48.3 57.5,51.6 61.0,53.0 C64.5,54.4 67.3,55.1 70.0,55.9 C72.7,56.7 73.2,57.0 77.0,57.6 C80.8,58.2 87.5,59.1 93.0,59.6 C98.5,60.1 105.0,60.2 110.0,60.6 C115.0,61.0 118.0,61.6 123.0,61.9 C128.0,62.2 135.5,62.5 140.0,62.6 C144.5,62.7 146.2,62.7 150.0,62.6 C153.8,62.5 158.0,62.6 163.0,62.3 C168.0,62.0 175.2,61.3 180.0,60.6 C184.8,59.9 187.8,58.8 192.0,58.2 C196.2,57.6 198.7,57.3 205.0,57.2 C211.3,57.1 219.8,57.5 230.0,57.8 C240.2,58.0 257.5,58.6 266.0,58.7 C274.5,58.9 278.5,58.7 281.0,58.7 L281.0,71.6 C278.5,71.6 274.5,71.9 266.0,71.6 C257.5,71.2 240.2,70.3 230.0,69.5 C219.8,68.7 211.5,67.2 205.0,66.8 C198.5,66.4 195.2,66.8 191.0,67.1 C186.8,67.4 184.7,68.2 180.0,68.7 C175.3,69.2 168.0,70.0 163.0,70.3 C158.0,70.6 153.8,70.7 150.0,70.7 C146.2,70.8 144.5,70.8 140.0,70.6 C135.5,70.4 128.0,70.0 123.0,69.6 C118.0,69.2 115.0,68.5 110.0,68.2 C105.0,67.9 98.5,67.7 93.0,67.5 C87.5,67.3 80.8,67.3 77.0,67.2 C73.2,67.1 72.7,67.1 70.0,66.8 C67.3,66.5 64.5,66.3 61.0,65.6 C57.5,64.9 50.8,63.2 48.7,62.7 Z" fill="url(#pk)"/><path d="M48.7,29.4 C52.9,29.4 63.0,28.9 74.0,29.4 C85.0,29.9 102.8,32.0 115.0,32.6 C127.2,33.2 135.7,33.0 147.0,33.1 C158.3,33.2 174.8,33.4 183.0,33.5 C191.2,33.6 188.7,33.8 196.5,33.8 C204.3,33.8 218.4,33.2 230.0,33.2 C241.6,33.2 257.5,33.3 266.0,33.5 C274.5,33.7 278.5,34.3 281.0,34.5 L281.0,58.7 C278.5,58.7 274.5,58.9 266.0,58.7 C257.5,58.6 240.2,58.0 230.0,57.8 C219.8,57.5 211.3,57.1 205.0,57.2 C198.7,57.3 196.2,57.6 192.0,58.2 C187.8,58.8 184.8,59.9 180.0,60.6 C175.2,61.3 168.0,62.0 163.0,62.3 C158.0,62.6 153.8,62.5 150.0,62.6 C146.2,62.7 144.5,62.7 140.0,62.6 C135.5,62.5 128.0,62.2 123.0,61.9 C118.0,61.6 115.0,61.0 110.0,60.6 C105.0,60.2 98.5,60.1 93.0,59.6 C87.5,59.1 80.8,58.2 77.0,57.6 C73.2,57.0 72.7,56.7 70.0,55.9 C67.3,55.1 64.5,54.4 61.0,53.0 C57.5,51.6 50.8,48.3 48.7,47.4 Z" fill="#8b8471"/><path d="M48.7,85.3 C50.8,85.4 56.3,85.7 61.0,86.0 C65.7,86.3 71.7,86.9 77.0,86.9 C82.3,86.9 89.0,86.1 93.0,86.2 C97.0,86.3 98.2,87.3 101.0,87.7 C103.8,88.1 106.0,88.1 110.0,88.5 C114.0,88.9 118.8,89.5 125.0,90.1 C131.2,90.7 140.7,91.6 147.0,92.1 C153.3,92.6 157.5,92.8 163.0,92.9 C168.5,93.0 173.0,92.9 180.0,92.9 C187.0,93.0 191.7,93.1 205.0,93.2 C218.3,93.3 247.3,93.6 260.0,93.7 C272.7,93.8 277.5,93.7 281.0,93.7" fill="none" stroke="#555" stroke-width="0.7"/><path d="M48.7,62.7 C50.8,63.2 57.5,64.9 61.0,65.6 C64.5,66.3 67.3,66.5 70.0,66.8 C72.7,67.1 73.2,67.1 77.0,67.2 C80.8,67.3 87.5,67.3 93.0,67.5 C98.5,67.7 105.0,67.9 110.0,68.2 C115.0,68.5 118.0,69.2 123.0,69.6 C128.0,70.0 135.5,70.4 140.0,70.6 C144.5,70.8 146.2,70.8 150.0,70.7 C153.8,70.7 158.0,70.6 163.0,70.3 C168.0,70.0 175.3,69.2 180.0,68.7 C184.7,68.2 186.8,67.4 191.0,67.1 C195.2,66.8 198.5,66.4 205.0,66.8 C211.5,67.2 219.8,68.7 230.0,69.5 C240.2,70.3 257.5,71.2 266.0,71.6 C274.5,71.9 278.5,71.6 281.0,71.6" fill="none" stroke="#3a3a3a" stroke-width="0.7"/><path d="M48.7,47.4 C50.8,48.3 57.5,51.6 61.0,53.0 C64.5,54.4 67.3,55.1 70.0,55.9 C72.7,56.7 73.2,57.0 77.0,57.6 C80.8,58.2 87.5,59.1 93.0,59.6 C98.5,60.1 105.0,60.2 110.0,60.6 C115.0,61.0 118.0,61.6 123.0,61.9 C128.0,62.2 135.5,62.5 140.0,62.6 C144.5,62.7 146.2,62.7 150.0,62.6 C153.8,62.5 158.0,62.6 163.0,62.3 C168.0,62.0 175.2,61.3 180.0,60.6 C184.8,59.9 187.8,58.8 192.0,58.2 C196.2,57.6 198.7,57.3 205.0,57.2 C211.3,57.1 219.8,57.5 230.0,57.8 C240.2,58.0 257.5,58.6 266.0,58.7 C274.5,58.9 278.5,58.7 281.0,58.7" fill="none" stroke="#4a3a3a" stroke-width="0.6"/><g fill="#0d0d0d"><ellipse cx="52.7" cy="70.5" rx="1.77" ry="1.99" transform="rotate(2 52.7 70.5)"/><ellipse cx="59.1" cy="78.8" rx="1.73" ry="1.99" transform="rotate(9 59.1 78.8)"/><ellipse cx="62.2" cy="70.2" rx="1.56" ry="1.84" transform="rotate(21 62.2 70.2)"/><ellipse cx="66.7" cy="81.3" rx="1.66" ry="1.96" transform="rotate(-2 66.7 81.3)"/><ellipse cx="68.7" cy="73.0" rx="1.51" ry="1.81" transform="rotate(3 68.7 73.0)"/><ellipse cx="69.2" cy="79.1" rx="1.76" ry="2.04" transform="rotate(19 69.2 79.1)"/><ellipse cx="75.0" cy="72.8" rx="1.74" ry="2.01" transform="rotate(10 75.0 72.8)"/><ellipse cx="78.0" cy="79.4" rx="1.48" ry="2.06" transform="rotate(-4 78.0 79.4)"/><ellipse cx="85.6" cy="75.0" rx="1.74" ry="2.08" transform="rotate(-10 85.6 75.0)"/><ellipse cx="88.1" cy="81.1" rx="1.46" ry="2.03" transform="rotate(-24 88.1 81.1)"/><ellipse cx="89.4" cy="74.4" rx="1.59" ry="2.18" transform="rotate(24 89.4 74.4)"/><ellipse cx="95.1" cy="80.2" rx="1.77" ry="1.82" transform="rotate(-6 95.1 80.2)"/><ellipse cx="100.3" cy="73.3" rx="1.48" ry="2.05" transform="rotate(19 100.3 73.3)"/><ellipse cx="102.4" cy="81.6" rx="1.56" ry="1.81" transform="rotate(-4 102.4 81.6)"/><ellipse cx="106.3" cy="72.5" rx="1.54" ry="1.84" transform="rotate(-27 106.3 72.5)"/><ellipse cx="108.6" cy="82.7" rx="1.69" ry="1.88" transform="rotate(2 108.6 82.7)"/><ellipse cx="110.3" cy="75.3" rx="1.50" ry="2.06" transform="rotate(-23 110.3 75.3)"/><ellipse cx="115.6" cy="85.4" rx="1.45" ry="2.15" transform="rotate(21 115.6 85.4)"/><ellipse cx="120.2" cy="77.4" rx="1.46" ry="1.87" transform="rotate(24 120.2 77.4)"/><ellipse cx="124.2" cy="84.6" rx="1.46" ry="1.86" transform="rotate(-2 124.2 84.6)"/><ellipse cx="125.5" cy="77.0" rx="1.57" ry="1.92" transform="rotate(-26 125.5 77.0)"/><ellipse cx="128.4" cy="83.5" rx="1.67" ry="1.81" transform="rotate(-7 128.4 83.5)"/><ellipse cx="133.6" cy="76.2" rx="1.79" ry="1.99" transform="rotate(6 133.6 76.2)"/><ellipse cx="136.2" cy="84.8" rx="1.67" ry="1.92" transform="rotate(-16 136.2 84.8)"/><ellipse cx="143.7" cy="75.9" rx="1.52" ry="2.10" transform="rotate(30 143.7 75.9)"/><ellipse cx="146.1" cy="86.8" rx="1.59" ry="1.99" transform="rotate(-25 146.1 86.8)"/><ellipse cx="148.7" cy="75.4" rx="1.46" ry="2.19" transform="rotate(-15 148.7 75.4)"/><ellipse cx="154.6" cy="85.9" rx="1.60" ry="2.16" transform="rotate(1 154.6 85.9)"/><ellipse cx="155.4" cy="75.7" rx="1.70" ry="1.83" transform="rotate(-16 155.4 75.7)"/><ellipse cx="160.5" cy="87.2" rx="1.67" ry="1.83" transform="rotate(-17 160.5 87.2)"/><ellipse cx="166.5" cy="75.5" rx="1.46" ry="1.91" transform="rotate(-2 166.5 75.5)"/><ellipse cx="166.5" cy="84.4" rx="1.55" ry="2.01" transform="rotate(-22 166.5 84.4)"/><ellipse cx="169.0" cy="75.0" rx="1.61" ry="1.93" transform="rotate(16 169.0 75.0)"/><ellipse cx="176.5" cy="86.6" rx="1.50" ry="1.81" transform="rotate(-29 176.5 86.6)"/><ellipse cx="178.6" cy="75.4" rx="1.56" ry="1.81" transform="rotate(8 178.6 75.4)"/><ellipse cx="183.6" cy="85.9" rx="1.71" ry="1.93" transform="rotate(-26 183.6 85.9)"/><ellipse cx="183.7" cy="75.8" rx="1.71" ry="2.16" transform="rotate(17 183.7 75.8)"/><ellipse cx="191.6" cy="83.8" rx="1.79" ry="1.94" transform="rotate(-25 191.6 83.8)"/><ellipse cx="265.2" cy="77.8" rx="1.73" ry="2.15" transform="rotate(6 265.2 77.8)"/><ellipse cx="264.1" cy="88.2" rx="1.58" ry="1.80" transform="rotate(-26 264.1 88.2)"/><ellipse cx="266.5" cy="78.8" rx="1.80" ry="2.15" transform="rotate(16 266.5 78.8)"/><ellipse cx="272.0" cy="89.4" rx="1.69" ry="1.98" transform="rotate(-1 272.0 89.4)"/><ellipse cx="277.0" cy="76.4" rx="1.71" ry="1.81" transform="rotate(8 277.0 76.4)"/><ellipse cx="276.5" cy="85.4" rx="1.79" ry="1.85" transform="rotate(19 276.5 85.4)"/></g><g fill="#eee" stroke="#1a1a1a" stroke-width="0.6"><path d="M53.3,58.4 l1.4,2.7 h-2.9 z"/><path d="M57.7,58.6 l1.5,2.9 h-3.0 z"/><path d="M64.4,59.9 l1.8,3.5 h-3.7 z"/><path d="M68.2,60.9 l1.6,3.1 h-3.3 z"/><path d="M78.7,62.1 l1.5,2.8 h-3.0 z"/><path d="M89.9,63.7 l1.5,2.9 h-3.0 z"/><path d="M94.5,62.2 l1.6,3.1 h-3.2 z"/><path d="M100.1,62.7 l1.8,3.5 h-3.6 z"/><path d="M106.2,63.3 l1.4,2.7 h-2.9 z"/><path d="M111.1,62.4 l1.7,3.2 h-3.4 z"/><path d="M114.9,64.8 l1.5,2.8 h-3.0 z"/><path d="M125.2,64.0 l1.7,3.3 h-3.4 z"/><path d="M130.9,65.3 l1.8,3.4 h-3.6 z"/><path d="M137.3,66.0 l1.7,3.1 h-3.3 z"/><path d="M140.6,64.4 l1.8,3.3 h-3.5 z"/><path d="M145.8,65.0 l1.8,3.3 h-3.5 z"/><path d="M166.5,64.7 l1.9,3.5 h-3.7 z"/><path d="M178.5,64.9 l1.7,3.3 h-3.5 z"/><path d="M188.5,62.6 l1.9,3.5 h-3.7 z"/><path d="M194.6,62.8 l1.8,3.4 h-3.6 z"/><path d="M271.1,63.1 l1.7,3.2 h-3.4 z"/><path d="M276.6,64.5 l1.8,3.4 h-3.6 z"/><path d="M279.5,65.9 l1.6,3.0 h-3.2 z"/></g><g fill="#111"><circle cx="74.5" cy="64.3" r="0.8"/><circle cx="84.2" cy="64.7" r="0.8"/><circle cx="120.5" cy="65.2" r="0.8"/><circle cx="151.8" cy="67.7" r="0.8"/><circle cx="156.7" cy="68.0" r="0.8"/><circle cx="161.2" cy="68.2" r="0.8"/><circle cx="172.3" cy="66.4" r="0.8"/><circle cx="182.3" cy="65.6" r="0.8"/><circle cx="266.6" cy="68.0" r="0.8"/></g><ellipse cx="61.3" cy="39.8" rx="2.9" ry="2.5" fill="#555" stroke="#111" stroke-width="1.4" stroke-dasharray="0.7 0.5"/><ellipse cx="61.3" cy="39.8" rx="4.3" ry="3.8" fill="none" stroke="#111" stroke-width="1.5" stroke-dasharray="0.6 0.8"/><ellipse cx="61.3" cy="39.8" rx="5.8" ry="5.1" fill="none" stroke="#222" stroke-width="1" stroke-dasharray="0.45 1.3"/><ellipse cx="61.6" cy="39.7" rx="2.0" ry="1.5" fill="#f2f2f2" transform="rotate(-20 61.3 39.8)"/><ellipse cx="81.5" cy="41.5" rx="2.9" ry="2.5" fill="#555" stroke="#111" stroke-width="1.4" stroke-dasharray="0.7 0.5"/><ellipse cx="81.5" cy="41.5" rx="4.3" ry="3.8" fill="none" stroke="#111" stroke-width="1.5" stroke-dasharray="0.6 0.8"/><ellipse cx="81.5" cy="41.5" rx="5.8" ry="5.1" fill="none" stroke="#222" stroke-width="1" stroke-dasharray="0.45 1.3"/><ellipse cx="81.8" cy="41.4" rx="2.0" ry="1.5" fill="#f2f2f2" transform="rotate(-20 81.5 41.5)"/><ellipse cx="103.0" cy="43.5" rx="2.9" ry="2.5" fill="#555" stroke="#111" stroke-width="1.4" stroke-dasharray="0.7 0.5"/><ellipse cx="103.0" cy="43.5" rx="4.3" ry="3.8" fill="none" stroke="#111" stroke-width="1.5" stroke-dasharray="0.6 0.8"/><ellipse cx="103.0" cy="43.5" rx="5.8" ry="5.1" fill="none" stroke="#222" stroke-width="1" stroke-dasharray="0.45 1.3"/><ellipse cx="103.3" cy="43.4" rx="2.0" ry="1.5" fill="#f2f2f2" transform="rotate(-20 103.0 43.5)"/><ellipse cx="126.0" cy="45.0" rx="2.9" ry="2.5" fill="#555" stroke="#111" stroke-width="1.4" stroke-dasharray="0.7 0.5"/><ellipse cx="126.0" cy="45.0" rx="4.3" ry="3.8" fill="none" stroke="#111" stroke-width="1.5" stroke-dasharray="0.6 0.8"/><ellipse cx="126.0" cy="45.0" rx="5.8" ry="5.1" fill="none" stroke="#222" stroke-width="1" stroke-dasharray="0.45 1.3"/><ellipse cx="126.3" cy="44.9" rx="2.0" ry="1.5" fill="#f2f2f2" transform="rotate(-20 126.0 45.0)"/><ellipse cx="149.0" cy="43.8" rx="2.9" ry="2.5" fill="#555" stroke="#111" stroke-width="1.4" stroke-dasharray="0.7 0.5"/><ellipse cx="149.0" cy="43.8" rx="4.3" ry="3.8" fill="none" stroke="#111" stroke-width="1.5" stroke-dasharray="0.6 0.8"/><ellipse cx="149.0" cy="43.8" rx="5.8" ry="5.1" fill="none" stroke="#222" stroke-width="1" stroke-dasharray="0.45 1.3"/><ellipse cx="149.3" cy="43.7" rx="2.0" ry="1.5" fill="#f2f2f2" transform="rotate(-20 149.0 43.8)"/><ellipse cx="177.5" cy="47.0" rx="2.9" ry="2.5" fill="#555" stroke="#111" stroke-width="1.4" stroke-dasharray="0.7 0.5"/><ellipse cx="177.5" cy="47.0" rx="4.3" ry="3.8" fill="none" stroke="#111" stroke-width="1.5" stroke-dasharray="0.6 0.8"/><ellipse cx="177.5" cy="47.0" rx="5.8" ry="5.1" fill="none" stroke="#222" stroke-width="1" stroke-dasharray="0.45 1.3"/><ellipse cx="177.8" cy="46.9" rx="2.0" ry="1.5" fill="#f2f2f2" transform="rotate(-20 177.5 47.0)"/><ellipse cx="272.5" cy="47.0" rx="2.9" ry="2.5" fill="#555" stroke="#111" stroke-width="1.4" stroke-dasharray="0.7 0.5"/><ellipse cx="272.5" cy="47.0" rx="4.3" ry="3.8" fill="none" stroke="#111" stroke-width="1.5" stroke-dasharray="0.6 0.8"/><ellipse cx="272.5" cy="47.0" rx="5.8" ry="5.1" fill="none" stroke="#222" stroke-width="1" stroke-dasharray="0.45 1.3"/><ellipse cx="272.8" cy="46.9" rx="2.0" ry="1.5" fill="#f2f2f2" transform="rotate(-20 272.5 47.0)"/><g stroke="#3a3a3a" stroke-width="0.6"><line x1="64.7" y1="92.0" x2="64.7" y2="128.0"/><line x1="56.4" y1="126.5" x2="76.5" y2="115.5"/><line x1="68.5" y1="148.4" x2="75.8" y2="124.7"/><line x1="92.9" y1="101.0" x2="92.9" y2="137.4"/><line x1="95.8" y1="141.0" x2="95.8" y2="159.3"/><line x1="105.0" y1="94.0" x2="105.0" y2="130.0"/><line x1="119.6" y1="94.0" x2="119.6" y2="126.5"/><line x1="128.7" y1="133.8" x2="126.1" y2="157.5"/><line x1="151.3" y1="108.2" x2="148.4" y2="144.7"/><line x1="162.6" y1="102.8" x2="161.8" y2="121.0"/><line x1="260.8" y1="99.0" x2="264.5" y2="126.5"/><line x1="268.0" y1="108.0" x2="273.6" y2="141.0"/><line x1="276.5" y1="104.6" x2="276.5" y2="137.4"/><line x1="265.5" y1="126.5" x2="266.0" y2="157.5"/></g><defs><clipPath id="dkc"><path d="M196.6,36.6 C196.4,38.0 195.9,41.6 195.3,45.0 C194.7,48.4 194.1,51.9 193.0,57.0 C191.9,62.1 190.3,69.3 188.6,75.4 C186.9,81.5 185.2,87.7 183.0,93.8 C180.8,99.9 178.1,105.8 175.7,112.0 C173.2,118.2 170.9,124.5 168.3,130.7 C165.7,136.9 162.7,143.5 160.2,149.0 C157.7,154.5 154.6,161.2 153.5,163.7 L247.3,163.7 C247.6,161.2 248.3,154.5 249.0,149.0 C249.7,143.5 250.4,136.9 251.3,130.7 C252.2,124.5 253.3,118.2 254.2,112.0 C255.1,105.8 255.9,99.9 256.8,93.8 C257.7,87.7 258.5,81.5 259.4,75.4 C260.3,69.3 261.4,63.1 262.4,57.0 C263.4,50.9 264.6,42.0 265.2,38.5 C265.8,35.0 265.7,36.7 265.8,36.3 Z"/></clipPath></defs><path d="M196.6,36.6 C196.4,38.0 195.9,41.6 195.3,45.0 C194.7,48.4 194.1,51.9 193.0,57.0 C191.9,62.1 190.3,69.3 188.6,75.4 C186.9,81.5 185.2,87.7 183.0,93.8 C180.8,99.9 178.1,105.8 175.7,112.0 C173.2,118.2 170.9,124.5 168.3,130.7 C165.7,136.9 162.7,143.5 160.2,149.0 C157.7,154.5 154.6,161.2 153.5,163.7 L247.3,163.7 C247.6,161.2 248.3,154.5 249.0,149.0 C249.7,143.5 250.4,136.9 251.3,130.7 C252.2,124.5 253.3,118.2 254.2,112.0 C255.1,105.8 255.9,99.9 256.8,93.8 C257.7,87.7 258.5,81.5 259.4,75.4 C260.3,69.3 261.4,63.1 262.4,57.0 C263.4,50.9 264.6,42.0 265.2,38.5 C265.8,35.0 265.7,36.7 265.8,36.3 Z" fill="url(#ds)"/><g clip-path="url(#dkc)"><rect x="150" y="30" width="120" height="70" fill="#c8c8c8" opacity="0.35"/><path d="M214,46 L257,42 L255,92 L206,95 Z" fill="#5a5a5a" opacity="0.5" filter="url(#bl)"/><path d="M150,86 L270,84 L270,100 L150,102 Z" fill="#5a5a5a" opacity="0.4" filter="url(#bl2)"/><path d="M150,100 L265,98 L265,166 L150,166 Z" fill="#7a7a7a" opacity="0.22"/><path d="M192,110 L236,108 L232,160 L180,160 Z" fill="#c0c0c0" opacity="0.3" filter="url(#bl)"/><g stroke="#111" stroke-width="0.65"><path d="M201.7,37.0 C201.1,39.6 199.4,47.6 198.3,52.9 C197.1,58.2 196.0,63.5 194.8,68.8 C193.5,74.0 192.4,79.3 190.9,84.6 C189.4,89.9 187.7,95.2 185.8,100.5 C184.0,105.8 181.9,111.1 179.9,116.4 C177.8,121.7 175.8,127.0 173.6,132.2 C171.5,137.5 169.5,142.8 167.2,148.1 C165.0,153.4 161.3,161.4 160.1,164.0" fill="none"/><path d="M208.0,37.0 C207.4,39.6 205.6,47.6 204.5,52.9 C203.3,58.2 202.3,63.5 201.2,68.8 C200.0,74.0 198.9,79.3 197.4,84.6 C195.9,89.9 193.9,95.2 192.2,100.5 C190.4,105.8 188.8,111.1 186.9,116.4 C185.1,121.7 183.1,127.0 181.1,132.2 C179.1,137.5 176.8,142.8 174.8,148.1 C172.7,153.4 169.8,161.4 168.9,164.0" fill="none"/><path d="M224.2,37.0 C223.7,39.6 222.3,47.6 221.3,52.9 C220.3,58.2 219.2,63.5 218.2,68.8 C217.1,74.0 216.3,79.3 215.1,84.6 C213.8,89.9 212.5,95.2 210.9,100.5 C209.3,105.8 207.1,111.1 205.5,116.4 C203.9,121.7 202.9,127.0 201.4,132.2 C199.9,137.5 198.2,142.8 196.5,148.1 C194.7,153.4 191.9,161.4 191.0,164.0" fill="none"/><path d="M239.4,37.0 C238.9,39.6 237.4,47.6 236.4,52.9 C235.5,58.2 234.8,63.5 233.8,68.8 C232.8,74.0 231.7,79.3 230.6,84.6 C229.5,89.9 228.5,95.2 227.2,100.5 C225.9,105.8 224.1,111.1 222.8,116.4 C221.6,121.7 221.1,127.0 219.8,132.2 C218.6,137.5 216.9,142.8 215.5,148.1 C214.1,153.4 212.2,161.4 211.6,164.0" fill="none"/><path d="M254.9,37.0 C254.4,39.6 252.9,47.6 252.0,52.9 C251.1,58.2 250.1,63.5 249.2,68.8 C248.3,74.0 247.7,79.3 246.7,84.6 C245.7,89.9 244.3,95.2 243.3,100.5 C242.3,105.8 241.8,111.1 240.8,116.4 C239.9,121.7 238.6,127.0 237.7,132.2 C236.8,137.5 236.2,142.8 235.4,148.1 C234.6,153.4 233.2,161.4 232.7,164.0" fill="none"/><path d="M260.5,37.0 C260.1,39.6 259.0,47.6 258.2,52.9 C257.3,58.2 256.1,63.5 255.2,68.8 C254.3,74.0 253.7,79.3 253.0,84.6 C252.2,89.9 251.6,95.2 250.9,100.5 C250.1,105.8 249.3,111.1 248.4,116.4 C247.4,121.7 246.2,127.0 245.2,132.2 C244.3,137.5 243.5,142.8 242.7,148.1 C241.9,153.4 240.8,161.4 240.4,164.0" fill="none"/><line x1="195.2" y1="40.1" x2="239.9" y2="44.1"/><line x1="237.1" y1="42.5" x2="260.5" y2="43.5"/><line x1="258.7" y1="42.9" x2="266.4" y2="43.4"/><line x1="193.1" y1="50.1" x2="223.7" y2="52.0"/><line x1="221.6" y1="50.2" x2="263.9" y2="52.7"/><line x1="192.4" y1="58.2" x2="236.4" y2="61.0"/><line x1="234.1" y1="55.6" x2="259.4" y2="56.4"/><line x1="256.8" y1="56.8" x2="263.3" y2="57.4"/><line x1="189.8" y1="65.3" x2="202.4" y2="65.7"/><line x1="201.4" y1="65.3" x2="251.5" y2="68.1"/><line x1="188.3" y1="70.6" x2="201.7" y2="71.4"/><line x1="200.3" y1="72.7" x2="233.5" y2="74.1"/><line x1="231.2" y1="71.4" x2="260.9" y2="73.5"/><line x1="186.9" y1="77.6" x2="232.4" y2="80.6"/><line x1="230.8" y1="78.3" x2="255.3" y2="79.5"/><line x1="252.2" y1="80.9" x2="259.5" y2="81.0"/><line x1="229.0" y1="86.8" x2="259.6" y2="89.1"/><line x1="181.8" y1="95.4" x2="213.7" y2="98.9"/><line x1="210.3" y1="96.9" x2="252.8" y2="102.4"/><line x1="250.7" y1="98.0" x2="256.7" y2="99.0"/><line x1="176.9" y1="105.0" x2="185.5" y2="106.1"/><line x1="184.0" y1="103.2" x2="227.2" y2="109.1"/><line x1="224.3" y1="105.3" x2="243.1" y2="108.0"/><line x1="242.0" y1="102.4" x2="256.8" y2="104.6"/><line x1="187.7" y1="109.8" x2="242.8" y2="118.6"/><line x1="241.6" y1="109.6" x2="255.5" y2="111.7"/><line x1="170.7" y1="120.1" x2="180.0" y2="121.4"/><line x1="204.0" y1="119.7" x2="240.8" y2="124.7"/><line x1="239.6" y1="117.8" x2="254.4" y2="119.6"/><line x1="169.1" y1="126.0" x2="177.0" y2="126.8"/><line x1="173.6" y1="128.4" x2="204.6" y2="131.6"/><line x1="202.2" y1="125.1" x2="240.3" y2="129.1"/><line x1="166.8" y1="132.3" x2="174.2" y2="133.3"/><line x1="172.6" y1="133.2" x2="181.2" y2="134.1"/><line x1="179.3" y1="133.6" x2="238.4" y2="142.8"/><line x1="244.1" y1="133.5" x2="252.0" y2="134.5"/><line x1="162.1" y1="142.2" x2="178.4" y2="144.6"/><line x1="176.8" y1="143.2" x2="200.0" y2="147.0"/><line x1="198.0" y1="139.9" x2="217.6" y2="141.9"/><line x1="216.9" y1="141.9" x2="236.3" y2="144.8"/><line x1="159.4" y1="147.5" x2="175.8" y2="150.1"/><line x1="172.7" y1="149.0" x2="197.3" y2="152.7"/><line x1="194.0" y1="151.1" x2="243.5" y2="158.3"/><line x1="241.2" y1="149.8" x2="250.6" y2="150.9"/><line x1="170.4" y1="156.7" x2="194.3" y2="160.5"/><line x1="192.8" y1="156.1" x2="214.7" y2="158.4"/><line x1="212.7" y1="157.5" x2="249.9" y2="161.8"/><line x1="152.6" y1="164.7" x2="161.3" y2="166.2"/><line x1="158.5" y1="163.6" x2="191.6" y2="167.6"/><line x1="239.1" y1="164.3" x2="247.3" y2="165.6"/></g></g><path d="M196.6,36.6 C196.4,38.0 195.9,41.6 195.3,45.0 C194.7,48.4 194.1,51.9 193.0,57.0 C191.9,62.1 190.3,69.3 188.6,75.4 C186.9,81.5 185.2,87.7 183.0,93.8 C180.8,99.9 178.1,105.8 175.7,112.0 C173.2,118.2 170.9,124.5 168.3,130.7 C165.7,136.9 162.7,143.5 160.2,149.0 C157.7,154.5 154.6,161.2 153.5,163.7 L247.3,163.7 C247.6,161.2 248.3,154.5 249.0,149.0 C249.7,143.5 250.4,136.9 251.3,130.7 C252.2,124.5 253.3,118.2 254.2,112.0 C255.1,105.8 255.9,99.9 256.8,93.8 C257.7,87.7 258.5,81.5 259.4,75.4 C260.3,69.3 261.4,63.1 262.4,57.0 C263.4,50.9 264.6,42.0 265.2,38.5 C265.8,35.0 265.7,36.7 265.8,36.3 Z" fill="none" stroke="#333" stroke-width="0.6"/></g><path d="M48.7,32.4 V163.7 H281.0 V37.5"  fill="none" stroke="#555" stroke-width="1"/><path d="M48.7,32.4 C52.9,32.4 63.0,31.9 74.0,32.4 C85.0,32.9 102.8,35.0 115.0,35.6 C127.2,36.2 135.7,36.0 147.0,36.1 C158.3,36.2 174.8,36.4 183.0,36.5 C191.2,36.6 188.7,36.8 196.5,36.8 C204.3,36.8 218.4,36.2 230.0,36.2 C241.6,36.2 257.5,36.3 266.0,36.5 C274.5,36.7 278.5,37.3 281.0,37.5" fill="none" stroke="#3a3a3a" stroke-width="0.8"/><g fill="#000" fill-opacity="0.6" stroke="#262626" stroke-width="0.5"><rect x="422.30" y="162.05" width="3.25" height="0.45"/><rect x="425.55" y="161.74" width="3.25" height="0.76"/><rect x="428.80" y="160.53" width="3.25" height="1.97"/><rect x="432.05" y="161.29" width="3.25" height="1.21"/><rect x="435.30" y="160.53" width="3.25" height="1.97"/><rect x="438.55" y="161.29" width="3.25" height="1.21"/><rect x="441.80" y="159.17" width="3.25" height="3.33"/><rect x="445.05" y="156.00" width="3.25" height="6.50"/><rect x="448.30" y="151.61" width="3.25" height="10.89"/><rect x="451.55" y="153.28" width="3.25" height="9.22"/><rect x="454.80" y="152.37" width="3.25" height="10.13"/><rect x="458.05" y="150.10" width="3.25" height="12.40"/><rect x="461.30" y="146.02" width="3.25" height="16.48"/><rect x="464.55" y="142.09" width="3.25" height="20.41"/><rect x="467.80" y="130.75" width="3.25" height="31.75"/><rect x="471.05" y="125.91" width="3.25" height="36.59"/><rect x="474.30" y="118.80" width="3.25" height="43.70"/><rect x="477.55" y="120.62" width="3.25" height="41.88"/><rect x="480.80" y="110.79" width="3.25" height="51.71"/><rect x="484.05" y="83.57" width="3.25" height="78.93"/><rect x="487.30" y="60.89" width="3.25" height="101.61"/><rect x="490.55" y="58.47" width="3.25" height="104.03"/><rect x="493.80" y="42.14" width="3.25" height="120.36"/><rect x="497.05" y="79.79" width="3.25" height="82.71"/><rect x="500.30" y="122.43" width="3.25" height="40.07"/><rect x="503.55" y="139.06" width="3.25" height="23.44"/><rect x="506.80" y="141.79" width="3.25" height="20.71"/><rect x="510.05" y="144.36" width="3.25" height="18.14"/><rect x="513.30" y="145.11" width="3.25" height="17.39"/><rect x="516.55" y="151.76" width="3.25" height="10.74"/><rect x="519.80" y="155.70" width="3.25" height="6.80"/><rect x="523.05" y="157.96" width="3.25" height="4.54"/><rect x="526.30" y="160.69" width="3.25" height="1.81"/><rect x="529.55" y="160.99" width="3.25" height="1.51"/><rect x="532.80" y="161.29" width="3.25" height="1.21"/><rect x="536.05" y="161.74" width="3.25" height="0.76"/><rect x="539.30" y="156.45" width="3.25" height="6.05"/><rect x="542.55" y="160.23" width="3.25" height="2.27"/><rect x="545.80" y="157.36" width="3.25" height="5.14"/><rect x="549.05" y="160.99" width="3.25" height="1.51"/><rect x="552.30" y="160.99" width="3.25" height="1.51"/><rect x="555.55" y="161.74" width="3.25" height="0.76"/><rect x="558.80" y="158.72" width="3.25" height="3.78"/><rect x="562.05" y="161.29" width="3.25" height="1.21"/><rect x="565.30" y="161.74" width="3.25" height="0.76"/><rect x="568.55" y="162.05" width="3.25" height="0.45"/><rect x="571.80" y="162.05" width="3.25" height="0.45"/><rect x="575.05" y="162.05" width="3.25" height="0.45"/><rect x="581.55" y="161.90" width="3.25" height="0.60"/><rect x="588.05" y="161.90" width="3.25" height="0.60"/><rect x="594.55" y="161.90" width="3.25" height="0.60"/></g><g fill="#d95319" fill-opacity="0.6" stroke="#262626" stroke-width="0.5" stroke-opacity="0.8"><rect x="445.05" y="162.20" width="3.25" height="0.30"/><rect x="451.55" y="162.05" width="3.25" height="0.45"/><rect x="458.05" y="162.05" width="3.25" height="0.45"/><rect x="461.30" y="159.93" width="3.25" height="2.57"/><rect x="464.55" y="161.74" width="3.25" height="0.76"/><rect x="467.80" y="160.99" width="3.25" height="1.51"/><rect x="471.05" y="156.91" width="3.25" height="5.59"/><rect x="474.30" y="158.42" width="3.25" height="4.08"/><rect x="477.55" y="152.67" width="3.25" height="9.83"/><rect x="480.80" y="149.50" width="3.25" height="13.00"/><rect x="484.05" y="145.26" width="3.25" height="17.24"/><rect x="487.30" y="134.68" width="3.25" height="27.82"/><rect x="490.55" y="127.72" width="3.25" height="34.78"/><rect x="493.80" y="121.98" width="3.25" height="40.52"/><rect x="497.05" y="108.37" width="3.25" height="54.13"/><rect x="500.30" y="104.59" width="3.25" height="57.91"/><rect x="503.55" y="69.21" width="3.25" height="93.29"/><rect x="506.80" y="18.86" width="3.25" height="143.64"/><rect x="510.05" y="11.60" width="3.25" height="150.90"/><rect x="513.30" y="66.19" width="3.25" height="96.31"/><rect x="516.55" y="104.44" width="3.25" height="58.06"/><rect x="519.80" y="118.50" width="3.25" height="44.00"/><rect x="523.05" y="131.35" width="3.25" height="31.15"/><rect x="526.30" y="144.20" width="3.25" height="18.30"/><rect x="529.55" y="149.04" width="3.25" height="13.46"/><rect x="532.80" y="154.03" width="3.25" height="8.47"/><rect x="536.05" y="157.21" width="3.25" height="5.29"/><rect x="539.30" y="156.00" width="3.25" height="6.50"/><rect x="542.55" y="156.91" width="3.25" height="5.59"/><rect x="545.80" y="157.36" width="3.25" height="5.14"/><rect x="549.05" y="157.51" width="3.25" height="4.99"/><rect x="552.30" y="159.17" width="3.25" height="3.33"/><rect x="555.55" y="160.99" width="3.25" height="1.51"/><rect x="558.80" y="158.27" width="3.25" height="4.23"/><rect x="562.05" y="159.93" width="3.25" height="2.57"/><rect x="565.30" y="160.53" width="3.25" height="1.97"/></g><polyline points="403.30,162.50 403.84,162.50 404.37,162.50 404.91,162.50 405.44,162.50 405.98,162.50 406.51,162.50 407.05,162.50 407.58,162.50 408.12,162.50 408.66,162.50 409.19,162.50 409.73,162.50 410.26,162.50 410.80,162.50 411.33,162.50 411.87,162.50 412.41,162.50 412.94,162.50 413.48,162.50 414.01,162.50 414.55,162.50 415.08,162.50 415.62,162.50 416.15,162.50 416.69,162.50 417.23,162.50 417.76,162.50 418.30,162.50 418.83,162.50 419.37,162.50 419.90,162.50 420.44,162.50 420.97,162.50 421.51,162.50 422.05,162.50 422.58,162.50 423.12,162.50 423.65,162.50 424.19,162.50 424.72,162.50 425.26,162.50 425.79,162.50 426.33,162.50 426.87,162.50 427.40,162.50 427.94,162.50 428.47,162.50 429.01,162.50 429.54,162.50 430.08,162.50 430.62,162.50 431.15,162.50 431.69,162.50 432.22,162.50 432.76,162.50 433.29,162.50 433.83,162.50 434.36,162.50 434.90,162.50 435.44,162.50 435.97,162.50 436.51,162.50 437.04,162.50 437.58,162.50 438.11,162.50 438.65,162.50 439.18,162.50 439.72,162.50 440.26,162.50 440.79,162.50 441.33,162.50 441.86,162.50 442.40,162.50 442.93,162.50 443.47,162.50 444.00,162.50 444.54,162.50 445.08,162.50 445.61,162.50 446.15,162.50 446.68,162.50 447.22,162.50 447.75,162.50 448.29,162.50 448.83,162.50 449.36,162.50 449.90,162.50 450.43,162.50 450.97,162.50 451.50,162.50 452.04,162.50 452.57,162.50 453.11,162.50 453.65,162.50 454.18,162.50 454.72,162.50 455.25,162.50 455.79,162.50 456.32,162.50 456.86,162.50 457.39,162.50 457.93,162.50 458.47,162.50 459.00,162.50 459.54,162.50 460.07,162.50 460.61,162.50 461.14,162.50 461.68,162.50 462.21,162.50 462.75,162.50 463.29,162.50 463.82,162.50 464.36,162.50 464.89,162.50 465.43,162.50 465.96,162.50 466.50,162.50 467.04,162.50 467.57,162.50 468.11,162.50 468.64,162.50 469.18,162.50 469.71,162.50 470.25,162.50 470.78,162.50 471.32,162.50 471.86,162.49 472.39,162.49 472.93,162.49 473.46,162.48 474.00,162.48 474.53,162.47 475.07,162.47 475.60,162.46 476.14,162.44 476.68,162.43 477.21,162.41 477.75,162.39 478.28,162.36 478.82,162.32 479.35,162.27 479.89,162.21 480.42,162.14 480.96,162.06 481.50,161.95 482.03,161.83 482.57,161.67 483.10,161.49 483.64,161.27 484.17,161.01 484.71,160.70 485.25,160.34 485.78,159.91 486.32,159.41 486.85,158.82 487.39,158.15 487.92,157.37 488.46,156.47 488.99,155.45 489.53,154.28 490.07,152.96 490.60,151.47 491.14,149.79 491.67,147.92 492.21,145.84 492.74,143.53 493.28,141.00 493.81,138.21 494.35,135.18 494.89,131.88 495.42,128.33 495.96,124.50 496.49,120.42 497.03,116.08 497.56,111.49 498.10,106.67 498.63,101.64 499.17,96.41 499.71,91.01 500.24,85.47 500.78,79.83 501.31,74.13 501.85,68.40 502.38,62.69 502.92,57.05 503.46,51.53 503.99,46.18 504.53,41.05 505.06,36.18 505.60,31.64 506.13,27.46 506.67,23.70 507.20,20.39 507.74,17.58 508.28,15.28 508.81,13.54 509.35,12.36 509.88,11.77 510.42,11.77 510.95,12.36 511.49,13.54 512.02,15.28 512.56,17.58 513.10,20.39 513.63,23.70 514.17,27.46 514.70,31.64 515.24,36.18 515.77,41.05 516.31,46.18 516.84,51.53 517.38,57.05 517.92,62.69 518.45,68.40 518.99,74.13 519.52,79.83 520.06,85.47 520.59,91.01 521.13,96.41 521.67,101.64 522.20,106.67 522.74,111.49 523.27,116.08 523.81,120.42 524.34,124.50 524.88,128.33 525.41,131.88 525.95,135.18 526.49,138.21 527.02,141.00 527.56,143.53 528.09,145.84 528.63,147.92 529.16,149.79 529.70,151.47 530.23,152.96 530.77,154.28 531.31,155.45 531.84,156.47 532.38,157.37 532.91,158.15 533.45,158.82 533.98,159.41 534.52,159.91 535.05,160.34 535.59,160.70 536.13,161.01 536.66,161.27 537.20,161.49 537.73,161.67 538.27,161.83 538.80,161.95 539.34,162.06 539.88,162.14 540.41,162.21 540.95,162.27 541.48,162.32 542.02,162.36 542.55,162.39 543.09,162.41 543.62,162.43 544.16,162.44 544.70,162.46 545.23,162.47 545.77,162.47 546.30,162.48 546.84,162.48 547.37,162.49 547.91,162.49 548.44,162.49 548.98,162.50 549.52,162.50 550.05,162.50 550.59,162.50 551.12,162.50 551.66,162.50 552.19,162.50 552.73,162.50 553.26,162.50 553.80,162.50 554.34,162.50 554.87,162.50 555.41,162.50 555.94,162.50 556.48,162.50 557.01,162.50 557.55,162.50 558.09,162.50 558.62,162.50 559.16,162.50 559.69,162.50 560.23,162.50 560.76,162.50 561.30,162.50 561.83,162.50 562.37,162.50 562.91,162.50 563.44,162.50 563.98,162.50 564.51,162.50 565.05,162.50 565.58,162.50 566.12,162.50 566.65,162.50 567.19,162.50 567.73,162.50 568.26,162.50 568.80,162.50 569.33,162.50 569.87,162.50 570.40,162.50 570.94,162.50 571.47,162.50 572.01,162.50 572.55,162.50 573.08,162.50 573.62,162.50 574.15,162.50 574.69,162.50 575.22,162.50 575.76,162.50 576.30,162.50 576.83,162.50 577.37,162.50 577.90,162.50 578.44,162.50 578.97,162.50 579.51,162.50 580.04,162.50 580.58,162.50 581.12,162.50 581.65,162.50 582.19,162.50 582.72,162.50 583.26,162.50 583.79,162.50 584.33,162.50 584.86,162.50 585.40,162.50 585.94,162.50 586.47,162.50 587.01,162.50 587.54,162.50 588.08,162.50 588.61,162.50 589.15,162.50 589.68,162.50 590.22,162.50 590.76,162.50 591.29,162.50 591.83,162.50 592.36,162.50 592.90,162.50 593.43,162.50 593.97,162.50 594.51,162.50 595.04,162.50 595.58,162.50 596.11,162.50 596.65,162.50 597.18,162.50 597.72,162.50 598.25,162.50 598.79,162.50 599.33,162.50 599.86,162.50 600.40,162.50 600.93,162.50 601.47,162.50 602.00,162.50 602.54,162.50 603.07,162.50 603.61,162.50 604.15,162.50 604.68,162.50 605.22,162.50 605.75,162.50 606.29,162.50 606.82,162.50 607.36,162.50 607.89,162.50 608.43,162.50 608.97,162.50 609.50,162.50 610.04,162.50 610.57,162.50 611.11,162.50 611.64,162.50 612.18,162.50 612.72,162.50 613.25,162.50 613.79,162.50 614.32,162.50 614.86,162.50 615.39,162.50 615.93,162.50 616.46,162.50 617.00,162.50" fill="none" stroke="#0000ff" stroke-width="1.6"/><path d="M403.3,10.9 V162.5 H617 M616.6,10.9 V162.5" fill="none" stroke="#707070" stroke-width="1"/><path d="M403.3,41.2h2.5 M403.3,71.5h2.5 M403.3,101.7h2.5 M403.3,131.9h2.5 M616.6,41.2h-2.5 M616.6,71.5h-2.5 M616.6,101.7h-2.5 M616.6,131.9h-2.5 M510.15,162.5v-2.5" stroke="#707070" stroke-width="1"/><text x="399.6" y="16.7" font-size="13.7" text-anchor="end" fill="#222" >10</text><text x="399.6" y="46.9" font-size="13.7" text-anchor="end" fill="#222" >8</text><text x="399.6" y="77.1" font-size="13.7" text-anchor="end" fill="#222" >6</text><text x="399.6" y="107.4" font-size="13.7" text-anchor="end" fill="#222" >4</text><text x="399.6" y="137.6" font-size="13.7" text-anchor="end" fill="#222" >2</text><text x="399.6" y="167.9" font-size="13.7" text-anchor="end" fill="#222" >0</text><text x="403.3" y="180.2" font-size="13.7" text-anchor="middle" fill="#222" >-0.5</text><text x="510.1" y="180.2" font-size="13.7" text-anchor="middle" fill="#222" >0</text><text x="617.0" y="180.2" font-size="13.7" text-anchor="middle" fill="#222" >0.5</text><text x="510.0" y="199.5" font-size="14.3" text-anchor="middle" fill="#222" >Misfit (km/s)</text><path d="M529.4,16.2V54.5 M611.6,16.2V54.5" stroke="#777" stroke-width="0.8"/><rect x="531.2" y="19.3" width="19" height="7.3" fill="#000" fill-opacity="0.6" stroke="#262626" stroke-width="0.5"/><rect x="531.2" y="30" width="19" height="7.5" fill="#d95319" fill-opacity="0.6" stroke="#262626" stroke-width="0.5"/><path d="M531.2,46.6H550.3" stroke="#0000ff" stroke-width="1.6"/><text x="552.2" y="25.7" font-size="8.6" text-anchor="start" fill="#333" >initial model</text><text x="552.2" y="37.1" font-size="8.6" text-anchor="start" fill="#333" >final model</text><text x="552.2" y="48.1" font-size="8.6" fill="#333">f<tspan font-size="6.5" dy="3">N</tspan><tspan dy="-3">(</tspan><tspan font-style="italic">&#956;</tspan>=0,<tspan font-style="italic">&#963;</tspan>=0.04)</text><text x="-0.6" y="22.3" font-size="17.0" text-anchor="start" fill="#111" >a)</text><text x="46.8" y="26.6" font-size="12.3" text-anchor="start" fill="#111" >NW</text><text x="266.3" y="28.2" font-size="12.1" text-anchor="start" fill="#111" >SE</text><text x="192.3" y="9.0" font-size="11.9" text-anchor="start" fill="#111" >Highly weathered</text><text x="192.6" y="21.9" font-size="11.9" text-anchor="start" fill="#111" >dyke</text><text x="24.6" y="40.1" font-size="14.8" text-anchor="start" fill="#111" >0</text><text x="1.9" y="98.2" font-size="14.8" text-anchor="start" fill="#111" >15 m</text><path d="M38.3,31.8 H42.5 V95 H37.3" fill="none" stroke="#111" stroke-width="1.5"/><path d="M197.3,34.5 V30.5 H265.9 V34.2 M231.9,30.5 V26.5" fill="none" stroke="#222" stroke-width="1"/><path d="M282.2,39.7 H285.9 V57.4 H282.2 M285.9,48.7 H289.5" fill="none" stroke="#333" stroke-width="1"/><path d="M282.2,59.3 H285.9 V68.8 H282.2 M285.9,64.4 H289.5" fill="none" stroke="#aaa" stroke-width="1"/><path d="M282.2,72.3 H285.9 V91.0 H282.2 M285.9,81.8 H289.5" fill="none" stroke="#333" stroke-width="1"/><path d="M282.2,92.8 H285.9 V163.3 H282.2 M285.9,127.7 H289.5" fill="none" stroke="#333" stroke-width="1"/><text x="292.3" y="53.6" font-size="11.8" text-anchor="start" fill="#111" >Weathered Basalt</text><text x="295.4" y="69.3" font-size="11.8" text-anchor="start" fill="#111" >Flowtop Breccia</text><text x="295.2" y="86.4" font-size="12.1" text-anchor="start" fill="#111" >VB (Highly</text><text x="294.9" y="100.3" font-size="12.1" text-anchor="start" fill="#111" >weathered)</text><text x="299.6" y="131.2" font-size="11.9" text-anchor="start" fill="#111" >Massive Basalt</text><path d="M48.9,163.8 L88.4,229.8 M281,163.8 L216.3,229.8" stroke="#111" stroke-width="1.1" fill="none"/><defs><mask id="cm"><rect x="0" y="0" width="685" height="434" fill="#fff"/><rect x="230.0" y="229.8" width="24" height="8" fill="#000" transform="rotate(0 242.0 233.8)"/><rect x="229.5" y="271.2" width="24" height="8" fill="#000" transform="rotate(0 241.5 275.2)"/><rect x="224.7" y="290.8" width="22" height="8" fill="#000" transform="rotate(9 235.7 294.8)"/><rect x="51.5" y="246.6" width="22" height="8" fill="#000" transform="rotate(-22 62.5 250.6)"/><rect x="251.0" y="321.0" width="22" height="7" fill="#000" transform="rotate(88 262.0 324.5)"/><rect x="140.8" y="356.0" width="22" height="8" fill="#000" transform="rotate(-72 151.8 360.0)"/><rect x="182.4" y="342.5" width="22" height="8" fill="#000" transform="rotate(-66 193.4 346.5)"/><rect x="239.4" y="383.0" width="22" height="8" fill="#000" transform="rotate(82 250.4 387.0)"/></mask><clipPath id="hbc"><rect x="49.5" y="229.5" width="214.5" height="178.5"/></clipPath></defs><g clip-path="url(#hbc)"><g fill="none" stroke="#f8f5ee" stroke-width="0.85" stroke-dasharray="4.4 2.9" opacity="0.95" mask="url(#cm)"><path d="M124.5,229.5 L126.3,229.8 L128.3,230.1 L130.3,230.4 L131.3,230.5 L133.3,230.8 L135.3,230.9 L137.3,230.9 L139.3,230.9 L141.3,230.9 L143.3,230.9 L145.3,230.9 L147.3,230.8 L149.3,230.8 L151.3,230.8 L153.3,230.8 L155.3,230.8 L157.2,230.8 L159.2,230.9 L161.2,230.9 L163.2,231.0 L165.2,231.1 L167.2,231.1 L169.2,231.2 L171.2,231.2 L173.2,231.2 L175.2,231.2 L177.2,231.2 L179.2,231.2 L181.2,231.2 L183.2,231.2 L185.2,231.2 L187.2,231.2 L189.2,231.2 L191.2,231.2 L193.2,231.2 L195.2,231.3 L197.2,231.3 L199.2,231.4 L201.1,231.5 L202.2,231.5 L204.1,231.6 L206.1,231.6 L208.1,231.7 L210.1,231.8 L212.1,232.0 L214.1,232.1 L216.1,232.2 L218.1,232.4 L219.5,232.5 L221.1,232.6 L223.1,232.8 L225.1,232.9 L227.1,233.1 L229.1,233.2 L231.1,233.4 L233.1,233.4 L235.1,233.4 L237.1,233.4 L239.1,233.4 L241.1,233.4 L243.0,233.4 L245.0,233.4 L247.0,233.4 L249.0,233.4 L251.0,233.3 L253.0,233.3 L255.0,233.2 L257.0,233.2 L259.0,233.1 L261.0,233.1 L263.0,233.1"/><path d="M93.0,229.5 L94.4,230.5 L95.4,231.1 L96.4,231.9 L97.4,232.6 L98.4,233.5 L99.6,234.5 L100.8,235.5 L102.1,236.5 L103.4,237.5 L104.4,238.4 L105.4,239.4 L106.2,240.5 L106.7,241.5 L106.4,242.6 L105.4,243.6 L104.2,244.5 L102.7,245.5 L101.4,246.2 L100.4,246.8 L99.4,247.4 L97.6,248.4 L96.4,249.1 L95.4,249.6 L93.4,250.4 L92.4,250.7 L90.4,251.1 L89.0,251.4 L87.4,251.8 L85.4,252.1 L83.8,252.4 L82.4,252.8 L80.5,253.4 L79.4,254.0 L78.4,254.4 L76.4,255.4 L75.4,255.9 L74.4,256.4 L72.4,257.2 L71.4,257.5 L69.5,257.7 L67.5,257.8 L65.5,257.9 L63.5,258.0 L61.5,258.2 L60.4,258.4 L59.0,259.4 L58.1,260.4 L57.3,261.4 L56.5,262.9 L56.0,264.4 L56.5,266.2 L57.5,267.4 L58.5,268.3 L59.5,269.0 L60.5,269.5 L62.5,270.2 L63.5,270.5 L65.5,271.0 L66.6,271.4 L68.5,272.0 L69.6,272.4 L71.4,273.0 L73.4,273.4 L74.4,273.5 L76.4,273.6 L78.4,273.8 L80.4,274.0 L82.4,274.1 L84.4,274.0 L86.4,273.9 L88.4,273.8 L90.4,273.7 L92.4,273.6 L94.4,273.6 L96.4,273.4 L97.4,273.3 L99.4,273.1 L101.4,272.9 L103.4,272.6 L105.4,272.4 L106.4,272.3 L108.4,272.2 L110.4,272.2 L112.4,272.3 L114.3,272.3 L116.3,272.3 L118.3,272.3 L120.3,272.3 L121.6,272.4 L123.3,272.5 L125.3,272.6 L127.3,272.7 L129.3,272.8 L131.3,273.0 L133.3,273.1 L135.3,273.3 L136.4,273.4 L138.3,273.5 L140.3,273.7 L142.3,273.9 L144.3,274.0 L146.3,274.2 L147.9,274.4 L149.3,274.4 L151.3,274.5 L153.3,274.5 L155.3,274.6 L157.2,274.6 L159.2,274.6 L161.2,274.7 L163.2,274.7 L165.2,274.7 L167.2,274.7 L169.2,274.8 L171.2,274.8 L173.2,274.8 L175.2,274.8 L177.2,274.8 L179.2,274.9 L181.2,274.9 L183.2,274.9 L185.2,274.8 L187.2,274.7 L189.2,274.6 L191.2,274.5 L193.2,274.5 L195.2,274.4 L197.2,274.4 L199.2,274.4 L201.1,274.4 L203.1,274.4 L205.1,274.4 L207.1,274.4 L209.1,274.4 L211.1,274.4 L213.1,274.4 L215.1,274.5 L217.1,274.5 L219.1,274.5 L221.1,274.4 L223.1,274.4 L224.1,274.4 L226.1,274.3 L228.1,274.2 L230.1,274.2 L232.1,274.1 L234.1,273.9 L236.1,273.7 L238.1,273.5 L239.1,273.4 L241.1,273.1 L243.0,272.9 L245.0,272.7 L247.0,272.6 L249.0,272.6 L251.0,272.5 L253.0,272.5 L255.0,272.5 L257.0,272.4 L258.0,272.3 L260.0,272.2 L262.0,272.1 L264.0,272.0"/><path d="M63.2,229.5 L64.5,229.9 L66.3,230.5 L67.5,230.9 L69.0,231.5 L70.5,232.2 L71.4,232.7 L73.0,233.5 L74.4,234.2 L75.4,234.7 L76.8,235.5 L78.1,236.5 L79.1,237.5 L79.9,238.5 L80.4,240.0 L80.4,241.0 L80.1,242.5 L79.4,243.8 L78.4,245.0 L77.4,245.8 L76.4,246.5 L74.6,247.4 L73.4,248.0 L72.2,248.4 L70.5,249.0 L69.0,249.4 L67.5,249.9 L65.5,250.3 L64.5,250.6 L62.5,251.0 L60.5,251.4 L59.5,251.7 L57.5,252.2 L56.5,252.5 L54.5,253.2 L53.5,253.5 L51.5,254.3 L50.5,254.6"/><path d="M49.5,276.3 L50.5,276.5 L52.5,277.0 L54.0,277.4 L55.5,277.7 L57.5,278.1 L58.6,278.4 L60.5,278.8 L62.2,279.4 L63.5,279.8 L65.2,280.4 L66.5,280.8 L68.4,281.4 L69.5,281.7 L71.4,282.2 L72.4,282.4 L74.4,282.7 L76.4,282.9 L78.4,283.1 L80.4,283.3 L81.4,283.4 L83.4,283.4 L84.4,283.3 L86.4,283.3 L88.4,283.2 L90.4,283.1 L92.4,283.0 L94.4,282.9 L96.4,282.8 L98.4,282.7 L100.4,282.6 L102.4,282.5 L104.4,282.5 L106.4,282.4 L108.4,282.4 L110.4,282.4 L112.4,282.4 L114.3,282.4 L116.3,282.4 L118.3,282.4 L120.3,282.4 L122.3,282.5 L124.3,282.6 L126.3,282.7 L128.3,282.9 L130.3,283.0 L132.3,283.1 L134.3,283.2 L136.0,283.3 L137.3,283.4 L139.3,283.6 L141.3,283.7 L143.3,283.8 L145.3,283.9 L147.3,284.1 L149.3,284.2 L150.7,284.3 L152.3,284.5 L154.3,284.7 L156.3,284.8 L158.2,285.0 L160.2,285.1 L162.2,285.2 L164.2,285.2 L166.2,285.3 L167.2,285.3 L169.2,285.4 L171.2,285.5 L173.2,285.6 L175.2,285.7 L177.2,285.8 L179.2,285.9 L181.2,286.0 L183.2,286.1 L185.2,286.3 L186.2,286.4 L188.2,286.5 L190.2,286.7 L192.2,286.9 L194.2,287.1 L196.2,287.3 L197.2,287.4 L199.2,287.7 L201.1,287.9 L203.1,288.2 L204.1,288.4 L206.1,288.8 L208.1,289.2 L209.1,289.5 L211.1,289.9 L213.0,290.3 L214.1,290.6 L216.1,291.0 L217.4,291.3 L219.1,291.8 L221.1,292.1 L222.9,292.3 L224.1,292.5 L226.1,292.7 L228.1,292.9 L230.1,293.1 L232.1,293.2 L234.1,293.2 L236.1,293.2 L238.1,293.2 L240.1,293.2 L242.1,293.2 L244.0,293.1 L246.0,292.7 L247.0,292.3 L249.0,291.5 L250.0,291.1 L252.0,290.4 L253.0,290.0 L255.0,289.4 L256.0,289.1 L258.0,288.5 L259.0,288.2 L261.0,287.8 L262.8,287.3 L264.0,287.2"/><path d="M240.2,408.0 L241.1,406.5 L242.1,405.3 L243.0,404.1 L244.0,403.0 L244.8,402.0 L245.4,401.0 L246.0,399.8 L246.8,398.0 L247.2,397.0 L247.8,395.0 L248.1,394.0 L248.7,392.0 L249.0,390.1 L249.1,389.1 L249.1,387.1 L249.1,385.1 L249.0,383.9 L248.9,382.1 L248.8,380.1 L248.7,378.1 L248.5,376.1 L248.4,374.1 L248.3,372.1 L248.2,370.1 L248.0,369.1 L247.7,367.1 L247.2,365.1 L247.0,364.1 L246.5,362.1 L246.1,360.1 L245.8,359.1 L245.3,357.1 L245.0,356.1 L244.0,354.6 L243.0,353.9 L241.1,353.2 L240.1,352.9 L238.1,352.2 L237.1,351.8 L235.7,351.2 L234.1,350.3 L233.1,349.9 L231.8,350.2 L230.8,351.2 L230.1,352.2 L229.1,353.7 L228.2,355.1 L227.5,356.1 L226.9,357.1 L226.1,358.4 L225.1,359.9 L224.2,361.1 L223.5,362.1 L222.8,363.1 L222.1,364.2 L221.1,365.7 L220.4,367.1 L220.1,368.1 L219.8,370.1 L219.5,372.1 L219.2,374.1 L219.1,375.1 L218.8,377.1 L218.5,379.1 L218.3,381.1 L218.1,382.3 L217.9,384.1 L217.9,386.1 L218.1,387.9 L218.3,389.1 L218.6,391.0 L218.9,393.0 L219.1,394.0 L219.6,396.0 L220.1,397.7 L220.7,399.0 L221.3,400.0 L222.1,401.3 L223.1,402.9 L223.7,404.0 L224.3,405.0 L225.1,406.4 L225.8,408.0"/><path d="M49.5,231.7 L51.5,232.1 L53.2,232.5 L54.5,232.9 L56.4,233.5 L57.5,233.9 L59.0,234.5 L60.5,235.2 L61.5,235.8 L62.5,236.5 L63.5,237.7 L64.5,239.0 L65.2,240.5 L64.7,242.5 L63.5,243.5 L62.5,244.0 L61.5,244.5 L59.5,245.4 L58.5,245.9 L57.0,246.5 L55.5,247.0 L54.1,247.4 L52.5,247.9 L50.5,248.4 L49.5,248.5"/><path d="M49.5,287.3 L51.5,287.5 L53.5,287.7 L55.5,288.0 L57.5,288.2 L58.8,288.3 L60.5,288.6 L62.5,289.2 L63.5,289.4 L65.5,290.0 L67.0,290.3 L68.5,290.7 L70.5,291.1 L71.4,291.3 L73.4,291.6 L75.4,291.8 L77.4,291.9 L79.4,292.1 L81.4,292.2 L83.4,292.3 L85.4,292.3 L87.4,292.3 L89.4,292.2 L91.4,292.2 L93.4,292.2 L95.4,292.2 L97.4,292.2 L99.4,292.2 L101.4,292.2 L103.4,292.2 L105.4,292.2 L107.4,292.3 L109.4,292.3 L111.4,292.3 L112.7,292.3 L114.3,292.3 L116.3,292.4 L118.3,292.4 L120.3,292.5 L122.3,292.6 L124.3,292.7 L126.3,292.8 L128.3,292.9 L130.3,293.1 L132.3,293.2 L134.3,293.3 L135.3,293.4 L137.3,293.5 L139.3,293.7 L141.3,293.8 L143.3,294.0 L145.3,294.2 L147.3,294.3 L148.3,294.4 L150.3,294.5 L152.3,294.7 L154.3,294.8 L156.3,294.9 L158.2,295.0 L160.2,295.1 L162.2,295.1 L164.2,295.2 L166.2,295.3 L167.2,295.3 L169.2,295.4 L171.2,295.5 L173.2,295.6 L175.2,295.7 L177.2,295.8 L179.2,295.9 L181.2,296.0 L183.2,296.1 L184.4,296.3 L186.2,296.7 L188.2,297.1 L189.8,297.3 L191.2,297.6 L193.2,298.0 L194.2,298.5 L195.1,300.3 L195.4,301.3 L195.9,303.3 L196.2,304.6 L196.5,306.3 L196.9,308.3 L197.2,309.3 L197.5,311.3 L197.7,313.3 L197.8,315.3 L197.8,317.3 L197.8,319.2 L197.8,321.2 L197.7,323.2 L197.7,325.2 L197.6,327.2 L197.6,329.2 L197.3,331.2 L197.1,332.2 L196.8,334.2 L196.4,336.2 L196.2,337.4 L195.8,339.2 L195.4,341.2 L195.2,342.4 L194.7,344.2 L194.2,345.5 L193.2,347.1 L192.4,348.2 L191.7,349.2 L191.0,350.2 L190.2,351.6 L189.3,353.2 L188.8,354.2 L188.2,355.5 L187.5,357.1 L187.1,358.1 L186.4,360.1 L186.1,361.1 L185.5,363.1 L185.2,364.2 L184.7,366.1 L184.2,367.9 L183.9,369.1 L183.4,371.1 L183.1,372.1 L182.5,374.1 L182.2,375.2 L181.6,377.1 L181.2,378.6 L180.8,380.1 L180.2,382.0 L179.9,383.1 L179.4,385.1 L179.1,386.1 L178.6,388.1 L178.3,390.1 L178.6,392.0 L179.2,394.0 L179.5,395.0 L180.2,397.0 L180.6,398.0 L181.2,399.6 L181.8,401.0 L182.2,402.0 L182.9,404.0 L183.2,405.1 L183.6,407.0"/><path d="M264.0,333.9 L263.0,333.2 L261.9,332.2 L260.9,331.2 L260.0,330.1 L259.0,328.4 L258.6,327.2 L258.1,325.2 L258.0,323.9 L258.0,322.2 L257.9,320.2 L257.9,318.3 L257.9,316.3 L258.1,315.3 L259.0,313.5 L259.9,312.3 L260.7,311.3 L261.6,310.3 L262.8,309.3 L264.0,308.6"/><path d="M49.5,299.1 L51.4,299.3 L52.5,299.5 L54.5,299.7 L56.5,299.8 L58.5,299.9 L60.5,300.2 L61.5,300.5 L63.5,301.1 L64.5,301.4 L66.5,302.0 L67.8,302.3 L69.5,302.7 L71.4,303.1 L72.4,303.3 L74.4,303.7 L76.4,304.1 L77.6,304.3 L79.4,304.6 L81.4,305.0 L83.4,305.1 L85.4,305.1 L87.4,305.1 L89.4,305.1 L91.4,305.1 L93.4,305.1 L95.4,305.1 L97.4,305.0 L99.4,305.0 L101.4,304.9 L103.4,304.8 L105.4,304.8 L107.4,304.7 L109.4,304.8 L111.4,304.8 L113.4,304.9 L115.3,304.9 L117.3,305.0 L119.3,305.0 L121.3,305.1 L123.3,305.3 L124.3,305.3 L126.3,305.5 L128.3,305.6 L130.3,305.8 L132.3,306.0 L134.3,306.2 L135.3,306.4 L137.3,307.0 L138.3,307.4 L140.3,308.1 L141.3,308.5 L143.3,309.1 L144.3,309.5 L146.3,310.3 L147.3,310.8 L148.3,311.4 L149.3,312.3 L150.3,313.4 L151.3,314.5 L152.3,315.6 L153.3,316.9 L154.2,318.3 L154.8,319.2 L155.3,320.2 L156.3,322.2 L156.7,323.2 L157.2,325.2 L156.9,327.2 L156.4,329.2 L156.1,330.2 L155.6,332.2 L155.3,333.9 L155.0,335.2 L154.7,337.2 L154.3,339.2 L154.2,340.2 L153.7,342.2 L153.3,344.2 L153.1,345.2 L152.7,347.2 L152.4,349.2 L152.2,350.2 L151.9,352.2 L151.5,354.2 L151.3,356.0 L151.1,357.1 L150.8,359.1 L150.6,361.1 L150.3,363.1 L150.1,364.1 L149.8,366.1 L149.5,368.1 L149.3,370.1 L149.1,371.1 L148.8,373.1 L148.6,375.1 L148.3,377.1 L148.1,378.1 L147.9,380.1 L147.9,382.1 L147.9,384.1 L147.8,386.1 L147.8,388.1 L147.8,390.1 L147.8,392.0 L147.8,394.0 L147.8,396.0 L147.8,398.0 L147.8,400.0 L147.8,402.0 L147.8,404.0 L147.8,406.0 L147.8,408.0"/><path d="M49.5,403.0 L50.5,401.5 L51.1,400.0 L51.5,399.0 L52.2,397.0 L52.5,396.0 L53.0,394.0 L53.4,392.0 L53.6,391.0 L53.7,389.1 L53.6,387.1 L53.5,385.3 L53.4,384.1 L53.3,382.1 L53.2,380.1 L53.1,378.1 L52.9,376.1 L52.7,374.1 L52.5,373.0 L52.1,371.1 L51.7,369.1 L51.5,368.1 L51.0,366.1 L50.5,364.3 L50.1,363.1 L49.5,361.6"/></g><text x="242.0" y="237.4" font-size="10" text-anchor="middle" fill="#fff" fill-opacity="0.92" transform="rotate(0 242.0 233.8)">0.50</text><text x="241.5" y="278.8" font-size="10" text-anchor="middle" fill="#fff" fill-opacity="0.92" transform="rotate(0 241.5 275.2)">0.75</text><text x="235.7" y="298.4" font-size="10" text-anchor="middle" fill="#fff" fill-opacity="0.92" transform="rotate(9 235.7 294.8)">1.00</text><text x="62.5" y="254.2" font-size="10" text-anchor="middle" fill="#fff" fill-opacity="0.92" transform="rotate(-22 62.5 250.6)">1.00</text><text x="262.0" y="328.1" font-size="10" text-anchor="middle" fill="#fff" fill-opacity="0.92" transform="rotate(88 262.0 324.5)">1.25</text><text x="151.8" y="363.6" font-size="10" text-anchor="middle" fill="#fff" fill-opacity="0.92" transform="rotate(-72 151.8 360.0)">1.50</text><text x="193.4" y="350.1" font-size="10" text-anchor="middle" fill="#fff" fill-opacity="0.92" transform="rotate(-66 193.4 346.5)">1.25</text><text x="250.4" y="390.6" font-size="10" text-anchor="middle" fill="#fff" fill-opacity="0.92" transform="rotate(82 250.4 387.0)">1.00</text></g><path d="M88.4,229.8 V342.7 H216.3 V229.8" fill="none" stroke="#111" stroke-width="1.3"/><path d="M88.4,229.8 H216.3" stroke="#555" stroke-width="1"/><text x="0.8" y="226.1" font-size="17.0" text-anchor="start" fill="#111" >b)</text><text x="44.6" y="236.0" font-size="13.1" text-anchor="end" fill="#222" >0</text><text x="44.6" y="271.3" font-size="13.1" text-anchor="end" fill="#222" >10</text><text x="44.6" y="306.7" font-size="13.1" text-anchor="end" fill="#222" >20</text><text x="44.6" y="343.2" font-size="13.1" text-anchor="end" fill="#222" >30</text><text x="44.6" y="379.5" font-size="13.1" text-anchor="end" fill="#222" >40</text><text x="44.6" y="413.7" font-size="13.1" text-anchor="end" fill="#222" >50</text><text transform="translate(23.4,318.8) rotate(-90)" font-size="15" text-anchor="middle" fill="#222">Depth (m)</text><path d="M290.5,251.2 h2" stroke="#666" stroke-width="0.7"/><text x="294.6" y="255.7" font-size="12.5" text-anchor="start" fill="#222" >2.0</text><path d="M290.5,293.7 h2" stroke="#666" stroke-width="0.7"/><text x="294.6" y="298.2" font-size="12.5" text-anchor="start" fill="#222" >1.5</text><path d="M290.5,336.2 h2" stroke="#666" stroke-width="0.7"/><text x="294.6" y="340.7" font-size="12.5" text-anchor="start" fill="#222" >1.0</text><path d="M290.5,378.7 h2" stroke="#666" stroke-width="0.7"/><text x="294.6" y="383.2" font-size="12.5" text-anchor="start" fill="#222" >0.5</text><path d="M290.5,404.2 h2" stroke="#666" stroke-width="0.7"/><text x="294.6" y="408.7" font-size="12.5" text-anchor="start" fill="#222" >0.2</text><rect x="278.3" y="229.5" width="12.2" height="178.8" fill="none" stroke="#999" stroke-width="0.5"/><path d="M201,420 V417.3 H249.7 V420" fill="none" stroke="#111" stroke-width="2"/><text x="224.5" y="432.5" font-size="16.0" text-anchor="middle" fill="#111" >10 m</text><text x="271.3" y="428.9" font-size="14" fill="#222">V<tspan font-size="9" dy="2.2">s</tspan><tspan dy="-2.2"> (Km/s)</tspan></text><text x="363.2" y="21.3" font-size="17.0" text-anchor="start" fill="#111" >c)</text><text x="362.2" y="227.7" font-size="17.0" text-anchor="start" fill="#111" >d)</text><text x="397.8" y="234.0" font-size="13.1" text-anchor="end" fill="#222" >0</text><text x="397.8" y="270.3" font-size="13.1" text-anchor="end" fill="#222" >10</text><path d="M399,265.6 h3.2" stroke="#111" stroke-width="1.6"/><text x="397.8" y="306.2" font-size="13.1" text-anchor="end" fill="#222" >20</text><path d="M399,301.5 h3.2" stroke="#111" stroke-width="1.6"/><text x="397.8" y="342.5" font-size="13.1" text-anchor="end" fill="#222" >30</text><path d="M399,337.8 h3.2" stroke="#111" stroke-width="1.6"/><text x="397.8" y="377.5" font-size="13.1" text-anchor="end" fill="#222" >40</text><path d="M399,372.8 h3.2" stroke="#111" stroke-width="1.6"/><text x="397.8" y="413.2" font-size="13.1" text-anchor="end" fill="#222" >50</text><text transform="translate(377.3,318.8) rotate(-90)" font-size="15" text-anchor="middle" fill="#222">Depth (m)</text><path d="M639.6,230.2 h2.5" stroke="#444" stroke-width="0.8"/><text x="642.3" y="234.7" font-size="12.3" text-anchor="start" fill="#222" >0.07</text><path d="M639.6,260.0 h2.5" stroke="#444" stroke-width="0.8"/><text x="642.3" y="264.5" font-size="12.3" text-anchor="start" fill="#222" >0.06</text><path d="M639.6,289.7 h2.5" stroke="#444" stroke-width="0.8"/><text x="642.3" y="294.2" font-size="12.3" text-anchor="start" fill="#222" >0.05</text><path d="M639.6,319.5 h2.5" stroke="#444" stroke-width="0.8"/><text x="642.3" y="324.0" font-size="12.3" text-anchor="start" fill="#222" >0.04</text><path d="M639.6,349.3 h2.5" stroke="#444" stroke-width="0.8"/><text x="642.3" y="353.8" font-size="12.3" text-anchor="start" fill="#222" >0.03</text><path d="M639.6,379.0 h2.5" stroke="#444" stroke-width="0.8"/><text x="642.3" y="383.5" font-size="12.3" text-anchor="start" fill="#222" >0.02</text><path d="M639.6,408.8 h2.5" stroke="#444" stroke-width="0.8"/><text x="642.3" y="413.3" font-size="12.3" text-anchor="start" fill="#222" >0.01</text><rect x="627.6" y="228.7" width="12" height="180" fill="none" stroke="#999" stroke-width="0.5"/><path d="M561.2,420 V417 H610.5 V420" fill="none" stroke="#111" stroke-width="2"/><text x="585.5" y="432.5" font-size="16.0" text-anchor="middle" fill="#111" >10 m</text><text x="627.4" y="428.9" font-size="14" fill="#222">V<tspan font-size="9" dy="2.2">s</tspan><tspan dy="-2.2"> (Km/s)</tspan></text></svg></body></html>
